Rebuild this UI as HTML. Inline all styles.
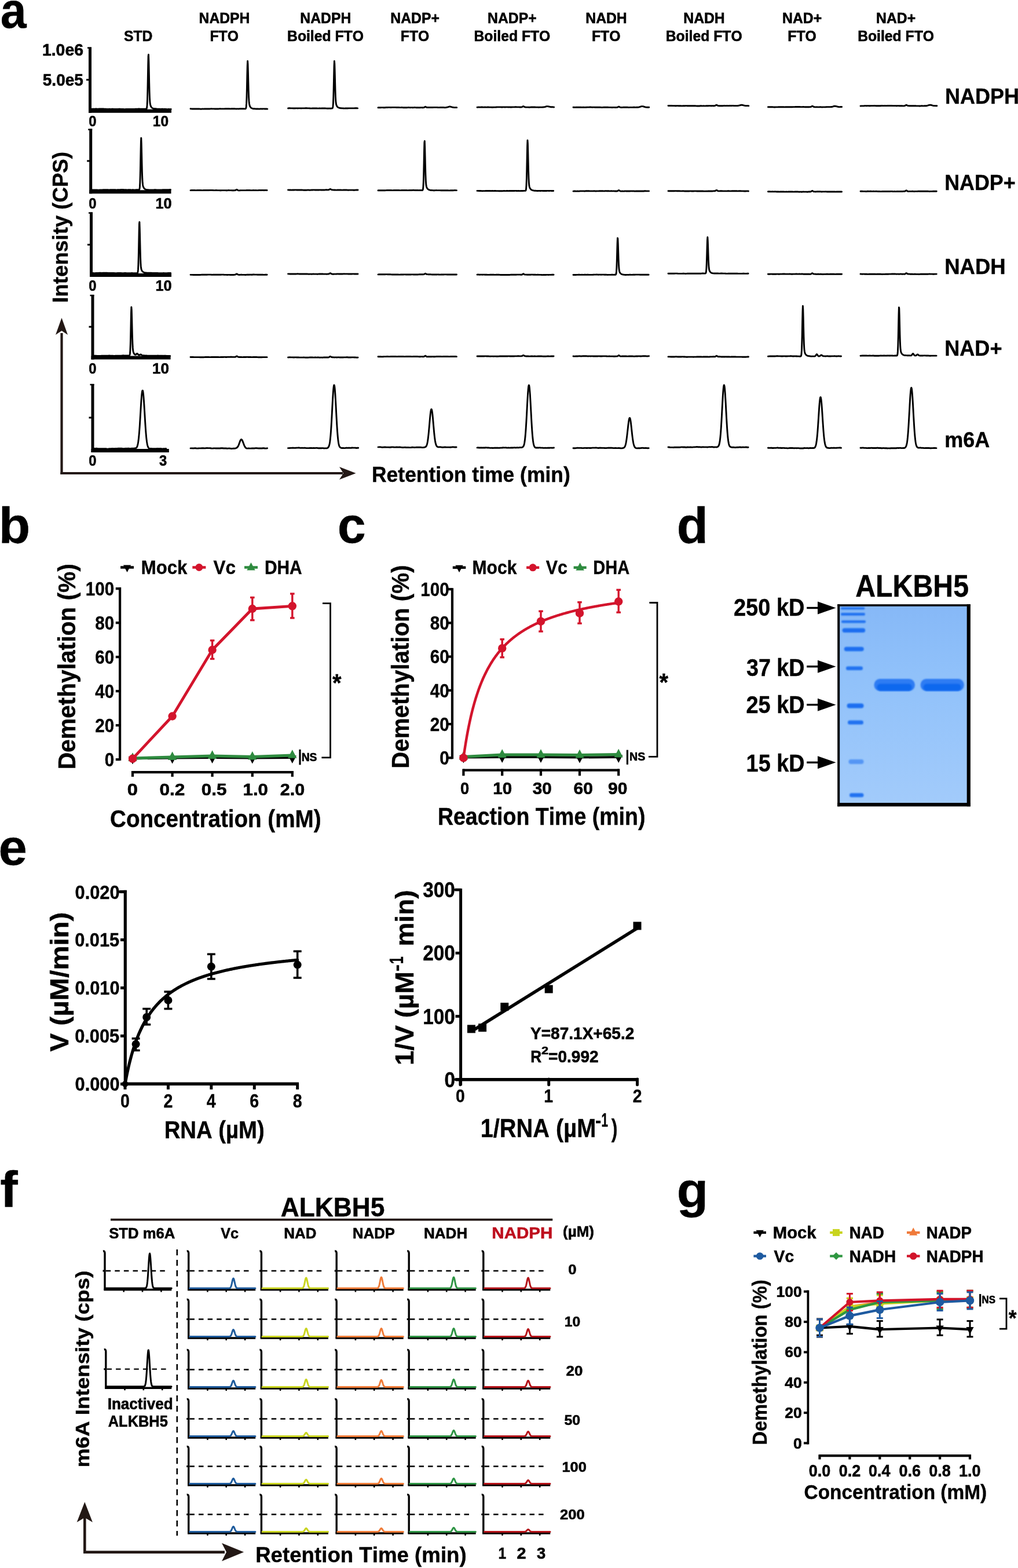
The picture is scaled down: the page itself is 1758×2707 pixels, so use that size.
<!DOCTYPE html>
<html><head><meta charset="utf-8"><style>
html,body{margin:0;padding:0;background:#fff;overflow:hidden;}
svg{display:block;}
text{font-family:"Liberation Sans",Arial,sans-serif;font-weight:bold;font-kerning:none;}
</style></head><body>
<svg width="1758" height="2707" viewBox="0 0 1758 2707">
<rect width="1758" height="2707" fill="#fff"/>
<text x="0.84" y="47.60" font-size="88" textLength="44.85" lengthAdjust="spacingAndGlyphs" fill="#000" stroke="#000" stroke-width="0.4">a</text>
<text x="213.93" y="70.50" font-size="26.6" textLength="49.48" lengthAdjust="spacingAndGlyphs" fill="#000" stroke="#000" stroke-width="0.6">STD</text>
<text x="343.53" y="40.00" font-size="26.6" textLength="87.96" lengthAdjust="spacingAndGlyphs" fill="#000" stroke="#000" stroke-width="0.6">NADPH</text>
<text x="362.46" y="70.50" font-size="26.6" textLength="49.46" lengthAdjust="spacingAndGlyphs" fill="#000" stroke="#000" stroke-width="0.6">FTO</text>
<text x="518.33" y="40.00" font-size="26.6" textLength="87.96" lengthAdjust="spacingAndGlyphs" fill="#000" stroke="#000" stroke-width="0.6">NADPH</text>
<text x="496.03" y="70.50" font-size="26.6" textLength="131.93" lengthAdjust="spacingAndGlyphs" fill="#000" stroke="#000" stroke-width="0.6">Boiled FTO</text>
<text x="674.30" y="40.00" font-size="26.6" textLength="84.54" lengthAdjust="spacingAndGlyphs" fill="#000" stroke="#000" stroke-width="0.6">NADP+</text>
<text x="691.86" y="70.50" font-size="26.6" textLength="49.46" lengthAdjust="spacingAndGlyphs" fill="#000" stroke="#000" stroke-width="0.6">FTO</text>
<text x="842.10" y="40.00" font-size="26.6" textLength="84.54" lengthAdjust="spacingAndGlyphs" fill="#000" stroke="#000" stroke-width="0.6">NADP+</text>
<text x="818.43" y="70.50" font-size="26.6" textLength="131.93" lengthAdjust="spacingAndGlyphs" fill="#000" stroke="#000" stroke-width="0.6">Boiled FTO</text>
<text x="1011.28" y="40.00" font-size="26.6" textLength="71.46" lengthAdjust="spacingAndGlyphs" fill="#000" stroke="#000" stroke-width="0.6">NADH</text>
<text x="1021.96" y="70.50" font-size="26.6" textLength="49.46" lengthAdjust="spacingAndGlyphs" fill="#000" stroke="#000" stroke-width="0.6">FTO</text>
<text x="1180.28" y="40.00" font-size="26.6" textLength="71.46" lengthAdjust="spacingAndGlyphs" fill="#000" stroke="#000" stroke-width="0.6">NADH</text>
<text x="1149.73" y="70.50" font-size="26.6" textLength="131.93" lengthAdjust="spacingAndGlyphs" fill="#000" stroke="#000" stroke-width="0.6">Boiled FTO</text>
<text x="1351.05" y="40.00" font-size="26.6" textLength="68.04" lengthAdjust="spacingAndGlyphs" fill="#000" stroke="#000" stroke-width="0.6">NAD+</text>
<text x="1360.36" y="70.50" font-size="26.6" textLength="49.46" lengthAdjust="spacingAndGlyphs" fill="#000" stroke="#000" stroke-width="0.6">FTO</text>
<text x="1513.05" y="40.00" font-size="26.6" textLength="68.04" lengthAdjust="spacingAndGlyphs" fill="#000" stroke="#000" stroke-width="0.6">NAD+</text>
<text x="1481.13" y="70.50" font-size="26.6" textLength="131.93" lengthAdjust="spacingAndGlyphs" fill="#000" stroke="#000" stroke-width="0.6">Boiled FTO</text>
<text x="1631.89" y="179.00" font-size="37.6" textLength="128.04" lengthAdjust="spacingAndGlyphs" fill="#000" stroke="#000" stroke-width="0.4">NADPH</text>
<text x="1631.20" y="327.50" font-size="37.6" textLength="122.55" lengthAdjust="spacingAndGlyphs" fill="#000" stroke="#000" stroke-width="0.4">NADP+</text>
<text x="1631.16" y="472.70" font-size="37.6" textLength="105.50" lengthAdjust="spacingAndGlyphs" fill="#000" stroke="#000" stroke-width="0.4">NADH</text>
<text x="1631.19" y="614.00" font-size="37.6" textLength="99.28" lengthAdjust="spacingAndGlyphs" fill="#000" stroke="#000" stroke-width="0.4">NAD+</text>
<text x="1631.23" y="772.00" font-size="37.6" textLength="78.02" lengthAdjust="spacingAndGlyphs" fill="#000" stroke="#000" stroke-width="0.4">m6A</text>
<line x1="155.50" y1="81.60" x2="155.50" y2="194.80" stroke="#000" stroke-width="5.0" stroke-linecap="butt" />
<line x1="151.00" y1="82.60" x2="158.00" y2="82.60" stroke="#000" stroke-width="2.5" stroke-linecap="butt" />
<line x1="149.00" y1="137.80" x2="155.50" y2="137.80" stroke="#000" stroke-width="3" stroke-linecap="butt" />
<line x1="153.00" y1="191.80" x2="296.00" y2="191.80" stroke="#000" stroke-width="6.0" stroke-linecap="butt" />
<polyline points="157.50,188.36 159.00,188.22 160.50,188.07 162.00,188.09 163.50,188.14 165.00,188.06 166.50,188.03 168.00,188.15 169.50,188.18 171.00,188.05 172.50,188.00 174.00,188.06 175.50,188.04 177.00,187.95 178.50,188.02 180.00,188.20 181.50,188.26 183.00,188.25 184.50,188.36 186.00,188.47 187.50,188.40 189.00,188.29 190.50,188.33 192.00,188.37 193.50,188.29 195.00,188.28 196.50,188.41 198.00,188.48 199.50,188.40 201.00,188.36 202.50,188.43 204.00,188.37 205.50,188.23 207.00,188.23 208.50,188.36 210.00,188.38 211.50,188.37 213.00,188.50 214.50,188.64 216.00,188.60 217.50,188.52 219.00,188.56 220.50,188.57 222.00,188.45 223.50,188.38 225.00,188.48 226.50,188.53 228.00,188.44 229.50,188.42 231.00,188.48 232.50,188.41 232.90,188.36 233.30,188.30 233.70,188.25 234.10,188.20 234.50,188.17 234.90,188.15 235.30,188.14 235.70,188.14 236.10,188.15 236.50,188.16 236.90,188.17 237.30,188.16 237.70,188.15 238.10,188.13 238.50,188.10 238.90,188.06 239.30,188.04 239.70,188.02 240.10,188.01 240.50,188.02 240.90,188.04 241.30,188.08 241.70,188.12 242.10,188.17 242.50,188.20 242.90,188.23 243.30,188.25 243.70,188.25 244.10,188.24 244.50,188.22 244.90,188.20 245.30,188.18 245.70,188.17 246.10,188.17 246.50,188.18 246.90,188.20 247.30,188.23 247.70,188.25 248.10,188.27 248.50,188.28 248.90,188.28 249.30,188.26 249.70,188.23 250.10,188.19 250.50,188.15 250.90,188.11 251.30,188.09 251.70,188.07 252.10,188.07 252.50,188.05 252.90,187.91 253.30,187.37 253.70,185.69 254.10,181.44 254.50,172.55 254.90,157.28 255.30,136.17 255.70,113.61 256.10,97.07 256.50,94.29 256.90,105.94 257.30,124.06 257.70,143.18 258.10,158.89 258.50,169.55 258.90,175.85 259.30,179.32 259.70,181.30 260.10,182.57 260.50,183.50 260.90,184.24 261.30,184.84 261.70,185.33 262.10,185.74 262.50,186.09 262.90,186.38 263.30,186.64 263.70,186.87 264.10,187.07 264.50,187.24 264.90,187.40 265.30,187.52 265.70,187.61 266.10,187.68 266.50,187.72 266.90,187.75 267.30,187.76 267.70,187.76 268.10,187.76 268.50,187.78 268.90,187.80 269.30,187.84 269.70,187.88 270.10,187.93 270.50,187.99 270.90,188.04 271.30,188.08 271.70,188.10 272.10,188.12 272.50,188.12 272.90,188.11 273.30,188.11 273.70,188.10 274.10,188.11 274.50,188.12 274.90,188.15 275.30,188.19 275.70,188.23 276.10,188.27 276.50,188.31 276.90,188.34 277.30,188.35 277.70,188.35 278.10,188.33 278.50,188.31 278.90,188.28 279.30,188.25 279.70,188.23 280.10,188.22 280.50,188.22 280.90,188.24 281.30,188.26 281.70,188.30 283.20,188.37 284.70,188.32 286.20,188.35 287.70,188.53 289.20,188.63 290.70,188.57 292.20,188.56 293.70,188.63 295.20,188.56" fill="none" stroke="#000" stroke-width="2.9" stroke-linejoin="round" stroke-linecap="round" />
<text x="153.26" y="218.20" font-size="25.5" textLength="13.21" lengthAdjust="spacingAndGlyphs" fill="#000" stroke="#000" stroke-width="0.6">0</text>
<text x="263.86" y="218.20" font-size="25.5" textLength="27.25" lengthAdjust="spacingAndGlyphs" fill="#000" stroke="#000" stroke-width="0.6">10</text>
<line x1="156.70" y1="222.60" x2="156.70" y2="334.30" stroke="#000" stroke-width="5.0" stroke-linecap="butt" />
<line x1="152.20" y1="223.60" x2="159.20" y2="223.60" stroke="#000" stroke-width="2.5" stroke-linecap="butt" />
<line x1="150.20" y1="277.90" x2="156.70" y2="277.90" stroke="#000" stroke-width="3" stroke-linecap="butt" />
<line x1="154.20" y1="331.30" x2="295.50" y2="331.30" stroke="#000" stroke-width="6.0" stroke-linecap="butt" />
<polyline points="158.70,327.93 160.20,327.88 161.70,327.95 163.20,327.97 164.70,327.90 166.20,327.87 167.70,327.99 169.20,328.12 170.70,328.11 172.20,328.04 173.70,328.05 175.20,328.06 176.70,327.93 178.20,327.73 179.70,327.66 181.20,327.72 182.70,327.73 184.20,327.67 185.70,327.68 187.20,327.80 188.70,327.84 190.20,327.74 191.70,327.65 193.20,327.70 194.70,327.75 196.20,327.70 197.70,327.66 199.20,327.75 200.70,327.85 202.20,327.80 203.70,327.66 205.20,327.60 206.70,327.60 208.20,327.52 209.70,327.40 211.20,327.40 212.70,327.54 214.20,327.65 215.70,327.65 217.20,327.66 218.70,327.77 220.20,327.83 220.60,327.82 221.00,327.80 221.40,327.77 221.80,327.74 222.20,327.71 222.60,327.69 223.00,327.67 223.40,327.67 223.80,327.68 224.20,327.70 224.60,327.72 225.00,327.76 225.40,327.79 225.80,327.82 226.20,327.84 226.60,327.86 227.00,327.86 227.40,327.85 227.80,327.84 228.20,327.83 228.60,327.81 229.00,327.80 229.40,327.80 229.80,327.81 230.20,327.82 230.60,327.84 231.00,327.87 231.40,327.90 231.80,327.92 232.20,327.94 232.60,327.94 233.00,327.93 233.40,327.91 233.80,327.88 234.20,327.84 234.60,327.79 235.00,327.75 235.40,327.72 235.80,327.69 236.20,327.68 236.60,327.67 237.00,327.68 237.40,327.70 237.80,327.72 238.20,327.74 238.60,327.76 239.00,327.77 239.40,327.77 239.80,327.74 240.20,327.63 240.60,327.22 241.00,325.96 241.40,322.70 241.80,315.59 242.20,302.79 242.60,284.08 243.00,262.62 243.40,244.98 243.80,238.13 244.20,247.01 244.60,263.06 245.00,281.35 245.40,297.21 245.80,308.44 246.20,315.24 246.60,319.00 247.00,321.09 247.40,322.37 247.80,323.29 248.20,324.02 248.60,324.63 249.00,325.15 249.40,325.60 249.80,325.99 250.20,326.32 250.60,326.61 251.00,326.85 251.40,327.04 251.80,327.20 252.20,327.32 252.60,327.42 253.00,327.48 253.40,327.53 253.80,327.57 254.20,327.60 254.60,327.63 255.00,327.66 255.40,327.70 255.80,327.74 256.20,327.79 256.60,327.85 257.00,327.90 257.40,327.94 257.80,327.97 258.20,327.99 258.60,328.00 259.00,328.00 259.40,327.98 259.80,327.96 260.20,327.94 260.60,327.92 261.00,327.90 261.40,327.89 261.80,327.89 262.20,327.89 262.60,327.90 263.00,327.92 263.40,327.93 263.80,327.94 264.20,327.93 264.60,327.92 265.00,327.90 265.40,327.86 265.80,327.82 266.20,327.78 266.60,327.74 267.00,327.71 267.40,327.69 267.80,327.68 268.20,327.68 268.60,327.70 269.00,327.72 270.50,327.85 272.00,327.88 273.50,327.86 275.00,327.93 276.50,328.05 278.00,328.02 279.50,327.86 281.00,327.76 282.50,327.77 284.00,327.74 285.50,327.63 287.00,327.58 288.50,327.66 290.00,327.73 291.50,327.65 293.00,327.54 294.50,327.55" fill="none" stroke="#000" stroke-width="2.9" stroke-linejoin="round" stroke-linecap="round" />
<text x="153.26" y="360.00" font-size="25.5" textLength="13.21" lengthAdjust="spacingAndGlyphs" fill="#000" stroke="#000" stroke-width="0.6">0</text>
<text x="268.41" y="360.00" font-size="25.5" textLength="28.13" lengthAdjust="spacingAndGlyphs" fill="#000" stroke="#000" stroke-width="0.6">10</text>
<line x1="157.50" y1="366.60" x2="157.50" y2="478.00" stroke="#000" stroke-width="5.0" stroke-linecap="butt" />
<line x1="153.00" y1="367.60" x2="160.00" y2="367.60" stroke="#000" stroke-width="2.5" stroke-linecap="butt" />
<line x1="151.00" y1="422.40" x2="157.50" y2="422.40" stroke="#000" stroke-width="3" stroke-linecap="butt" />
<line x1="155.00" y1="475.00" x2="296.00" y2="475.00" stroke="#000" stroke-width="6.0" stroke-linecap="butt" />
<polyline points="159.50,471.58 161.00,471.53 162.50,471.60 164.00,471.60 165.50,471.52 167.00,471.51 168.50,471.53 170.00,471.41 171.50,471.22 173.00,471.18 174.50,471.31 176.00,471.38 177.50,471.31 179.00,471.27 180.50,471.31 182.00,471.28 183.50,471.19 185.00,471.21 186.50,471.40 188.00,471.53 189.50,471.47 191.00,471.39 192.50,471.42 194.00,471.46 195.50,471.43 197.00,471.45 198.50,471.59 200.00,471.69 201.50,471.60 203.00,471.45 204.50,471.44 206.00,471.53 207.50,471.54 209.00,471.52 210.50,471.59 212.00,471.67 213.50,471.58 215.00,471.43 216.50,471.43 216.90,471.47 217.30,471.51 217.70,471.55 218.10,471.59 218.50,471.63 218.90,471.65 219.30,471.66 219.70,471.66 220.10,471.66 220.50,471.65 220.90,471.64 221.30,471.63 221.70,471.63 222.10,471.64 222.50,471.65 222.90,471.67 223.30,471.69 223.70,471.70 224.10,471.71 224.50,471.71 224.90,471.70 225.30,471.68 225.70,471.65 226.10,471.61 226.50,471.58 226.90,471.55 227.30,471.53 227.70,471.52 228.10,471.53 228.50,471.55 228.90,471.59 229.30,471.63 229.70,471.68 230.10,471.73 230.50,471.77 230.90,471.79 231.30,471.81 231.70,471.81 232.10,471.79 232.50,471.77 232.90,471.74 233.30,471.70 233.70,471.68 234.10,471.65 234.50,471.64 234.90,471.63 235.30,471.63 235.70,471.63 236.10,471.63 236.50,471.62 236.90,471.58 237.30,471.41 237.70,470.85 238.10,469.22 238.50,465.17 238.90,456.77 239.30,442.41 239.70,422.57 240.10,401.39 240.50,385.89 240.90,383.31 241.30,394.28 241.70,411.33 242.10,429.31 242.50,444.06 242.90,454.06 243.30,459.94 243.70,463.16 244.10,464.96 244.50,466.10 244.90,466.93 245.30,467.59 245.70,468.13 246.10,468.58 246.50,468.97 246.90,469.30 247.30,469.59 247.70,469.84 248.10,470.06 248.50,470.26 248.90,470.42 249.30,470.55 249.70,470.66 250.10,470.75 250.50,470.81 250.90,470.86 251.30,470.90 251.70,470.94 252.10,470.97 252.50,471.01 252.90,471.05 253.30,471.10 253.70,471.15 254.10,471.20 254.50,471.25 254.90,471.28 255.30,471.31 255.70,471.31 256.10,471.30 256.50,471.28 256.90,471.25 257.30,471.21 257.70,471.17 258.10,471.13 258.50,471.10 258.90,471.09 259.30,471.09 259.70,471.11 260.10,471.14 260.50,471.17 260.90,471.21 261.30,471.25 261.70,471.29 262.10,471.32 262.50,471.34 262.90,471.35 263.30,471.35 263.70,471.35 264.10,471.35 264.50,471.36 264.90,471.37 265.30,471.39 265.70,471.41 266.10,471.44 267.60,471.54 269.10,471.49 270.60,471.39 272.10,471.44 273.60,471.64 275.10,471.74 276.60,471.70 278.10,471.68 279.60,471.72 281.10,471.68 282.60,471.57 284.10,471.58 285.60,471.73 287.10,471.80 288.60,471.69 290.10,471.57 291.60,471.56 293.10,471.56 294.60,471.50" fill="none" stroke="#000" stroke-width="2.9" stroke-linejoin="round" stroke-linecap="round" />
<text x="153.26" y="501.70" font-size="25.5" textLength="13.21" lengthAdjust="spacingAndGlyphs" fill="#000" stroke="#000" stroke-width="0.6">0</text>
<text x="268.41" y="501.70" font-size="25.5" textLength="28.13" lengthAdjust="spacingAndGlyphs" fill="#000" stroke="#000" stroke-width="0.6">10</text>
<line x1="160.00" y1="509.00" x2="160.00" y2="620.60" stroke="#000" stroke-width="5.0" stroke-linecap="butt" />
<line x1="155.50" y1="510.00" x2="162.50" y2="510.00" stroke="#000" stroke-width="2.5" stroke-linecap="butt" />
<line x1="153.50" y1="564.20" x2="160.00" y2="564.20" stroke="#000" stroke-width="3" stroke-linecap="butt" />
<line x1="157.50" y1="617.60" x2="294.60" y2="617.60" stroke="#000" stroke-width="6.0" stroke-linecap="butt" />
<polyline points="162.00,614.31 163.50,614.18 165.00,614.16 166.50,614.29 168.00,614.36 169.50,614.35 171.00,614.39 172.50,614.49 174.00,614.44 175.50,614.24 177.00,614.16 178.50,614.22 180.00,614.23 181.50,614.17 183.00,614.19 184.50,614.28 186.00,614.23 187.50,614.07 189.00,614.03 190.50,614.14 192.00,614.21 193.50,614.20 195.00,614.26 196.50,614.37 198.00,614.33 199.50,614.16 201.00,614.10 202.50,614.17 202.90,614.19 203.30,614.20 203.70,614.20 204.10,614.19 204.50,614.17 204.90,614.15 205.30,614.13 205.70,614.11 206.10,614.10 206.50,614.10 206.90,614.11 207.30,614.13 207.70,614.14 208.10,614.16 208.50,614.16 208.90,614.16 209.30,614.14 209.70,614.10 210.10,614.06 210.50,614.00 210.90,613.94 211.30,613.89 211.70,613.84 212.10,613.81 212.50,613.79 212.90,613.78 213.30,613.79 213.70,613.82 214.10,613.84 214.50,613.87 214.90,613.89 215.30,613.90 215.70,613.91 216.10,613.91 216.50,613.90 216.90,613.88 217.30,613.88 217.70,613.87 218.10,613.88 218.50,613.89 218.90,613.92 219.30,613.95 219.70,613.98 220.10,614.01 220.50,614.03 220.90,614.05 221.30,614.04 221.70,614.02 222.10,613.99 222.50,613.95 222.90,613.90 223.30,613.79 223.70,613.49 224.10,612.57 224.50,610.13 224.90,604.55 225.30,594.00 225.70,577.69 226.10,557.72 226.50,539.58 226.90,530.13 227.30,535.18 227.70,548.90 228.10,565.98 228.50,581.70 228.90,593.36 229.30,600.66 229.70,604.77 230.10,607.04 230.50,608.42 230.90,609.38 231.30,610.14 231.70,610.77 232.10,611.30 232.50,611.73 232.90,612.05 233.30,612.28 233.70,612.39 234.10,612.37 234.50,612.22 234.90,611.95 235.30,611.58 235.70,611.17 236.10,610.80 236.50,610.53 236.90,610.44 237.30,610.57 237.70,610.89 238.10,611.35 238.50,611.87 238.90,612.37 239.30,612.77 239.70,613.05 240.10,613.17 240.50,613.13 240.90,612.97 241.30,612.72 241.70,612.43 242.10,612.15 242.50,611.95 242.90,611.88 243.30,611.94 243.70,612.14 244.10,612.43 244.50,612.77 244.90,613.09 245.30,613.36 245.70,613.56 246.10,613.69 246.50,613.75 246.90,613.78 247.30,613.77 247.70,613.77 248.10,613.76 248.50,613.77 248.90,613.79 249.30,613.82 249.70,613.86 250.10,613.91 250.50,613.95 250.90,613.99 251.30,614.02 251.70,614.04 252.10,614.05 252.50,614.05 252.90,614.05 253.30,614.06 253.70,614.06 254.10,614.08 254.50,614.11 254.90,614.14 255.30,614.18 255.70,614.21 256.10,614.25 256.50,614.27 256.90,614.28 257.30,614.28 257.70,614.26 258.10,614.23 258.50,614.19 258.90,614.15 259.30,614.12 259.70,614.09 260.10,614.08 260.50,614.08 260.90,614.09 261.30,614.12 261.70,614.15 262.10,614.19 262.50,614.22 262.90,614.25 263.30,614.26 263.70,614.27 264.10,614.27 264.50,614.26 264.90,614.24 265.30,614.23 265.70,614.22 266.10,614.22 266.50,614.23 266.90,614.24 267.30,614.26 267.70,614.28 268.10,614.30 269.60,614.26 271.10,614.08 272.60,613.99 274.10,614.09 275.60,614.18 277.10,614.16 278.60,614.20 280.10,614.31 281.60,614.32 283.10,614.19 284.60,614.16 286.10,614.29 287.60,614.40 289.10,614.39 290.60,614.40 292.10,614.47 293.60,614.42" fill="none" stroke="#000" stroke-width="2.9" stroke-linejoin="round" stroke-linecap="round" />
<text x="153.26" y="644.60" font-size="25.5" textLength="13.21" lengthAdjust="spacingAndGlyphs" fill="#000" stroke="#000" stroke-width="0.6">0</text>
<text x="263.06" y="644.60" font-size="25.5" textLength="29.01" lengthAdjust="spacingAndGlyphs" fill="#000" stroke="#000" stroke-width="0.6">10</text>
<line x1="160.00" y1="663.00" x2="160.00" y2="781.00" stroke="#000" stroke-width="5.0" stroke-linecap="butt" />
<line x1="155.50" y1="664.00" x2="162.50" y2="664.00" stroke="#000" stroke-width="2.5" stroke-linecap="butt" />
<line x1="153.50" y1="721.00" x2="160.00" y2="721.00" stroke="#000" stroke-width="3" stroke-linecap="butt" />
<line x1="157.50" y1="778.00" x2="291.80" y2="778.00" stroke="#000" stroke-width="6.0" stroke-linecap="butt" />
<polyline points="162.00,774.50 163.50,774.54 165.00,774.39 166.50,774.30 168.00,774.49 169.50,774.66 171.00,774.62 172.50,774.64 174.00,774.80 175.50,774.77 177.00,774.58 178.50,774.62 180.00,774.81 181.50,774.82 183.00,774.80 184.50,774.99 186.00,775.09 187.50,774.90 189.00,774.72 190.50,774.73 192.00,774.64 193.50,774.42 195.00,774.43 196.50,774.59 198.00,774.55 199.50,774.39 201.00,774.41 202.50,774.41 204.00,774.20 205.50,774.07 207.00,774.21 208.50,774.32 210.00,774.28 211.50,774.38 213.00,774.58 214.50,774.53 216.00,774.33 217.50,774.32 219.00,774.38 220.50,774.26 222.00,774.20 222.40,774.23 222.80,774.28 223.20,774.34 223.60,774.40 224.00,774.45 224.40,774.48 224.80,774.49 225.20,774.48 225.60,774.44 226.00,774.40 226.40,774.35 226.80,774.31 227.20,774.28 227.60,774.27 228.00,774.27 228.40,774.28 228.80,774.30 229.20,774.32 229.60,774.32 230.00,774.31 230.40,774.28 230.80,774.23 231.20,774.17 231.60,774.09 232.00,774.02 232.40,773.96 232.80,773.90 233.20,773.86 233.60,773.81 234.00,773.76 234.40,773.67 234.80,773.54 235.20,773.31 235.60,772.98 236.00,772.51 236.40,771.86 236.80,771.00 237.20,769.90 237.60,768.51 238.00,766.80 238.40,764.71 238.80,762.21 239.20,759.23 239.60,755.75 240.00,751.72 240.40,747.13 240.80,741.98 241.20,736.31 241.60,730.18 242.00,723.68 242.40,716.94 242.80,710.11 243.20,703.38 243.60,696.92 244.00,690.94 244.40,685.63 244.80,681.16 245.20,677.67 245.60,675.30 246.00,674.11 246.40,674.14 246.80,675.40 247.20,677.82 247.60,681.33 248.00,685.81 248.40,691.11 248.80,697.06 249.20,703.49 249.60,710.20 250.00,717.03 250.40,723.79 250.80,730.33 251.20,736.53 251.60,742.29 252.00,747.52 252.40,752.19 252.80,756.28 253.20,759.81 253.60,762.80 254.00,765.30 254.40,767.36 254.80,769.04 255.20,770.40 255.60,771.48 256.00,772.35 256.40,773.02 256.80,773.53 257.20,773.91 257.60,774.18 258.00,774.35 258.40,774.44 258.80,774.48 259.20,774.49 259.60,774.47 260.00,774.45 260.40,774.44 260.80,774.44 261.20,774.47 261.60,774.51 262.00,774.56 262.40,774.61 262.80,774.66 263.20,774.69 263.60,774.70 264.00,774.69 264.40,774.67 264.80,774.64 265.20,774.61 265.60,774.59 266.00,774.58 266.40,774.59 266.80,774.62 267.20,774.66 267.60,774.70 268.00,774.73 268.40,774.76 268.80,774.76 269.20,774.74 269.60,774.69 270.00,774.64 270.40,774.57 270.80,774.51 271.20,774.46 271.60,774.42 273.10,774.48 274.60,774.58 276.10,774.52 277.60,774.55 279.10,774.78 280.60,774.84 282.10,774.66 283.60,774.58 285.10,774.60 286.60,774.44" fill="none" stroke="#000" stroke-width="2.9" stroke-linejoin="round" stroke-linecap="round" />
<text x="153.26" y="804.00" font-size="25.5" textLength="13.21" lengthAdjust="spacingAndGlyphs" fill="#000" stroke="#000" stroke-width="0.6">0</text>
<text x="274.96" y="804.00" font-size="25.5" textLength="13.20" lengthAdjust="spacingAndGlyphs" fill="#000" stroke="#000" stroke-width="0.6">3</text>
<text x="72.91" y="95.60" font-size="29.7" textLength="71.12" lengthAdjust="spacingAndGlyphs" fill="#000" stroke="#000" stroke-width="0.6">1.0e6</text>
<text x="73.84" y="148.40" font-size="29.7" textLength="69.94" lengthAdjust="spacingAndGlyphs" fill="#000" stroke="#000" stroke-width="0.6">5.0e5</text>
<text transform="translate(116.50,520.30) rotate(-90)" x="-2.45" y="0" font-size="36.8" textLength="260.78" lengthAdjust="spacingAndGlyphs" fill="#000" stroke="#000" stroke-width="0.4">Intensity (CPS)</text>
<line x1="106.50" y1="575.00" x2="106.50" y2="819.00" stroke="#231815" stroke-width="4.2" stroke-linecap="butt" />
<line x1="104.40" y1="817.00" x2="592.00" y2="817.00" stroke="#231815" stroke-width="4.2" stroke-linecap="butt" />
<path d="M106.5,548.8 L117,578 L106.5,571 L96,578 Z" fill="#231815" stroke="none" stroke-width="0" />
<path d="M614.6,817 L586,806 L593,817 L586,828 Z" fill="#231815" stroke="none" stroke-width="0" />
<text x="642.03" y="832.10" font-size="36.5" textLength="342.74" lengthAdjust="spacingAndGlyphs" fill="#000" stroke="#000" stroke-width="0.4">Retention time (min)</text>
<polyline points="329.00,187.79 330.50,187.84 332.00,187.95 333.50,187.94 335.00,187.96 336.50,188.05 338.00,188.02 339.50,187.94 341.00,188.00 342.50,188.05 344.00,188.03 345.50,188.10 347.00,188.21 348.50,188.14 350.00,188.07 351.50,188.08 353.00,188.00 354.50,187.90 356.00,187.96 357.50,188.01 359.00,187.95 360.50,187.95 362.00,187.99 363.50,187.89 365.00,187.80 366.50,187.87 368.00,187.89 369.50,187.87 371.00,187.98 372.50,188.06 374.00,187.97 375.50,187.93 377.00,187.96 378.50,187.87 380.00,187.81 381.50,187.90 383.00,187.91 384.50,187.84 386.00,187.85 387.50,187.83 389.00,187.69 390.50,187.63 392.00,187.70 393.50,187.68 395.00,187.68 396.50,187.81 398.00,187.84 399.50,187.76 401.00,187.78 402.50,187.82 404.00,187.75 404.40,187.74 404.80,187.74 405.20,187.76 405.60,187.78 406.00,187.82 406.40,187.86 406.80,187.90 407.20,187.92 407.60,187.94 408.00,187.94 408.40,187.93 408.80,187.91 409.20,187.89 409.60,187.88 410.00,187.88 410.40,187.88 410.80,187.90 411.20,187.91 411.60,187.93 412.00,187.93 412.40,187.92 412.80,187.90 413.20,187.87 413.60,187.83 414.00,187.79 414.40,187.75 414.80,187.73 415.20,187.72 415.60,187.73 416.00,187.74 416.40,187.76 416.80,187.79 417.20,187.80 417.60,187.81 418.00,187.80 418.40,187.79 418.80,187.77 419.20,187.76 419.60,187.76 420.00,187.77 420.40,187.78 420.80,187.81 421.20,187.85 421.60,187.88 422.00,187.90 422.40,187.91 422.80,187.91 423.20,187.89 423.60,187.85 424.00,187.76 424.40,187.46 424.80,186.57 425.20,184.15 425.60,178.66 426.00,168.28 426.40,152.23 426.80,132.57 427.20,114.71 427.60,105.39 428.00,110.32 428.40,123.80 428.80,140.57 429.20,156.02 429.60,167.49 430.00,174.69 430.40,178.76 430.80,181.02 431.20,182.41 431.60,183.38 432.00,184.15 432.40,184.78 432.80,185.30 433.20,185.73 433.60,186.08 434.00,186.38 434.40,186.62 434.80,186.84 435.20,187.03 435.60,187.20 436.00,187.35 436.40,187.48 436.80,187.59 437.20,187.68 437.60,187.74 438.00,187.78 438.40,187.80 438.80,187.81 439.20,187.81 439.60,187.81 440.00,187.82 440.40,187.84 440.80,187.87 441.20,187.90 441.60,187.94 442.00,187.97 442.40,188.00 442.80,188.01 443.20,188.01 443.60,188.00 444.00,187.99 444.40,187.98 444.80,187.97 445.20,187.98 445.60,188.00 446.00,188.02 446.40,188.05 446.80,188.08 447.20,188.09 447.60,188.09 448.00,188.08 448.40,188.05 448.80,188.02 449.20,187.98 449.60,187.95 450.00,187.92 450.40,187.91 450.80,187.91 451.20,187.92 451.60,187.93 452.00,187.94 452.40,187.95 452.80,187.94 454.30,187.87 455.80,187.90 457.30,188.04 458.80,188.05 460.30,188.02 461.80,188.08" fill="none" stroke="#000" stroke-width="2.9" stroke-linejoin="round" stroke-linecap="round" />
<polyline points="497.50,186.94 499.00,186.82 500.50,186.80 502.00,186.88 503.50,186.90 505.00,186.88 506.50,186.95 508.00,187.04 509.50,187.00 511.00,186.91 512.50,186.92 514.00,186.95 515.50,186.89 517.00,186.85 518.50,186.92 520.00,186.98 521.50,186.91 523.00,186.86 524.50,186.88 526.00,186.86 527.50,186.75 529.00,186.73 530.50,186.82 532.00,186.87 533.50,186.87 535.00,186.95 536.50,187.08 538.00,187.08 539.50,187.01 541.00,187.02 542.50,187.07 544.00,187.02 545.50,186.97 547.00,187.04 548.50,187.12 550.00,187.08 551.50,187.03 553.00,187.07 553.40,187.09 553.80,187.09 554.20,187.08 554.60,187.07 555.00,187.05 555.40,187.02 555.80,186.99 556.20,186.96 556.60,186.94 557.00,186.93 557.40,186.93 557.80,186.94 558.20,186.96 558.60,186.99 559.00,187.02 559.40,187.04 559.80,187.06 560.20,187.07 560.60,187.07 561.00,187.07 561.40,187.07 561.80,187.07 562.20,187.07 562.60,187.08 563.00,187.10 563.40,187.12 563.80,187.16 564.20,187.19 564.60,187.23 565.00,187.26 565.40,187.28 565.80,187.29 566.20,187.28 566.60,187.27 567.00,187.25 567.40,187.23 567.80,187.20 568.20,187.19 568.60,187.17 569.00,187.17 569.40,187.18 569.80,187.18 570.20,187.19 570.60,187.20 571.00,187.20 571.40,187.20 571.80,187.18 572.20,187.16 572.60,187.13 573.00,187.09 573.40,187.05 573.80,186.96 574.20,186.69 574.60,185.82 575.00,183.45 575.40,178.03 575.80,167.76 576.20,151.89 576.60,132.44 577.00,114.78 577.40,105.55 577.80,110.43 578.20,123.75 578.60,140.34 579.00,155.62 579.40,166.94 579.80,174.04 580.20,178.04 580.60,180.25 581.00,181.58 581.40,182.51 581.80,183.24 582.20,183.84 582.60,184.34 583.00,184.75 583.40,185.08 583.80,185.35 584.20,185.58 584.60,185.76 585.00,185.91 585.40,186.04 585.80,186.16 586.20,186.27 586.60,186.37 587.00,186.47 587.40,186.56 587.80,186.64 588.20,186.70 588.60,186.75 589.00,186.79 589.40,186.81 589.80,186.83 590.20,186.84 590.60,186.85 591.00,186.86 591.40,186.88 591.80,186.91 592.20,186.95 592.60,186.99 593.00,187.03 593.40,187.06 593.80,187.09 594.20,187.11 594.60,187.12 595.00,187.11 595.40,187.10 595.80,187.07 596.20,187.05 596.60,187.03 597.00,187.01 597.40,187.00 597.80,187.00 598.20,187.00 598.60,187.01 599.00,187.02 599.40,187.02 599.80,187.01 600.20,187.00 600.60,186.98 601.00,186.95 601.40,186.91 601.80,186.88 602.20,186.85 602.60,186.83 604.10,186.84 605.60,186.91 607.10,186.88 608.60,186.83 610.10,186.87 611.60,186.90 613.10,186.81 614.60,186.74 616.10,186.80 617.60,186.85" fill="none" stroke="#000" stroke-width="2.9" stroke-linejoin="round" stroke-linecap="round" />
<polyline points="653.00,185.80 654.50,185.71 656.00,185.65 657.50,185.69 659.00,185.67 660.50,185.62 662.00,185.68 663.50,185.76 665.00,185.69 666.50,185.57 668.00,185.55 669.50,185.52 671.00,185.42 672.50,185.41 674.00,185.51 675.50,185.51 677.00,185.42 678.50,185.39 680.00,185.41 681.50,185.36 683.00,185.33 684.50,185.45 686.00,185.56 687.50,185.54 689.00,185.53 690.50,185.59 692.00,185.58 693.50,185.51 695.00,185.57 696.50,185.70 698.00,185.72 699.50,185.67 701.00,185.70 702.50,185.70 704.00,185.59 705.50,185.54 707.00,185.64 708.50,185.69 710.00,185.65 710.40,185.65 710.80,185.65 711.20,185.66 711.60,185.67 712.00,185.69 712.40,185.70 712.80,185.71 713.20,185.71 713.60,185.70 714.00,185.67 714.40,185.65 714.80,185.61 715.20,185.59 715.60,185.56 716.00,185.55 716.40,185.55 716.80,185.57 717.20,185.59 717.60,185.62 718.00,185.66 718.40,185.69 718.80,185.71 719.20,185.73 719.60,185.73 720.00,185.73 720.40,185.72 720.80,185.72 721.20,185.72 721.60,185.72 722.00,185.74 722.40,185.75 722.80,185.78 723.20,185.80 723.60,185.82 724.00,185.83 724.40,185.82 724.80,185.81 725.20,185.78 725.60,185.75 726.00,185.72 726.40,185.69 726.80,185.66 727.20,185.65 727.60,185.65 728.00,185.66 728.40,185.68 728.80,185.70 729.20,185.72 729.60,185.74 730.00,185.75 730.40,185.75 730.80,185.73 731.20,185.70 731.60,185.65 732.00,185.56 732.40,185.42 732.80,185.21 733.20,184.95 733.60,184.66 734.00,184.42 734.40,184.27 734.80,184.28 735.20,184.43 735.60,184.68 736.00,184.96 736.40,185.19 736.80,185.35 737.20,185.45 737.60,185.48 738.00,185.49 738.40,185.48 738.80,185.48 739.20,185.48 739.60,185.49 740.00,185.50 740.40,185.51 740.80,185.52 741.20,185.52 741.60,185.51 742.00,185.49 742.40,185.47 742.80,185.46 743.20,185.45 743.60,185.44 744.00,185.45 744.40,185.47 744.80,185.49 745.20,185.51 745.60,185.53 746.00,185.54 746.40,185.54 746.80,185.53 747.20,185.51 747.60,185.47 748.00,185.44 748.40,185.40 748.80,185.37 749.20,185.35 749.60,185.34 750.00,185.34 750.40,185.35 750.80,185.37 751.20,185.39 751.60,185.40 752.00,185.41 752.40,185.42 752.80,185.41 753.20,185.41 753.60,185.40 754.00,185.40 754.40,185.40 754.80,185.41 755.20,185.44 755.60,185.47 756.00,185.51 756.40,185.54 756.80,185.57 757.20,185.60 757.60,185.61 758.00,185.61 758.40,185.59 758.80,185.57 759.20,185.54 759.60,185.52 760.00,185.50 760.40,185.49 760.80,185.49 761.20,185.50 761.60,185.51 762.00,185.53 762.40,185.55 762.80,185.56 763.20,185.57 763.60,185.56 764.00,185.55 764.40,185.54 764.80,185.53 765.20,185.53 765.60,185.53 766.00,185.54 766.40,185.57 766.80,185.60 767.20,185.63 767.60,185.66 768.00,185.69 768.40,185.69 768.80,185.69 769.20,185.66 769.60,185.62 770.00,185.57 770.40,185.51 770.80,185.43 771.20,185.36 771.60,185.28 772.00,185.20 772.40,185.11 772.80,185.02 773.20,184.92 773.60,184.81 774.00,184.69 774.40,184.56 774.80,184.43 775.20,184.30 775.60,184.19 776.00,184.10 776.40,184.04 776.80,184.02 777.20,184.03 777.60,184.08 778.00,184.17 778.40,184.28 778.80,184.40 779.20,184.54 779.60,184.67 780.00,184.79 780.40,184.91 780.80,185.01 781.20,185.09 781.60,185.17 782.00,185.24 782.40,185.31 782.80,185.37 783.20,185.43 783.60,185.48 784.00,185.53 784.40,185.57 784.80,185.60 785.20,185.61 785.60,185.61 786.00,185.61 786.40,185.59 786.80,185.58 787.20,185.57 787.60,185.57 788.00,185.58 788.40,185.61 788.80,185.64" fill="none" stroke="#000" stroke-width="2.9" stroke-linejoin="round" stroke-linecap="round" />
<polyline points="824.00,185.24 825.50,185.13 827.00,185.06 828.50,185.09 830.00,185.06 831.50,184.99 833.00,185.04 834.50,185.13 836.00,185.10 837.50,185.07 839.00,185.13 840.50,185.12 842.00,185.03 843.50,185.04 845.00,185.11 846.50,185.09 848.00,185.08 849.50,185.19 851.00,185.23 852.50,185.14 854.00,185.11 855.50,185.12 857.00,185.01 858.50,184.89 860.00,184.90 861.50,184.91 863.00,184.84 864.50,184.86 866.00,184.96 867.50,184.94 869.00,184.87 870.50,184.91 872.00,184.93 873.50,184.84 875.00,184.83 876.50,184.92 878.00,184.95 879.50,184.91 879.90,184.92 880.30,184.94 880.70,184.96 881.10,184.99 881.50,185.02 881.90,185.04 882.30,185.05 882.70,185.04 883.10,185.03 883.50,185.00 883.90,184.97 884.30,184.94 884.70,184.91 885.10,184.89 885.50,184.89 885.90,184.89 886.30,184.89 886.70,184.90 887.10,184.91 887.50,184.90 887.90,184.89 888.30,184.87 888.70,184.84 889.10,184.80 889.50,184.77 889.90,184.75 890.30,184.74 890.70,184.74 891.10,184.75 891.50,184.77 891.90,184.80 892.30,184.83 892.70,184.85 893.10,184.86 893.50,184.87 893.90,184.86 894.30,184.85 894.70,184.84 895.10,184.84 895.50,184.84 895.90,184.86 896.30,184.88 896.70,184.91 897.10,184.94 897.50,184.98 897.90,185.00 898.30,185.02 898.70,185.02 899.10,185.02 899.50,185.00 899.90,184.97 900.30,184.94 900.70,184.89 901.10,184.83 901.50,184.71 901.90,184.54 902.30,184.30 902.70,184.03 903.10,183.77 903.50,183.59 903.90,183.55 904.30,183.66 904.70,183.89 905.10,184.17 905.50,184.44 905.90,184.65 906.30,184.81 906.70,184.91 907.10,184.98 907.50,185.03 907.90,185.08 908.30,185.11 908.70,185.14 909.10,185.16 909.50,185.16 909.90,185.16 910.30,185.15 910.70,185.13 911.10,185.12 911.50,185.12 911.90,185.13 912.30,185.14 912.70,185.16 913.10,185.18 913.50,185.20 913.90,185.21 914.30,185.21 914.70,185.20 915.10,185.18 915.50,185.15 915.90,185.11 916.30,185.08 916.70,185.05 917.10,185.03 917.50,185.02 917.90,185.03 918.30,185.04 918.70,185.05 919.10,185.05 919.50,185.05 919.90,185.05 920.30,185.03 920.70,185.01 921.10,184.98 921.50,184.96 921.90,184.94 922.30,184.94 922.70,184.95 923.10,184.97 923.50,185.01 923.90,185.04 924.30,185.07 924.70,185.10 925.10,185.11 925.50,185.12 925.90,185.12 926.30,185.11 926.70,185.09 927.10,185.09 927.50,185.09 927.90,185.10 928.30,185.12 928.70,185.14 929.10,185.17 929.50,185.20 929.90,185.21 930.30,185.22 930.70,185.21 931.10,185.19 931.50,185.17 931.90,185.14 932.30,185.11 932.70,185.10 933.10,185.09 933.50,185.09 933.90,185.10 934.30,185.12 934.70,185.13 935.10,185.15 935.50,185.15 935.90,185.14 936.30,185.12 936.70,185.09 937.10,185.06 937.50,185.02 937.90,184.98 938.30,184.95 938.70,184.91 939.10,184.88 939.50,184.85 939.90,184.80 940.30,184.74 940.70,184.66 941.10,184.55 941.50,184.43 941.90,184.29 942.30,184.15 942.70,184.00 943.10,183.87 943.50,183.76 943.90,183.67 944.30,183.62 944.70,183.59 945.10,183.60 945.50,183.62 945.90,183.67 946.30,183.72 946.70,183.78 947.10,183.85 947.50,183.93 947.90,184.00 948.30,184.09 948.70,184.18 949.10,184.27 949.50,184.37 949.90,184.46 950.30,184.55 950.70,184.63 951.10,184.70 951.50,184.75 951.90,184.78 952.30,184.80 952.70,184.80 953.10,184.80 953.50,184.79 953.90,184.79 954.30,184.80 954.70,184.82 955.10,184.85 955.50,184.89 955.90,184.93 956.30,184.96 956.70,184.98" fill="none" stroke="#000" stroke-width="2.9" stroke-linejoin="round" stroke-linecap="round" />
<polyline points="990.00,185.25 991.50,185.28 993.00,185.35 994.50,185.29 996.00,185.20 997.50,185.22 999.00,185.25 1000.50,185.20 1002.00,185.17 1003.50,185.26 1005.00,185.35 1006.50,185.32 1008.00,185.29 1009.50,185.33 1011.00,185.32 1012.50,185.19 1014.00,185.10 1015.50,185.12 1017.00,185.11 1018.50,185.04 1020.00,185.06 1021.50,185.17 1023.00,185.20 1024.50,185.15 1026.00,185.16 1027.50,185.23 1029.00,185.21 1030.50,185.14 1032.00,185.19 1033.50,185.30 1035.00,185.31 1036.50,185.30 1038.00,185.38 1039.50,185.44 1041.00,185.38 1042.50,185.29 1044.00,185.29 1044.40,185.30 1044.80,185.30 1045.20,185.30 1045.60,185.29 1046.00,185.27 1046.40,185.25 1046.80,185.23 1047.20,185.20 1047.60,185.18 1048.00,185.17 1048.40,185.18 1048.80,185.19 1049.20,185.21 1049.60,185.24 1050.00,185.27 1050.40,185.30 1050.80,185.33 1051.20,185.34 1051.60,185.35 1052.00,185.35 1052.40,185.35 1052.80,185.34 1053.20,185.34 1053.60,185.33 1054.00,185.34 1054.40,185.35 1054.80,185.37 1055.20,185.40 1055.60,185.43 1056.00,185.45 1056.40,185.47 1056.80,185.48 1057.20,185.49 1057.60,185.48 1058.00,185.46 1058.40,185.44 1058.80,185.41 1059.20,185.39 1059.60,185.38 1060.00,185.38 1060.40,185.38 1060.80,185.40 1061.20,185.42 1061.60,185.44 1062.00,185.46 1062.40,185.47 1062.80,185.48 1063.20,185.47 1063.60,185.47 1064.00,185.45 1064.40,185.43 1064.80,185.41 1065.20,185.39 1065.60,185.35 1066.00,185.29 1066.40,185.17 1066.80,184.99 1067.20,184.75 1067.60,184.47 1068.00,184.23 1068.40,184.09 1068.80,184.09 1069.20,184.23 1069.60,184.48 1070.00,184.76 1070.40,185.00 1070.80,185.19 1071.20,185.30 1071.60,185.37 1072.00,185.40 1072.40,185.42 1072.80,185.44 1073.20,185.44 1073.60,185.45 1074.00,185.44 1074.40,185.43 1074.80,185.40 1075.20,185.37 1075.60,185.34 1076.00,185.30 1076.40,185.27 1076.80,185.24 1077.20,185.22 1077.60,185.22 1078.00,185.22 1078.40,185.24 1078.80,185.26 1079.20,185.27 1079.60,185.29 1080.00,185.30 1080.40,185.31 1080.80,185.30 1081.20,185.29 1081.60,185.28 1082.00,185.27 1082.40,185.26 1082.80,185.27 1083.20,185.28 1083.60,185.30 1084.00,185.32 1084.40,185.35 1084.80,185.38 1085.20,185.41 1085.60,185.43 1086.00,185.43 1086.40,185.43 1086.80,185.42 1087.20,185.40 1087.60,185.38 1088.00,185.35 1088.40,185.34 1088.80,185.33 1089.20,185.32 1089.60,185.33 1090.00,185.34 1090.40,185.35 1090.80,185.36 1091.20,185.37 1091.60,185.37 1092.00,185.36 1092.40,185.34 1092.80,185.32 1093.20,185.29 1093.60,185.26 1094.00,185.24 1094.40,185.23 1094.80,185.23 1095.20,185.24 1095.60,185.25 1096.00,185.28 1096.40,185.30 1096.80,185.32 1097.20,185.33 1097.60,185.34 1098.00,185.33 1098.40,185.32 1098.80,185.30 1099.20,185.27 1099.60,185.25 1100.00,185.23 1100.40,185.21 1100.80,185.20 1101.20,185.19 1101.60,185.19 1102.00,185.17 1102.40,185.15 1102.80,185.10 1103.20,185.04 1103.60,184.96 1104.00,184.86 1104.40,184.74 1104.80,184.60 1105.20,184.45 1105.60,184.30 1106.00,184.16 1106.40,184.02 1106.80,183.90 1107.20,183.80 1107.60,183.72 1108.00,183.66 1108.40,183.62 1108.80,183.60 1109.20,183.60 1109.60,183.62 1110.00,183.66 1110.40,183.72 1110.80,183.79 1111.20,183.89 1111.60,184.00 1112.00,184.13 1112.40,184.27 1112.80,184.41 1113.20,184.56 1113.60,184.69 1114.00,184.82 1114.40,184.93 1114.80,185.01 1115.20,185.08 1115.60,185.13 1116.00,185.16 1116.40,185.17 1116.80,185.18 1117.20,185.19 1117.60,185.20 1118.00,185.21 1118.40,185.23 1118.80,185.25 1119.20,185.27 1119.60,185.29 1120.00,185.31 1120.40,185.31 1120.80,185.31" fill="none" stroke="#000" stroke-width="2.9" stroke-linejoin="round" stroke-linecap="round" />
<polyline points="1154.00,182.52 1155.50,182.48 1157.00,182.52 1158.50,182.48 1160.00,182.45 1161.50,182.58 1163.00,182.66 1164.50,182.64 1166.00,182.70 1167.50,182.76 1169.00,182.67 1170.50,182.64 1172.00,182.72 1173.50,182.72 1175.00,182.70 1176.50,182.82 1178.00,182.86 1179.50,182.77 1181.00,182.75 1182.50,182.77 1184.00,182.66 1185.50,182.62 1187.00,182.71 1188.50,182.73 1190.00,182.71 1191.50,182.79 1193.00,182.82 1194.50,182.72 1196.00,182.71 1197.50,182.77 1199.00,182.74 1200.50,182.75 1202.00,182.90 1203.50,182.94 1205.00,182.89 1206.50,182.94 1208.00,182.94 1209.50,182.82 1211.00,182.80 1212.50,182.87 1212.90,182.88 1213.30,182.87 1213.70,182.85 1214.10,182.83 1214.50,182.82 1214.90,182.81 1215.30,182.81 1215.70,182.83 1216.10,182.85 1216.50,182.87 1216.90,182.90 1217.30,182.91 1217.70,182.91 1218.10,182.90 1218.50,182.88 1218.90,182.84 1219.30,182.80 1219.70,182.77 1220.10,182.74 1220.50,182.73 1220.90,182.72 1221.30,182.72 1221.70,182.73 1222.10,182.73 1222.50,182.73 1222.90,182.72 1223.30,182.70 1223.70,182.66 1224.10,182.63 1224.50,182.60 1224.90,182.58 1225.30,182.58 1225.70,182.58 1226.10,182.61 1226.50,182.64 1226.90,182.67 1227.30,182.69 1227.70,182.71 1228.10,182.72 1228.50,182.71 1228.90,182.70 1229.30,182.69 1229.70,182.67 1230.10,182.67 1230.50,182.67 1230.90,182.68 1231.30,182.70 1231.70,182.73 1232.10,182.75 1232.50,182.76 1232.90,182.75 1233.30,182.73 1233.70,182.70 1234.10,182.64 1234.50,182.56 1234.90,182.44 1235.30,182.27 1235.70,182.05 1236.10,181.77 1236.50,181.49 1236.90,181.27 1237.30,181.17 1237.70,181.22 1238.10,181.42 1238.50,181.69 1238.90,181.97 1239.30,182.22 1239.70,182.40 1240.10,182.51 1240.50,182.59 1240.90,182.64 1241.30,182.69 1241.70,182.73 1242.10,182.77 1242.50,182.79 1242.90,182.81 1243.30,182.81 1243.70,182.79 1244.10,182.77 1244.50,182.74 1244.90,182.72 1245.30,182.70 1245.70,182.70 1246.10,182.70 1246.50,182.71 1246.90,182.72 1247.30,182.72 1247.70,182.72 1248.10,182.71 1248.50,182.68 1248.90,182.64 1249.30,182.61 1249.70,182.57 1250.10,182.54 1250.50,182.53 1250.90,182.53 1251.30,182.55 1251.70,182.57 1252.10,182.59 1252.50,182.61 1252.90,182.62 1253.30,182.62 1253.70,182.61 1254.10,182.60 1254.50,182.58 1254.90,182.56 1255.30,182.55 1255.70,182.56 1256.10,182.57 1256.50,182.59 1256.90,182.62 1257.30,182.64 1257.70,182.64 1258.10,182.64 1258.50,182.62 1258.90,182.59 1259.30,182.55 1259.70,182.51 1260.10,182.48 1260.50,182.46 1260.90,182.45 1261.30,182.46 1261.70,182.47 1262.10,182.48 1262.50,182.49 1262.90,182.49 1263.30,182.49 1263.70,182.47 1264.10,182.45 1264.50,182.43 1264.90,182.41 1265.30,182.41 1265.70,182.42 1266.10,182.44 1266.50,182.48 1266.90,182.52 1267.30,182.56 1267.70,182.59 1268.10,182.61 1268.50,182.62 1268.90,182.61 1269.30,182.60 1269.70,182.59 1270.10,182.58 1270.50,182.58 1270.90,182.58 1271.30,182.60 1271.70,182.62 1272.10,182.64 1272.50,182.65 1272.90,182.64 1273.30,182.62 1273.70,182.58 1274.10,182.53 1274.50,182.46 1274.90,182.39 1275.30,182.31 1275.70,182.24 1276.10,182.17 1276.50,182.10 1276.90,182.02 1277.30,181.94 1277.70,181.85 1278.10,181.74 1278.50,181.63 1278.90,181.51 1279.30,181.40 1279.70,181.30 1280.10,181.23 1280.50,181.19 1280.90,181.18 1281.30,181.22 1281.70,181.28 1282.10,181.38 1282.50,181.48 1282.90,181.60 1283.30,181.71 1283.70,181.82 1284.10,181.92 1284.50,182.01 1284.90,182.10 1285.30,182.18 1285.70,182.26 1286.10,182.35 1286.50,182.42 1286.90,182.50 1287.30,182.56 1287.70,182.61 1288.10,182.63 1288.50,182.64 1288.90,182.64 1289.30,182.62 1289.70,182.60 1290.10,182.58 1290.50,182.57 1290.90,182.58 1291.30,182.60 1291.70,182.62 1292.10,182.65 1292.50,182.69 1292.90,182.71" fill="none" stroke="#000" stroke-width="2.9" stroke-linejoin="round" stroke-linecap="round" />
<polyline points="1326.40,184.76 1327.90,184.72 1329.40,184.75 1330.90,184.81 1332.40,184.78 1333.90,184.75 1335.40,184.83 1336.90,184.94 1338.40,184.94 1339.90,184.89 1341.40,184.91 1342.90,184.91 1344.40,184.79 1345.90,184.67 1347.40,184.69 1348.90,184.74 1350.40,184.71 1351.90,184.70 1353.40,184.78 1354.90,184.83 1356.40,184.75 1357.90,184.68 1359.40,184.72 1360.90,184.74 1362.40,184.69 1363.90,184.68 1365.40,184.76 1366.90,184.79 1368.40,184.69 1369.90,184.61 1371.40,184.60 1372.90,184.55 1374.40,184.43 1375.90,184.41 1377.40,184.51 1378.90,184.57 1379.30,184.57 1379.70,184.56 1380.10,184.55 1380.50,184.55 1380.90,184.55 1381.30,184.55 1381.70,184.57 1382.10,184.59 1382.50,184.61 1382.90,184.63 1383.30,184.65 1383.70,184.67 1384.10,184.67 1384.50,184.67 1384.90,184.65 1385.30,184.63 1385.70,184.61 1386.10,184.59 1386.50,184.57 1386.90,184.56 1387.30,184.56 1387.70,184.57 1388.10,184.59 1388.50,184.61 1388.90,184.64 1389.30,184.66 1389.70,184.69 1390.10,184.70 1390.50,184.71 1390.90,184.71 1391.30,184.70 1391.70,184.69 1392.10,184.68 1392.50,184.68 1392.90,184.68 1393.30,184.69 1393.70,184.71 1394.10,184.73 1394.50,184.76 1394.90,184.78 1395.30,184.79 1395.70,184.80 1396.10,184.80 1396.50,184.78 1396.90,184.76 1397.30,184.73 1397.70,184.70 1398.10,184.66 1398.50,184.64 1398.90,184.61 1399.30,184.59 1399.70,184.55 1400.10,184.49 1400.50,184.38 1400.90,184.20 1401.30,183.95 1401.70,183.65 1402.10,183.38 1402.50,183.19 1402.90,183.14 1403.30,183.26 1403.70,183.49 1404.10,183.79 1404.50,184.07 1404.90,184.31 1405.30,184.48 1405.70,184.60 1406.10,184.68 1406.50,184.74 1406.90,184.79 1407.30,184.82 1407.70,184.85 1408.10,184.86 1408.50,184.86 1408.90,184.86 1409.30,184.85 1409.70,184.83 1410.10,184.82 1410.50,184.82 1410.90,184.82 1411.30,184.83 1411.70,184.84 1412.10,184.86 1412.50,184.88 1412.90,184.89 1413.30,184.90 1413.70,184.90 1414.10,184.89 1414.50,184.87 1414.90,184.85 1415.30,184.83 1415.70,184.81 1416.10,184.79 1416.50,184.79 1416.90,184.79 1417.30,184.81 1417.70,184.83 1418.10,184.86 1418.50,184.89 1418.90,184.91 1419.30,184.93 1419.70,184.93 1420.10,184.93 1420.50,184.92 1420.90,184.90 1421.30,184.88 1421.70,184.86 1422.10,184.85 1422.50,184.84 1422.90,184.84 1423.30,184.84 1423.70,184.85 1424.10,184.85 1424.50,184.86 1424.90,184.85 1425.30,184.84 1425.70,184.82 1426.10,184.79 1426.50,184.76 1426.90,184.72 1427.30,184.68 1427.70,184.65 1428.10,184.62 1428.50,184.60 1428.90,184.60 1429.30,184.60 1429.70,184.62 1430.10,184.63 1430.50,184.65 1430.90,184.67 1431.30,184.67 1431.70,184.67 1432.10,184.67 1432.50,184.66 1432.90,184.64 1433.30,184.62 1433.70,184.61 1434.10,184.59 1434.50,184.58 1434.90,184.57 1435.30,184.56 1435.70,184.54 1436.10,184.51 1436.50,184.46 1436.90,184.39 1437.30,184.30 1437.70,184.19 1438.10,184.06 1438.50,183.91 1438.90,183.77 1439.30,183.62 1439.70,183.48 1440.10,183.37 1440.50,183.28 1440.90,183.21 1441.30,183.18 1441.70,183.18 1442.10,183.20 1442.50,183.25 1442.90,183.31 1443.30,183.39 1443.70,183.48 1444.10,183.57 1444.50,183.67 1444.90,183.77 1445.30,183.87 1445.70,183.97 1446.10,184.08 1446.50,184.18 1446.90,184.28 1447.30,184.37 1447.70,184.46 1448.10,184.53 1448.50,184.58 1448.90,184.62 1449.30,184.64 1449.70,184.64 1450.10,184.63 1450.50,184.62 1450.90,184.59 1451.30,184.57 1451.70,184.55 1452.10,184.54 1452.50,184.53 1452.90,184.53 1453.30,184.53 1453.70,184.54" fill="none" stroke="#000" stroke-width="2.9" stroke-linejoin="round" stroke-linecap="round" />
<polyline points="1486.00,182.93 1487.50,182.86 1489.00,182.85 1490.50,182.87 1492.00,182.78 1493.50,182.65 1495.00,182.63 1496.50,182.68 1498.00,182.65 1499.50,182.62 1501.00,182.69 1502.50,182.74 1504.00,182.66 1505.50,182.59 1507.00,182.61 1508.50,182.63 1510.00,182.57 1511.50,182.58 1513.00,182.70 1514.50,182.76 1516.00,182.71 1517.50,182.70 1519.00,182.73 1520.50,182.68 1522.00,182.56 1523.50,182.55 1525.00,182.61 1526.50,182.61 1528.00,182.56 1529.50,182.60 1531.00,182.65 1532.50,182.57 1534.00,182.46 1535.50,182.47 1537.00,182.50 1538.50,182.45 1540.00,182.46 1541.50,182.58 1541.90,182.61 1542.30,182.64 1542.70,182.66 1543.10,182.67 1543.50,182.67 1543.90,182.66 1544.30,182.64 1544.70,182.63 1545.10,182.62 1545.50,182.62 1545.90,182.62 1546.30,182.64 1546.70,182.65 1547.10,182.67 1547.50,182.69 1547.90,182.70 1548.30,182.71 1548.70,182.70 1549.10,182.69 1549.50,182.67 1549.90,182.64 1550.30,182.62 1550.70,182.61 1551.10,182.60 1551.50,182.61 1551.90,182.62 1552.30,182.65 1552.70,182.68 1553.10,182.71 1553.50,182.74 1553.90,182.77 1554.30,182.78 1554.70,182.79 1555.10,182.79 1555.50,182.78 1555.90,182.77 1556.30,182.76 1556.70,182.76 1557.10,182.77 1557.50,182.78 1557.90,182.80 1558.30,182.82 1558.70,182.84 1559.10,182.86 1559.50,182.87 1559.90,182.87 1560.30,182.85 1560.70,182.83 1561.10,182.80 1561.50,182.75 1561.90,182.70 1562.30,182.63 1562.70,182.52 1563.10,182.35 1563.50,182.13 1563.90,181.85 1564.30,181.57 1564.70,181.34 1565.10,181.23 1565.50,181.27 1565.90,181.46 1566.30,181.73 1566.70,182.01 1567.10,182.25 1567.50,182.43 1567.90,182.54 1568.30,182.60 1568.70,182.64 1569.10,182.67 1569.50,182.71 1569.90,182.74 1570.30,182.77 1570.70,182.80 1571.10,182.81 1571.50,182.82 1571.90,182.82 1572.30,182.81 1572.70,182.79 1573.10,182.77 1573.50,182.75 1573.90,182.73 1574.30,182.72 1574.70,182.72 1575.10,182.73 1575.50,182.74 1575.90,182.76 1576.30,182.77 1576.70,182.78 1577.10,182.78 1577.50,182.77 1577.90,182.75 1578.30,182.73 1578.70,182.71 1579.10,182.69 1579.50,182.68 1579.90,182.68 1580.30,182.69 1580.70,182.71 1581.10,182.74 1581.50,182.77 1581.90,182.81 1582.30,182.84 1582.70,182.87 1583.10,182.88 1583.50,182.89 1583.90,182.89 1584.30,182.88 1584.70,182.88 1585.10,182.87 1585.50,182.87 1585.90,182.88 1586.30,182.89 1586.70,182.91 1587.10,182.94 1587.50,182.96 1587.90,182.97 1588.30,182.98 1588.70,182.98 1589.10,182.96 1589.50,182.94 1589.90,182.91 1590.30,182.88 1590.70,182.85 1591.10,182.82 1591.50,182.81 1591.90,182.80 1592.30,182.81 1592.70,182.82 1593.10,182.83 1593.50,182.85 1593.90,182.86 1594.30,182.86 1594.70,182.86 1595.10,182.85 1595.50,182.83 1595.90,182.81 1596.30,182.79 1596.70,182.78 1597.10,182.77 1597.50,182.77 1597.90,182.77 1598.30,182.77 1598.70,182.77 1599.10,182.77 1599.50,182.75 1599.90,182.71 1600.30,182.65 1600.70,182.56 1601.10,182.46 1601.50,182.33 1601.90,182.20 1602.30,182.05 1602.70,181.91 1603.10,181.77 1603.50,181.64 1603.90,181.53 1604.30,181.42 1604.70,181.34 1605.10,181.27 1605.50,181.22 1605.90,181.19 1606.30,181.18 1606.70,181.19 1607.10,181.22 1607.50,181.27 1607.90,181.34 1608.30,181.43 1608.70,181.55 1609.10,181.67 1609.50,181.81 1609.90,181.95 1610.30,182.09 1610.70,182.21 1611.10,182.32 1611.50,182.41 1611.90,182.48 1612.30,182.53 1612.70,182.57 1613.10,182.59 1613.50,182.60 1613.90,182.61 1614.30,182.62 1614.70,182.63 1615.10,182.65 1615.50,182.67 1615.90,182.69 1616.30,182.71 1616.70,182.72 1617.10,182.73 1617.50,182.72 1617.90,182.70" fill="none" stroke="#000" stroke-width="2.9" stroke-linejoin="round" stroke-linecap="round" />
<polyline points="329.00,328.60 330.50,328.47 332.00,328.48 333.50,328.50 335.00,328.45 336.50,328.51 338.00,328.60 339.50,328.54 341.00,328.44 342.50,328.48 344.00,328.53 345.50,328.52 347.00,328.57 348.50,328.66 350.00,328.61 351.50,328.48 353.00,328.47 354.50,328.50 356.00,328.46 357.50,328.46 359.00,328.54 360.50,328.50 362.00,328.36 363.50,328.35 365.00,328.42 366.50,328.41 368.00,328.45 369.50,328.58 371.00,328.60 372.50,328.50 374.00,328.51 375.50,328.61 377.00,328.62 378.50,328.65 380.00,328.76 381.50,328.78 383.00,328.65 384.50,328.60 384.90,328.61 385.30,328.63 385.70,328.65 386.10,328.66 386.50,328.66 386.90,328.66 387.30,328.65 387.70,328.64 388.10,328.63 388.50,328.62 388.90,328.62 389.30,328.63 389.70,328.65 390.10,328.68 390.50,328.70 390.90,328.72 391.30,328.74 391.70,328.74 392.10,328.72 392.50,328.70 392.90,328.66 393.30,328.62 393.70,328.59 394.10,328.56 394.50,328.55 394.90,328.54 395.30,328.55 395.70,328.57 396.10,328.60 396.50,328.62 396.90,328.64 397.30,328.65 397.70,328.65 398.10,328.65 398.50,328.64 398.90,328.64 399.30,328.65 399.70,328.66 400.10,328.68 400.50,328.71 400.90,328.75 401.30,328.78 401.70,328.81 402.10,328.82 402.50,328.83 402.90,328.82 403.30,328.79 403.70,328.76 404.10,328.73 404.50,328.70 404.90,328.68 405.30,328.66 405.70,328.63 406.10,328.58 406.50,328.48 406.90,328.32 407.30,328.08 407.70,327.80 408.10,327.52 408.50,327.33 408.90,327.28 409.30,327.39 409.70,327.63 410.10,327.93 410.50,328.22 410.90,328.46 411.30,328.64 411.70,328.75 412.10,328.82 412.50,328.86 412.90,328.87 413.30,328.86 413.70,328.83 414.10,328.79 414.50,328.75 414.90,328.71 415.30,328.67 415.70,328.64 416.10,328.62 416.50,328.62 416.90,328.62 417.30,328.64 417.70,328.65 418.10,328.66 418.50,328.66 418.90,328.65 419.30,328.64 419.70,328.62 420.10,328.60 420.50,328.59 420.90,328.59 421.30,328.59 421.70,328.60 422.10,328.62 422.50,328.64 422.90,328.66 423.30,328.67 423.70,328.67 424.10,328.65 424.50,328.62 424.90,328.58 425.30,328.54 425.70,328.50 426.10,328.47 426.50,328.45 426.90,328.45 427.30,328.45 427.70,328.47 428.10,328.49 428.50,328.51 428.90,328.53 429.30,328.54 429.70,328.54 430.10,328.54 430.50,328.53 430.90,328.52 431.30,328.52 431.70,328.53 432.10,328.55 432.50,328.58 432.90,328.61 433.30,328.64 433.70,328.66 434.10,328.67 435.60,328.61 437.10,328.50 438.60,328.53 440.10,328.59 441.60,328.56 443.10,328.58 444.60,328.64 446.10,328.56 447.60,328.41 449.10,328.40 450.60,328.44 452.10,328.40 453.60,328.41 455.10,328.50 456.60,328.47 458.10,328.35 459.60,328.36 461.10,328.46" fill="none" stroke="#000" stroke-width="2.9" stroke-linejoin="round" stroke-linecap="round" />
<polyline points="497.50,327.92 499.00,327.95 500.50,327.92 502.00,328.01 503.50,328.09 505.00,328.00 506.50,327.91 508.00,327.93 509.50,327.91 511.00,327.87 512.50,327.97 514.00,328.07 515.50,328.01 517.00,327.99 518.50,328.05 520.00,328.04 521.50,328.03 523.00,328.17 524.50,328.28 526.00,328.22 527.50,328.19 529.00,328.21 530.50,328.12 532.00,328.06 533.50,328.14 535.00,328.18 536.50,328.08 538.00,328.05 539.50,328.04 541.00,327.92 542.50,327.87 544.00,327.99 545.50,328.04 545.90,328.03 546.30,328.02 546.70,328.00 547.10,328.00 547.50,328.00 547.90,328.01 548.30,328.03 548.70,328.04 549.10,328.06 549.50,328.06 549.90,328.05 550.30,328.04 550.70,328.01 551.10,327.97 551.50,327.94 551.90,327.91 552.30,327.90 552.70,327.90 553.10,327.91 553.50,327.93 553.90,327.96 554.30,327.99 554.70,328.02 555.10,328.03 555.50,328.03 555.90,328.03 556.30,328.01 556.70,327.99 557.10,327.98 557.50,327.97 557.90,327.97 558.30,327.98 558.70,327.99 559.10,328.00 559.50,328.01 559.90,328.00 560.30,327.98 560.70,327.95 561.10,327.91 561.50,327.86 561.90,327.82 562.30,327.78 562.70,327.76 563.10,327.75 563.50,327.75 563.90,327.77 564.30,327.79 564.70,327.81 565.10,327.83 565.50,327.84 565.90,327.83 566.30,327.82 566.70,327.80 567.10,327.77 567.50,327.72 567.90,327.63 568.30,327.49 568.70,327.29 569.10,327.03 569.50,326.76 569.90,326.53 570.30,326.42 570.70,326.46 571.10,326.63 571.50,326.88 571.90,327.15 572.30,327.37 572.70,327.54 573.10,327.65 573.50,327.73 573.90,327.78 574.30,327.82 574.70,327.86 575.10,327.89 575.50,327.92 575.90,327.93 576.30,327.94 576.70,327.94 577.10,327.94 577.50,327.95 577.90,327.96 578.30,327.97 578.70,328.00 579.10,328.04 579.50,328.08 579.90,328.11 580.30,328.14 580.70,328.15 581.10,328.14 581.50,328.13 581.90,328.10 582.30,328.07 582.70,328.04 583.10,328.01 583.50,328.00 583.90,328.00 584.30,328.01 584.70,328.02 585.10,328.04 585.50,328.06 585.90,328.07 586.30,328.07 586.70,328.06 587.10,328.04 587.50,328.03 587.90,328.02 588.30,328.02 588.70,328.03 589.10,328.05 589.50,328.08 589.90,328.11 590.30,328.14 590.70,328.15 591.10,328.16 591.50,328.15 591.90,328.12 592.30,328.09 592.70,328.05 593.10,328.02 593.50,327.99 593.90,327.98 594.30,327.97 594.70,327.98 595.10,327.99 595.50,328.01 597.00,328.01 598.50,327.99 600.00,328.10 601.50,328.21 603.00,328.16 604.50,328.11 606.00,328.16 607.50,328.13 609.00,328.09 610.50,328.18 612.00,328.25 613.50,328.15 615.00,328.07 616.50,328.06 618.00,327.95" fill="none" stroke="#000" stroke-width="2.9" stroke-linejoin="round" stroke-linecap="round" />
<polyline points="653.00,328.79 654.50,328.69 656.00,328.67 657.50,328.73 659.00,328.76 660.50,328.72 662.00,328.70 663.50,328.74 665.00,328.75 666.50,328.64 668.00,328.52 669.50,328.50 671.00,328.53 672.50,328.51 674.00,328.47 675.50,328.50 677.00,328.58 678.50,328.59 680.00,328.50 681.50,328.44 683.00,328.46 684.50,328.50 686.00,328.47 687.50,328.46 689.00,328.54 690.50,328.64 692.00,328.64 693.50,328.57 695.00,328.53 696.50,328.55 698.00,328.53 699.50,328.46 701.00,328.44 702.50,328.51 704.00,328.58 705.50,328.55 707.00,328.47 708.50,328.46 708.90,328.47 709.30,328.47 709.70,328.48 710.10,328.47 710.50,328.47 710.90,328.45 711.30,328.43 711.70,328.40 712.10,328.38 712.50,328.35 712.90,328.33 713.30,328.32 713.70,328.32 714.10,328.32 714.50,328.34 714.90,328.36 715.30,328.39 715.70,328.42 716.10,328.45 716.50,328.47 716.90,328.49 717.30,328.51 717.70,328.51 718.10,328.51 718.50,328.51 718.90,328.50 719.30,328.49 719.70,328.49 720.10,328.49 720.50,328.49 720.90,328.50 721.30,328.52 721.70,328.54 722.10,328.56 722.50,328.57 722.90,328.58 723.30,328.59 723.70,328.59 724.10,328.57 724.50,328.56 724.90,328.54 725.30,328.52 725.70,328.50 726.10,328.48 726.50,328.48 726.90,328.48 727.30,328.49 727.70,328.51 728.10,328.53 728.50,328.56 728.90,328.59 729.30,328.58 729.70,328.46 730.10,327.96 730.50,326.42 730.90,322.54 731.30,314.44 731.70,300.57 732.10,281.39 732.50,260.90 732.90,245.89 733.30,243.39 733.70,253.99 734.10,270.46 734.50,287.85 734.90,302.12 735.30,311.80 735.70,317.50 736.10,320.63 736.50,322.40 736.90,323.53 737.30,324.37 737.70,325.03 738.10,325.57 738.50,326.03 738.90,326.41 739.30,326.73 739.70,327.01 740.10,327.25 740.50,327.46 740.90,327.65 741.30,327.81 741.70,327.96 742.10,328.08 742.50,328.19 742.90,328.27 743.30,328.34 743.70,328.40 744.10,328.44 744.50,328.47 744.90,328.49 745.30,328.51 745.70,328.53 746.10,328.55 746.50,328.57 746.90,328.60 747.30,328.63 747.70,328.66 748.10,328.69 748.50,328.71 748.90,328.73 749.30,328.74 749.70,328.74 750.10,328.73 750.50,328.71 750.90,328.69 751.30,328.66 751.70,328.63 752.10,328.61 752.50,328.59 752.90,328.57 753.30,328.57 753.70,328.57 754.10,328.58 754.50,328.59 754.90,328.60 755.30,328.62 755.70,328.63 756.10,328.63 756.50,328.63 756.90,328.63 757.30,328.62 757.70,328.61 758.10,328.60 758.50,328.60 760.00,328.64 761.50,328.75 763.00,328.80 764.50,328.75 766.00,328.69 767.50,328.71 769.00,328.75 770.50,328.71 772.00,328.68 773.50,328.74 775.00,328.84 776.50,328.85 778.00,328.78 779.50,328.73 781.00,328.73 782.50,328.70 784.00,328.59 785.50,328.53 787.00,328.59 788.50,328.65" fill="none" stroke="#000" stroke-width="2.9" stroke-linejoin="round" stroke-linecap="round" />
<polyline points="824.00,329.38 825.50,329.37 827.00,329.48 828.50,329.52 830.00,329.51 831.50,329.62 833.00,329.68 834.50,329.61 836.00,329.60 837.50,329.63 839.00,329.53 840.50,329.46 842.00,329.53 843.50,329.52 845.00,329.47 846.50,329.56 848.00,329.62 849.50,329.55 851.00,329.56 852.50,329.61 854.00,329.54 855.50,329.49 857.00,329.58 858.50,329.61 860.00,329.58 861.50,329.69 863.00,329.78 864.50,329.73 866.00,329.72 867.50,329.76 869.00,329.67 870.50,329.57 872.00,329.61 873.50,329.59 875.00,329.51 876.50,329.56 878.00,329.62 879.50,329.55 881.00,329.52 882.50,329.56 884.00,329.48 885.50,329.38 887.00,329.43 887.40,329.45 887.80,329.45 888.20,329.45 888.60,329.44 889.00,329.42 889.40,329.41 889.80,329.39 890.20,329.39 890.60,329.41 891.00,329.43 891.40,329.46 891.80,329.50 892.20,329.54 892.60,329.56 893.00,329.58 893.40,329.58 893.80,329.57 894.20,329.56 894.60,329.54 895.00,329.53 895.40,329.53 895.80,329.53 896.20,329.55 896.60,329.57 897.00,329.59 897.40,329.61 897.80,329.61 898.20,329.60 898.60,329.58 899.00,329.54 899.40,329.51 899.80,329.47 900.20,329.45 900.60,329.43 901.00,329.43 901.40,329.44 901.80,329.46 902.20,329.47 902.60,329.48 903.00,329.47 903.40,329.46 903.80,329.44 904.20,329.41 904.60,329.38 905.00,329.36 905.40,329.36 905.80,329.36 906.20,329.38 906.60,329.40 907.00,329.41 907.40,329.36 907.80,329.09 908.20,328.17 908.60,325.62 909.00,319.79 909.40,308.79 909.80,291.81 910.20,271.02 910.60,252.15 911.00,242.31 911.40,247.54 911.80,261.79 912.20,279.53 912.60,295.86 913.00,307.96 913.40,315.54 913.80,319.78 914.20,322.09 914.60,323.47 915.00,324.42 915.40,325.16 915.80,325.78 916.20,326.32 916.60,326.78 917.00,327.17 917.40,327.51 917.80,327.79 918.20,328.02 918.60,328.20 919.00,328.35 919.40,328.47 919.80,328.57 920.20,328.66 920.60,328.75 921.00,328.84 921.40,328.93 921.80,329.02 922.20,329.10 922.60,329.17 923.00,329.23 923.40,329.26 923.80,329.29 924.20,329.30 924.60,329.30 925.00,329.31 925.40,329.32 925.80,329.34 926.20,329.37 926.60,329.41 927.00,329.45 927.40,329.48 927.80,329.50 928.20,329.51 928.60,329.50 929.00,329.48 929.40,329.46 929.80,329.43 930.20,329.41 930.60,329.40 931.00,329.40 931.40,329.42 931.80,329.43 932.20,329.45 932.60,329.47 933.00,329.48 933.40,329.47 933.80,329.46 934.20,329.44 934.60,329.41 935.00,329.39 935.40,329.38 935.80,329.39 936.20,329.40 937.70,329.51 939.20,329.51 940.70,329.47 942.20,329.54 943.70,329.54 945.20,329.42 946.70,329.40 948.20,329.43 949.70,329.36 951.20,329.35 952.70,329.47 954.20,329.50 955.70,329.50" fill="none" stroke="#000" stroke-width="2.9" stroke-linejoin="round" stroke-linecap="round" />
<polyline points="990.00,330.13 991.50,330.02 993.00,329.99 994.50,330.09 996.00,330.09 997.50,330.05 999.00,330.09 1000.50,330.01 1002.00,329.86 1003.50,329.87 1005.00,329.90 1006.50,329.84 1008.00,329.89 1009.50,329.95 1011.00,329.82 1012.50,329.76 1014.00,329.80 1015.50,329.75 1017.00,329.76 1018.50,329.90 1020.00,329.91 1021.50,329.83 1023.00,329.85 1024.50,329.84 1026.00,329.75 1027.50,329.83 1029.00,329.93 1030.50,329.88 1032.00,329.88 1033.50,329.90 1035.00,329.77 1036.50,329.71 1038.00,329.80 1039.50,329.80 1041.00,329.77 1042.50,329.84 1044.00,329.81 1044.40,329.77 1044.80,329.73 1045.20,329.69 1045.60,329.66 1046.00,329.65 1046.40,329.66 1046.80,329.67 1047.20,329.70 1047.60,329.72 1048.00,329.73 1048.40,329.74 1048.80,329.73 1049.20,329.72 1049.60,329.71 1050.00,329.71 1050.40,329.71 1050.80,329.73 1051.20,329.76 1051.60,329.80 1052.00,329.84 1052.40,329.87 1052.80,329.90 1053.20,329.90 1053.60,329.89 1054.00,329.87 1054.40,329.84 1054.80,329.82 1055.20,329.80 1055.60,329.79 1056.00,329.80 1056.40,329.81 1056.80,329.83 1057.20,329.85 1057.60,329.86 1058.00,329.87 1058.40,329.86 1058.80,329.85 1059.20,329.83 1059.60,329.82 1060.00,329.83 1060.40,329.84 1060.80,329.88 1061.20,329.92 1061.60,329.97 1062.00,330.01 1062.40,330.05 1062.80,330.07 1063.20,330.07 1063.60,330.06 1064.00,330.05 1064.40,330.03 1064.80,330.01 1065.20,329.98 1065.60,329.95 1066.00,329.89 1066.40,329.77 1066.80,329.57 1067.20,329.31 1067.60,329.00 1068.00,328.72 1068.40,328.54 1068.80,328.51 1069.20,328.64 1069.60,328.88 1070.00,329.18 1070.40,329.47 1070.80,329.70 1071.20,329.88 1071.60,329.99 1072.00,330.06 1072.40,330.10 1072.80,330.11 1073.20,330.10 1073.60,330.09 1074.00,330.07 1074.40,330.06 1074.80,330.06 1075.20,330.06 1075.60,330.08 1076.00,330.09 1076.40,330.11 1076.80,330.11 1077.20,330.10 1077.60,330.08 1078.00,330.04 1078.40,330.00 1078.80,329.96 1079.20,329.92 1079.60,329.90 1080.00,329.90 1080.40,329.91 1080.80,329.93 1081.20,329.95 1081.60,329.97 1082.00,329.99 1082.40,329.99 1082.80,329.98 1083.20,329.97 1083.60,329.95 1084.00,329.95 1084.40,329.95 1084.80,329.96 1085.20,329.98 1085.60,330.01 1086.00,330.03 1086.40,330.05 1086.80,330.06 1087.20,330.05 1087.60,330.02 1088.00,329.98 1088.40,329.94 1088.80,329.91 1089.20,329.88 1089.60,329.87 1090.00,329.88 1090.40,329.89 1090.80,329.91 1091.20,329.92 1091.60,329.93 1092.00,329.93 1092.40,329.92 1092.80,329.91 1093.20,329.90 1093.60,329.89 1095.10,329.97 1096.60,330.08 1098.10,330.01 1099.60,329.96 1101.10,330.00 1102.60,329.94 1104.10,329.91 1105.60,330.03 1107.10,330.06 1108.60,329.98 1110.10,329.99 1111.60,329.95 1113.10,329.80 1114.60,329.81 1116.10,329.88 1117.60,329.83 1119.10,329.83 1120.60,329.86" fill="none" stroke="#000" stroke-width="2.9" stroke-linejoin="round" stroke-linecap="round" />
<polyline points="1154.00,329.79 1155.50,329.77 1157.00,329.78 1158.50,329.75 1160.00,329.72 1161.50,329.76 1163.00,329.81 1164.50,329.76 1166.00,329.64 1167.50,329.60 1169.00,329.69 1170.50,329.78 1172.00,329.79 1173.50,329.79 1175.00,329.84 1176.50,329.88 1178.00,329.83 1179.50,329.79 1181.00,329.86 1182.50,330.00 1184.00,330.05 1185.50,329.99 1187.00,329.94 1188.50,329.95 1190.00,329.95 1191.50,329.91 1193.00,329.91 1194.50,329.98 1196.00,330.04 1197.50,329.98 1199.00,329.86 1200.50,329.84 1202.00,329.91 1203.50,329.96 1205.00,329.95 1206.50,329.98 1208.00,330.05 1209.50,330.05 1211.00,329.97 1212.50,329.93 1212.90,329.94 1213.30,329.96 1213.70,329.99 1214.10,330.02 1214.50,330.06 1214.90,330.09 1215.30,330.12 1215.70,330.15 1216.10,330.16 1216.50,330.16 1216.90,330.16 1217.30,330.15 1217.70,330.13 1218.10,330.12 1218.50,330.10 1218.90,330.09 1219.30,330.08 1219.70,330.07 1220.10,330.07 1220.50,330.08 1220.90,330.08 1221.30,330.08 1221.70,330.08 1222.10,330.07 1222.50,330.06 1222.90,330.04 1223.30,330.02 1223.70,330.00 1224.10,329.98 1224.50,329.96 1224.90,329.95 1225.30,329.95 1225.70,329.95 1226.10,329.96 1226.50,329.98 1226.90,330.01 1227.30,330.03 1227.70,330.05 1228.10,330.07 1228.50,330.07 1228.90,330.07 1229.30,330.05 1229.70,330.03 1230.10,330.00 1230.50,329.96 1230.90,329.92 1231.30,329.89 1231.70,329.86 1232.10,329.83 1232.50,329.81 1232.90,329.80 1233.30,329.80 1233.70,329.79 1234.10,329.78 1234.50,329.74 1234.90,329.66 1235.30,329.51 1235.70,329.28 1236.10,328.99 1236.50,328.69 1236.90,328.43 1237.30,328.31 1237.70,328.34 1238.10,328.53 1238.50,328.81 1238.90,329.12 1239.30,329.39 1239.70,329.60 1240.10,329.74 1240.50,329.82 1240.90,329.86 1241.30,329.88 1241.70,329.88 1242.10,329.87 1242.50,329.85 1242.90,329.83 1243.30,329.80 1243.70,329.77 1244.10,329.74 1244.50,329.72 1244.90,329.70 1245.30,329.70 1245.70,329.71 1246.10,329.73 1246.50,329.75 1246.90,329.78 1247.30,329.81 1247.70,329.84 1248.10,329.87 1248.50,329.89 1248.90,329.90 1249.30,329.90 1249.70,329.90 1250.10,329.89 1250.50,329.88 1250.90,329.87 1251.30,329.87 1251.70,329.86 1252.10,329.86 1252.50,329.87 1252.90,329.88 1253.30,329.88 1253.70,329.89 1254.10,329.89 1254.50,329.89 1254.90,329.88 1255.30,329.86 1255.70,329.84 1256.10,329.82 1256.50,329.79 1256.90,329.77 1257.30,329.76 1257.70,329.75 1258.10,329.75 1258.50,329.76 1258.90,329.78 1259.30,329.81 1259.70,329.83 1260.10,329.86 1260.50,329.89 1260.90,329.91 1261.30,329.92 1261.70,329.92 1262.10,329.91 1262.50,329.89 1264.00,329.78 1265.50,329.72 1267.00,329.73 1268.50,329.73 1270.00,329.69 1271.50,329.71 1273.00,329.81 1274.50,329.85 1276.00,329.77 1277.50,329.69 1279.00,329.73 1280.50,329.84 1282.00,329.90 1283.50,329.91 1285.00,329.95 1286.50,330.01 1288.00,330.00 1289.50,329.92 1291.00,329.92 1292.50,330.02" fill="none" stroke="#000" stroke-width="2.9" stroke-linejoin="round" stroke-linecap="round" />
<polyline points="1326.40,330.81 1327.90,330.75 1329.40,330.78 1330.90,330.90 1332.40,330.87 1333.90,330.82 1335.40,330.87 1336.90,330.83 1338.40,330.76 1339.90,330.86 1341.40,330.95 1342.90,330.93 1344.40,331.01 1345.90,331.09 1347.40,330.99 1348.90,330.95 1350.40,331.02 1351.90,330.98 1353.40,330.97 1354.90,331.10 1356.40,331.12 1357.90,331.05 1359.40,331.08 1360.90,331.06 1362.40,330.93 1363.90,330.96 1365.40,331.04 1366.90,331.01 1368.40,331.05 1369.90,331.14 1371.40,331.08 1372.90,331.00 1374.40,331.05 1375.90,331.03 1377.40,331.00 1378.90,331.12 1379.30,331.16 1379.70,331.19 1380.10,331.20 1380.50,331.20 1380.90,331.19 1381.30,331.17 1381.70,331.16 1382.10,331.15 1382.50,331.15 1382.90,331.17 1383.30,331.19 1383.70,331.21 1384.10,331.22 1384.50,331.22 1384.90,331.21 1385.30,331.19 1385.70,331.16 1386.10,331.12 1386.50,331.09 1386.90,331.07 1387.30,331.06 1387.70,331.06 1388.10,331.08 1388.50,331.11 1388.90,331.13 1389.30,331.15 1389.70,331.16 1390.10,331.15 1390.50,331.14 1390.90,331.12 1391.30,331.11 1391.70,331.10 1392.10,331.11 1392.50,331.12 1392.90,331.15 1393.30,331.18 1393.70,331.20 1394.10,331.22 1394.50,331.22 1394.90,331.20 1395.30,331.18 1395.70,331.14 1396.10,331.10 1396.50,331.06 1396.90,331.04 1397.30,331.03 1397.70,331.03 1398.10,331.03 1398.50,331.03 1398.90,331.03 1399.30,331.00 1399.70,330.95 1400.10,330.85 1400.50,330.69 1400.90,330.46 1401.30,330.18 1401.70,329.87 1402.10,329.59 1402.50,329.43 1402.90,329.42 1403.30,329.58 1403.70,329.85 1404.10,330.16 1404.50,330.45 1404.90,330.66 1405.30,330.79 1405.70,330.85 1406.10,330.87 1406.50,330.88 1406.90,330.89 1407.30,330.90 1407.70,330.92 1408.10,330.93 1408.50,330.94 1408.90,330.94 1409.30,330.92 1409.70,330.89 1410.10,330.85 1410.50,330.81 1410.90,330.77 1411.30,330.75 1411.70,330.74 1412.10,330.74 1412.50,330.76 1412.90,330.78 1413.30,330.80 1413.70,330.81 1414.10,330.82 1414.50,330.81 1414.90,330.80 1415.30,330.78 1415.70,330.77 1416.10,330.77 1416.50,330.79 1416.90,330.81 1417.30,330.85 1417.70,330.89 1418.10,330.92 1418.50,330.95 1418.90,330.96 1419.30,330.95 1419.70,330.93 1420.10,330.91 1420.50,330.89 1420.90,330.87 1421.30,330.86 1421.70,330.86 1422.10,330.87 1422.50,330.89 1422.90,330.91 1423.30,330.92 1423.70,330.91 1424.10,330.90 1424.50,330.88 1424.90,330.85 1425.30,330.83 1425.70,330.82 1426.10,330.82 1426.50,330.84 1426.90,330.87 1427.30,330.90 1427.70,330.94 1428.10,330.98 1429.60,331.00 1431.10,330.99 1432.60,331.07 1434.10,331.05 1435.60,330.93 1437.10,330.95 1438.60,330.98 1440.10,330.93 1441.60,330.99 1443.10,331.09 1444.60,331.03 1446.10,330.98 1447.60,331.02 1449.10,330.94 1450.60,330.88 1452.10,330.99 1453.60,331.04" fill="none" stroke="#000" stroke-width="2.9" stroke-linejoin="round" stroke-linecap="round" />
<polyline points="1486.00,330.25 1487.50,330.17 1489.00,330.24 1490.50,330.34 1492.00,330.34 1493.50,330.38 1495.00,330.48 1496.50,330.43 1498.00,330.31 1499.50,330.32 1501.00,330.33 1502.50,330.25 1504.00,330.28 1505.50,330.39 1507.00,330.37 1508.50,330.30 1510.00,330.34 1511.50,330.34 1513.00,330.27 1514.50,330.33 1516.00,330.47 1517.50,330.51 1519.00,330.51 1520.50,330.60 1522.00,330.60 1523.50,330.48 1525.00,330.47 1526.50,330.53 1528.00,330.50 1529.50,330.48 1531.00,330.57 1532.50,330.56 1534.00,330.44 1535.50,330.42 1537.00,330.45 1538.50,330.38 1540.00,330.40 1541.50,330.54 1541.90,330.57 1542.30,330.59 1542.70,330.60 1543.10,330.59 1543.50,330.58 1543.90,330.57 1544.30,330.56 1544.70,330.55 1545.10,330.56 1545.50,330.57 1545.90,330.59 1546.30,330.61 1546.70,330.62 1547.10,330.63 1547.50,330.62 1547.90,330.60 1548.30,330.57 1548.70,330.54 1549.10,330.50 1549.50,330.48 1549.90,330.47 1550.30,330.47 1550.70,330.48 1551.10,330.50 1551.50,330.53 1551.90,330.55 1552.30,330.57 1552.70,330.58 1553.10,330.57 1553.50,330.56 1553.90,330.54 1554.30,330.52 1554.70,330.51 1555.10,330.51 1555.50,330.51 1555.90,330.52 1556.30,330.54 1556.70,330.56 1557.10,330.57 1557.50,330.56 1557.90,330.55 1558.30,330.52 1558.70,330.48 1559.10,330.44 1559.50,330.39 1559.90,330.36 1560.30,330.33 1560.70,330.32 1561.10,330.31 1561.50,330.31 1561.90,330.30 1562.30,330.26 1562.70,330.17 1563.10,330.02 1563.50,329.78 1563.90,329.48 1564.30,329.16 1564.70,328.90 1565.10,328.78 1565.50,328.82 1565.90,329.03 1566.30,329.34 1566.70,329.67 1567.10,329.97 1567.50,330.19 1567.90,330.33 1568.30,330.40 1568.70,330.43 1569.10,330.43 1569.50,330.41 1569.90,330.39 1570.30,330.37 1570.70,330.36 1571.10,330.36 1571.50,330.37 1571.90,330.39 1572.30,330.40 1572.70,330.41 1573.10,330.41 1573.50,330.41 1573.90,330.39 1574.30,330.36 1574.70,330.34 1575.10,330.31 1575.50,330.30 1575.90,330.30 1576.30,330.31 1576.70,330.33 1577.10,330.37 1577.50,330.40 1577.90,330.43 1578.30,330.45 1578.70,330.46 1579.10,330.45 1579.50,330.44 1579.90,330.42 1580.30,330.40 1580.70,330.39 1581.10,330.38 1581.50,330.38 1581.90,330.39 1582.30,330.40 1582.70,330.41 1583.10,330.41 1583.50,330.40 1583.90,330.38 1584.30,330.35 1584.70,330.31 1585.10,330.26 1585.50,330.22 1585.90,330.19 1586.30,330.17 1586.70,330.16 1587.10,330.16 1587.50,330.18 1587.90,330.19 1588.30,330.21 1588.70,330.22 1589.10,330.22 1589.50,330.21 1589.90,330.20 1590.30,330.18 1591.80,330.19 1593.30,330.30 1594.80,330.30 1596.30,330.21 1597.80,330.23 1599.30,330.28 1600.80,330.24 1602.30,330.27 1603.80,330.42 1605.30,330.45 1606.80,330.39 1608.30,330.40 1609.80,330.39 1611.30,330.27 1612.80,330.23 1614.30,330.32 1615.80,330.32 1617.30,330.29" fill="none" stroke="#000" stroke-width="2.9" stroke-linejoin="round" stroke-linecap="round" />
<polyline points="329.00,474.33 330.50,474.38 332.00,474.37 333.50,474.45 335.00,474.52 336.50,474.43 338.00,474.36 339.50,474.43 341.00,474.45 342.50,474.41 344.00,474.45 345.50,474.49 347.00,474.35 348.50,474.22 350.00,474.23 351.50,474.20 353.00,474.14 354.50,474.20 356.00,474.27 357.50,474.19 359.00,474.11 360.50,474.15 362.00,474.16 363.50,474.14 365.00,474.24 366.50,474.35 368.00,474.30 369.50,474.22 371.00,474.24 372.50,474.20 374.00,474.12 375.50,474.19 377.00,474.28 378.50,474.23 380.00,474.16 381.50,474.19 383.00,474.17 384.50,474.11 384.90,474.12 385.30,474.14 385.70,474.18 386.10,474.22 386.50,474.27 386.90,474.32 387.30,474.35 387.70,474.38 388.10,474.39 388.50,474.39 388.90,474.38 389.30,474.37 389.70,474.37 390.10,474.37 390.50,474.38 390.90,474.39 391.30,474.41 391.70,474.43 392.10,474.45 392.50,474.45 392.90,474.45 393.30,474.44 393.70,474.42 394.10,474.39 394.50,474.37 394.90,474.35 395.30,474.35 395.70,474.36 396.10,474.38 396.50,474.41 396.90,474.45 397.30,474.48 397.70,474.51 398.10,474.53 398.50,474.53 398.90,474.53 399.30,474.51 399.70,474.49 400.10,474.48 400.50,474.47 400.90,474.46 401.30,474.46 401.70,474.47 402.10,474.48 402.50,474.48 402.90,474.48 403.30,474.47 403.70,474.44 404.10,474.40 404.50,474.36 404.90,474.32 405.30,474.27 405.70,474.21 406.10,474.14 406.50,474.03 406.90,473.85 407.30,473.62 407.70,473.35 408.10,473.10 408.50,472.93 408.90,472.89 409.30,473.01 409.70,473.24 410.10,473.53 410.50,473.80 410.90,474.02 411.30,474.18 411.70,474.28 412.10,474.35 412.50,474.39 412.90,474.41 413.30,474.43 413.70,474.43 414.10,474.42 414.50,474.39 414.90,474.36 415.30,474.33 415.70,474.30 416.10,474.28 416.50,474.27 416.90,474.28 417.30,474.29 417.70,474.32 418.10,474.35 418.50,474.38 418.90,474.40 419.30,474.41 419.70,474.42 420.10,474.41 420.50,474.40 420.90,474.39 421.30,474.39 421.70,474.39 422.10,474.40 422.50,474.42 422.90,474.44 423.30,474.46 423.70,474.47 424.10,474.46 424.50,474.45 424.90,474.42 425.30,474.38 425.70,474.34 426.10,474.29 426.50,474.25 426.90,474.22 427.30,474.21 427.70,474.21 428.10,474.21 428.50,474.23 428.90,474.24 429.30,474.24 429.70,474.24 430.10,474.23 430.50,474.22 430.90,474.20 431.30,474.18 431.70,474.16 432.10,474.16 432.50,474.17 432.90,474.18 433.30,474.20 433.70,474.22 434.10,474.24 435.60,474.19 437.10,474.06 438.60,474.05 440.10,474.11 441.60,474.10 443.10,474.15 444.60,474.29 446.10,474.31 447.60,474.22 449.10,474.22 450.60,474.27 452.10,474.23 453.60,474.24 455.10,474.35 456.60,474.36 458.10,474.24 459.60,474.22 461.10,474.24" fill="none" stroke="#000" stroke-width="2.9" stroke-linejoin="round" stroke-linecap="round" />
<polyline points="497.50,472.83 499.00,472.88 500.50,472.95 502.00,472.92 503.50,472.95 505.00,473.05 506.50,473.04 508.00,472.94 509.50,472.93 511.00,472.93 512.50,472.84 514.00,472.80 515.50,472.89 517.00,472.93 518.50,472.89 520.00,472.94 521.50,473.00 523.00,472.93 524.50,472.86 526.00,472.93 527.50,472.97 529.00,472.95 530.50,473.03 532.00,473.17 533.50,473.18 535.00,473.13 536.50,473.17 538.00,473.18 539.50,473.08 541.00,473.06 542.50,473.14 544.00,473.15 545.50,473.11 545.90,473.11 546.30,473.13 546.70,473.15 547.10,473.17 547.50,473.19 547.90,473.20 548.30,473.21 548.70,473.19 549.10,473.17 549.50,473.14 549.90,473.10 550.30,473.07 550.70,473.04 551.10,473.02 551.50,473.02 551.90,473.02 552.30,473.03 552.70,473.04 553.10,473.05 553.50,473.05 553.90,473.04 554.30,473.03 554.70,473.01 555.10,472.98 555.50,472.96 555.90,472.95 556.30,472.95 556.70,472.97 557.10,472.99 557.50,473.02 557.90,473.06 558.30,473.09 558.70,473.12 559.10,473.14 559.50,473.14 559.90,473.14 560.30,473.13 560.70,473.11 561.10,473.10 561.50,473.10 561.90,473.10 562.30,473.11 562.70,473.13 563.10,473.16 563.50,473.17 563.90,473.19 564.30,473.19 564.70,473.18 565.10,473.16 565.50,473.13 565.90,473.10 566.30,473.07 566.70,473.04 567.10,473.01 567.50,472.97 567.90,472.89 568.30,472.76 568.70,472.56 569.10,472.30 569.50,472.01 569.90,471.78 570.30,471.66 570.70,471.69 571.10,471.86 571.50,472.13 571.90,472.42 572.30,472.68 572.70,472.89 573.10,473.03 573.50,473.12 573.90,473.18 574.30,473.22 574.70,473.24 575.10,473.25 575.50,473.24 575.90,473.22 576.30,473.19 576.70,473.16 577.10,473.13 577.50,473.10 577.90,473.09 578.30,473.08 578.70,473.08 579.10,473.09 579.50,473.09 579.90,473.09 580.30,473.08 580.70,473.06 581.10,473.03 581.50,473.00 581.90,472.96 582.30,472.93 582.70,472.91 583.10,472.90 583.50,472.90 583.90,472.91 584.30,472.94 584.70,472.96 585.10,472.98 585.50,473.00 585.90,473.00 586.30,473.00 586.70,472.98 587.10,472.96 587.50,472.95 587.90,472.93 588.30,472.93 588.70,472.93 589.10,472.94 589.50,472.96 589.90,472.98 590.30,472.99 590.70,473.00 591.10,472.99 591.50,472.98 591.90,472.95 592.30,472.92 592.70,472.88 593.10,472.85 593.50,472.83 593.90,472.82 594.30,472.82 594.70,472.83 595.10,472.85 595.50,472.86 597.00,472.88 598.50,472.84 600.00,472.90 601.50,473.03 603.00,473.01 604.50,472.96 606.00,473.00 607.50,472.99 609.00,472.88 610.50,472.86 612.00,472.94 613.50,472.93 615.00,472.89 616.50,472.95 618.00,472.97" fill="none" stroke="#000" stroke-width="2.9" stroke-linejoin="round" stroke-linecap="round" />
<polyline points="653.00,473.86 654.50,473.75 656.00,473.75 657.50,473.81 659.00,473.81 660.50,473.76 662.00,473.76 663.50,473.80 665.00,473.78 666.50,473.67 668.00,473.62 669.50,473.69 671.00,473.75 672.50,473.76 674.00,473.79 675.50,473.91 677.00,474.00 678.50,473.97 680.00,473.91 681.50,473.93 683.00,473.99 684.50,473.99 686.00,473.96 687.50,474.02 689.00,474.12 690.50,474.13 692.00,474.04 693.50,473.98 695.00,473.99 696.50,473.97 698.00,473.88 699.50,473.86 701.00,473.94 702.50,474.02 704.00,474.00 705.50,473.96 707.00,473.98 708.50,474.00 710.00,473.94 710.40,473.92 710.80,473.89 711.20,473.87 711.60,473.86 712.00,473.86 712.40,473.87 712.80,473.88 713.20,473.91 713.60,473.93 714.00,473.96 714.40,473.98 714.80,474.00 715.20,474.01 715.60,474.02 716.00,474.01 716.40,474.01 716.80,473.99 717.20,473.98 717.60,473.97 718.00,473.96 718.40,473.95 718.80,473.96 719.20,473.96 719.60,473.97 720.00,473.98 720.40,473.99 720.80,473.99 721.20,473.98 721.60,473.97 722.00,473.94 722.40,473.91 722.80,473.87 723.20,473.84 723.60,473.80 724.00,473.77 724.40,473.74 724.80,473.73 725.20,473.72 725.60,473.72 726.00,473.73 726.40,473.74 726.80,473.76 727.20,473.77 727.60,473.77 728.00,473.77 728.40,473.77 728.80,473.76 729.20,473.74 729.60,473.73 730.00,473.72 730.40,473.71 730.80,473.70 731.20,473.68 731.60,473.66 732.00,473.60 732.40,473.48 732.80,473.29 733.20,473.03 733.60,472.75 734.00,472.48 734.40,472.32 734.80,472.31 735.20,472.44 735.60,472.68 736.00,472.95 736.40,473.20 736.80,473.38 737.20,473.51 737.60,473.58 738.00,473.62 738.40,473.65 738.80,473.67 739.20,473.70 739.60,473.72 740.00,473.74 740.40,473.75 740.80,473.76 741.20,473.76 741.60,473.76 742.00,473.76 742.40,473.75 742.80,473.76 743.20,473.76 743.60,473.78 744.00,473.80 744.40,473.83 744.80,473.86 745.20,473.90 745.60,473.94 746.00,473.97 746.40,474.00 746.80,474.01 747.20,474.02 747.60,474.02 748.00,474.00 748.40,473.99 748.80,473.97 749.20,473.95 749.60,473.94 750.00,473.93 750.40,473.93 750.80,473.93 751.20,473.94 751.60,473.96 752.00,473.97 752.40,473.98 752.80,473.99 753.20,473.99 753.60,473.98 754.00,473.97 754.40,473.96 754.80,473.94 755.20,473.92 755.60,473.91 756.00,473.91 756.40,473.92 756.80,473.93 757.20,473.95 757.60,473.98 758.00,474.01 758.40,474.03 758.80,474.06 759.20,474.08 759.60,474.08 760.00,474.08 761.50,474.02 763.00,473.97 764.50,473.98 766.00,473.97 767.50,473.89 769.00,473.84 770.50,473.91 772.00,474.01 773.50,474.02 775.00,474.00 776.50,474.03 778.00,474.07 779.50,474.03 781.00,473.93 782.50,473.91 784.00,473.98 785.50,474.01 787.00,473.97 788.50,473.95" fill="none" stroke="#000" stroke-width="2.9" stroke-linejoin="round" stroke-linecap="round" />
<polyline points="824.00,474.10 825.50,474.02 827.00,474.08 828.50,474.19 830.00,474.16 831.50,474.14 833.00,474.20 834.50,474.17 836.00,474.10 837.50,474.18 839.00,474.30 840.50,474.30 842.00,474.33 843.50,474.41 845.00,474.34 846.50,474.23 848.00,474.27 849.50,474.31 851.00,474.27 852.50,474.32 854.00,474.41 855.50,474.35 857.00,474.26 858.50,474.29 860.00,474.30 861.50,474.26 863.00,474.35 864.50,474.49 866.00,474.47 867.50,474.44 869.00,474.49 870.50,474.46 872.00,474.38 873.50,474.44 875.00,474.53 876.50,474.49 878.00,474.46 879.50,474.49 879.90,474.48 880.30,474.46 880.70,474.42 881.10,474.38 881.50,474.33 881.90,474.29 882.30,474.25 882.70,474.23 883.10,474.23 883.50,474.23 883.90,474.25 884.30,474.26 884.70,474.28 885.10,474.28 885.50,474.28 885.90,474.27 886.30,474.25 886.70,474.23 887.10,474.22 887.50,474.21 887.90,474.21 888.30,474.23 888.70,474.25 889.10,474.27 889.50,474.29 889.90,474.30 890.30,474.30 890.70,474.28 891.10,474.26 891.50,474.22 891.90,474.18 892.30,474.15 892.70,474.12 893.10,474.11 893.50,474.11 893.90,474.12 894.30,474.13 894.70,474.15 895.10,474.16 895.50,474.17 895.90,474.16 896.30,474.15 896.70,474.14 897.10,474.13 897.50,474.12 897.90,474.13 898.30,474.15 898.70,474.18 899.10,474.21 899.50,474.25 899.90,474.28 900.30,474.29 900.70,474.28 901.10,474.21 901.50,474.08 901.90,473.86 902.30,473.58 902.70,473.26 903.10,472.97 903.50,472.77 903.90,472.73 904.30,472.86 904.70,473.12 905.10,473.43 905.50,473.71 905.90,473.93 906.30,474.07 906.70,474.13 907.10,474.15 907.50,474.15 907.90,474.14 908.30,474.14 908.70,474.15 909.10,474.17 909.50,474.20 909.90,474.24 910.30,474.27 910.70,474.29 911.10,474.30 911.50,474.30 911.90,474.29 912.30,474.27 912.70,474.25 913.10,474.23 913.50,474.22 913.90,474.22 914.30,474.23 914.70,474.24 915.10,474.25 915.50,474.26 915.90,474.25 916.30,474.24 916.70,474.21 917.10,474.17 917.50,474.14 917.90,474.10 918.30,474.08 918.70,474.07 919.10,474.08 919.50,474.10 919.90,474.12 920.30,474.16 920.70,474.18 921.10,474.21 921.50,474.22 921.90,474.22 922.30,474.22 922.70,474.21 923.10,474.21 923.50,474.21 923.90,474.22 924.30,474.25 924.70,474.28 925.10,474.31 925.50,474.34 925.90,474.36 926.30,474.37 926.70,474.37 927.10,474.35 927.50,474.33 927.90,474.30 928.30,474.27 928.70,474.26 929.10,474.25 930.60,474.33 932.10,474.39 933.60,474.38 935.10,474.48 936.60,474.59 938.10,474.53 939.60,474.46 941.10,474.48 942.60,474.44 944.10,474.35 945.60,474.41 947.10,474.49 948.60,474.41 950.10,474.36 951.60,474.37 953.10,474.29 954.60,474.19 956.10,474.25" fill="none" stroke="#000" stroke-width="2.9" stroke-linejoin="round" stroke-linecap="round" />
<polyline points="990.00,474.46 991.50,474.56 993.00,474.55 994.50,474.44 996.00,474.42 997.50,474.41 999.00,474.29 1000.50,474.25 1002.00,474.33 1003.50,474.34 1005.00,474.30 1006.50,474.38 1008.00,474.42 1009.50,474.32 1011.00,474.29 1012.50,474.34 1014.00,474.29 1015.50,474.24 1017.00,474.33 1018.50,474.39 1020.00,474.33 1021.50,474.34 1023.00,474.38 1024.50,474.27 1026.00,474.15 1027.50,474.16 1029.00,474.13 1030.50,474.05 1032.00,474.09 1033.50,474.18 1035.00,474.15 1036.50,474.12 1038.00,474.19 1039.50,474.17 1041.00,474.08 1042.50,474.13 1042.90,474.16 1043.30,474.19 1043.70,474.21 1044.10,474.22 1044.50,474.22 1044.90,474.22 1045.30,474.21 1045.70,474.20 1046.10,474.21 1046.50,474.22 1046.90,474.25 1047.30,474.28 1047.70,474.32 1048.10,474.36 1048.50,474.40 1048.90,474.42 1049.30,474.43 1049.70,474.43 1050.10,474.42 1050.50,474.40 1050.90,474.38 1051.30,474.36 1051.70,474.36 1052.10,474.36 1052.50,474.38 1052.90,474.39 1053.30,474.41 1053.70,474.42 1054.10,474.41 1054.50,474.40 1054.90,474.38 1055.30,474.35 1055.70,474.31 1056.10,474.28 1056.50,474.26 1056.90,474.25 1057.30,474.26 1057.70,474.27 1058.10,474.30 1058.50,474.32 1058.90,474.34 1059.30,474.35 1059.70,474.36 1060.10,474.35 1060.50,474.34 1060.90,474.32 1061.30,474.31 1061.70,474.30 1062.10,474.31 1062.50,474.32 1062.90,474.31 1063.30,474.18 1063.70,473.69 1064.10,472.23 1064.50,468.69 1064.90,461.63 1065.30,450.14 1065.70,435.16 1066.10,420.33 1066.50,410.93 1066.90,412.00 1067.30,421.30 1067.70,434.12 1068.10,446.74 1068.50,456.57 1068.90,462.98 1069.30,466.65 1069.70,468.67 1070.10,469.83 1070.50,470.59 1070.90,471.17 1071.30,471.63 1071.70,472.03 1072.10,472.36 1072.50,472.66 1072.90,472.93 1073.30,473.17 1073.70,473.39 1074.10,473.57 1074.50,473.73 1074.90,473.86 1075.30,473.96 1075.70,474.04 1076.10,474.10 1076.50,474.14 1076.90,474.18 1077.30,474.23 1077.70,474.27 1078.10,474.32 1078.50,474.37 1078.90,474.42 1079.30,474.46 1079.70,474.50 1080.10,474.51 1080.50,474.51 1080.90,474.50 1081.30,474.47 1081.70,474.45 1082.10,474.42 1082.50,474.40 1082.90,474.39 1083.30,474.40 1083.70,474.41 1084.10,474.42 1084.50,474.43 1084.90,474.43 1085.30,474.42 1085.70,474.41 1086.10,474.38 1086.50,474.35 1086.90,474.32 1087.30,474.30 1087.70,474.29 1088.10,474.29 1088.50,474.30 1088.90,474.32 1089.30,474.35 1089.70,474.37 1090.10,474.38 1090.50,474.39 1090.90,474.38 1091.30,474.36 1091.70,474.34 1093.20,474.27 1094.70,474.31 1096.20,474.27 1097.70,474.13 1099.20,474.10 1100.70,474.14 1102.20,474.09 1103.70,474.10 1105.20,474.23 1106.70,474.27 1108.20,474.22 1109.70,474.26 1111.20,474.30 1112.70,474.20 1114.20,474.16 1115.70,474.23 1117.20,474.23 1118.70,474.19 1120.20,474.27" fill="none" stroke="#000" stroke-width="2.9" stroke-linejoin="round" stroke-linecap="round" />
<polyline points="1154.00,472.18 1155.50,472.17 1157.00,472.24 1158.50,472.26 1160.00,472.23 1161.50,472.24 1163.00,472.28 1164.50,472.25 1166.00,472.15 1167.50,472.09 1169.00,472.17 1170.50,472.29 1172.00,472.33 1173.50,472.33 1175.00,472.36 1176.50,472.40 1178.00,472.37 1179.50,472.30 1181.00,472.32 1182.50,472.42 1184.00,472.46 1185.50,472.38 1187.00,472.28 1188.50,472.25 1190.00,472.24 1191.50,472.18 1193.00,472.15 1194.50,472.22 1196.00,472.32 1197.50,472.32 1197.90,472.29 1198.30,472.27 1198.70,472.24 1199.10,472.22 1199.50,472.20 1199.90,472.19 1200.30,472.18 1200.70,472.19 1201.10,472.20 1201.50,472.21 1201.90,472.23 1202.30,472.25 1202.70,472.26 1203.10,472.27 1203.50,472.27 1203.90,472.27 1204.30,472.27 1204.70,472.26 1205.10,472.25 1205.50,472.25 1205.90,472.25 1206.30,472.25 1206.70,472.26 1207.10,472.27 1207.50,472.28 1207.90,472.30 1208.30,472.31 1208.70,472.31 1209.10,472.31 1209.50,472.30 1209.90,472.28 1210.30,472.25 1210.70,472.21 1211.10,472.17 1211.50,472.13 1211.90,472.09 1212.30,472.05 1212.70,472.03 1213.10,472.01 1213.50,472.01 1213.90,472.01 1214.30,472.02 1214.70,472.03 1215.10,472.05 1215.50,472.07 1215.90,472.08 1216.30,472.09 1216.70,472.09 1217.10,472.08 1217.50,472.07 1217.90,472.04 1218.30,471.95 1218.70,471.67 1219.10,470.79 1219.50,468.52 1219.90,463.57 1220.30,454.65 1220.70,441.60 1221.10,426.62 1221.50,414.30 1221.90,409.50 1222.30,415.65 1222.70,426.80 1223.10,439.50 1223.50,450.53 1223.90,458.32 1224.30,463.03 1224.70,465.64 1225.10,467.09 1225.50,468.00 1225.90,468.66 1226.30,469.20 1226.70,469.66 1227.10,470.05 1227.50,470.40 1227.90,470.70 1228.30,470.95 1228.70,471.17 1229.10,471.34 1229.50,471.49 1229.90,471.60 1230.30,471.69 1230.70,471.76 1231.10,471.82 1231.50,471.86 1231.90,471.89 1232.30,471.92 1232.70,471.95 1233.10,471.98 1233.50,472.00 1233.90,472.03 1234.30,472.05 1234.70,472.06 1235.10,472.07 1235.50,472.07 1235.90,472.06 1236.30,472.05 1236.70,472.03 1237.10,472.02 1237.50,472.00 1237.90,471.99 1238.30,471.98 1238.70,471.98 1239.10,471.99 1239.50,472.01 1239.90,472.04 1240.30,472.07 1240.70,472.10 1241.10,472.12 1241.50,472.15 1241.90,472.16 1242.30,472.16 1242.70,472.15 1243.10,472.14 1243.50,472.12 1243.90,472.09 1244.30,472.07 1244.70,472.05 1245.10,472.03 1245.50,472.02 1245.90,472.02 1246.30,472.03 1246.70,472.04 1247.10,472.06 1248.60,472.12 1250.10,472.14 1251.60,472.17 1253.10,472.29 1254.60,472.39 1256.10,472.36 1257.60,472.26 1259.10,472.23 1260.60,472.28 1262.10,472.32 1263.60,472.28 1265.10,472.27 1266.60,472.31 1268.10,472.31 1269.60,472.21 1271.10,472.14 1272.60,472.20 1274.10,472.32 1275.60,472.38 1277.10,472.36 1278.60,472.38 1280.10,472.41 1281.60,472.39 1283.10,472.30 1284.60,472.29 1286.10,472.37 1287.60,472.42 1289.10,472.34 1290.60,472.23 1292.10,472.18" fill="none" stroke="#000" stroke-width="2.9" stroke-linejoin="round" stroke-linecap="round" />
<polyline points="1326.40,473.20 1327.90,473.25 1329.40,473.22 1330.90,473.11 1332.40,473.13 1333.90,473.26 1335.40,473.29 1336.90,473.27 1338.40,473.31 1339.90,473.29 1341.40,473.15 1342.90,473.11 1344.40,473.19 1345.90,473.20 1347.40,473.12 1348.90,473.11 1350.40,473.09 1351.90,472.97 1353.40,472.91 1354.90,473.02 1356.40,473.10 1357.90,473.08 1359.40,473.09 1360.90,473.14 1362.40,473.08 1363.90,473.03 1365.40,473.13 1366.90,473.23 1368.40,473.19 1369.90,473.14 1371.40,473.15 1372.90,473.08 1374.40,472.97 1375.90,473.02 1377.40,473.12 1378.90,473.10 1379.30,473.08 1379.70,473.06 1380.10,473.05 1380.50,473.05 1380.90,473.06 1381.30,473.07 1381.70,473.08 1382.10,473.09 1382.50,473.10 1382.90,473.09 1383.30,473.08 1383.70,473.07 1384.10,473.05 1384.50,473.03 1384.90,473.02 1385.30,473.02 1385.70,473.04 1386.10,473.07 1386.50,473.11 1386.90,473.16 1387.30,473.20 1387.70,473.24 1388.10,473.28 1388.50,473.30 1388.90,473.30 1389.30,473.30 1389.70,473.29 1390.10,473.27 1390.50,473.26 1390.90,473.25 1391.30,473.25 1391.70,473.26 1392.10,473.27 1392.50,473.28 1392.90,473.29 1393.30,473.30 1393.70,473.29 1394.10,473.28 1394.50,473.26 1394.90,473.24 1395.30,473.21 1395.70,473.20 1396.10,473.19 1396.50,473.20 1396.90,473.22 1397.30,473.25 1397.70,473.28 1398.10,473.31 1398.50,473.34 1398.90,473.35 1399.30,473.34 1399.70,473.30 1400.10,473.21 1400.50,473.06 1400.90,472.84 1401.30,472.55 1401.70,472.23 1402.10,471.94 1402.50,471.76 1402.90,471.73 1403.30,471.86 1403.70,472.11 1404.10,472.41 1404.50,472.68 1404.90,472.89 1405.30,473.02 1405.70,473.08 1406.10,473.11 1406.50,473.11 1406.90,473.12 1407.30,473.13 1407.70,473.16 1408.10,473.20 1408.50,473.24 1408.90,473.28 1409.30,473.31 1409.70,473.34 1410.10,473.35 1410.50,473.35 1410.90,473.34 1411.30,473.33 1411.70,473.31 1412.10,473.29 1412.50,473.28 1412.90,473.28 1413.30,473.28 1413.70,473.30 1414.10,473.31 1414.50,473.33 1414.90,473.34 1415.30,473.34 1415.70,473.34 1416.10,473.33 1416.50,473.31 1416.90,473.30 1417.30,473.29 1417.70,473.30 1418.10,473.31 1418.50,473.34 1418.90,473.37 1419.30,473.41 1419.70,473.45 1420.10,473.48 1420.50,473.50 1420.90,473.51 1421.30,473.50 1421.70,473.48 1422.10,473.45 1422.50,473.42 1422.90,473.39 1423.30,473.36 1423.70,473.34 1424.10,473.34 1424.50,473.34 1424.90,473.34 1425.30,473.34 1425.70,473.34 1426.10,473.33 1426.50,473.31 1426.90,473.29 1427.30,473.26 1427.70,473.24 1428.10,473.22 1429.60,473.25 1431.10,473.34 1432.60,473.30 1434.10,473.18 1435.60,473.18 1437.10,473.20 1438.60,473.16 1440.10,473.21 1441.60,473.35 1443.10,473.36 1444.60,473.26 1446.10,473.24 1447.60,473.27 1449.10,473.22 1450.60,473.20 1452.10,473.28 1453.60,473.28" fill="none" stroke="#000" stroke-width="2.9" stroke-linejoin="round" stroke-linecap="round" />
<polyline points="1486.00,473.06 1487.50,473.15 1489.00,473.21 1490.50,473.13 1492.00,473.13 1493.50,473.22 1495.00,473.21 1496.50,473.23 1498.00,473.37 1499.50,473.38 1501.00,473.30 1502.50,473.31 1504.00,473.29 1505.50,473.17 1507.00,473.19 1508.50,473.28 1510.00,473.26 1511.50,473.27 1513.00,473.36 1514.50,473.30 1516.00,473.21 1517.50,473.27 1519.00,473.29 1520.50,473.26 1522.00,473.35 1523.50,473.45 1525.00,473.37 1526.50,473.33 1528.00,473.34 1529.50,473.22 1531.00,473.13 1532.50,473.19 1534.00,473.18 1535.50,473.11 1537.00,473.15 1538.50,473.15 1540.00,473.01 1541.50,472.97 1541.90,472.99 1542.30,473.00 1542.70,473.01 1543.10,473.02 1543.50,473.01 1543.90,473.00 1544.30,472.98 1544.70,472.96 1545.10,472.96 1545.50,472.97 1545.90,472.99 1546.30,473.03 1546.70,473.07 1547.10,473.11 1547.50,473.15 1547.90,473.17 1548.30,473.18 1548.70,473.18 1549.10,473.16 1549.50,473.15 1549.90,473.13 1550.30,473.12 1550.70,473.13 1551.10,473.14 1551.50,473.16 1551.90,473.18 1552.30,473.19 1552.70,473.19 1553.10,473.19 1553.50,473.17 1553.90,473.14 1554.30,473.11 1554.70,473.08 1555.10,473.06 1555.50,473.06 1555.90,473.07 1556.30,473.09 1556.70,473.12 1557.10,473.16 1557.50,473.18 1557.90,473.19 1558.30,473.20 1558.70,473.19 1559.10,473.18 1559.50,473.16 1559.90,473.15 1560.30,473.16 1560.70,473.17 1561.10,473.19 1561.50,473.20 1561.90,473.21 1562.30,473.18 1562.70,473.09 1563.10,472.92 1563.50,472.67 1563.90,472.35 1564.30,472.02 1564.70,471.74 1565.10,471.60 1565.50,471.63 1565.90,471.82 1566.30,472.11 1566.70,472.42 1567.10,472.70 1567.50,472.89 1567.90,473.01 1568.30,473.07 1568.70,473.08 1569.10,473.08 1569.50,473.07 1569.90,473.07 1570.30,473.09 1570.70,473.11 1571.10,473.15 1571.50,473.20 1571.90,473.24 1572.30,473.27 1572.70,473.30 1573.10,473.30 1573.50,473.30 1573.90,473.29 1574.30,473.28 1574.70,473.27 1575.10,473.27 1575.50,473.28 1575.90,473.29 1576.30,473.32 1576.70,473.34 1577.10,473.36 1577.50,473.36 1577.90,473.35 1578.30,473.34 1578.70,473.31 1579.10,473.28 1579.50,473.26 1579.90,473.25 1580.30,473.26 1580.70,473.28 1581.10,473.31 1581.50,473.34 1581.90,473.37 1582.30,473.40 1582.70,473.41 1583.10,473.41 1583.50,473.41 1583.90,473.40 1584.30,473.39 1584.70,473.38 1585.10,473.39 1585.50,473.41 1585.90,473.43 1586.30,473.46 1586.70,473.48 1587.10,473.49 1587.50,473.49 1587.90,473.47 1588.30,473.43 1588.70,473.39 1589.10,473.35 1589.50,473.31 1589.90,473.29 1590.30,473.27 1591.80,473.28 1593.30,473.22 1594.80,473.14 1596.30,473.21 1597.80,473.26 1599.30,473.18 1600.80,473.18 1602.30,473.19 1603.80,473.08 1605.30,473.05 1606.80,473.15 1608.30,473.16 1609.80,473.16 1611.30,473.26 1612.80,473.26 1614.30,473.13 1615.80,473.12 1617.30,473.12" fill="none" stroke="#000" stroke-width="2.9" stroke-linejoin="round" stroke-linecap="round" />
<polyline points="329.00,616.46 330.50,616.49 332.00,616.48 333.50,616.56 335.00,616.67 336.50,616.65 338.00,616.59 339.50,616.63 341.00,616.66 342.50,616.60 344.00,616.60 345.50,616.72 347.00,616.76 348.50,616.71 350.00,616.72 351.50,616.75 353.00,616.66 354.50,616.53 356.00,616.53 357.50,616.56 359.00,616.51 360.50,616.49 362.00,616.58 363.50,616.60 365.00,616.50 366.50,616.46 368.00,616.50 369.50,616.45 371.00,616.39 372.50,616.46 374.00,616.56 375.50,616.55 377.00,616.54 378.50,616.60 380.00,616.59 381.50,616.47 383.00,616.42 384.50,616.46 384.90,616.46 385.30,616.46 385.70,616.45 386.10,616.43 386.50,616.41 386.90,616.39 387.30,616.38 387.70,616.37 388.10,616.38 388.50,616.39 388.90,616.42 389.30,616.44 389.70,616.47 390.10,616.48 390.50,616.49 390.90,616.49 391.30,616.47 391.70,616.45 392.10,616.41 392.50,616.38 392.90,616.36 393.30,616.34 393.70,616.32 394.10,616.32 394.50,616.32 394.90,616.33 395.30,616.34 395.70,616.34 396.10,616.33 396.50,616.32 396.90,616.29 397.30,616.27 397.70,616.24 398.10,616.21 398.50,616.19 398.90,616.19 399.30,616.20 399.70,616.21 400.10,616.24 400.50,616.27 400.90,616.31 401.30,616.33 401.70,616.35 402.10,616.36 402.50,616.36 402.90,616.36 403.30,616.35 403.70,616.34 404.10,616.34 404.50,616.35 404.90,616.36 405.30,616.37 405.70,616.36 406.10,616.32 406.50,616.22 406.90,616.05 407.30,615.79 407.70,615.49 408.10,615.19 408.50,614.98 408.90,614.91 409.30,615.01 409.70,615.23 410.10,615.52 410.50,615.81 410.90,616.05 411.30,616.22 411.70,616.34 412.10,616.41 412.50,616.44 412.90,616.46 413.30,616.46 413.70,616.46 414.10,616.45 414.50,616.44 414.90,616.43 415.30,616.43 415.70,616.45 416.10,616.47 416.50,616.50 416.90,616.53 417.30,616.57 417.70,616.60 418.10,616.62 418.50,616.62 418.90,616.62 419.30,616.60 419.70,616.58 420.10,616.56 420.50,616.54 420.90,616.52 421.30,616.51 421.70,616.51 422.10,616.52 422.50,616.53 422.90,616.54 423.30,616.54 423.70,616.54 424.10,616.52 424.50,616.50 424.90,616.47 425.30,616.44 425.70,616.41 426.10,616.39 426.50,616.38 426.90,616.38 427.30,616.39 427.70,616.41 428.10,616.44 428.50,616.46 428.90,616.49 429.30,616.51 429.70,616.51 430.10,616.51 430.50,616.50 430.90,616.49 431.30,616.48 431.70,616.48 432.10,616.48 432.50,616.49 432.90,616.51 433.30,616.53 433.70,616.56 434.10,616.58 435.60,616.58 437.10,616.48 438.60,616.48 440.10,616.55 441.60,616.55 443.10,616.54 444.60,616.65 446.10,616.76 447.60,616.73 449.10,616.70 450.60,616.74 452.10,616.71 453.60,616.60 455.10,616.59 456.60,616.67 458.10,616.66 459.60,616.61 461.10,616.64" fill="none" stroke="#000" stroke-width="2.9" stroke-linejoin="round" stroke-linecap="round" />
<polyline points="497.50,616.96 499.00,616.83 500.50,616.81 502.00,616.90 503.50,616.89 505.00,616.88 506.50,616.97 508.00,616.94 509.50,616.84 511.00,616.88 512.50,616.93 514.00,616.90 515.50,617.00 517.00,617.14 518.50,617.13 520.00,617.10 521.50,617.16 523.00,617.12 524.50,617.04 526.00,617.13 527.50,617.20 529.00,617.16 530.50,617.18 532.00,617.21 533.50,617.09 535.00,617.00 536.50,617.04 538.00,617.03 539.50,617.00 541.00,617.11 542.50,617.16 544.00,617.07 545.50,617.06 545.90,617.08 546.30,617.09 546.70,617.10 547.10,617.10 547.50,617.08 547.90,617.06 548.30,617.04 548.70,617.01 549.10,617.00 549.50,617.00 549.90,617.02 550.30,617.05 550.70,617.09 551.10,617.13 551.50,617.16 551.90,617.18 552.30,617.19 552.70,617.19 553.10,617.18 553.50,617.16 553.90,617.15 554.30,617.14 554.70,617.15 555.10,617.16 555.50,617.17 555.90,617.19 556.30,617.20 556.70,617.20 557.10,617.19 557.50,617.16 557.90,617.12 558.30,617.08 558.70,617.04 559.10,617.00 559.50,616.98 559.90,616.98 560.30,616.98 560.70,617.00 561.10,617.01 561.50,617.03 561.90,617.03 562.30,617.02 562.70,617.01 563.10,616.99 563.50,616.97 563.90,616.95 564.30,616.94 564.70,616.95 565.10,616.97 565.50,616.99 565.90,617.01 566.30,617.03 566.70,617.03 567.10,617.00 567.50,616.93 567.90,616.80 568.30,616.61 568.70,616.35 569.10,616.03 569.50,615.71 569.90,615.46 570.30,615.34 570.70,615.39 571.10,615.59 571.50,615.87 571.90,616.16 572.30,616.41 572.70,616.57 573.10,616.67 573.50,616.71 573.90,616.73 574.30,616.74 574.70,616.76 575.10,616.78 575.50,616.82 575.90,616.86 576.30,616.90 576.70,616.92 577.10,616.94 577.50,616.94 577.90,616.93 578.30,616.91 578.70,616.90 579.10,616.89 579.50,616.89 579.90,616.90 580.30,616.92 580.70,616.94 581.10,616.96 581.50,616.97 581.90,616.96 582.30,616.95 582.70,616.92 583.10,616.89 583.50,616.86 583.90,616.84 584.30,616.82 584.70,616.83 585.10,616.85 585.50,616.87 585.90,616.90 586.30,616.93 586.70,616.95 587.10,616.96 587.50,616.96 587.90,616.95 588.30,616.94 588.70,616.93 589.10,616.93 589.50,616.94 589.90,616.96 590.30,616.99 590.70,617.01 591.10,617.04 591.50,617.05 591.90,617.05 592.30,617.03 592.70,617.00 593.10,616.96 593.50,616.92 593.90,616.89 594.30,616.87 594.70,616.86 595.10,616.86 595.50,616.87 597.00,616.88 598.50,616.80 600.00,616.82 601.50,616.94 603.00,616.93 604.50,616.88 606.00,616.93 607.50,616.91 609.00,616.83 610.50,616.92 612.00,617.03 613.50,617.04 615.00,617.10 616.50,617.20 618.00,617.14" fill="none" stroke="#000" stroke-width="2.9" stroke-linejoin="round" stroke-linecap="round" />
<polyline points="653.00,615.78 654.50,615.76 656.00,615.73 657.50,615.77 659.00,615.85 660.50,615.84 662.00,615.72 663.50,615.63 665.00,615.62 666.50,615.62 668.00,615.56 669.50,615.52 671.00,615.58 672.50,615.63 674.00,615.57 675.50,615.46 677.00,615.42 678.50,615.45 680.00,615.45 681.50,615.42 683.00,615.45 684.50,615.55 686.00,615.60 687.50,615.53 689.00,615.46 690.50,615.47 692.00,615.52 693.50,615.51 695.00,615.50 696.50,615.56 698.00,615.66 699.50,615.64 701.00,615.54 702.50,615.48 704.00,615.51 705.50,615.52 707.00,615.48 708.50,615.48 710.00,615.57 710.40,615.59 710.80,615.61 711.20,615.62 711.60,615.63 712.00,615.62 712.40,615.60 712.80,615.58 713.20,615.55 713.60,615.52 714.00,615.50 714.40,615.48 714.80,615.46 715.20,615.46 715.60,615.46 716.00,615.47 716.40,615.48 716.80,615.50 717.20,615.51 717.60,615.53 718.00,615.53 718.40,615.54 718.80,615.54 719.20,615.53 719.60,615.53 720.00,615.52 720.40,615.52 720.80,615.53 721.20,615.54 721.60,615.57 722.00,615.59 722.40,615.62 722.80,615.66 723.20,615.69 723.60,615.72 724.00,615.74 724.40,615.75 724.80,615.75 725.20,615.75 725.60,615.73 726.00,615.71 726.40,615.69 726.80,615.67 727.20,615.65 727.60,615.64 728.00,615.64 728.40,615.64 728.80,615.65 729.20,615.67 729.60,615.69 730.00,615.71 730.40,615.72 730.80,615.72 731.20,615.71 731.60,615.68 732.00,615.60 732.40,615.45 732.80,615.24 733.20,614.97 733.60,614.67 734.00,614.42 734.40,614.28 734.80,614.30 735.20,614.48 735.60,614.77 736.00,615.10 736.40,615.40 736.80,615.62 737.20,615.77 737.60,615.84 738.00,615.87 738.40,615.87 738.80,615.85 739.20,615.82 739.60,615.79 740.00,615.76 740.40,615.74 740.80,615.72 741.20,615.72 741.60,615.72 742.00,615.72 742.40,615.73 742.80,615.74 743.20,615.75 743.60,615.75 744.00,615.75 744.40,615.74 744.80,615.73 745.20,615.71 745.60,615.69 746.00,615.68 746.40,615.67 746.80,615.67 747.20,615.67 747.60,615.68 748.00,615.70 748.40,615.72 748.80,615.74 749.20,615.76 749.60,615.77 750.00,615.77 750.40,615.76 750.80,615.75 751.20,615.72 751.60,615.69 752.00,615.65 752.40,615.62 752.80,615.58 753.20,615.56 753.60,615.54 754.00,615.52 754.40,615.52 754.80,615.52 755.20,615.53 755.60,615.53 756.00,615.54 756.40,615.54 756.80,615.54 757.20,615.54 757.60,615.53 758.00,615.52 758.40,615.50 758.80,615.49 759.20,615.48 759.60,615.48 760.00,615.49 761.50,615.56 763.00,615.63 764.50,615.57 766.00,615.47 767.50,615.45 769.00,615.50 770.50,615.52 772.00,615.49 773.50,615.53 775.00,615.63 776.50,615.66 778.00,615.57 779.50,615.48 781.00,615.50 782.50,615.53 784.00,615.50 785.50,615.48 787.00,615.54 788.50,615.61" fill="none" stroke="#000" stroke-width="2.9" stroke-linejoin="round" stroke-linecap="round" />
<polyline points="824.00,614.97 825.50,614.94 827.00,614.90 828.50,614.98 830.00,615.07 831.50,615.02 833.00,614.96 834.50,614.98 836.00,614.97 837.50,614.88 839.00,614.86 840.50,614.98 842.00,615.05 843.50,615.05 845.00,615.10 846.50,615.20 848.00,615.17 849.50,615.09 851.00,615.11 852.50,615.18 854.00,615.17 855.50,615.15 857.00,615.23 858.50,615.28 860.00,615.18 861.50,615.08 863.00,615.07 864.50,615.03 866.00,614.93 867.50,614.92 869.00,615.02 870.50,615.04 872.00,614.98 873.50,614.99 875.00,615.03 876.50,614.96 878.00,614.88 879.50,614.92 879.90,614.95 880.30,614.97 880.70,615.00 881.10,615.01 881.50,615.01 881.90,615.01 882.30,615.00 882.70,614.99 883.10,614.98 883.50,614.98 883.90,614.98 884.30,614.99 884.70,615.01 885.10,615.03 885.50,615.05 885.90,615.07 886.30,615.07 886.70,615.07 887.10,615.06 887.50,615.03 887.90,615.00 888.30,614.96 888.70,614.92 889.10,614.89 889.50,614.86 889.90,614.85 890.30,614.84 890.70,614.84 891.10,614.85 891.50,614.86 891.90,614.86 892.30,614.86 892.70,614.85 893.10,614.84 893.50,614.82 893.90,614.80 894.30,614.78 894.70,614.76 895.10,614.76 895.50,614.77 895.90,614.79 896.30,614.81 896.70,614.84 897.10,614.87 897.50,614.90 897.90,614.91 898.30,614.91 898.70,614.91 899.10,614.89 899.50,614.87 899.90,614.84 900.30,614.81 900.70,614.76 901.10,614.69 901.50,614.58 901.90,614.40 902.30,614.15 902.70,613.87 903.10,613.60 903.50,613.42 903.90,613.38 904.30,613.49 904.70,613.72 905.10,614.00 905.50,614.26 905.90,614.48 906.30,614.63 906.70,614.73 907.10,614.80 907.50,614.85 907.90,614.90 908.30,614.94 908.70,614.98 909.10,615.01 909.50,615.04 909.90,615.05 910.30,615.06 910.70,615.06 911.10,615.05 911.50,615.05 911.90,615.05 912.30,615.06 912.70,615.07 913.10,615.09 913.50,615.11 913.90,615.13 914.30,615.15 914.70,615.16 915.10,615.16 915.50,615.15 915.90,615.13 916.30,615.10 916.70,615.07 917.10,615.04 917.50,615.02 917.90,615.00 918.30,615.00 918.70,615.01 919.10,615.02 919.50,615.04 919.90,615.06 920.30,615.08 920.70,615.09 921.10,615.09 921.50,615.08 921.90,615.07 922.30,615.06 922.70,615.05 923.10,615.04 923.50,615.04 923.90,615.05 924.30,615.07 924.70,615.09 925.10,615.12 925.50,615.14 925.90,615.16 926.30,615.16 926.70,615.16 927.10,615.14 927.50,615.12 927.90,615.09 928.30,615.06 928.70,615.03 929.10,615.01 930.60,615.01 932.10,615.05 933.60,615.00 935.10,615.00 936.60,615.12 938.10,615.21 939.60,615.18 941.10,615.16 942.60,615.20 944.10,615.17 945.60,615.06 947.10,615.04 948.60,615.12 950.10,615.11 951.60,615.05 953.10,615.06 954.60,615.07 956.10,614.96" fill="none" stroke="#000" stroke-width="2.9" stroke-linejoin="round" stroke-linecap="round" />
<polyline points="990.00,615.02 991.50,615.13 993.00,615.13 994.50,615.01 996.00,614.96 997.50,614.95 999.00,614.87 1000.50,614.80 1002.00,614.87 1003.50,614.95 1005.00,614.89 1006.50,614.80 1008.00,614.80 1009.50,614.81 1011.00,614.76 1012.50,614.78 1014.00,614.91 1015.50,614.98 1017.00,614.92 1018.50,614.89 1020.00,614.93 1021.50,614.92 1023.00,614.87 1024.50,614.95 1026.00,615.06 1027.50,615.04 1029.00,614.94 1030.50,614.93 1032.00,614.94 1033.50,614.87 1035.00,614.85 1036.50,614.95 1038.00,615.02 1039.50,614.95 1041.00,614.88 1042.50,614.91 1044.00,614.92 1044.40,614.91 1044.80,614.90 1045.20,614.89 1045.60,614.88 1046.00,614.89 1046.40,614.91 1046.80,614.93 1047.20,614.97 1047.60,615.01 1048.00,615.05 1048.40,615.09 1048.80,615.12 1049.20,615.14 1049.60,615.14 1050.00,615.14 1050.40,615.12 1050.80,615.10 1051.20,615.08 1051.60,615.07 1052.00,615.06 1052.40,615.06 1052.80,615.06 1053.20,615.08 1053.60,615.09 1054.00,615.11 1054.40,615.12 1054.80,615.13 1055.20,615.12 1055.60,615.12 1056.00,615.10 1056.40,615.09 1056.80,615.09 1057.20,615.08 1057.60,615.09 1058.00,615.11 1058.40,615.14 1058.80,615.18 1059.20,615.21 1059.60,615.25 1060.00,615.27 1060.40,615.29 1060.80,615.29 1061.20,615.28 1061.60,615.26 1062.00,615.24 1062.40,615.21 1062.80,615.18 1063.20,615.16 1063.60,615.14 1064.00,615.13 1064.40,615.13 1064.80,615.13 1065.20,615.12 1065.60,615.08 1066.00,615.00 1066.40,614.86 1066.80,614.64 1067.20,614.34 1067.60,614.02 1068.00,613.74 1068.40,613.57 1068.80,613.56 1069.20,613.72 1069.60,614.00 1070.00,614.33 1070.40,614.63 1070.80,614.87 1071.20,615.03 1071.60,615.12 1072.00,615.16 1072.40,615.17 1072.80,615.16 1073.20,615.13 1073.60,615.10 1074.00,615.07 1074.40,615.04 1074.80,615.02 1075.20,615.01 1075.60,615.00 1076.00,615.01 1076.40,615.01 1076.80,615.02 1077.20,615.03 1077.60,615.02 1078.00,615.02 1078.40,615.00 1078.80,614.99 1079.20,614.97 1079.60,614.96 1080.00,614.95 1080.40,614.96 1080.80,614.98 1081.20,615.00 1081.60,615.04 1082.00,615.07 1082.40,615.11 1082.80,615.13 1083.20,615.15 1083.60,615.16 1084.00,615.15 1084.40,615.13 1084.80,615.10 1085.20,615.08 1085.60,615.05 1086.00,615.04 1086.40,615.03 1086.80,615.03 1087.20,615.03 1087.60,615.04 1088.00,615.05 1088.40,615.06 1088.80,615.07 1089.20,615.07 1089.60,615.06 1090.00,615.05 1090.40,615.03 1090.80,615.02 1091.20,615.01 1091.60,615.01 1092.00,615.02 1092.40,615.05 1092.80,615.07 1093.20,615.11 1093.60,615.14 1095.10,615.18 1096.60,615.08 1098.10,615.00 1099.60,615.00 1101.10,614.96 1102.60,614.89 1104.10,614.91 1105.60,615.00 1107.10,614.96 1108.60,614.83 1110.10,614.79 1111.60,614.81 1113.10,614.77 1114.60,614.75 1116.10,614.86 1117.60,614.94 1119.10,614.88 1120.60,614.82" fill="none" stroke="#000" stroke-width="2.9" stroke-linejoin="round" stroke-linecap="round" />
<polyline points="1154.00,615.90 1155.50,615.90 1157.00,615.87 1158.50,615.97 1160.00,616.06 1161.50,616.01 1163.00,615.94 1164.50,615.96 1166.00,615.91 1167.50,615.81 1169.00,615.85 1170.50,615.96 1172.00,615.95 1173.50,615.92 1175.00,615.99 1176.50,615.98 1178.00,615.89 1179.50,615.91 1181.00,616.03 1182.50,616.06 1184.00,616.08 1185.50,616.20 1187.00,616.25 1188.50,616.16 1190.00,616.12 1191.50,616.17 1193.00,616.14 1194.50,616.10 1196.00,616.17 1197.50,616.24 1199.00,616.15 1200.50,616.08 1202.00,616.09 1203.50,616.02 1205.00,615.92 1206.50,615.97 1208.00,616.07 1209.50,616.05 1211.00,616.04 1212.50,616.10 1212.90,616.11 1213.30,616.11 1213.70,616.10 1214.10,616.07 1214.50,616.04 1214.90,616.01 1215.30,615.98 1215.70,615.96 1216.10,615.95 1216.50,615.95 1216.90,615.97 1217.30,615.99 1217.70,616.01 1218.10,616.04 1218.50,616.05 1218.90,616.06 1219.30,616.06 1219.70,616.05 1220.10,616.04 1220.50,616.02 1220.90,616.02 1221.30,616.02 1221.70,616.03 1222.10,616.05 1222.50,616.07 1222.90,616.10 1223.30,616.12 1223.70,616.12 1224.10,616.12 1224.50,616.10 1224.90,616.07 1225.30,616.03 1225.70,615.99 1226.10,615.95 1226.50,615.92 1226.90,615.90 1227.30,615.89 1227.70,615.89 1228.10,615.89 1228.50,615.90 1228.90,615.90 1229.30,615.89 1229.70,615.88 1230.10,615.86 1230.50,615.83 1230.90,615.81 1231.30,615.79 1231.70,615.78 1232.10,615.78 1232.50,615.79 1232.90,615.81 1233.30,615.84 1233.70,615.86 1234.10,615.86 1234.50,615.83 1234.90,615.74 1235.30,615.58 1235.70,615.34 1236.10,615.03 1236.50,614.70 1236.90,614.44 1237.30,614.31 1237.70,614.34 1238.10,614.54 1238.50,614.83 1238.90,615.14 1239.30,615.41 1239.70,615.60 1240.10,615.71 1240.50,615.77 1240.90,615.78 1241.30,615.77 1241.70,615.75 1242.10,615.74 1242.50,615.73 1242.90,615.74 1243.30,615.76 1243.70,615.80 1244.10,615.84 1244.50,615.88 1244.90,615.91 1245.30,615.94 1245.70,615.96 1246.10,615.96 1246.50,615.96 1246.90,615.96 1247.30,615.95 1247.70,615.95 1248.10,615.96 1248.50,615.97 1248.90,616.00 1249.30,616.02 1249.70,616.05 1250.10,616.06 1250.50,616.07 1250.90,616.06 1251.30,616.05 1251.70,616.02 1252.10,615.99 1252.50,615.96 1252.90,615.93 1253.30,615.92 1253.70,615.92 1254.10,615.93 1254.50,615.95 1254.90,615.97 1255.30,616.00 1255.70,616.01 1256.10,616.03 1256.50,616.03 1256.90,616.02 1257.30,616.01 1257.70,616.00 1258.10,615.99 1258.50,615.99 1258.90,616.00 1259.30,616.02 1259.70,616.04 1260.10,616.07 1260.50,616.09 1260.90,616.11 1261.30,616.12 1261.70,616.11 1262.10,616.09 1262.50,616.06 1264.00,615.95 1265.50,615.96 1267.00,615.98 1268.50,615.92 1270.00,615.96 1271.50,616.11 1273.00,616.14 1274.50,616.09 1276.00,616.13 1277.50,616.16 1279.00,616.09 1280.50,616.08 1282.00,616.20 1283.50,616.25 1285.00,616.20 1286.50,616.23 1288.00,616.25 1289.50,616.12 1291.00,616.01 1292.50,616.04" fill="none" stroke="#000" stroke-width="2.9" stroke-linejoin="round" stroke-linecap="round" />
<polyline points="1326.40,615.24 1327.90,615.15 1329.40,615.07 1330.90,615.06 1332.40,615.03 1333.90,614.95 1335.40,614.93 1336.90,614.99 1338.40,615.00 1339.90,614.88 1341.40,614.77 1342.90,614.78 1344.40,614.86 1345.90,614.89 1347.40,614.89 1348.90,614.95 1350.40,614.99 1351.90,614.93 1353.40,614.84 1354.90,614.88 1356.40,614.98 1357.90,615.01 1359.40,614.94 1360.90,614.88 1362.40,614.88 1362.80,614.87 1363.20,614.87 1363.60,614.85 1364.00,614.84 1364.40,614.82 1364.80,614.80 1365.20,614.79 1365.60,614.78 1366.00,614.78 1366.40,614.79 1366.80,614.81 1367.20,614.84 1367.60,614.87 1368.00,614.91 1368.40,614.94 1368.80,614.97 1369.20,615.00 1369.60,615.01 1370.00,615.01 1370.40,615.00 1370.80,614.99 1371.20,614.96 1371.60,614.94 1372.00,614.92 1372.40,614.91 1372.80,614.90 1373.20,614.91 1373.60,614.92 1374.00,614.94 1374.40,614.96 1374.80,614.99 1375.20,615.01 1375.60,615.04 1376.00,615.05 1376.40,615.07 1376.80,615.07 1377.20,615.08 1377.60,615.08 1378.00,615.09 1378.40,615.09 1378.80,615.11 1379.20,615.12 1379.60,615.14 1380.00,615.17 1380.40,615.19 1380.80,615.21 1381.20,615.23 1381.60,615.23 1382.00,615.23 1382.40,615.20 1382.80,615.10 1383.20,614.78 1383.60,613.82 1384.00,611.25 1384.40,605.42 1384.80,594.43 1385.20,577.48 1385.60,556.72 1386.00,537.90 1386.40,528.08 1386.80,533.31 1387.20,547.55 1387.60,565.27 1388.00,581.60 1388.40,593.71 1388.80,601.29 1389.20,605.56 1389.60,607.89 1390.00,609.29 1390.40,610.25 1390.80,611.00 1391.20,611.62 1391.60,612.14 1392.00,612.59 1392.40,612.97 1392.80,613.30 1393.20,613.58 1393.60,613.81 1394.00,614.00 1394.40,614.16 1394.80,614.29 1395.20,614.39 1395.60,614.47 1396.00,614.54 1396.40,614.59 1396.80,614.64 1397.20,614.69 1397.60,614.74 1398.00,614.79 1398.40,614.85 1398.80,614.91 1399.20,614.97 1399.60,615.03 1400.00,615.08 1400.40,615.13 1400.80,615.16 1401.20,615.17 1401.60,615.18 1402.00,615.17 1402.40,615.16 1402.80,615.14 1403.20,615.12 1403.60,615.10 1404.00,615.09 1404.40,615.09 1404.80,615.09 1405.20,615.09 1405.60,615.10 1406.00,615.10 1406.40,615.09 1406.80,615.06 1407.20,614.98 1407.60,614.83 1408.00,614.56 1408.40,614.14 1408.80,613.59 1409.20,612.94 1409.60,612.30 1410.00,611.81 1410.40,611.57 1410.80,611.66 1411.20,612.06 1411.60,612.66 1412.00,613.32 1412.40,613.92 1412.80,614.40 1413.20,614.71 1413.60,614.89 1414.00,614.97 1414.40,614.98 1414.80,614.94 1415.20,614.86 1415.60,614.73 1416.00,614.55 1416.40,614.29 1416.80,613.97 1417.20,613.60 1417.60,613.25 1418.00,612.98 1418.40,612.86 1418.80,612.92 1419.20,613.15 1419.60,613.50 1420.00,613.87 1420.40,614.22 1420.80,614.48 1421.20,614.66 1421.60,614.77 1422.00,614.82 1422.40,614.85 1422.80,614.86 1423.20,614.88 1423.60,614.89 1424.00,614.90 1424.40,614.92 1424.80,614.93 1425.20,614.93 1425.60,614.93 1426.00,614.93 1426.40,614.91 1426.80,614.89 1427.20,614.87 1427.60,614.84 1428.00,614.82 1428.40,614.81 1428.80,614.81 1429.20,614.82 1429.60,614.84 1430.00,614.87 1430.40,614.90 1430.80,614.94 1431.20,614.98 1431.60,615.01 1432.00,615.03 1432.40,615.04 1432.80,615.04 1433.20,615.03 1433.60,615.02 1434.00,615.00 1434.40,614.97 1434.80,614.95 1435.20,614.93 1435.60,614.92 1436.00,614.91 1436.40,614.91 1436.80,614.91 1437.20,614.91 1437.60,614.91 1438.00,614.91 1438.40,614.90 1438.80,614.89 1439.20,614.87 1439.60,614.85 1440.00,614.83 1440.40,614.82 1440.80,614.81 1441.20,614.81 1441.60,614.81 1442.00,614.83 1442.40,614.85 1442.80,614.88 1443.20,614.90 1443.60,614.93 1445.10,614.95 1446.60,614.85 1448.10,614.79 1449.60,614.85 1451.10,614.94 1452.60,614.97" fill="none" stroke="#000" stroke-width="2.9" stroke-linejoin="round" stroke-linecap="round" />
<polyline points="1486.00,614.18 1487.50,614.09 1489.00,613.99 1490.50,613.99 1492.00,614.02 1493.50,614.00 1495.00,613.96 1496.50,614.02 1498.00,614.12 1499.50,614.12 1501.00,614.05 1502.50,614.04 1504.00,614.09 1505.50,614.10 1507.00,614.05 1508.50,614.06 1510.00,614.18 1511.50,614.26 1513.00,614.24 1514.50,614.21 1516.00,614.24 1517.50,614.25 1519.00,614.14 1520.50,614.03 1522.00,614.03 1523.50,614.08 1525.00,614.05 1526.50,614.00 1528.00,614.03 1528.40,614.05 1528.80,614.07 1529.20,614.09 1529.60,614.10 1530.00,614.10 1530.40,614.09 1530.80,614.07 1531.20,614.05 1531.60,614.02 1532.00,614.00 1532.40,613.97 1532.80,613.95 1533.20,613.93 1533.60,613.92 1534.00,613.92 1534.40,613.93 1534.80,613.94 1535.20,613.96 1535.60,613.97 1536.00,613.98 1536.40,613.98 1536.80,613.98 1537.20,613.97 1537.60,613.95 1538.00,613.94 1538.40,613.93 1538.80,613.92 1539.20,613.92 1539.60,613.93 1540.00,613.95 1540.40,613.97 1540.80,614.00 1541.20,614.03 1541.60,614.06 1542.00,614.09 1542.40,614.11 1542.80,614.12 1543.20,614.13 1543.60,614.12 1544.00,614.11 1544.40,614.09 1544.80,614.07 1545.20,614.05 1545.60,614.04 1546.00,614.03 1546.40,614.03 1546.80,614.04 1547.20,614.04 1547.60,614.05 1548.00,614.05 1548.40,614.04 1548.80,613.99 1549.20,613.77 1549.60,613.07 1550.00,611.09 1550.40,606.40 1550.80,597.12 1551.20,582.02 1551.60,562.37 1552.00,542.93 1552.40,530.62 1552.80,532.05 1553.20,544.28 1553.60,561.12 1554.00,577.68 1554.40,590.58 1554.80,598.97 1555.20,603.80 1555.60,606.43 1556.00,607.96 1556.40,608.98 1556.80,609.75 1557.20,610.38 1557.60,610.90 1558.00,611.34 1558.40,611.72 1558.80,612.05 1559.20,612.33 1559.60,612.58 1560.00,612.79 1560.40,612.97 1560.80,613.13 1561.20,613.25 1561.60,613.35 1562.00,613.42 1562.40,613.47 1562.80,613.51 1563.20,613.53 1563.60,613.55 1564.00,613.56 1564.40,613.57 1564.80,613.58 1565.20,613.60 1565.60,613.63 1566.00,613.66 1566.40,613.69 1566.80,613.72 1567.20,613.75 1567.60,613.77 1568.00,613.78 1568.40,613.79 1568.80,613.80 1569.20,613.80 1569.60,613.79 1570.00,613.79 1570.40,613.79 1570.80,613.80 1571.20,613.82 1571.60,613.84 1572.00,613.87 1572.40,613.89 1572.80,613.89 1573.20,613.86 1573.60,613.76 1574.00,613.55 1574.40,613.20 1574.80,612.70 1575.20,612.07 1575.60,611.41 1576.00,610.85 1576.40,610.52 1576.80,610.50 1577.20,610.81 1577.60,611.34 1578.00,611.99 1578.40,612.61 1578.80,613.13 1579.20,613.50 1579.60,613.74 1580.00,613.87 1580.40,613.93 1580.80,613.93 1581.20,613.89 1581.60,613.80 1582.00,613.65 1582.40,613.42 1582.80,613.11 1583.20,612.74 1583.60,612.37 1584.00,612.06 1584.40,611.90 1584.80,611.92 1585.20,612.12 1585.60,612.46 1586.00,612.85 1586.40,613.22 1586.80,613.52 1587.20,613.73 1587.60,613.86 1588.00,613.92 1588.40,613.95 1588.80,613.95 1589.20,613.94 1589.60,613.93 1590.00,613.93 1590.40,613.93 1590.80,613.94 1591.20,613.95 1591.60,613.96 1592.00,613.97 1592.40,613.98 1592.80,613.98 1593.20,613.98 1593.60,613.97 1594.00,613.94 1594.40,613.92 1594.80,613.89 1595.20,613.87 1595.60,613.84 1596.00,613.83 1596.40,613.82 1596.80,613.83 1597.20,613.84 1597.60,613.86 1598.00,613.89 1598.40,613.91 1598.80,613.94 1599.20,613.96 1599.60,613.98 1600.00,613.98 1600.40,613.99 1600.80,613.99 1601.20,613.98 1601.60,613.98 1602.00,613.99 1602.40,614.00 1602.80,614.02 1603.20,614.04 1603.60,614.07 1604.00,614.10 1604.40,614.13 1604.80,614.16 1605.20,614.19 1605.60,614.20 1606.00,614.21 1606.40,614.21 1606.80,614.19 1607.20,614.18 1607.60,614.15 1608.00,614.13 1608.40,614.12 1608.80,614.10 1609.20,614.10 1609.60,614.10 1611.10,614.15 1612.60,614.15 1614.10,614.09 1615.60,614.08 1617.10,614.17" fill="none" stroke="#000" stroke-width="2.9" stroke-linejoin="round" stroke-linecap="round" />
<polyline points="329.00,773.92 330.50,773.86 332.00,773.90 333.50,773.94 335.00,773.84 336.50,773.73 338.00,773.82 339.50,774.05 341.00,774.14 342.50,774.04 344.00,773.92 345.50,773.90 347.00,773.87 348.50,773.72 350.00,773.63 351.50,773.73 353.00,773.86 354.50,773.81 356.00,773.62 357.50,773.54 359.00,773.61 360.50,773.67 362.00,773.67 363.50,773.74 365.00,773.95 366.50,774.09 368.00,774.00 369.50,773.84 371.00,773.84 372.50,773.97 374.00,774.02 375.50,773.98 377.00,773.98 378.50,774.05 380.00,774.01 381.50,773.81 383.00,773.68 384.50,773.77 386.00,773.97 387.50,774.04 389.00,774.02 390.50,774.07 392.00,774.18 392.40,774.19 392.80,774.19 393.20,774.18 393.60,774.16 394.00,774.14 394.40,774.11 394.80,774.08 395.20,774.06 395.60,774.05 396.00,774.06 396.40,774.08 396.80,774.12 397.20,774.17 397.60,774.24 398.00,774.30 398.40,774.36 398.80,774.42 399.20,774.46 399.60,774.48 400.00,774.49 400.40,774.47 400.80,774.45 401.20,774.42 401.60,774.38 402.00,774.34 402.40,774.30 402.80,774.27 403.20,774.25 403.60,774.24 404.00,774.23 404.40,774.23 404.80,774.22 405.20,774.20 405.60,774.17 406.00,774.12 406.40,774.05 406.80,773.95 407.20,773.83 407.60,773.68 408.00,773.50 408.40,773.29 408.80,773.04 409.20,772.74 409.60,772.39 410.00,771.97 410.40,771.48 410.80,770.90 411.20,770.23 411.60,769.46 412.00,768.59 412.40,767.62 412.80,766.58 413.20,765.48 413.60,764.35 414.00,763.23 414.40,762.15 414.80,761.15 415.20,760.28 415.60,759.56 416.00,759.03 416.40,758.71 416.80,758.61 417.20,758.73 417.60,759.07 418.00,759.61 418.40,760.32 418.80,761.17 419.20,762.14 419.60,763.18 420.00,764.26 420.40,765.36 420.80,766.44 421.20,767.48 421.60,768.46 422.00,769.38 422.40,770.22 422.80,770.97 423.20,771.64 423.60,772.23 424.00,772.73 424.40,773.14 424.80,773.48 425.20,773.74 425.60,773.93 426.00,774.06 426.40,774.14 426.80,774.17 427.20,774.17 427.60,774.16 428.00,774.13 428.40,774.10 428.80,774.07 429.20,774.06 429.60,774.05 430.00,774.06 430.40,774.08 430.80,774.10 431.20,774.13 431.60,774.15 432.00,774.17 432.40,774.17 432.80,774.17 433.20,774.15 433.60,774.13 434.00,774.10 434.40,774.07 434.80,774.05 435.20,774.03 435.60,774.03 436.00,774.03 436.40,774.03 436.80,774.05 437.20,774.06 437.60,774.07 438.00,774.07 438.40,774.06 438.80,774.03 439.20,773.99 439.60,773.94 440.00,773.88 440.40,773.81 440.80,773.75 441.20,773.70 441.60,773.65 442.00,773.63 443.50,773.70 445.00,773.89 446.50,773.95 448.00,773.91 449.50,773.93 451.00,774.00 452.50,773.96 454.00,773.81 455.50,773.78 457.00,773.94 458.50,774.08 460.00,774.00 461.50,773.83" fill="none" stroke="#000" stroke-width="2.9" stroke-linejoin="round" stroke-linecap="round" />
<polyline points="497.50,773.58 499.00,773.66 500.50,773.47 502.00,773.41 503.50,773.39 505.00,773.21 506.50,773.17 508.00,773.37 509.50,773.36 511.00,773.18 512.50,773.17 514.00,773.14 515.50,772.98 517.00,773.06 518.50,773.33 520.00,773.35 521.50,773.29 523.00,773.39 524.50,773.38 526.00,773.26 527.50,773.43 529.00,773.67 530.50,773.64 532.00,773.60 533.50,773.66 535.00,773.53 536.50,773.37 538.00,773.51 539.50,773.66 541.00,773.57 542.50,773.55 544.00,773.59 545.50,773.42 547.00,773.32 548.50,773.54 550.00,773.69 551.50,773.65 553.00,773.75 553.40,773.78 553.80,773.81 554.20,773.82 554.60,773.81 555.00,773.78 555.40,773.73 555.80,773.67 556.20,773.63 556.60,773.59 557.00,773.59 557.40,773.61 557.80,773.66 558.20,773.72 558.60,773.79 559.00,773.85 559.40,773.90 559.80,773.93 560.20,773.93 560.60,773.92 561.00,773.90 561.40,773.88 561.80,773.87 562.20,773.87 562.60,773.88 563.00,773.90 563.40,773.91 563.80,773.91 564.20,773.88 564.60,773.81 565.00,773.70 565.40,773.52 565.80,773.29 566.20,773.00 566.60,772.62 567.00,772.15 567.40,771.55 567.80,770.78 568.20,769.79 568.60,768.51 569.00,766.87 569.40,764.79 569.80,762.20 570.20,759.03 570.60,755.24 571.00,750.79 571.40,745.67 571.80,739.90 572.20,733.51 572.60,726.60 573.00,719.26 573.40,711.65 573.80,703.93 574.20,696.31 574.60,689.01 575.00,682.28 575.40,676.36 575.80,671.46 576.20,667.78 576.60,665.50 577.00,664.69 577.40,665.41 577.80,667.62 578.20,671.23 578.60,676.10 579.00,682.02 579.40,688.76 579.80,696.08 580.20,703.72 580.60,711.46 581.00,719.09 581.40,726.42 581.80,733.33 582.20,739.69 582.60,745.46 583.00,750.58 583.40,755.04 583.80,758.85 584.20,762.05 584.60,764.68 585.00,766.79 585.40,768.44 585.80,769.71 586.20,770.67 586.60,771.38 587.00,771.91 587.40,772.30 587.80,772.60 588.20,772.84 588.60,773.03 589.00,773.18 589.40,773.31 589.80,773.40 590.20,773.46 590.60,773.49 591.00,773.49 591.40,773.49 591.80,773.48 592.20,773.47 592.60,773.48 593.00,773.51 593.40,773.54 593.80,773.59 594.20,773.62 594.60,773.65 595.00,773.65 595.40,773.63 595.80,773.58 596.20,773.51 596.60,773.43 597.00,773.35 597.40,773.29 597.80,773.25 598.20,773.23 598.60,773.24 599.00,773.26 599.40,773.29 599.80,773.32 600.20,773.33 600.60,773.33 601.00,773.31 601.40,773.29 601.80,773.26 602.20,773.23 603.70,773.29 605.20,773.38 606.70,773.19 608.20,772.99 609.70,773.08 611.20,773.14 612.70,773.12 614.20,773.30 615.70,773.46 617.20,773.31 618.70,773.23" fill="none" stroke="#000" stroke-width="2.9" stroke-linejoin="round" stroke-linecap="round" />
<polyline points="653.00,771.90 654.50,771.84 656.00,771.77 657.50,771.86 659.00,772.09 660.50,772.22 662.00,772.14 663.50,771.99 665.00,771.97 666.50,772.07 668.00,772.13 669.50,772.11 671.00,772.12 672.50,772.21 674.00,772.23 675.50,772.06 677.00,771.86 678.50,771.85 680.00,772.01 681.50,772.13 683.00,772.09 684.50,772.02 686.00,772.04 687.50,772.09 689.00,772.06 690.50,772.01 692.00,772.11 693.50,772.35 695.00,772.52 696.50,772.47 698.00,772.34 699.50,772.32 701.00,772.43 702.50,772.50 704.00,772.48 705.50,772.49 707.00,772.58 708.50,772.61 710.00,772.45 711.50,772.23 713.00,772.19 714.50,772.33 716.00,772.44 717.50,772.40 719.00,772.30 720.50,772.29 720.90,772.30 721.30,772.31 721.70,772.31 722.10,772.31 722.50,772.31 722.90,772.29 723.30,772.27 723.70,772.25 724.10,772.22 724.50,772.20 724.90,772.18 725.30,772.18 725.70,772.18 726.10,772.20 726.50,772.24 726.90,772.29 727.30,772.34 727.70,772.40 728.10,772.46 728.50,772.52 728.90,772.56 729.30,772.59 729.70,772.60 730.10,772.59 730.50,772.57 730.90,772.53 731.30,772.48 731.70,772.42 732.10,772.35 732.50,772.28 732.90,772.21 733.30,772.13 733.70,772.04 734.10,771.92 734.50,771.76 734.90,771.54 735.30,771.24 735.70,770.82 736.10,770.26 736.50,769.52 736.90,768.57 737.30,767.35 737.70,765.84 738.10,764.00 738.50,761.80 738.90,759.21 739.30,756.23 739.70,752.85 740.10,749.09 740.50,744.99 740.90,740.62 741.30,736.05 741.70,731.39 742.10,726.75 742.50,722.28 742.90,718.12 743.30,714.41 743.70,711.28 744.10,708.86 744.50,707.24 744.90,706.49 745.30,706.65 745.70,707.71 746.10,709.62 746.50,712.33 746.90,715.71 747.30,719.64 747.70,723.98 748.10,728.57 748.50,733.29 748.90,737.97 749.30,742.51 749.70,746.80 750.10,750.77 750.50,754.36 750.90,757.54 751.30,760.31 751.70,762.66 752.10,764.64 752.50,766.26 752.90,767.58 753.30,768.63 753.70,769.46 754.10,770.10 754.50,770.60 754.90,770.98 755.30,771.26 755.70,771.47 756.10,771.63 756.50,771.73 756.90,771.80 757.30,771.84 757.70,771.85 758.10,771.85 758.50,771.84 758.90,771.82 759.30,771.81 759.70,771.80 760.10,771.80 760.50,771.81 760.90,771.84 761.30,771.88 761.70,771.94 762.10,771.99 762.50,772.06 762.90,772.12 763.30,772.17 763.70,772.21 764.10,772.23 764.50,772.23 764.90,772.22 765.30,772.20 765.70,772.16 766.10,772.12 766.50,772.07 766.90,772.03 767.30,772.00 767.70,771.97 768.10,771.96 768.50,771.96 768.90,771.97 769.30,772.00 769.70,772.02 770.10,772.05 771.60,772.11 773.10,772.09 774.60,772.09 776.10,772.17 777.60,772.20 779.10,772.06 780.60,771.84 782.10,771.78 783.60,771.92 785.10,772.06 786.60,772.05 788.10,771.97" fill="none" stroke="#000" stroke-width="2.9" stroke-linejoin="round" stroke-linecap="round" />
<polyline points="824.00,772.85 825.50,772.78 827.00,772.94 828.50,772.93 830.00,772.87 831.50,773.04 833.00,773.07 834.50,772.90 836.00,772.95 837.50,772.98 839.00,772.81 840.50,772.86 842.00,773.05 843.50,773.04 845.00,773.13 846.50,773.39 848.00,773.40 849.50,773.32 851.00,773.44 852.50,773.38 854.00,773.18 855.50,773.24 857.00,773.29 858.50,773.15 860.00,773.21 861.50,773.34 863.00,773.19 864.50,773.11 866.00,773.16 867.50,772.98 869.00,772.81 870.50,772.91 872.00,772.90 873.50,772.82 875.00,773.01 876.50,773.14 878.00,773.04 879.50,773.11 881.00,773.17 882.50,772.97 884.00,772.88 885.50,772.96 887.00,772.83 888.50,772.75 888.90,772.78 889.30,772.83 889.70,772.88 890.10,772.92 890.50,772.94 890.90,772.94 891.30,772.92 891.70,772.88 892.10,772.83 892.50,772.79 892.90,772.77 893.30,772.77 893.70,772.78 894.10,772.81 894.50,772.85 894.90,772.87 895.30,772.87 895.70,772.84 896.10,772.80 896.50,772.73 896.90,772.66 897.30,772.60 897.70,772.56 898.10,772.54 898.50,772.54 898.90,772.55 899.30,772.58 899.70,772.59 900.10,772.59 900.50,772.55 900.90,772.49 901.30,772.38 901.70,772.25 902.10,772.07 902.50,771.86 902.90,771.60 903.30,771.25 903.70,770.77 904.10,770.13 904.50,769.25 904.90,768.07 905.30,766.53 905.70,764.55 906.10,762.08 906.50,759.06 906.90,755.45 907.30,751.22 907.70,746.35 908.10,740.83 908.50,734.70 908.90,728.01 909.30,720.84 909.70,713.33 910.10,705.65 910.50,698.00 910.90,690.60 911.30,683.72 911.70,677.61 912.10,672.49 912.50,668.58 912.90,666.03 913.30,664.94 913.70,665.35 914.10,667.23 914.50,670.50 914.90,675.02 915.30,680.61 915.70,687.05 916.10,694.13 916.50,701.62 916.90,709.29 917.30,716.93 917.70,724.36 918.10,731.40 918.50,737.94 918.90,743.88 919.30,749.16 919.70,753.75 920.10,757.67 920.50,760.95 920.90,763.65 921.30,765.84 921.70,767.59 922.10,768.99 922.50,770.09 922.90,770.95 923.30,771.62 923.70,772.13 924.10,772.50 924.50,772.75 924.90,772.90 925.30,772.98 925.70,773.01 926.10,773.00 926.50,772.98 926.90,772.97 927.30,772.97 927.70,772.99 928.10,773.02 928.50,773.05 928.90,773.07 929.30,773.08 929.70,773.06 930.10,773.02 930.50,772.97 930.90,772.92 931.30,772.88 931.70,772.86 932.10,772.87 932.50,772.91 932.90,772.96 933.30,773.02 933.70,773.08 934.10,773.13 934.50,773.15 934.90,773.15 935.30,773.14 935.70,773.12 936.10,773.11 936.50,773.12 936.90,773.14 937.30,773.19 937.70,773.26 938.10,773.33 938.50,773.39 940.00,773.41 941.50,773.28 943.00,773.35 944.50,773.35 946.00,773.15 947.50,773.18 949.00,773.29 950.50,773.17 952.00,773.17 953.50,773.30 955.00,773.16 956.50,772.99" fill="none" stroke="#000" stroke-width="2.9" stroke-linejoin="round" stroke-linecap="round" />
<polyline points="990.00,773.71 991.50,773.75 993.00,773.76 994.50,773.59 996.00,773.34 997.50,773.25 999.00,773.33 1000.50,773.38 1002.00,773.34 1003.50,773.36 1005.00,773.50 1006.50,773.59 1008.00,773.49 1009.50,773.34 1011.00,773.34 1012.50,773.46 1014.00,773.48 1015.50,773.41 1017.00,773.42 1018.50,773.53 1020.00,773.53 1021.50,773.32 1023.00,773.11 1024.50,773.08 1026.00,773.13 1027.50,773.10 1029.00,773.05 1030.50,773.15 1032.00,773.36 1033.50,773.43 1035.00,773.32 1036.50,773.24 1038.00,773.31 1039.50,773.40 1041.00,773.36 1042.50,773.33 1044.00,773.43 1045.50,773.59 1047.00,773.57 1048.50,773.39 1050.00,773.26 1051.50,773.27 1053.00,773.27 1054.50,773.18 1056.00,773.16 1057.50,773.34 1059.00,773.55 1060.50,773.60 1062.00,773.52 1063.50,773.53 1063.90,773.55 1064.30,773.58 1064.70,773.61 1065.10,773.63 1065.50,773.65 1065.90,773.66 1066.30,773.66 1066.70,773.64 1067.10,773.62 1067.50,773.60 1067.90,773.57 1068.30,773.56 1068.70,773.55 1069.10,773.55 1069.50,773.57 1069.90,773.61 1070.30,773.65 1070.70,773.70 1071.10,773.75 1071.50,773.80 1071.90,773.85 1072.30,773.87 1072.70,773.89 1073.10,773.88 1073.50,773.86 1073.90,773.82 1074.30,773.77 1074.70,773.71 1075.10,773.64 1075.50,773.57 1075.90,773.48 1076.30,773.38 1076.70,773.26 1077.10,773.10 1077.50,772.88 1077.90,772.59 1078.30,772.19 1078.70,771.66 1079.10,770.96 1079.50,770.08 1079.90,768.97 1080.30,767.61 1080.70,765.97 1081.10,764.04 1081.50,761.80 1081.90,759.25 1082.30,756.40 1082.70,753.27 1083.10,749.91 1083.50,746.37 1083.90,742.72 1084.30,739.06 1084.70,735.47 1085.10,732.08 1085.50,728.99 1085.90,726.31 1086.30,724.14 1086.70,722.57 1087.10,721.67 1087.50,721.48 1087.90,722.00 1088.30,723.22 1088.70,725.10 1089.10,727.56 1089.50,730.51 1089.90,733.83 1090.30,737.42 1090.70,741.14 1091.10,744.89 1091.50,748.57 1091.90,752.07 1092.30,755.34 1092.70,758.32 1093.10,760.99 1093.50,763.33 1093.90,765.34 1094.30,767.04 1094.70,768.46 1095.10,769.63 1095.50,770.59 1095.90,771.36 1096.30,771.98 1096.70,772.47 1097.10,772.87 1097.50,773.17 1097.90,773.41 1098.30,773.59 1098.70,773.71 1099.10,773.80 1099.50,773.85 1099.90,773.87 1100.30,773.86 1100.70,773.85 1101.10,773.82 1101.50,773.79 1101.90,773.77 1102.30,773.75 1102.70,773.74 1103.10,773.74 1103.50,773.74 1103.90,773.74 1104.30,773.74 1104.70,773.74 1105.10,773.73 1105.50,773.70 1105.90,773.67 1106.30,773.62 1106.70,773.56 1107.10,773.50 1107.50,773.44 1107.90,773.39 1108.30,773.35 1108.70,773.32 1109.10,773.31 1109.50,773.32 1109.90,773.34 1110.30,773.38 1110.70,773.42 1111.10,773.47 1111.50,773.51 1111.90,773.54 1112.30,773.57 1112.70,773.58 1114.20,773.55 1115.70,773.55 1117.20,773.65 1118.70,773.70 1120.20,773.58" fill="none" stroke="#000" stroke-width="2.9" stroke-linejoin="round" stroke-linecap="round" />
<polyline points="1154.00,771.98 1155.50,771.97 1157.00,772.22 1158.50,772.38 1160.00,772.33 1161.50,772.37 1163.00,772.45 1164.50,772.29 1166.00,772.14 1167.50,772.24 1169.00,772.32 1170.50,772.21 1172.00,772.20 1173.50,772.26 1175.00,772.08 1176.50,771.85 1178.00,771.88 1179.50,771.96 1181.00,771.91 1182.50,772.00 1184.00,772.22 1185.50,772.21 1187.00,772.04 1188.50,772.06 1190.00,772.09 1191.50,771.94 1193.00,771.92 1194.50,772.09 1196.00,772.08 1197.50,771.89 1199.00,771.83 1200.50,771.81 1202.00,771.59 1203.50,771.50 1205.00,771.68 1206.50,771.79 1208.00,771.75 1209.50,771.85 1211.00,771.96 1212.50,771.83 1214.00,771.71 1215.50,771.83 1217.00,771.92 1218.50,771.85 1220.00,771.91 1221.50,772.03 1223.00,771.88 1224.50,771.66 1226.00,771.66 1226.40,771.68 1226.80,771.69 1227.20,771.69 1227.60,771.67 1228.00,771.64 1228.40,771.61 1228.80,771.58 1229.20,771.57 1229.60,771.57 1230.00,771.60 1230.40,771.65 1230.80,771.71 1231.20,771.78 1231.60,771.85 1232.00,771.91 1232.40,771.95 1232.80,771.97 1233.20,771.96 1233.60,771.94 1234.00,771.91 1234.40,771.88 1234.80,771.86 1235.20,771.85 1235.60,771.86 1236.00,771.88 1236.40,771.91 1236.80,771.93 1237.20,771.94 1237.60,771.92 1238.00,771.87 1238.40,771.77 1238.80,771.64 1239.20,771.45 1239.60,771.20 1240.00,770.88 1240.40,770.47 1240.80,769.92 1241.20,769.21 1241.60,768.27 1242.00,767.03 1242.40,765.44 1242.80,763.40 1243.20,760.86 1243.60,757.75 1244.00,754.02 1244.40,749.63 1244.80,744.58 1245.20,738.88 1245.60,732.58 1246.00,725.74 1246.40,718.50 1246.80,710.97 1247.20,703.36 1247.60,695.84 1248.00,688.65 1248.40,682.02 1248.80,676.19 1249.20,671.37 1249.60,667.75 1250.00,665.50 1250.40,664.69 1250.80,665.39 1251.20,667.56 1251.60,671.11 1252.00,675.89 1252.40,681.73 1252.80,688.38 1253.20,695.62 1253.60,703.18 1254.00,710.83 1254.40,718.38 1254.80,725.62 1255.20,732.43 1255.60,738.71 1256.00,744.38 1256.40,749.41 1256.80,753.81 1257.20,757.57 1257.60,760.75 1258.00,763.38 1258.40,765.51 1258.80,767.20 1259.20,768.51 1259.60,769.49 1260.00,770.22 1260.40,770.75 1260.80,771.12 1261.20,771.39 1261.60,771.58 1262.00,771.74 1262.40,771.86 1262.80,771.97 1263.20,772.06 1263.60,772.14 1264.00,772.20 1264.40,772.24 1264.80,772.26 1265.20,772.26 1265.60,772.25 1266.00,772.23 1266.40,772.23 1266.80,772.24 1267.20,772.26 1267.60,772.31 1268.00,772.36 1268.40,772.43 1268.80,772.48 1269.20,772.53 1269.60,772.55 1270.00,772.55 1270.40,772.52 1270.80,772.47 1271.20,772.41 1271.60,772.35 1272.00,772.30 1272.40,772.26 1272.80,772.24 1273.20,772.23 1273.60,772.23 1274.00,772.24 1274.40,772.24 1274.80,772.23 1275.20,772.21 1275.60,772.16 1277.10,771.98 1278.60,772.02 1280.10,772.20 1281.60,772.17 1283.10,772.07 1284.60,772.14 1286.10,772.14 1287.60,771.97 1289.10,772.00 1290.60,772.22 1292.10,772.26" fill="none" stroke="#000" stroke-width="2.9" stroke-linejoin="round" stroke-linecap="round" />
<polyline points="1326.40,773.30 1327.90,773.27 1329.40,773.37 1330.90,773.31 1332.40,773.28 1333.90,773.48 1335.40,773.56 1336.90,773.40 1338.40,773.35 1339.90,773.35 1341.40,773.15 1342.90,773.05 1344.40,773.25 1345.90,773.35 1347.40,773.31 1348.90,773.44 1350.40,773.55 1351.90,773.41 1353.40,773.37 1354.90,773.56 1356.40,773.63 1357.90,773.62 1359.40,773.79 1360.90,773.85 1362.40,773.63 1363.90,773.51 1365.40,773.55 1366.90,773.46 1368.40,773.40 1369.90,773.60 1371.40,773.71 1372.90,773.60 1374.40,773.61 1375.90,773.70 1377.40,773.60 1378.90,773.58 1380.40,773.83 1381.90,773.95 1383.40,773.88 1384.90,773.94 1386.40,773.95 1387.90,773.71 1389.40,773.56 1390.90,773.65 1392.40,773.64 1392.80,773.61 1393.20,773.58 1393.60,773.56 1394.00,773.56 1394.40,773.57 1394.80,773.61 1395.20,773.65 1395.60,773.70 1396.00,773.73 1396.40,773.75 1396.80,773.74 1397.20,773.71 1397.60,773.65 1398.00,773.59 1398.40,773.53 1398.80,773.48 1399.20,773.46 1399.60,773.45 1400.00,773.46 1400.40,773.49 1400.80,773.53 1401.20,773.56 1401.60,773.58 1402.00,773.58 1402.40,773.57 1402.80,773.54 1403.20,773.51 1403.60,773.48 1404.00,773.46 1404.40,773.45 1404.80,773.45 1405.20,773.44 1405.60,773.41 1406.00,773.32 1406.40,773.17 1406.80,772.91 1407.20,772.51 1407.60,771.95 1408.00,771.19 1408.40,770.20 1408.80,768.94 1409.20,767.37 1409.60,765.44 1410.00,763.10 1410.40,760.30 1410.80,756.99 1411.20,753.15 1411.60,748.76 1412.00,743.82 1412.40,738.39 1412.80,732.54 1413.20,726.38 1413.60,720.07 1414.00,713.76 1414.40,707.66 1414.80,701.97 1415.20,696.87 1415.60,692.55 1416.00,689.16 1416.40,686.84 1416.80,685.67 1417.20,685.69 1417.60,686.89 1418.00,689.23 1418.40,692.62 1418.80,696.93 1419.20,702.01 1419.60,707.67 1420.00,713.72 1420.40,719.98 1420.80,726.25 1421.20,732.36 1421.60,738.17 1422.00,743.56 1422.40,748.46 1422.80,752.81 1423.20,756.61 1423.60,759.86 1424.00,762.60 1424.40,764.88 1424.80,766.76 1425.20,768.29 1425.60,769.52 1426.00,770.51 1426.40,771.29 1426.80,771.89 1427.20,772.34 1427.60,772.67 1428.00,772.89 1428.40,773.04 1428.80,773.14 1429.20,773.20 1429.60,773.25 1430.00,773.30 1430.40,773.36 1430.80,773.42 1431.20,773.48 1431.60,773.54 1432.00,773.59 1432.40,773.61 1432.80,773.61 1433.20,773.59 1433.60,773.54 1434.00,773.47 1434.40,773.41 1434.80,773.36 1435.20,773.32 1435.60,773.30 1436.00,773.31 1436.40,773.32 1436.80,773.35 1437.20,773.37 1437.60,773.38 1438.00,773.37 1438.40,773.34 1438.80,773.30 1439.20,773.26 1439.60,773.23 1440.00,773.21 1440.40,773.21 1440.80,773.23 1441.20,773.27 1441.60,773.32 1442.00,773.37 1443.50,773.40 1445.00,773.19 1446.50,773.13 1448.00,773.16 1449.50,773.03 1451.00,773.02 1452.50,773.28" fill="none" stroke="#000" stroke-width="2.9" stroke-linejoin="round" stroke-linecap="round" />
<polyline points="1486.00,773.22 1487.50,773.31 1489.00,773.18 1490.50,773.07 1492.00,773.25 1493.50,773.35 1495.00,773.33 1496.50,773.51 1498.00,773.62 1499.50,773.44 1501.00,773.38 1502.50,773.45 1504.00,773.34 1505.50,773.31 1507.00,773.52 1508.50,773.55 1510.00,773.42 1511.50,773.48 1513.00,773.45 1514.50,773.23 1516.00,773.26 1517.50,773.44 1519.00,773.44 1520.50,773.51 1522.00,773.74 1523.50,773.70 1525.00,773.57 1526.50,773.67 1528.00,773.71 1529.50,773.63 1531.00,773.81 1532.50,774.01 1534.00,773.92 1535.50,773.89 1537.00,773.94 1538.50,773.75 1540.00,773.58 1541.50,773.69 1543.00,773.71 1544.50,773.61 1546.00,773.71 1547.50,773.74 1549.00,773.49 1549.40,773.44 1549.80,773.41 1550.20,773.40 1550.60,773.41 1551.00,773.43 1551.40,773.45 1551.80,773.46 1552.20,773.46 1552.60,773.44 1553.00,773.40 1553.40,773.36 1553.80,773.33 1554.20,773.31 1554.60,773.32 1555.00,773.35 1555.40,773.41 1555.80,773.47 1556.20,773.54 1556.60,773.60 1557.00,773.64 1557.40,773.65 1557.80,773.64 1558.20,773.61 1558.60,773.57 1559.00,773.53 1559.40,773.51 1559.80,773.50 1560.20,773.50 1560.60,773.51 1561.00,773.51 1561.40,773.48 1561.80,773.41 1562.20,773.29 1562.60,773.10 1563.00,772.83 1563.40,772.47 1563.80,772.01 1564.20,771.42 1564.60,770.66 1565.00,769.70 1565.40,768.47 1565.80,766.91 1566.20,764.94 1566.60,762.48 1567.00,759.48 1567.40,755.87 1567.80,751.62 1568.20,746.73 1568.60,741.19 1569.00,735.08 1569.40,728.45 1569.80,721.43 1570.20,714.15 1570.60,706.78 1571.00,699.52 1571.40,692.57 1571.80,686.15 1572.20,680.51 1572.60,675.83 1573.00,672.32 1573.40,670.12 1573.80,669.34 1574.20,670.00 1574.60,672.09 1575.00,675.52 1575.40,680.14 1575.80,685.78 1576.20,692.21 1576.60,699.18 1577.00,706.47 1577.40,713.85 1577.80,721.12 1578.20,728.11 1578.60,734.69 1579.00,740.77 1579.40,746.28 1579.80,751.18 1580.20,755.46 1580.60,759.13 1581.00,762.21 1581.40,764.75 1581.80,766.80 1582.20,768.41 1582.60,769.65 1583.00,770.59 1583.40,771.28 1583.80,771.80 1584.20,772.19 1584.60,772.49 1585.00,772.71 1585.40,772.89 1585.80,773.02 1586.20,773.11 1586.60,773.15 1587.00,773.16 1587.40,773.14 1587.80,773.10 1588.20,773.05 1588.60,773.02 1589.00,773.00 1589.40,773.00 1589.80,773.04 1590.20,773.09 1590.60,773.16 1591.00,773.22 1591.40,773.28 1591.80,773.31 1592.20,773.33 1592.60,773.33 1593.00,773.32 1593.40,773.32 1593.80,773.32 1594.20,773.35 1594.60,773.39 1595.00,773.45 1595.40,773.51 1595.80,773.57 1596.20,773.62 1596.60,773.63 1597.00,773.63 1597.40,773.59 1597.80,773.54 1598.20,773.49 1598.60,773.44 1599.00,773.42 1600.50,773.49 1602.00,773.54 1603.50,773.45 1605.00,773.57 1606.50,773.77 1608.00,773.68 1609.50,773.60 1611.00,773.65 1612.50,773.50 1614.00,773.34 1615.50,773.48 1617.00,773.58" fill="none" stroke="#000" stroke-width="2.9" stroke-linejoin="round" stroke-linecap="round" />
<text x="-2.27" y="936.70" font-size="87" textLength="54.43" lengthAdjust="spacingAndGlyphs" fill="#000" stroke="#000" stroke-width="0.4">b</text>
<line x1="208.10" y1="979.50" x2="231.00" y2="979.50" stroke="#000" stroke-width="4.5" stroke-linecap="butt" />
<path d="M219.55,987.94 L226.15,975.46 L212.95,975.46 Z" fill="#000" stroke="none" stroke-width="0" />
<text x="243.82" y="991.00" font-size="32.5" textLength="79.55" lengthAdjust="spacingAndGlyphs" fill="#000" stroke="#000" stroke-width="0.4">Mock</text>
<line x1="332.30" y1="979.50" x2="355.40" y2="979.50" stroke="#d3142c" stroke-width="4.5" stroke-linecap="butt" />
<circle cx="343.85" cy="979.50" r="6.5" fill="#d3142c"/>
<text x="368.38" y="991.00" font-size="32.5" textLength="38.54" lengthAdjust="spacingAndGlyphs" fill="#000" stroke="#000" stroke-width="0.4">Vc</text>
<line x1="422.00" y1="979.50" x2="445.00" y2="979.50" stroke="#2e8b3f" stroke-width="4.5" stroke-linecap="butt" />
<path d="M433.50,970.94 L440.65,984.46 L426.35,984.46 Z" fill="#2e8b3f" stroke="none" stroke-width="0" />
<text x="456.90" y="991.00" font-size="32.5" textLength="64.68" lengthAdjust="spacingAndGlyphs" fill="#000" stroke="#000" stroke-width="0.4">DHA</text>
<line x1="207.10" y1="1014.10" x2="207.10" y2="1313.00" stroke="#000" stroke-width="4.2" stroke-linecap="butt" />
<line x1="199.80" y1="1311.20" x2="207.10" y2="1311.20" stroke="#000" stroke-width="4.2" stroke-linecap="butt" />
<text x="180.75" y="1323.00" font-size="32.9" textLength="16.47" lengthAdjust="spacingAndGlyphs" fill="#000" stroke="#000" stroke-width="0.4">0</text>
<line x1="199.80" y1="1252.20" x2="207.10" y2="1252.20" stroke="#000" stroke-width="4.2" stroke-linecap="butt" />
<text x="164.28" y="1264.00" font-size="32.9" textLength="32.94" lengthAdjust="spacingAndGlyphs" fill="#000" stroke="#000" stroke-width="0.4">20</text>
<line x1="199.80" y1="1193.20" x2="207.10" y2="1193.20" stroke="#000" stroke-width="4.2" stroke-linecap="butt" />
<text x="164.28" y="1205.00" font-size="32.9" textLength="32.94" lengthAdjust="spacingAndGlyphs" fill="#000" stroke="#000" stroke-width="0.4">40</text>
<line x1="199.80" y1="1134.20" x2="207.10" y2="1134.20" stroke="#000" stroke-width="4.2" stroke-linecap="butt" />
<text x="164.28" y="1146.00" font-size="32.9" textLength="32.94" lengthAdjust="spacingAndGlyphs" fill="#000" stroke="#000" stroke-width="0.4">60</text>
<line x1="199.80" y1="1075.20" x2="207.10" y2="1075.20" stroke="#000" stroke-width="4.2" stroke-linecap="butt" />
<text x="164.28" y="1087.00" font-size="32.9" textLength="32.94" lengthAdjust="spacingAndGlyphs" fill="#000" stroke="#000" stroke-width="0.4">80</text>
<line x1="199.80" y1="1016.20" x2="207.10" y2="1016.20" stroke="#000" stroke-width="4.2" stroke-linecap="butt" />
<text x="147.81" y="1028.00" font-size="32.9" textLength="49.40" lengthAdjust="spacingAndGlyphs" fill="#000" stroke="#000" stroke-width="0.4">100</text>
<line x1="227.10" y1="1333.10" x2="506.90" y2="1333.10" stroke="#000" stroke-width="4.2" stroke-linecap="butt" />
<line x1="229.00" y1="1331.00" x2="229.00" y2="1341.00" stroke="#000" stroke-width="4.2" stroke-linecap="butt" />
<line x1="297.60" y1="1331.00" x2="297.60" y2="1341.00" stroke="#000" stroke-width="4.2" stroke-linecap="butt" />
<line x1="366.60" y1="1331.00" x2="366.60" y2="1341.00" stroke="#000" stroke-width="4.2" stroke-linecap="butt" />
<line x1="435.80" y1="1331.00" x2="435.80" y2="1341.00" stroke="#000" stroke-width="4.2" stroke-linecap="butt" />
<line x1="504.80" y1="1331.00" x2="504.80" y2="1341.00" stroke="#000" stroke-width="4.2" stroke-linecap="butt" />
<text x="219.70" y="1373.20" font-size="29.3" textLength="18.24" lengthAdjust="spacingAndGlyphs" fill="#000" stroke="#000" stroke-width="0.6">0</text>
<text x="275.45" y="1373.20" font-size="29.3" textLength="43.91" lengthAdjust="spacingAndGlyphs" fill="#000" stroke="#000" stroke-width="0.6">0.2</text>
<text x="347.86" y="1373.20" font-size="29.3" textLength="43.51" lengthAdjust="spacingAndGlyphs" fill="#000" stroke="#000" stroke-width="0.6">0.5</text>
<text x="419.64" y="1373.20" font-size="29.3" textLength="43.34" lengthAdjust="spacingAndGlyphs" fill="#000" stroke="#000" stroke-width="0.6">1.0</text>
<text x="483.84" y="1373.20" font-size="29.3" textLength="42.41" lengthAdjust="spacingAndGlyphs" fill="#000" stroke="#000" stroke-width="0.6">2.0</text>
<text x="190.02" y="1428.20" font-size="42.8" textLength="364.51" lengthAdjust="spacingAndGlyphs" fill="#000" stroke="#000" stroke-width="0.4">Concentration (mM)</text>
<text transform="translate(130.30,1325.60) rotate(-90)" x="-2.72" y="0" font-size="42.7" textLength="355.15" lengthAdjust="spacingAndGlyphs" fill="#000" stroke="#000" stroke-width="0.4">Demethylation (%)</text>
<polyline points="229.00,1309.50 297.60,1308.50 366.60,1308.00 435.80,1308.50 504.80,1308.00" fill="none" stroke="#000" stroke-width="4.0" stroke-linejoin="round" stroke-linecap="round" />
<path d="M229.00,1319.56 L236.15,1306.04 L221.85,1306.04 Z" fill="#000" stroke="none" stroke-width="0" />
<path d="M297.60,1318.56 L304.75,1305.04 L290.45,1305.04 Z" fill="#000" stroke="none" stroke-width="0" />
<path d="M366.60,1318.06 L373.75,1304.54 L359.45,1304.54 Z" fill="#000" stroke="none" stroke-width="0" />
<path d="M435.80,1318.56 L442.95,1305.04 L428.65,1305.04 Z" fill="#000" stroke="none" stroke-width="0" />
<path d="M504.80,1318.06 L511.95,1304.54 L497.65,1304.54 Z" fill="#000" stroke="none" stroke-width="0" />
<polyline points="229.00,1309.00 297.60,1307.10 366.60,1305.00 435.80,1306.60 504.80,1303.90" fill="none" stroke="#2e8b3f" stroke-width="5.0" stroke-linejoin="round" stroke-linecap="round" />
<path d="M229.00,1299.32 L236.70,1313.88 L221.30,1313.88 Z" fill="#2e8b3f" stroke="none" stroke-width="0" />
<path d="M297.60,1297.42 L305.30,1311.98 L289.90,1311.98 Z" fill="#2e8b3f" stroke="none" stroke-width="0" />
<path d="M366.60,1295.32 L374.30,1309.88 L358.90,1309.88 Z" fill="#2e8b3f" stroke="none" stroke-width="0" />
<path d="M435.80,1296.92 L443.50,1311.48 L428.10,1311.48 Z" fill="#2e8b3f" stroke="none" stroke-width="0" />
<path d="M504.80,1294.22 L512.50,1308.78 L497.10,1308.78 Z" fill="#2e8b3f" stroke="none" stroke-width="0" />
<polyline points="229.00,1309.80 297.60,1236.50 366.60,1122.00 435.80,1051.00 504.80,1046.30" fill="none" stroke="#d3142c" stroke-width="4.8" stroke-linejoin="round" stroke-linecap="round" />
<circle cx="229.00" cy="1309.80" r="7.2" fill="#d3142c"/>
<circle cx="297.60" cy="1236.50" r="7.2" fill="#d3142c"/>
<line x1="366.60" y1="1105.70" x2="366.60" y2="1137.50" stroke="#d3142c" stroke-width="3.4" stroke-linecap="butt" />
<line x1="362.80" y1="1105.70" x2="370.40" y2="1105.70" stroke="#d3142c" stroke-width="3.4" stroke-linecap="butt" />
<line x1="362.80" y1="1137.50" x2="370.40" y2="1137.50" stroke="#d3142c" stroke-width="3.4" stroke-linecap="butt" />
<circle cx="366.60" cy="1122.00" r="7.2" fill="#d3142c"/>
<line x1="435.80" y1="1031.50" x2="435.80" y2="1070.70" stroke="#d3142c" stroke-width="3.4" stroke-linecap="butt" />
<line x1="432.00" y1="1031.50" x2="439.60" y2="1031.50" stroke="#d3142c" stroke-width="3.4" stroke-linecap="butt" />
<line x1="432.00" y1="1070.70" x2="439.60" y2="1070.70" stroke="#d3142c" stroke-width="3.4" stroke-linecap="butt" />
<circle cx="435.80" cy="1051.00" r="7.2" fill="#d3142c"/>
<line x1="504.80" y1="1025.00" x2="504.80" y2="1066.90" stroke="#d3142c" stroke-width="3.4" stroke-linecap="butt" />
<line x1="501.00" y1="1025.00" x2="508.60" y2="1025.00" stroke="#d3142c" stroke-width="3.4" stroke-linecap="butt" />
<line x1="501.00" y1="1066.90" x2="508.60" y2="1066.90" stroke="#d3142c" stroke-width="3.4" stroke-linecap="butt" />
<circle cx="504.80" cy="1046.30" r="7.2" fill="#d3142c"/>
<line x1="518.00" y1="1293.90" x2="518.00" y2="1320.40" stroke="#000" stroke-width="3.2" stroke-linecap="butt" />
<text x="520.71" y="1313.80" font-size="19.3" textLength="26.74" lengthAdjust="spacingAndGlyphs" fill="#000" stroke="#000" stroke-width="0.6">NS</text>
<path d="M557,1041.6 L570.5,1041.6 L570.5,1307.9 L555.4,1307.9" fill="none" stroke="#000" stroke-width="2.8" />
<text x="573.98" y="1193.48" font-size="42.7" textLength="15.56" lengthAdjust="spacingAndGlyphs" fill="#000" stroke="#000" stroke-width="0.4">*</text>
<text x="582.76" y="936.70" font-size="87" textLength="49.03" lengthAdjust="spacingAndGlyphs" fill="#000" stroke="#000" stroke-width="0.4">c</text>
<line x1="781.80" y1="979.80" x2="804.30" y2="979.80" stroke="#000" stroke-width="4.5" stroke-linecap="butt" />
<path d="M793.05,988.24 L799.65,975.76 L786.45,975.76 Z" fill="#000" stroke="none" stroke-width="0" />
<text x="815.49" y="991.30" font-size="32.5" textLength="76.88" lengthAdjust="spacingAndGlyphs" fill="#000" stroke="#000" stroke-width="0.4">Mock</text>
<line x1="909.10" y1="979.80" x2="931.20" y2="979.80" stroke="#d3142c" stroke-width="4.5" stroke-linecap="butt" />
<circle cx="920.15" cy="979.80" r="6.5" fill="#d3142c"/>
<text x="942.69" y="991.30" font-size="32.5" textLength="37.20" lengthAdjust="spacingAndGlyphs" fill="#000" stroke="#000" stroke-width="0.4">Vc</text>
<line x1="990.60" y1="979.80" x2="1012.70" y2="979.80" stroke="#2e8b3f" stroke-width="4.5" stroke-linecap="butt" />
<path d="M1001.65,971.24 L1008.80,984.76 L994.50,984.76 Z" fill="#2e8b3f" stroke="none" stroke-width="0" />
<text x="1024.36" y="991.30" font-size="32.5" textLength="62.91" lengthAdjust="spacingAndGlyphs" fill="#000" stroke="#000" stroke-width="0.4">DHA</text>
<line x1="781.00" y1="1015.20" x2="781.00" y2="1310.30" stroke="#000" stroke-width="4.2" stroke-linecap="butt" />
<line x1="772.50" y1="1308.30" x2="781.00" y2="1308.30" stroke="#000" stroke-width="4.2" stroke-linecap="butt" />
<text x="759.25" y="1320.10" font-size="32.9" textLength="16.47" lengthAdjust="spacingAndGlyphs" fill="#000" stroke="#000" stroke-width="0.4">0</text>
<line x1="772.50" y1="1250.08" x2="781.00" y2="1250.08" stroke="#000" stroke-width="4.2" stroke-linecap="butt" />
<text x="742.78" y="1261.88" font-size="32.9" textLength="32.94" lengthAdjust="spacingAndGlyphs" fill="#000" stroke="#000" stroke-width="0.4">20</text>
<line x1="772.50" y1="1191.86" x2="781.00" y2="1191.86" stroke="#000" stroke-width="4.2" stroke-linecap="butt" />
<text x="742.78" y="1203.66" font-size="32.9" textLength="32.94" lengthAdjust="spacingAndGlyphs" fill="#000" stroke="#000" stroke-width="0.4">40</text>
<line x1="772.50" y1="1133.64" x2="781.00" y2="1133.64" stroke="#000" stroke-width="4.2" stroke-linecap="butt" />
<text x="742.78" y="1145.44" font-size="32.9" textLength="32.94" lengthAdjust="spacingAndGlyphs" fill="#000" stroke="#000" stroke-width="0.4">60</text>
<line x1="772.50" y1="1075.42" x2="781.00" y2="1075.42" stroke="#000" stroke-width="4.2" stroke-linecap="butt" />
<text x="742.78" y="1087.22" font-size="32.9" textLength="32.94" lengthAdjust="spacingAndGlyphs" fill="#000" stroke="#000" stroke-width="0.4">80</text>
<line x1="772.50" y1="1017.20" x2="781.00" y2="1017.20" stroke="#000" stroke-width="4.2" stroke-linecap="butt" />
<text x="726.31" y="1029.00" font-size="32.9" textLength="49.40" lengthAdjust="spacingAndGlyphs" fill="#000" stroke="#000" stroke-width="0.4">100</text>
<line x1="799.30" y1="1329.60" x2="1069.80" y2="1329.60" stroke="#000" stroke-width="4.2" stroke-linecap="butt" />
<line x1="800.40" y1="1327.60" x2="800.40" y2="1339.30" stroke="#000" stroke-width="4.2" stroke-linecap="butt" />
<line x1="867.20" y1="1327.60" x2="867.20" y2="1339.30" stroke="#000" stroke-width="4.2" stroke-linecap="butt" />
<line x1="934.00" y1="1327.60" x2="934.00" y2="1339.30" stroke="#000" stroke-width="4.2" stroke-linecap="butt" />
<line x1="1001.00" y1="1327.60" x2="1001.00" y2="1339.30" stroke="#000" stroke-width="4.2" stroke-linecap="butt" />
<line x1="1068.20" y1="1327.60" x2="1068.20" y2="1339.30" stroke="#000" stroke-width="4.2" stroke-linecap="butt" />
<text x="795.12" y="1370.60" font-size="29.3" textLength="15.20" lengthAdjust="spacingAndGlyphs" fill="#000" stroke="#000" stroke-width="0.6">0</text>
<text x="851.24" y="1370.60" font-size="29.3" textLength="32.87" lengthAdjust="spacingAndGlyphs" fill="#000" stroke="#000" stroke-width="0.6">10</text>
<text x="919.72" y="1370.60" font-size="29.3" textLength="33.00" lengthAdjust="spacingAndGlyphs" fill="#000" stroke="#000" stroke-width="0.6">30</text>
<text x="990.50" y="1370.60" font-size="29.3" textLength="33.33" lengthAdjust="spacingAndGlyphs" fill="#000" stroke="#000" stroke-width="0.6">60</text>
<text x="1049.96" y="1370.60" font-size="29.3" textLength="33.37" lengthAdjust="spacingAndGlyphs" fill="#000" stroke="#000" stroke-width="0.6">90</text>
<text x="755.89" y="1424.30" font-size="41.7" textLength="358.58" lengthAdjust="spacingAndGlyphs" fill="#000" stroke="#000" stroke-width="0.4">Reaction Time (min)</text>
<text transform="translate(705.50,1324.00) rotate(-90)" x="-2.69" y="0" font-size="42.2" textLength="351.00" lengthAdjust="spacingAndGlyphs" fill="#000" stroke="#000" stroke-width="0.4">Demethylation (%)</text>
<polyline points="800.40,1307.50 867.20,1307.00 934.00,1307.00 1001.00,1307.50 1068.20,1307.00" fill="none" stroke="#000" stroke-width="4.0" stroke-linejoin="round" stroke-linecap="round" />
<path d="M800.40,1317.56 L807.55,1304.04 L793.25,1304.04 Z" fill="#000" stroke="none" stroke-width="0" />
<path d="M867.20,1317.06 L874.35,1303.54 L860.05,1303.54 Z" fill="#000" stroke="none" stroke-width="0" />
<path d="M934.00,1317.06 L941.15,1303.54 L926.85,1303.54 Z" fill="#000" stroke="none" stroke-width="0" />
<path d="M1001.00,1317.56 L1008.15,1304.04 L993.85,1304.04 Z" fill="#000" stroke="none" stroke-width="0" />
<path d="M1068.20,1317.06 L1075.35,1303.54 L1061.05,1303.54 Z" fill="#000" stroke="none" stroke-width="0" />
<polyline points="800.40,1306.50 867.20,1303.00 934.00,1303.00 1001.00,1303.50 1068.20,1302.50" fill="none" stroke="#2e8b3f" stroke-width="5.0" stroke-linejoin="round" stroke-linecap="round" />
<path d="M800.40,1296.82 L808.10,1311.38 L792.70,1311.38 Z" fill="#2e8b3f" stroke="none" stroke-width="0" />
<path d="M867.20,1293.32 L874.90,1307.88 L859.50,1307.88 Z" fill="#2e8b3f" stroke="none" stroke-width="0" />
<path d="M934.00,1293.32 L941.70,1307.88 L926.30,1307.88 Z" fill="#2e8b3f" stroke="none" stroke-width="0" />
<path d="M1001.00,1293.82 L1008.70,1308.38 L993.30,1308.38 Z" fill="#2e8b3f" stroke="none" stroke-width="0" />
<path d="M1068.20,1292.82 L1075.90,1307.38 L1060.50,1307.38 Z" fill="#2e8b3f" stroke="none" stroke-width="0" />
<polyline points="800.40,1308.30 801.40,1301.22 802.40,1294.46 803.40,1288.00 804.40,1281.81 805.40,1275.88 806.40,1270.19 807.40,1264.73 808.40,1259.48 809.40,1254.44 810.40,1249.58 811.40,1244.91 812.40,1240.41 813.40,1236.07 814.40,1231.88 815.40,1227.83 816.40,1223.93 817.40,1220.15 818.40,1216.50 819.40,1212.96 820.40,1209.54 821.40,1206.22 822.40,1203.01 823.40,1199.90 824.40,1196.87 825.40,1193.94 826.40,1191.09 827.40,1188.32 828.40,1185.64 829.40,1183.02 830.40,1180.48 831.40,1178.01 832.40,1175.60 833.40,1173.25 834.40,1170.97 835.40,1168.75 836.40,1166.58 837.40,1164.47 838.40,1162.40 839.40,1160.39 840.40,1158.43 841.40,1156.52 842.40,1154.64 843.40,1152.82 844.40,1151.03 845.40,1149.29 846.40,1147.58 847.40,1145.92 848.40,1144.28 849.40,1142.69 850.40,1141.13 851.40,1139.60 852.40,1138.11 853.40,1136.64 854.40,1135.21 855.40,1133.80 856.40,1132.43 857.40,1131.08 858.40,1129.76 859.40,1128.46 860.40,1127.19 861.40,1125.94 862.40,1124.72 863.40,1123.52 864.40,1122.34 865.40,1121.19 866.40,1120.06 867.40,1118.94 868.40,1117.85 869.40,1116.77 870.40,1115.72 871.40,1114.68 872.40,1113.67 873.40,1112.67 874.40,1111.68 875.40,1110.71 876.40,1109.76 877.40,1108.83 878.40,1107.91 879.40,1107.01 880.40,1106.12 881.40,1105.24 882.40,1104.38 883.40,1103.53 884.40,1102.70 885.40,1101.88 886.40,1101.07 887.40,1100.27 888.40,1099.49 889.40,1098.72 890.40,1097.96 891.40,1097.21 892.40,1096.47 893.40,1095.75 894.40,1095.03 895.40,1094.32 896.40,1093.63 897.40,1092.94 898.40,1092.27 899.40,1091.60 900.40,1090.94 901.40,1090.29 902.40,1089.66 903.40,1089.03 904.40,1088.40 905.40,1087.79 906.40,1087.19 907.40,1086.59 908.40,1086.00 909.40,1085.42 910.40,1084.84 911.40,1084.28 912.40,1083.72 913.40,1083.17 914.40,1082.62 915.40,1082.08 916.40,1081.55 917.40,1081.03 918.40,1080.51 919.40,1080.00 920.40,1079.49 921.40,1079.00 922.40,1078.50 923.40,1078.02 924.40,1077.53 925.40,1077.06 926.40,1076.59 927.40,1076.12 928.40,1075.67 929.40,1075.21 930.40,1074.76 931.40,1074.32 932.40,1073.88 933.40,1073.45 934.40,1073.02 935.40,1072.60 936.40,1072.18 937.40,1071.76 938.40,1071.36 939.40,1070.95 940.40,1070.55 941.40,1070.15 942.40,1069.76 943.40,1069.37 944.40,1068.99 945.40,1068.61 946.40,1068.24 947.40,1067.86 948.40,1067.50 949.40,1067.13 950.40,1066.77 951.40,1066.42 952.40,1066.06 953.40,1065.72 954.40,1065.37 955.40,1065.03 956.40,1064.69 957.40,1064.35 958.40,1064.02 959.40,1063.69 960.40,1063.37 961.40,1063.05 962.40,1062.73 963.40,1062.41 964.40,1062.10 965.40,1061.79 966.40,1061.48 967.40,1061.18 968.40,1060.88 969.40,1060.58 970.40,1060.28 971.40,1059.99 972.40,1059.70 973.40,1059.41 974.40,1059.13 975.40,1058.85 976.40,1058.57 977.40,1058.29 978.40,1058.02 979.40,1057.75 980.40,1057.48 981.40,1057.21 982.40,1056.94 983.40,1056.68 984.40,1056.42 985.40,1056.16 986.40,1055.91 987.40,1055.66 988.40,1055.40 989.40,1055.16 990.40,1054.91 991.40,1054.66 992.40,1054.42 993.40,1054.18 994.40,1053.94 995.40,1053.71 996.40,1053.47 997.40,1053.24 998.40,1053.01 999.40,1052.78 1000.40,1052.55 1001.40,1052.33 1002.40,1052.11 1003.40,1051.88 1004.40,1051.67 1005.40,1051.45 1006.40,1051.23 1007.40,1051.02 1008.40,1050.80 1009.40,1050.59 1010.40,1050.38 1011.40,1050.18 1012.40,1049.97 1013.40,1049.77 1014.40,1049.56 1015.40,1049.36 1016.40,1049.16 1017.40,1048.97 1018.40,1048.77 1019.40,1048.57 1020.40,1048.38 1021.40,1048.19 1022.40,1048.00 1023.40,1047.81 1024.40,1047.62 1025.40,1047.43 1026.40,1047.25 1027.40,1047.07 1028.40,1046.88 1029.40,1046.70 1030.40,1046.52 1031.40,1046.35 1032.40,1046.17 1033.40,1045.99 1034.40,1045.82 1035.40,1045.64 1036.40,1045.47 1037.40,1045.30 1038.40,1045.13 1039.40,1044.96 1040.40,1044.80 1041.40,1044.63 1042.40,1044.47 1043.40,1044.30 1044.40,1044.14 1045.40,1043.98 1046.40,1043.82 1047.40,1043.66 1048.40,1043.50 1049.40,1043.35 1050.40,1043.19 1051.40,1043.03 1052.40,1042.88 1053.40,1042.73 1054.40,1042.58 1055.40,1042.43 1056.40,1042.28 1057.40,1042.13 1058.40,1041.98 1059.40,1041.83 1060.40,1041.69 1061.40,1041.54 1062.40,1041.40 1063.40,1041.26 1064.40,1041.11 1065.40,1040.97 1066.40,1040.83 1067.40,1040.69 1068.40,1040.56" fill="none" stroke="#d3142c" stroke-width="4.5" stroke-linejoin="round" stroke-linecap="round" />
<circle cx="800.40" cy="1308.30" r="7.2" fill="#d3142c"/>
<line x1="867.20" y1="1103.70" x2="867.20" y2="1134.80" stroke="#d3142c" stroke-width="3.4" stroke-linecap="butt" />
<line x1="863.40" y1="1103.70" x2="871.00" y2="1103.70" stroke="#d3142c" stroke-width="3.4" stroke-linecap="butt" />
<line x1="863.40" y1="1134.80" x2="871.00" y2="1134.80" stroke="#d3142c" stroke-width="3.4" stroke-linecap="butt" />
<circle cx="867.20" cy="1119.20" r="7.2" fill="#d3142c"/>
<line x1="934.00" y1="1055.20" x2="934.00" y2="1090.10" stroke="#d3142c" stroke-width="3.4" stroke-linecap="butt" />
<line x1="930.20" y1="1055.20" x2="937.80" y2="1055.20" stroke="#d3142c" stroke-width="3.4" stroke-linecap="butt" />
<line x1="930.20" y1="1090.10" x2="937.80" y2="1090.10" stroke="#d3142c" stroke-width="3.4" stroke-linecap="butt" />
<circle cx="934.00" cy="1072.70" r="7.2" fill="#d3142c"/>
<line x1="1001.00" y1="1039.70" x2="1001.00" y2="1076.20" stroke="#d3142c" stroke-width="3.4" stroke-linecap="butt" />
<line x1="997.20" y1="1039.70" x2="1004.80" y2="1039.70" stroke="#d3142c" stroke-width="3.4" stroke-linecap="butt" />
<line x1="997.20" y1="1076.20" x2="1004.80" y2="1076.20" stroke="#d3142c" stroke-width="3.4" stroke-linecap="butt" />
<circle cx="1001.00" cy="1058.70" r="7.2" fill="#d3142c"/>
<line x1="1068.20" y1="1018.30" x2="1068.20" y2="1057.20" stroke="#d3142c" stroke-width="3.4" stroke-linecap="butt" />
<line x1="1064.40" y1="1018.30" x2="1072.00" y2="1018.30" stroke="#d3142c" stroke-width="3.4" stroke-linecap="butt" />
<line x1="1064.40" y1="1057.20" x2="1072.00" y2="1057.20" stroke="#d3142c" stroke-width="3.4" stroke-linecap="butt" />
<circle cx="1068.20" cy="1038.50" r="7.2" fill="#d3142c"/>
<line x1="1083.40" y1="1294.70" x2="1083.40" y2="1319.90" stroke="#000" stroke-width="3.2" stroke-linecap="butt" />
<text x="1087.09" y="1312.80" font-size="19.3" textLength="27.28" lengthAdjust="spacingAndGlyphs" fill="#000" stroke="#000" stroke-width="0.6">NS</text>
<path d="M1121.4,1040.5 L1135,1040.5 L1135,1306.3 L1120,1306.3" fill="none" stroke="#000" stroke-width="2.8" />
<text x="1138.38" y="1191.88" font-size="42.7" textLength="15.56" lengthAdjust="spacingAndGlyphs" fill="#000" stroke="#000" stroke-width="0.4">*</text>
<text x="1168.75" y="936.80" font-size="88" textLength="54.31" lengthAdjust="spacingAndGlyphs" fill="#000" stroke="#000" stroke-width="0.4">d</text>
<text x="1477.20" y="1030.00" font-size="54.5" textLength="195.85" lengthAdjust="spacingAndGlyphs" fill="#000" stroke="#000" stroke-width="0.4">ALKBH5</text>
<text x="1266.98" y="1063.20" font-size="41.7" textLength="122.61" lengthAdjust="spacingAndGlyphs" fill="#000" stroke="#000" stroke-width="0.4">250 kD</text>
<line x1="1393.20" y1="1049.50" x2="1414.00" y2="1049.50" stroke="#000" stroke-width="3.4" stroke-linecap="butt" />
<path d="M1443.5,1049.5 L1412,1038.5 L1412,1060.5 Z" fill="#000" stroke="none" stroke-width="0" />
<text x="1288.93" y="1167.20" font-size="41.7" textLength="100.65" lengthAdjust="spacingAndGlyphs" fill="#000" stroke="#000" stroke-width="0.4">37 kD</text>
<line x1="1393.20" y1="1150.70" x2="1414.00" y2="1150.70" stroke="#000" stroke-width="3.4" stroke-linecap="butt" />
<path d="M1443.5,1150.7 L1412,1139.7 L1412,1161.7 Z" fill="#000" stroke="none" stroke-width="0" />
<text x="1288.49" y="1231.30" font-size="41.7" textLength="101.10" lengthAdjust="spacingAndGlyphs" fill="#000" stroke="#000" stroke-width="0.4">25 kD</text>
<line x1="1393.20" y1="1216.70" x2="1414.00" y2="1216.70" stroke="#000" stroke-width="3.4" stroke-linecap="butt" />
<path d="M1443.5,1216.7 L1412,1205.7 L1412,1227.7 Z" fill="#000" stroke="none" stroke-width="0" />
<text x="1288.62" y="1331.60" font-size="41.7" textLength="100.97" lengthAdjust="spacingAndGlyphs" fill="#000" stroke="#000" stroke-width="0.4">15 kD</text>
<line x1="1393.20" y1="1316.30" x2="1414.00" y2="1316.30" stroke="#000" stroke-width="3.4" stroke-linecap="butt" />
<path d="M1443.5,1316.3 L1412,1305.3 L1412,1327.3 Z" fill="#000" stroke="none" stroke-width="0" />
<defs><linearGradient id="gelg" x1="0" y1="0" x2="0" y2="1"><stop offset="0" stop-color="#86b8f7"/><stop offset="0.35" stop-color="#90c1fa"/><stop offset="1" stop-color="#a2cbfb"/></linearGradient><filter id="blur1" x="-20%" y="-50%" width="140%" height="200%"><feGaussianBlur stdDeviation="1.2"/></filter><filter id="blur2" x="-20%" y="-50%" width="140%" height="200%"><feGaussianBlur stdDeviation="2.0"/></filter></defs>
<rect x="1448" y="1044" width="224" height="344" fill="url(#gelg)"/>
<rect x="1452" y="1048.2" width="41.4" height="4.0" rx="2.0" fill="#1a6ef0" opacity="0.95" filter="url(#blur1)"/>
<rect x="1452" y="1058.1" width="42.0" height="4.6" rx="2.3" fill="#1a6ef0" opacity="0.95" filter="url(#blur1)"/>
<rect x="1453" y="1071.0" width="42.0" height="4.6" rx="2.3" fill="#1a6ef0" opacity="0.95" filter="url(#blur1)"/>
<rect x="1454.6" y="1084.5" width="39.6" height="7.5" rx="3.8" fill="#1a6ef0" opacity="1.0" filter="url(#blur1)"/>
<rect x="1457.8" y="1116.8" width="33.9" height="7.5" rx="3.8" fill="#1a6ef0" opacity="1.0" filter="url(#blur1)"/>
<rect x="1461" y="1150.5" width="29.0" height="6.5" rx="3.2" fill="#1a6ef0" opacity="0.95" filter="url(#blur1)"/>
<rect x="1462.6" y="1214.4" width="28.9" height="8.0" rx="4.0" fill="#1a6ef0" opacity="1.0" filter="url(#blur1)"/>
<rect x="1464" y="1243.8" width="27.0" height="7.0" rx="3.5" fill="#1a6ef0" opacity="0.95" filter="url(#blur1)"/>
<rect x="1465.5" y="1310.9" width="26.0" height="8.0" rx="4.0" fill="#1a6ef0" opacity="0.55" filter="url(#blur1)"/>
<rect x="1467" y="1369.2" width="24.5" height="7.0" rx="3.5" fill="#1a6ef0" opacity="0.95" filter="url(#blur1)"/>
<rect x="1509.5" y="1172" width="70.4" height="21" rx="10" fill="#2f7cf3" filter="url(#blur1)"/>
<rect x="1514.5" y="1180.5" width="60.4" height="12" rx="6" fill="#1168ee" filter="url(#blur1)"/>
<rect x="1589.6" y="1172" width="75.2" height="21" rx="10" fill="#2f7cf3" filter="url(#blur1)"/>
<rect x="1594.6" y="1180.5" width="65.2" height="12" rx="6" fill="#1168ee" filter="url(#blur1)"/>
<line x1="1446.20" y1="1045.00" x2="1675.80" y2="1045.00" stroke="#000" stroke-width="3.6" stroke-linecap="butt" />
<line x1="1448.20" y1="1043.20" x2="1448.20" y2="1392.20" stroke="#000" stroke-width="4.0" stroke-linecap="butt" />
<line x1="1672.80" y1="1043.20" x2="1672.80" y2="1392.20" stroke="#000" stroke-width="6.2" stroke-linecap="butt" />
<line x1="1446.20" y1="1389.20" x2="1675.80" y2="1389.20" stroke="#000" stroke-width="6.2" stroke-linecap="butt" />
<text x="-2.47" y="1493.20" font-size="87" textLength="49.41" lengthAdjust="spacingAndGlyphs" fill="#000" stroke="#000" stroke-width="0.4">e</text>
<line x1="216.30" y1="1536.70" x2="216.30" y2="1874.00" stroke="#000" stroke-width="5.2" stroke-linecap="butt" />
<line x1="207.30" y1="1539.60" x2="216.30" y2="1539.60" stroke="#000" stroke-width="5.0" stroke-linecap="round" />
<line x1="208.00" y1="1871.40" x2="216.30" y2="1871.40" stroke="#000" stroke-width="5.0" stroke-linecap="butt" />
<text x="129.54" y="1883.30" font-size="33.5" textLength="77.13" lengthAdjust="spacingAndGlyphs" fill="#000" stroke="#000" stroke-width="0.4">0.000</text>
<line x1="208.00" y1="1788.45" x2="216.30" y2="1788.45" stroke="#000" stroke-width="5.0" stroke-linecap="butt" />
<text x="129.13" y="1800.35" font-size="33.5" textLength="77.13" lengthAdjust="spacingAndGlyphs" fill="#000" stroke="#000" stroke-width="0.4">0.005</text>
<line x1="208.00" y1="1705.50" x2="216.30" y2="1705.50" stroke="#000" stroke-width="5.0" stroke-linecap="butt" />
<text x="129.54" y="1717.40" font-size="33.5" textLength="77.13" lengthAdjust="spacingAndGlyphs" fill="#000" stroke="#000" stroke-width="0.4">0.010</text>
<line x1="208.00" y1="1622.55" x2="216.30" y2="1622.55" stroke="#000" stroke-width="5.0" stroke-linecap="butt" />
<text x="129.13" y="1634.45" font-size="33.5" textLength="77.13" lengthAdjust="spacingAndGlyphs" fill="#000" stroke="#000" stroke-width="0.4">0.015</text>
<line x1="208.00" y1="1539.60" x2="216.30" y2="1539.60" stroke="#000" stroke-width="5.0" stroke-linecap="butt" />
<text x="129.54" y="1551.50" font-size="33.5" textLength="77.13" lengthAdjust="spacingAndGlyphs" fill="#000" stroke="#000" stroke-width="0.4">0.020</text>
<line x1="214.00" y1="1871.20" x2="516.00" y2="1871.20" stroke="#000" stroke-width="5.4" stroke-linecap="butt" />
<line x1="216.00" y1="1871.00" x2="216.00" y2="1880.80" stroke="#000" stroke-width="5.0" stroke-linecap="butt" />
<text x="208.07" y="1911.70" font-size="32.5" textLength="15.91" lengthAdjust="spacingAndGlyphs" fill="#000" stroke="#000" stroke-width="0.4">0</text>
<line x1="290.42" y1="1871.00" x2="290.42" y2="1880.80" stroke="#000" stroke-width="5.0" stroke-linecap="butt" />
<text x="282.54" y="1911.70" font-size="32.5" textLength="15.91" lengthAdjust="spacingAndGlyphs" fill="#000" stroke="#000" stroke-width="0.4">2</text>
<line x1="364.84" y1="1871.00" x2="364.84" y2="1880.80" stroke="#000" stroke-width="5.0" stroke-linecap="butt" />
<text x="356.75" y="1911.70" font-size="32.5" textLength="15.91" lengthAdjust="spacingAndGlyphs" fill="#000" stroke="#000" stroke-width="0.4">4</text>
<line x1="439.26" y1="1871.00" x2="439.26" y2="1880.80" stroke="#000" stroke-width="5.0" stroke-linecap="butt" />
<text x="431.30" y="1911.70" font-size="32.5" textLength="15.91" lengthAdjust="spacingAndGlyphs" fill="#000" stroke="#000" stroke-width="0.4">6</text>
<line x1="513.68" y1="1871.00" x2="513.68" y2="1880.80" stroke="#000" stroke-width="5.0" stroke-linecap="butt" />
<text x="505.71" y="1911.70" font-size="32.5" textLength="15.91" lengthAdjust="spacingAndGlyphs" fill="#000" stroke="#000" stroke-width="0.4">8</text>
<text x="283.64" y="1964.50" font-size="42.8" textLength="173.17" lengthAdjust="spacingAndGlyphs" fill="#000" stroke="#000" stroke-width="0.4">RNA (µM)</text>
<text transform="translate(118.10,1815.20) rotate(-90)" x="-0.32" y="0" font-size="44.5" textLength="240.89" lengthAdjust="spacingAndGlyphs" fill="#000" stroke="#000" stroke-width="0.4">V (µM/min)</text>
<polyline points="216.00,1871.40 216.99,1865.96 217.98,1860.75 218.98,1855.76 219.97,1850.98 220.96,1846.40 221.95,1841.99 222.95,1837.77 223.94,1833.70 224.93,1829.78 225.92,1826.02 226.91,1822.38 227.91,1818.88 228.90,1815.50 229.89,1812.24 230.88,1809.08 231.88,1806.03 232.87,1803.09 233.86,1800.23 234.85,1797.47 235.85,1794.79 236.84,1792.20 237.83,1789.68 238.82,1787.24 239.81,1784.87 240.81,1782.57 241.80,1780.33 242.79,1778.16 243.78,1776.05 244.78,1773.99 245.77,1771.99 246.76,1770.05 247.75,1768.15 248.74,1766.31 249.74,1764.51 250.73,1762.76 251.72,1761.05 252.71,1759.38 253.71,1757.76 254.70,1756.17 255.69,1754.62 256.68,1753.11 257.68,1751.63 258.67,1750.18 259.66,1748.77 260.65,1747.39 261.64,1746.05 262.64,1744.73 263.63,1743.44 264.62,1742.17 265.61,1740.94 266.61,1739.73 267.60,1738.54 268.59,1737.38 269.58,1736.24 270.57,1735.13 271.57,1734.04 272.56,1732.97 273.55,1731.92 274.54,1730.89 275.54,1729.88 276.53,1728.89 277.52,1727.92 278.51,1726.97 279.51,1726.03 280.50,1725.12 281.49,1724.21 282.48,1723.33 283.47,1722.46 284.47,1721.61 285.46,1720.77 286.45,1719.94 287.44,1719.13 288.44,1718.34 289.43,1717.55 290.42,1716.78 291.41,1716.03 292.40,1715.28 293.40,1714.55 294.39,1713.83 295.38,1713.12 296.37,1712.42 297.37,1711.74 298.36,1711.06 299.35,1710.40 300.34,1709.74 301.33,1709.10 302.33,1708.46 303.32,1707.84 304.31,1707.22 305.30,1706.61 306.30,1706.02 307.29,1705.43 308.28,1704.85 309.27,1704.27 310.27,1703.71 311.26,1703.16 312.25,1702.61 313.24,1702.07 314.23,1701.54 315.23,1701.01 316.22,1700.49 317.21,1699.98 318.20,1699.48 319.20,1698.98 320.19,1698.49 321.18,1698.01 322.17,1697.53 323.16,1697.06 324.16,1696.59 325.15,1696.13 326.14,1695.68 327.13,1695.23 328.13,1694.79 329.12,1694.36 330.11,1693.93 331.10,1693.50 332.10,1693.08 333.09,1692.67 334.08,1692.26 335.07,1691.85 336.06,1691.45 337.06,1691.06 338.05,1690.67 339.04,1690.28 340.03,1689.90 341.03,1689.52 342.02,1689.15 343.01,1688.78 344.00,1688.42 344.99,1688.06 345.99,1687.71 346.98,1687.36 347.97,1687.01 348.96,1686.67 349.96,1686.33 350.95,1685.99 351.94,1685.66 352.93,1685.33 353.93,1685.00 354.92,1684.68 355.91,1684.37 356.90,1684.05 357.89,1683.74 358.89,1683.43 359.88,1683.13 360.87,1682.83 361.86,1682.53 362.86,1682.23 363.85,1681.94 364.84,1681.65 365.83,1681.37 366.82,1681.08 367.82,1680.80 368.81,1680.53 369.80,1680.25 370.79,1679.98 371.79,1679.71 372.78,1679.45 373.77,1679.18 374.76,1678.92 375.75,1678.66 376.75,1678.41 377.74,1678.15 378.73,1677.90 379.72,1677.65 380.72,1677.41 381.71,1677.16 382.70,1676.92 383.69,1676.68 384.69,1676.44 385.68,1676.21 386.67,1675.97 387.66,1675.74 388.65,1675.51 389.65,1675.29 390.64,1675.06 391.63,1674.84 392.62,1674.62 393.62,1674.40 394.61,1674.19 395.60,1673.97 396.59,1673.76 397.58,1673.55 398.58,1673.34 399.57,1673.13 400.56,1672.93 401.55,1672.72 402.55,1672.52 403.54,1672.32 404.53,1672.12 405.52,1671.92 406.52,1671.73 407.51,1671.54 408.50,1671.34 409.49,1671.15 410.48,1670.97 411.48,1670.78 412.47,1670.59 413.46,1670.41 414.45,1670.23 415.45,1670.05 416.44,1669.87 417.43,1669.69 418.42,1669.51 419.41,1669.34 420.41,1669.16 421.40,1668.99 422.39,1668.82 423.38,1668.65 424.38,1668.48 425.37,1668.31 426.36,1668.15 427.35,1667.98 428.35,1667.82 429.34,1667.66 430.33,1667.50 431.32,1667.34 432.31,1667.18 433.31,1667.02 434.30,1666.87 435.29,1666.71 436.28,1666.56 437.28,1666.41 438.27,1666.26 439.26,1666.11 440.25,1665.96 441.24,1665.81 442.24,1665.66 443.23,1665.52 444.22,1665.37 445.21,1665.23 446.21,1665.09 447.20,1664.94 448.19,1664.80 449.18,1664.66 450.17,1664.53 451.17,1664.39 452.16,1664.25 453.15,1664.12 454.14,1663.98 455.14,1663.85 456.13,1663.71 457.12,1663.58 458.11,1663.45 459.11,1663.32 460.10,1663.19 461.09,1663.06 462.08,1662.94 463.07,1662.81 464.07,1662.69 465.06,1662.56 466.05,1662.44 467.04,1662.31 468.04,1662.19 469.03,1662.07 470.02,1661.95 471.01,1661.83 472.00,1661.71 473.00,1661.59 473.99,1661.47 474.98,1661.36 475.97,1661.24 476.97,1661.13 477.96,1661.01 478.95,1660.90 479.94,1660.79 480.94,1660.67 481.93,1660.56 482.92,1660.45 483.91,1660.34 484.90,1660.23 485.90,1660.12 486.89,1660.01 487.88,1659.91 488.87,1659.80 489.87,1659.69 490.86,1659.59 491.85,1659.48 492.84,1659.38 493.83,1659.28 494.83,1659.17 495.82,1659.07 496.81,1658.97 497.80,1658.87 498.80,1658.77 499.79,1658.67 500.78,1658.57 501.77,1658.47 502.77,1658.37 503.76,1658.28 504.75,1658.18 505.74,1658.08 506.73,1657.99 507.73,1657.89 508.72,1657.80 509.71,1657.71 510.70,1657.61 511.70,1657.52 512.69,1657.43 513.68,1657.34" fill="none" stroke="#000" stroke-width="5.2" stroke-linejoin="round" stroke-linecap="round" />
<line x1="234.60" y1="1792.90" x2="234.60" y2="1813.40" stroke="#000" stroke-width="3.6" stroke-linecap="butt" />
<line x1="227.60" y1="1792.90" x2="241.60" y2="1792.90" stroke="#000" stroke-width="3.6" stroke-linecap="butt" />
<line x1="227.60" y1="1813.40" x2="241.60" y2="1813.40" stroke="#000" stroke-width="3.6" stroke-linecap="butt" />
<circle cx="234.60" cy="1802.60" r="7.0" fill="#000"/>
<line x1="253.21" y1="1741.60" x2="253.21" y2="1768.80" stroke="#000" stroke-width="3.6" stroke-linecap="butt" />
<line x1="246.21" y1="1741.60" x2="260.21" y2="1741.60" stroke="#000" stroke-width="3.6" stroke-linecap="butt" />
<line x1="246.21" y1="1768.80" x2="260.21" y2="1768.80" stroke="#000" stroke-width="3.6" stroke-linecap="butt" />
<circle cx="253.21" cy="1756.00" r="7.0" fill="#000"/>
<line x1="290.42" y1="1712.10" x2="290.42" y2="1741.60" stroke="#000" stroke-width="3.6" stroke-linecap="butt" />
<line x1="283.42" y1="1712.10" x2="297.42" y2="1712.10" stroke="#000" stroke-width="3.6" stroke-linecap="butt" />
<line x1="283.42" y1="1741.60" x2="297.42" y2="1741.60" stroke="#000" stroke-width="3.6" stroke-linecap="butt" />
<circle cx="290.42" cy="1726.90" r="7.0" fill="#000"/>
<line x1="364.84" y1="1647.30" x2="364.84" y2="1690.00" stroke="#000" stroke-width="3.6" stroke-linecap="butt" />
<line x1="357.84" y1="1647.30" x2="371.84" y2="1647.30" stroke="#000" stroke-width="3.6" stroke-linecap="butt" />
<line x1="357.84" y1="1690.00" x2="371.84" y2="1690.00" stroke="#000" stroke-width="3.6" stroke-linecap="butt" />
<circle cx="364.84" cy="1668.70" r="7.0" fill="#000"/>
<line x1="513.68" y1="1642.30" x2="513.68" y2="1688.10" stroke="#000" stroke-width="3.6" stroke-linecap="butt" />
<line x1="506.68" y1="1642.30" x2="520.68" y2="1642.30" stroke="#000" stroke-width="3.6" stroke-linecap="butt" />
<line x1="506.68" y1="1688.10" x2="520.68" y2="1688.10" stroke="#000" stroke-width="3.6" stroke-linecap="butt" />
<circle cx="513.68" cy="1665.60" r="7.0" fill="#000"/>
<path d="M208.5,1871.4 L216,1864 L223.5,1871.4 L216,1878.8 Z" fill="#000" stroke="none" stroke-width="0" />
<line x1="795.60" y1="1534.00" x2="795.60" y2="1873.80" stroke="#000" stroke-width="5.0" stroke-linecap="butt" />
<line x1="786.50" y1="1863.70" x2="795.60" y2="1863.70" stroke="#000" stroke-width="4.8" stroke-linecap="round" />
<text x="767.38" y="1876.70" font-size="36.5" textLength="18.59" lengthAdjust="spacingAndGlyphs" fill="#000" stroke="#000" stroke-width="0.4">0</text>
<line x1="786.50" y1="1754.53" x2="795.60" y2="1754.53" stroke="#000" stroke-width="4.8" stroke-linecap="butt" />
<text x="730.19" y="1767.53" font-size="36.5" textLength="55.78" lengthAdjust="spacingAndGlyphs" fill="#000" stroke="#000" stroke-width="0.4">100</text>
<line x1="786.50" y1="1645.36" x2="795.60" y2="1645.36" stroke="#000" stroke-width="4.8" stroke-linecap="butt" />
<text x="730.19" y="1658.36" font-size="36.5" textLength="55.78" lengthAdjust="spacingAndGlyphs" fill="#000" stroke="#000" stroke-width="0.4">200</text>
<line x1="786.50" y1="1536.19" x2="795.60" y2="1536.19" stroke="#000" stroke-width="4.8" stroke-linecap="round" />
<text x="730.19" y="1549.19" font-size="36.5" textLength="55.78" lengthAdjust="spacingAndGlyphs" fill="#000" stroke="#000" stroke-width="0.4">300</text>
<line x1="787.00" y1="1863.70" x2="1102.80" y2="1863.70" stroke="#000" stroke-width="5.4" stroke-linecap="butt" />
<line x1="794.90" y1="1863.00" x2="794.90" y2="1872.70" stroke="#000" stroke-width="5.0" stroke-linecap="round" />
<text x="787.04" y="1902.70" font-size="31.5" textLength="15.77" lengthAdjust="spacingAndGlyphs" fill="#000" stroke="#000" stroke-width="0.4">0</text>
<line x1="947.70" y1="1863.00" x2="947.70" y2="1872.70" stroke="#000" stroke-width="5.0" stroke-linecap="round" />
<text x="939.32" y="1902.70" font-size="31.5" textLength="15.77" lengthAdjust="spacingAndGlyphs" fill="#000" stroke="#000" stroke-width="0.4">1</text>
<line x1="1100.50" y1="1863.00" x2="1100.50" y2="1872.70" stroke="#000" stroke-width="5.0" stroke-linecap="round" />
<text x="1092.69" y="1902.70" font-size="31.5" textLength="15.77" lengthAdjust="spacingAndGlyphs" fill="#000" stroke="#000" stroke-width="0.4">2</text>
<line x1="814.00" y1="1780.64" x2="1100.50" y2="1602.35" stroke="#000" stroke-width="5.6" stroke-linecap="butt" />
<rect x="807.00" y="1769.36" width="14" height="14" fill="#000"/>
<rect x="826.10" y="1767.18" width="14" height="14" fill="#000"/>
<rect x="864.30" y="1731.15" width="14" height="14" fill="#000"/>
<rect x="940.70" y="1700.59" width="14" height="14" fill="#000"/>
<rect x="1093.50" y="1591.42" width="14" height="14" fill="#000"/>
<text x="916.02" y="1794.00" font-size="29.4" textLength="179.30" lengthAdjust="spacingAndGlyphs" fill="#000" stroke="#000" stroke-width="0.6">Y=87.1X+65.2</text>
<text x="916.15" y="1834.30" font-size="29.4" textLength="18.89" lengthAdjust="spacingAndGlyphs" fill="#000" stroke="#000" stroke-width="0.6">R</text>
<text x="935.04" y="1820.30" font-size="18.5" textLength="12.13" lengthAdjust="spacingAndGlyphs" fill="#000" stroke="#000" stroke-width="0.6">2</text>
<text x="947.04" y="1834.30" font-size="29.4" textLength="86.59" lengthAdjust="spacingAndGlyphs" fill="#000" stroke="#000" stroke-width="0.6">=0.992</text>
<text x="829.69" y="1962.90" font-size="44.0" textLength="199.67" lengthAdjust="spacingAndGlyphs" fill="#000" stroke="#000" stroke-width="0.4">1/RNA (µM</text>
<text x="1028.10" y="1945.50" font-size="32.8" textLength="10.23" lengthAdjust="spacingAndGlyphs" fill="#000" stroke="#000" stroke-width="0.4">-</text>
<text x="1038.60" y="1944.80" font-size="32.8" textLength="11.47" lengthAdjust="spacingAndGlyphs" fill="#000" stroke="#000" stroke-width="0.4">1</text>
<text x="1055.67" y="1962.90" font-size="44.0" textLength="10.74" lengthAdjust="spacingAndGlyphs" fill="#000" stroke="#000" stroke-width="0.4">)</text>
<text transform="translate(713.90,1836.40) rotate(-90)" x="-2.90" y="0" font-size="44.0" textLength="162.29" lengthAdjust="spacingAndGlyphs" fill="#000" stroke="#000" stroke-width="0.4">1/V (µM</text>
<text transform="translate(695.70,1675.90) rotate(-90)" x="-1.43" y="0" font-size="34.0" textLength="12.20" lengthAdjust="spacingAndGlyphs" fill="#000" stroke="#000" stroke-width="0.4">-</text>
<text transform="translate(695.70,1662.70) rotate(-90)" x="-1.48" y="0" font-size="34.0" textLength="13.03" lengthAdjust="spacingAndGlyphs" fill="#000" stroke="#000" stroke-width="0.4">1</text>
<text transform="translate(713.90,1630.70) rotate(-90)" x="-3.04" y="0" font-size="44.0" textLength="97.44" lengthAdjust="spacingAndGlyphs" fill="#000" stroke="#000" stroke-width="0.4">min)</text>
<text x="0.34" y="2083.00" font-size="87" textLength="30.49" lengthAdjust="spacingAndGlyphs" fill="#000" stroke="#000" stroke-width="0.4">f</text>
<text x="484.80" y="2099.80" font-size="46.4" textLength="179.64" lengthAdjust="spacingAndGlyphs" fill="#000" stroke="#000" stroke-width="0.4">ALKBH5</text>
<line x1="191.00" y1="2105.60" x2="954.30" y2="2105.60" stroke="#231815" stroke-width="3.6" stroke-linecap="butt" />
<text x="188.26" y="2138.40" font-size="26.5" textLength="114.02" lengthAdjust="spacingAndGlyphs" fill="#000" stroke="#000" stroke-width="0.6">STD m6A</text>
<text x="381.33" y="2138.40" font-size="26.5" textLength="30.81" lengthAdjust="spacingAndGlyphs" fill="#000" stroke="#000" stroke-width="0.6">Vc</text>
<text x="490.37" y="2138.40" font-size="26.5" textLength="56.02" lengthAdjust="spacingAndGlyphs" fill="#000" stroke="#000" stroke-width="0.6">NAD</text>
<text x="609.08" y="2138.40" font-size="26.5" textLength="72.80" lengthAdjust="spacingAndGlyphs" fill="#000" stroke="#000" stroke-width="0.6">NADP</text>
<text x="731.96" y="2138.40" font-size="26.5" textLength="75.30" lengthAdjust="spacingAndGlyphs" fill="#000" stroke="#000" stroke-width="0.6">NADH</text>
<text x="849.33" y="2137.80" font-size="28.3" textLength="104.96" lengthAdjust="spacingAndGlyphs" fill="#be0f1e" stroke="#be0f1e" stroke-width="0.6">NADPH</text>
<text x="972.00" y="2135.20" font-size="26.0" textLength="53.99" lengthAdjust="spacingAndGlyphs" fill="#000" stroke="#000" stroke-width="0.6">(µM)</text>
<text x="981.39" y="2199.60" font-size="24.0" textLength="14.27" lengthAdjust="spacingAndGlyphs" fill="#000" stroke="#000" stroke-width="0.6">0</text>
<text x="974.74" y="2289.50" font-size="24.0" textLength="27.47" lengthAdjust="spacingAndGlyphs" fill="#000" stroke="#000" stroke-width="0.6">10</text>
<text x="977.60" y="2375.00" font-size="24.0" textLength="28.86" lengthAdjust="spacingAndGlyphs" fill="#000" stroke="#000" stroke-width="0.6">20</text>
<text x="974.53" y="2460.00" font-size="24.0" textLength="27.69" lengthAdjust="spacingAndGlyphs" fill="#000" stroke="#000" stroke-width="0.6">50</text>
<text x="970.40" y="2541.00" font-size="24.0" textLength="42.45" lengthAdjust="spacingAndGlyphs" fill="#000" stroke="#000" stroke-width="0.6">100</text>
<text x="967.01" y="2623.40" font-size="24.0" textLength="42.63" lengthAdjust="spacingAndGlyphs" fill="#000" stroke="#000" stroke-width="0.6">200</text>
<text x="860.46" y="2691.30" font-size="27.0" textLength="13.62" lengthAdjust="spacingAndGlyphs" fill="#000" stroke="#000" stroke-width="0.6">1</text>
<text x="892.50" y="2691.30" font-size="27.0" textLength="16.06" lengthAdjust="spacingAndGlyphs" fill="#000" stroke="#000" stroke-width="0.6">2</text>
<text x="927.07" y="2691.30" font-size="27.0" textLength="15.22" lengthAdjust="spacingAndGlyphs" fill="#000" stroke="#000" stroke-width="0.6">3</text>
<text x="185.66" y="2433.10" font-size="27.0" textLength="112.96" lengthAdjust="spacingAndGlyphs" fill="#000" stroke="#000" stroke-width="0.6">Inactived</text>
<text x="186.77" y="2463.00" font-size="27.0" textLength="103.04" lengthAdjust="spacingAndGlyphs" fill="#000" stroke="#000" stroke-width="0.6">ALKBH5</text>
<line x1="146.30" y1="2620.00" x2="146.30" y2="2681.80" stroke="#231815" stroke-width="4.6" stroke-linecap="butt" />
<line x1="144.00" y1="2679.60" x2="388.00" y2="2679.60" stroke="#231815" stroke-width="4.6" stroke-linecap="butt" />
<path d="M146.3,2593 L159.9,2628 L146.3,2620 L132.7,2628 Z" fill="#231815" stroke="none" stroke-width="0" />
<path d="M421.1,2679.6 L383,2664 L391,2679.6 L383,2695.2 Z" fill="#231815" stroke="none" stroke-width="0" />
<text x="441.15" y="2697.00" font-size="36.5" textLength="364.58" lengthAdjust="spacingAndGlyphs" fill="#000" stroke="#000" stroke-width="0.4">Retention Time (min)</text>
<line x1="305.80" y1="2157.00" x2="305.80" y2="2651.20" stroke="#000" stroke-width="2.6" stroke-linecap="butt" stroke-dasharray="10.3 7.7"/>
<line x1="327.40" y1="2194.00" x2="429.70" y2="2194.00" stroke="#000" stroke-width="2.3" stroke-linecap="butt" stroke-dasharray="8.5 7.1"/>
<path d="M322.70,2160.00 Q325.70,2159.50 325.70,2163.50 L325.70,2227.00" fill="none" stroke="#000" stroke-width="3.4" />
<line x1="322.20" y1="2194.00" x2="325.70" y2="2194.00" stroke="#000" stroke-width="3.0" stroke-linecap="butt" />
<line x1="324.00" y1="2226.50" x2="441.20" y2="2226.50" stroke="#000" stroke-width="3.4" stroke-linecap="butt" />
<line x1="358.40" y1="2226.00" x2="358.40" y2="2230.50" stroke="#000" stroke-width="2.6" stroke-linecap="butt" />
<line x1="390.70" y1="2226.00" x2="390.70" y2="2230.50" stroke="#000" stroke-width="2.6" stroke-linecap="butt" />
<line x1="423.10" y1="2226.00" x2="423.10" y2="2230.50" stroke="#000" stroke-width="2.6" stroke-linecap="butt" />
<polyline points="327.30,2224.00 327.70,2224.00 328.10,2224.00 328.50,2224.00 328.90,2224.00 329.30,2224.00 329.70,2224.00 330.10,2224.00 330.50,2224.00 330.90,2224.00 331.30,2224.00 331.70,2224.00 332.10,2224.00 332.50,2224.00 332.90,2224.00 333.30,2224.00 333.70,2224.00 334.10,2224.00 334.50,2224.00 334.90,2224.00 335.30,2224.00 335.70,2224.00 336.10,2224.00 336.50,2224.00 336.90,2224.00 337.30,2224.00 337.70,2224.00 338.10,2224.00 338.50,2224.00 338.90,2224.00 339.30,2224.00 339.70,2224.00 340.10,2224.00 340.50,2224.00 340.90,2224.00 341.30,2224.00 341.70,2224.00 342.10,2224.00 342.50,2224.00 342.90,2224.00 343.30,2224.00 343.70,2224.00 344.10,2224.00 344.50,2224.00 344.90,2224.00 345.30,2224.00 345.70,2224.00 346.10,2224.00 346.50,2224.00 346.90,2224.00 347.30,2224.00 347.70,2224.00 348.10,2224.00 348.50,2224.00 348.90,2224.00 349.30,2224.00 349.70,2224.00 350.10,2224.00 350.50,2224.00 350.90,2224.00 351.30,2224.00 351.70,2224.00 352.10,2224.00 352.50,2224.00 352.90,2224.00 353.30,2224.00 353.70,2224.00 354.10,2224.00 354.50,2224.00 354.90,2224.00 355.30,2224.00 355.70,2224.00 356.10,2224.00 356.50,2224.00 356.90,2224.00 357.30,2224.00 357.70,2224.00 358.10,2224.00 358.50,2224.00 358.90,2224.00 359.30,2224.00 359.70,2224.00 360.10,2224.00 360.50,2224.00 360.90,2224.00 361.30,2224.00 361.70,2224.00 362.10,2224.00 362.50,2224.00 362.90,2224.00 363.30,2224.00 363.70,2224.00 364.10,2224.00 364.50,2224.00 364.90,2224.00 365.30,2224.00 365.70,2224.00 366.10,2224.00 366.50,2224.00 366.90,2224.00 367.30,2224.00 367.70,2224.00 368.10,2224.00 368.50,2224.00 368.90,2224.00 369.30,2224.00 369.70,2224.00 370.10,2224.00 370.50,2224.00 370.90,2224.00 371.30,2224.00 371.70,2224.00 372.10,2224.00 372.50,2224.00 372.90,2224.00 373.30,2224.00 373.70,2224.00 374.10,2224.00 374.50,2224.00 374.90,2224.00 375.30,2224.00 375.70,2224.00 376.10,2224.00 376.50,2224.00 376.90,2224.00 377.30,2224.00 377.70,2224.00 378.10,2224.00 378.50,2224.00 378.90,2224.00 379.30,2224.00 379.70,2224.00 380.10,2224.00 380.50,2224.00 380.90,2224.00 381.30,2224.00 381.70,2224.00 382.10,2224.00 382.50,2224.00 382.90,2224.00 383.30,2224.00 383.70,2224.00 384.10,2224.00 384.50,2224.00 384.90,2224.00 385.30,2224.00 385.70,2224.00 386.10,2224.00 386.50,2224.00 386.90,2224.00 387.30,2224.00 387.70,2224.00 388.10,2224.00 388.50,2224.00 388.90,2224.00 389.30,2224.00 389.70,2224.00 390.10,2224.00 390.50,2224.00 390.90,2224.00 391.30,2224.00 391.70,2224.00 392.10,2224.00 392.50,2224.00 392.90,2224.00 393.30,2224.00 393.70,2224.00 394.10,2224.00 394.50,2223.99 394.90,2223.98 395.30,2223.96 395.70,2223.93 396.10,2223.88 396.50,2223.78 396.90,2223.64 397.30,2223.41 397.70,2223.07 398.10,2222.58 398.50,2221.90 398.90,2221.01 399.30,2219.87 399.70,2218.48 400.10,2216.87 400.50,2215.09 400.90,2213.22 401.30,2211.39 401.70,2209.72 402.10,2208.36 402.50,2207.43 402.90,2207.02 403.30,2207.16 403.70,2207.84 404.10,2209.00 404.50,2210.53 404.90,2212.29 405.30,2214.16 405.70,2215.99 406.10,2217.70 406.50,2219.20 406.90,2220.47 407.30,2221.48 407.70,2222.26 408.10,2222.84 408.50,2223.25 408.90,2223.53 409.30,2223.72 409.70,2223.84 410.10,2223.91 410.50,2223.95 410.90,2223.97 411.30,2223.99 411.70,2223.99 412.10,2224.00 412.50,2224.00 412.90,2224.00 413.30,2224.00 413.70,2224.00 414.10,2224.00 414.50,2224.00 414.90,2224.00 415.30,2224.00 415.70,2224.00 416.10,2224.00 416.50,2224.00 416.90,2224.00 417.30,2224.00 417.70,2224.00 418.10,2224.00 418.50,2224.00 418.90,2224.00 419.30,2224.00 419.70,2224.00 420.10,2224.00 420.50,2224.00 420.90,2224.00 421.30,2224.00 421.70,2224.00 422.10,2224.00 422.50,2224.00 422.90,2224.00 423.30,2224.00 423.70,2224.00 424.10,2224.00 424.50,2224.00 424.90,2224.00 425.30,2224.00 425.70,2224.00 426.10,2224.00 426.50,2224.00 426.90,2224.00 427.30,2224.00 427.70,2224.00 428.10,2224.00 428.50,2224.00 428.90,2224.00 429.30,2224.00 429.70,2224.00 430.10,2224.00 430.50,2224.00 430.90,2224.00 431.30,2224.00 431.70,2224.00 432.10,2224.00 432.50,2224.00 432.90,2224.00 433.30,2224.00 433.70,2224.00 434.10,2224.00 434.50,2224.00 434.90,2224.00 435.30,2224.00 435.70,2224.00 436.10,2224.00 436.50,2224.00 436.90,2224.00 437.30,2224.00 437.70,2224.00 438.10,2224.00 438.50,2224.00 438.90,2224.00 439.30,2224.00 439.70,2224.00 440.10,2224.00 440.50,2224.00 440.90,2224.00" fill="none" stroke="#1e5b9c" stroke-width="3.0" stroke-linejoin="round" stroke-linecap="round" stroke-linecap="butt"/>
<line x1="453.10" y1="2194.00" x2="555.40" y2="2194.00" stroke="#000" stroke-width="2.3" stroke-linecap="butt" stroke-dasharray="8.5 7.1"/>
<path d="M448.40,2160.00 Q451.40,2159.50 451.40,2163.50 L451.40,2227.00" fill="none" stroke="#000" stroke-width="3.4" />
<line x1="447.90" y1="2194.00" x2="451.40" y2="2194.00" stroke="#000" stroke-width="3.0" stroke-linecap="butt" />
<line x1="449.70" y1="2226.50" x2="566.90" y2="2226.50" stroke="#000" stroke-width="3.4" stroke-linecap="butt" />
<line x1="484.10" y1="2226.00" x2="484.10" y2="2230.50" stroke="#000" stroke-width="2.6" stroke-linecap="butt" />
<line x1="516.40" y1="2226.00" x2="516.40" y2="2230.50" stroke="#000" stroke-width="2.6" stroke-linecap="butt" />
<line x1="548.80" y1="2226.00" x2="548.80" y2="2230.50" stroke="#000" stroke-width="2.6" stroke-linecap="butt" />
<polyline points="453.00,2224.00 453.40,2224.00 453.80,2224.00 454.20,2224.00 454.60,2224.00 455.00,2224.00 455.40,2224.00 455.80,2224.00 456.20,2224.00 456.60,2224.00 457.00,2224.00 457.40,2224.00 457.80,2224.00 458.20,2224.00 458.60,2224.00 459.00,2224.00 459.40,2224.00 459.80,2224.00 460.20,2224.00 460.60,2224.00 461.00,2224.00 461.40,2224.00 461.80,2224.00 462.20,2224.00 462.60,2224.00 463.00,2224.00 463.40,2224.00 463.80,2224.00 464.20,2224.00 464.60,2224.00 465.00,2224.00 465.40,2224.00 465.80,2224.00 466.20,2224.00 466.60,2224.00 467.00,2224.00 467.40,2224.00 467.80,2224.00 468.20,2224.00 468.60,2224.00 469.00,2224.00 469.40,2224.00 469.80,2224.00 470.20,2224.00 470.60,2224.00 471.00,2224.00 471.40,2224.00 471.80,2224.00 472.20,2224.00 472.60,2224.00 473.00,2224.00 473.40,2224.00 473.80,2224.00 474.20,2224.00 474.60,2224.00 475.00,2224.00 475.40,2224.00 475.80,2224.00 476.20,2224.00 476.60,2224.00 477.00,2224.00 477.40,2224.00 477.80,2224.00 478.20,2224.00 478.60,2224.00 479.00,2224.00 479.40,2224.00 479.80,2224.00 480.20,2224.00 480.60,2224.00 481.00,2224.00 481.40,2224.00 481.80,2224.00 482.20,2224.00 482.60,2224.00 483.00,2224.00 483.40,2224.00 483.80,2224.00 484.20,2224.00 484.60,2224.00 485.00,2224.00 485.40,2224.00 485.80,2224.00 486.20,2224.00 486.60,2224.00 487.00,2224.00 487.40,2224.00 487.80,2224.00 488.20,2224.00 488.60,2224.00 489.00,2224.00 489.40,2224.00 489.80,2224.00 490.20,2224.00 490.60,2224.00 491.00,2224.00 491.40,2224.00 491.80,2224.00 492.20,2224.00 492.60,2224.00 493.00,2224.00 493.40,2224.00 493.80,2224.00 494.20,2224.00 494.60,2224.00 495.00,2224.00 495.40,2224.00 495.80,2224.00 496.20,2224.00 496.60,2224.00 497.00,2224.00 497.40,2224.00 497.80,2224.00 498.20,2224.00 498.60,2224.00 499.00,2224.00 499.40,2224.00 499.80,2224.00 500.20,2224.00 500.60,2224.00 501.00,2224.00 501.40,2224.00 501.80,2224.00 502.20,2224.00 502.60,2224.00 503.00,2224.00 503.40,2224.00 503.80,2224.00 504.20,2224.00 504.60,2224.00 505.00,2224.00 505.40,2224.00 505.80,2224.00 506.20,2224.00 506.60,2224.00 507.00,2224.00 507.40,2224.00 507.80,2224.00 508.20,2224.00 508.60,2224.00 509.00,2224.00 509.40,2224.00 509.80,2224.00 510.20,2224.00 510.60,2224.00 511.00,2224.00 511.40,2224.00 511.80,2224.00 512.20,2224.00 512.60,2224.00 513.00,2224.00 513.40,2224.00 513.80,2224.00 514.20,2224.00 514.60,2224.00 515.00,2224.00 515.40,2224.00 515.80,2224.00 516.20,2224.00 516.60,2224.00 517.00,2224.00 517.40,2224.00 517.80,2224.00 518.20,2224.00 518.60,2224.00 519.00,2224.00 519.40,2224.00 519.80,2223.99 520.20,2223.99 520.60,2223.98 521.00,2223.96 521.40,2223.93 521.80,2223.87 522.20,2223.77 522.60,2223.61 523.00,2223.37 523.40,2223.01 523.80,2222.49 524.20,2221.78 524.60,2220.83 525.00,2219.62 525.40,2218.16 525.80,2216.45 526.20,2214.56 526.60,2212.59 527.00,2210.65 527.40,2208.88 527.80,2207.44 528.20,2206.46 528.60,2206.02 529.00,2206.17 529.40,2206.89 529.80,2208.12 530.20,2209.73 530.60,2211.60 531.00,2213.58 531.40,2215.52 531.80,2217.33 532.20,2218.92 532.60,2220.26 533.00,2221.33 533.40,2222.16 533.80,2222.77 534.20,2223.21 534.60,2223.51 535.00,2223.70 535.40,2223.83 535.80,2223.90 536.20,2223.95 536.60,2223.97 537.00,2223.99 537.40,2223.99 537.80,2224.00 538.20,2224.00 538.60,2224.00 539.00,2224.00 539.40,2224.00 539.80,2224.00 540.20,2224.00 540.60,2224.00 541.00,2224.00 541.40,2224.00 541.80,2224.00 542.20,2224.00 542.60,2224.00 543.00,2224.00 543.40,2224.00 543.80,2224.00 544.20,2224.00 544.60,2224.00 545.00,2224.00 545.40,2224.00 545.80,2224.00 546.20,2224.00 546.60,2224.00 547.00,2224.00 547.40,2224.00 547.80,2224.00 548.20,2224.00 548.60,2224.00 549.00,2224.00 549.40,2224.00 549.80,2224.00 550.20,2224.00 550.60,2224.00 551.00,2224.00 551.40,2224.00 551.80,2224.00 552.20,2224.00 552.60,2224.00 553.00,2224.00 553.40,2224.00 553.80,2224.00 554.20,2224.00 554.60,2224.00 555.00,2224.00 555.40,2224.00 555.80,2224.00 556.20,2224.00 556.60,2224.00 557.00,2224.00 557.40,2224.00 557.80,2224.00 558.20,2224.00 558.60,2224.00 559.00,2224.00 559.40,2224.00 559.80,2224.00 560.20,2224.00 560.60,2224.00 561.00,2224.00 561.40,2224.00 561.80,2224.00 562.20,2224.00 562.60,2224.00 563.00,2224.00 563.40,2224.00 563.80,2224.00 564.20,2224.00 564.60,2224.00 565.00,2224.00 565.40,2224.00 565.80,2224.00 566.20,2224.00 566.60,2224.00" fill="none" stroke="#c9d41e" stroke-width="3.0" stroke-linejoin="round" stroke-linecap="round" stroke-linecap="butt"/>
<line x1="582.90" y1="2194.00" x2="685.20" y2="2194.00" stroke="#000" stroke-width="2.3" stroke-linecap="butt" stroke-dasharray="8.5 7.1"/>
<path d="M578.20,2160.00 Q581.20,2159.50 581.20,2163.50 L581.20,2227.00" fill="none" stroke="#000" stroke-width="3.4" />
<line x1="577.70" y1="2194.00" x2="581.20" y2="2194.00" stroke="#000" stroke-width="3.0" stroke-linecap="butt" />
<line x1="579.50" y1="2226.50" x2="696.70" y2="2226.50" stroke="#000" stroke-width="3.4" stroke-linecap="butt" />
<line x1="613.90" y1="2226.00" x2="613.90" y2="2230.50" stroke="#000" stroke-width="2.6" stroke-linecap="butt" />
<line x1="646.20" y1="2226.00" x2="646.20" y2="2230.50" stroke="#000" stroke-width="2.6" stroke-linecap="butt" />
<line x1="678.60" y1="2226.00" x2="678.60" y2="2230.50" stroke="#000" stroke-width="2.6" stroke-linecap="butt" />
<polyline points="582.80,2224.00 583.20,2224.00 583.60,2224.00 584.00,2224.00 584.40,2224.00 584.80,2224.00 585.20,2224.00 585.60,2224.00 586.00,2224.00 586.40,2224.00 586.80,2224.00 587.20,2224.00 587.60,2224.00 588.00,2224.00 588.40,2224.00 588.80,2224.00 589.20,2224.00 589.60,2224.00 590.00,2224.00 590.40,2224.00 590.80,2224.00 591.20,2224.00 591.60,2224.00 592.00,2224.00 592.40,2224.00 592.80,2224.00 593.20,2224.00 593.60,2224.00 594.00,2224.00 594.40,2224.00 594.80,2224.00 595.20,2224.00 595.60,2224.00 596.00,2224.00 596.40,2224.00 596.80,2224.00 597.20,2224.00 597.60,2224.00 598.00,2224.00 598.40,2224.00 598.80,2224.00 599.20,2224.00 599.60,2224.00 600.00,2224.00 600.40,2224.00 600.80,2224.00 601.20,2224.00 601.60,2224.00 602.00,2224.00 602.40,2224.00 602.80,2224.00 603.20,2224.00 603.60,2224.00 604.00,2224.00 604.40,2224.00 604.80,2224.00 605.20,2224.00 605.60,2224.00 606.00,2224.00 606.40,2224.00 606.80,2224.00 607.20,2224.00 607.60,2224.00 608.00,2224.00 608.40,2224.00 608.80,2224.00 609.20,2224.00 609.60,2224.00 610.00,2224.00 610.40,2224.00 610.80,2224.00 611.20,2224.00 611.60,2224.00 612.00,2224.00 612.40,2224.00 612.80,2224.00 613.20,2224.00 613.60,2224.00 614.00,2224.00 614.40,2224.00 614.80,2224.00 615.20,2224.00 615.60,2224.00 616.00,2224.00 616.40,2224.00 616.80,2224.00 617.20,2224.00 617.60,2224.00 618.00,2224.00 618.40,2224.00 618.80,2224.00 619.20,2224.00 619.60,2224.00 620.00,2224.00 620.40,2224.00 620.80,2224.00 621.20,2224.00 621.60,2224.00 622.00,2224.00 622.40,2224.00 622.80,2224.00 623.20,2224.00 623.60,2224.00 624.00,2224.00 624.40,2224.00 624.80,2224.00 625.20,2224.00 625.60,2224.00 626.00,2224.00 626.40,2224.00 626.80,2224.00 627.20,2224.00 627.60,2224.00 628.00,2224.00 628.40,2224.00 628.80,2224.00 629.20,2224.00 629.60,2224.00 630.00,2224.00 630.40,2224.00 630.80,2224.00 631.20,2224.00 631.60,2224.00 632.00,2224.00 632.40,2224.00 632.80,2224.00 633.20,2224.00 633.60,2224.00 634.00,2224.00 634.40,2224.00 634.80,2224.00 635.20,2224.00 635.60,2224.00 636.00,2224.00 636.40,2224.00 636.80,2224.00 637.20,2224.00 637.60,2224.00 638.00,2224.00 638.40,2224.00 638.80,2224.00 639.20,2224.00 639.60,2224.00 640.00,2224.00 640.40,2224.00 640.80,2224.00 641.20,2224.00 641.60,2224.00 642.00,2224.00 642.40,2224.00 642.80,2224.00 643.20,2224.00 643.60,2224.00 644.00,2224.00 644.40,2224.00 644.80,2224.00 645.20,2224.00 645.60,2224.00 646.00,2224.00 646.40,2224.00 646.80,2224.00 647.20,2224.00 647.60,2224.00 648.00,2224.00 648.40,2224.00 648.80,2224.00 649.20,2224.00 649.60,2223.99 650.00,2223.99 650.40,2223.98 650.80,2223.96 651.20,2223.92 651.60,2223.86 652.00,2223.76 652.40,2223.59 652.80,2223.34 653.20,2222.96 653.60,2222.41 654.00,2221.65 654.40,2220.65 654.80,2219.38 655.20,2217.83 655.60,2216.03 656.00,2214.04 656.40,2211.95 656.80,2209.90 657.20,2208.04 657.60,2206.53 658.00,2205.48 658.40,2205.02 658.80,2205.18 659.20,2205.94 659.60,2207.23 660.00,2208.94 660.40,2210.91 660.80,2213.00 661.20,2215.05 661.60,2216.96 662.00,2218.64 662.40,2220.05 662.80,2221.19 663.20,2222.06 663.60,2222.71 664.00,2223.17 664.40,2223.48 664.80,2223.69 665.20,2223.82 665.60,2223.90 666.00,2223.94 666.40,2223.97 666.80,2223.98 667.20,2223.99 667.60,2224.00 668.00,2224.00 668.40,2224.00 668.80,2224.00 669.20,2224.00 669.60,2224.00 670.00,2224.00 670.40,2224.00 670.80,2224.00 671.20,2224.00 671.60,2224.00 672.00,2224.00 672.40,2224.00 672.80,2224.00 673.20,2224.00 673.60,2224.00 674.00,2224.00 674.40,2224.00 674.80,2224.00 675.20,2224.00 675.60,2224.00 676.00,2224.00 676.40,2224.00 676.80,2224.00 677.20,2224.00 677.60,2224.00 678.00,2224.00 678.40,2224.00 678.80,2224.00 679.20,2224.00 679.60,2224.00 680.00,2224.00 680.40,2224.00 680.80,2224.00 681.20,2224.00 681.60,2224.00 682.00,2224.00 682.40,2224.00 682.80,2224.00 683.20,2224.00 683.60,2224.00 684.00,2224.00 684.40,2224.00 684.80,2224.00 685.20,2224.00 685.60,2224.00 686.00,2224.00 686.40,2224.00 686.80,2224.00 687.20,2224.00 687.60,2224.00 688.00,2224.00 688.40,2224.00 688.80,2224.00 689.20,2224.00 689.60,2224.00 690.00,2224.00 690.40,2224.00 690.80,2224.00 691.20,2224.00 691.60,2224.00 692.00,2224.00 692.40,2224.00 692.80,2224.00 693.20,2224.00 693.60,2224.00 694.00,2224.00 694.40,2224.00 694.80,2224.00 695.20,2224.00 695.60,2224.00 696.00,2224.00 696.40,2224.00" fill="none" stroke="#f07b37" stroke-width="3.0" stroke-linejoin="round" stroke-linecap="round" stroke-linecap="butt"/>
<line x1="707.90" y1="2194.00" x2="810.20" y2="2194.00" stroke="#000" stroke-width="2.3" stroke-linecap="butt" stroke-dasharray="8.5 7.1"/>
<path d="M703.20,2160.00 Q706.20,2159.50 706.20,2163.50 L706.20,2227.00" fill="none" stroke="#000" stroke-width="3.4" />
<line x1="702.70" y1="2194.00" x2="706.20" y2="2194.00" stroke="#000" stroke-width="3.0" stroke-linecap="butt" />
<line x1="704.50" y1="2226.50" x2="821.70" y2="2226.50" stroke="#000" stroke-width="3.4" stroke-linecap="butt" />
<line x1="738.90" y1="2226.00" x2="738.90" y2="2230.50" stroke="#000" stroke-width="2.6" stroke-linecap="butt" />
<line x1="771.20" y1="2226.00" x2="771.20" y2="2230.50" stroke="#000" stroke-width="2.6" stroke-linecap="butt" />
<line x1="803.60" y1="2226.00" x2="803.60" y2="2230.50" stroke="#000" stroke-width="2.6" stroke-linecap="butt" />
<polyline points="707.80,2224.00 708.20,2224.00 708.60,2224.00 709.00,2224.00 709.40,2224.00 709.80,2224.00 710.20,2224.00 710.60,2224.00 711.00,2224.00 711.40,2224.00 711.80,2224.00 712.20,2224.00 712.60,2224.00 713.00,2224.00 713.40,2224.00 713.80,2224.00 714.20,2224.00 714.60,2224.00 715.00,2224.00 715.40,2224.00 715.80,2224.00 716.20,2224.00 716.60,2224.00 717.00,2224.00 717.40,2224.00 717.80,2224.00 718.20,2224.00 718.60,2224.00 719.00,2224.00 719.40,2224.00 719.80,2224.00 720.20,2224.00 720.60,2224.00 721.00,2224.00 721.40,2224.00 721.80,2224.00 722.20,2224.00 722.60,2224.00 723.00,2224.00 723.40,2224.00 723.80,2224.00 724.20,2224.00 724.60,2224.00 725.00,2224.00 725.40,2224.00 725.80,2224.00 726.20,2224.00 726.60,2224.00 727.00,2224.00 727.40,2224.00 727.80,2224.00 728.20,2224.00 728.60,2224.00 729.00,2224.00 729.40,2224.00 729.80,2224.00 730.20,2224.00 730.60,2224.00 731.00,2224.00 731.40,2224.00 731.80,2224.00 732.20,2224.00 732.60,2224.00 733.00,2224.00 733.40,2224.00 733.80,2224.00 734.20,2224.00 734.60,2224.00 735.00,2224.00 735.40,2224.00 735.80,2224.00 736.20,2224.00 736.60,2224.00 737.00,2224.00 737.40,2224.00 737.80,2224.00 738.20,2224.00 738.60,2224.00 739.00,2224.00 739.40,2224.00 739.80,2224.00 740.20,2224.00 740.60,2224.00 741.00,2224.00 741.40,2224.00 741.80,2224.00 742.20,2224.00 742.60,2224.00 743.00,2224.00 743.40,2224.00 743.80,2224.00 744.20,2224.00 744.60,2224.00 745.00,2224.00 745.40,2224.00 745.80,2224.00 746.20,2224.00 746.60,2224.00 747.00,2224.00 747.40,2224.00 747.80,2224.00 748.20,2224.00 748.60,2224.00 749.00,2224.00 749.40,2224.00 749.80,2224.00 750.20,2224.00 750.60,2224.00 751.00,2224.00 751.40,2224.00 751.80,2224.00 752.20,2224.00 752.60,2224.00 753.00,2224.00 753.40,2224.00 753.80,2224.00 754.20,2224.00 754.60,2224.00 755.00,2224.00 755.40,2224.00 755.80,2224.00 756.20,2224.00 756.60,2224.00 757.00,2224.00 757.40,2224.00 757.80,2224.00 758.20,2224.00 758.60,2224.00 759.00,2224.00 759.40,2224.00 759.80,2224.00 760.20,2224.00 760.60,2224.00 761.00,2224.00 761.40,2224.00 761.80,2224.00 762.20,2224.00 762.60,2224.00 763.00,2224.00 763.40,2224.00 763.80,2224.00 764.20,2224.00 764.60,2224.00 765.00,2224.00 765.40,2224.00 765.80,2224.00 766.20,2224.00 766.60,2224.00 767.00,2224.00 767.40,2224.00 767.80,2224.00 768.20,2224.00 768.60,2224.00 769.00,2224.00 769.40,2224.00 769.80,2224.00 770.20,2224.00 770.60,2224.00 771.00,2224.00 771.40,2224.00 771.80,2224.00 772.20,2224.00 772.60,2224.00 773.00,2224.00 773.40,2224.00 773.80,2224.00 774.20,2224.00 774.60,2223.99 775.00,2223.99 775.40,2223.98 775.80,2223.96 776.20,2223.92 776.60,2223.86 777.00,2223.76 777.40,2223.59 777.80,2223.34 778.20,2222.96 778.60,2222.41 779.00,2221.65 779.40,2220.65 779.80,2219.38 780.20,2217.83 780.60,2216.03 781.00,2214.04 781.40,2211.95 781.80,2209.90 782.20,2208.04 782.60,2206.53 783.00,2205.48 783.40,2205.02 783.80,2205.18 784.20,2205.94 784.60,2207.23 785.00,2208.94 785.40,2210.91 785.80,2213.00 786.20,2215.05 786.60,2216.96 787.00,2218.64 787.40,2220.05 787.80,2221.19 788.20,2222.06 788.60,2222.71 789.00,2223.17 789.40,2223.48 789.80,2223.69 790.20,2223.82 790.60,2223.90 791.00,2223.94 791.40,2223.97 791.80,2223.98 792.20,2223.99 792.60,2224.00 793.00,2224.00 793.40,2224.00 793.80,2224.00 794.20,2224.00 794.60,2224.00 795.00,2224.00 795.40,2224.00 795.80,2224.00 796.20,2224.00 796.60,2224.00 797.00,2224.00 797.40,2224.00 797.80,2224.00 798.20,2224.00 798.60,2224.00 799.00,2224.00 799.40,2224.00 799.80,2224.00 800.20,2224.00 800.60,2224.00 801.00,2224.00 801.40,2224.00 801.80,2224.00 802.20,2224.00 802.60,2224.00 803.00,2224.00 803.40,2224.00 803.80,2224.00 804.20,2224.00 804.60,2224.00 805.00,2224.00 805.40,2224.00 805.80,2224.00 806.20,2224.00 806.60,2224.00 807.00,2224.00 807.40,2224.00 807.80,2224.00 808.20,2224.00 808.60,2224.00 809.00,2224.00 809.40,2224.00 809.80,2224.00 810.20,2224.00 810.60,2224.00 811.00,2224.00 811.40,2224.00 811.80,2224.00 812.20,2224.00 812.60,2224.00 813.00,2224.00 813.40,2224.00 813.80,2224.00 814.20,2224.00 814.60,2224.00 815.00,2224.00 815.40,2224.00 815.80,2224.00 816.20,2224.00 816.60,2224.00 817.00,2224.00 817.40,2224.00 817.80,2224.00 818.20,2224.00 818.60,2224.00 819.00,2224.00 819.40,2224.00 819.80,2224.00 820.20,2224.00 820.60,2224.00 821.00,2224.00 821.40,2224.00" fill="none" stroke="#2e9444" stroke-width="3.0" stroke-linejoin="round" stroke-linecap="round" stroke-linecap="butt"/>
<line x1="836.50" y1="2194.00" x2="938.80" y2="2194.00" stroke="#000" stroke-width="2.3" stroke-linecap="butt" stroke-dasharray="8.5 7.1"/>
<path d="M831.80,2160.00 Q834.80,2159.50 834.80,2163.50 L834.80,2227.00" fill="none" stroke="#000" stroke-width="3.4" />
<line x1="831.30" y1="2194.00" x2="834.80" y2="2194.00" stroke="#000" stroke-width="3.0" stroke-linecap="butt" />
<line x1="833.10" y1="2226.50" x2="950.30" y2="2226.50" stroke="#000" stroke-width="3.4" stroke-linecap="butt" />
<line x1="867.50" y1="2226.00" x2="867.50" y2="2230.50" stroke="#000" stroke-width="2.6" stroke-linecap="butt" />
<line x1="899.80" y1="2226.00" x2="899.80" y2="2230.50" stroke="#000" stroke-width="2.6" stroke-linecap="butt" />
<line x1="932.20" y1="2226.00" x2="932.20" y2="2230.50" stroke="#000" stroke-width="2.6" stroke-linecap="butt" />
<polyline points="836.40,2224.00 836.80,2224.00 837.20,2224.00 837.60,2224.00 838.00,2224.00 838.40,2224.00 838.80,2224.00 839.20,2224.00 839.60,2224.00 840.00,2224.00 840.40,2224.00 840.80,2224.00 841.20,2224.00 841.60,2224.00 842.00,2224.00 842.40,2224.00 842.80,2224.00 843.20,2224.00 843.60,2224.00 844.00,2224.00 844.40,2224.00 844.80,2224.00 845.20,2224.00 845.60,2224.00 846.00,2224.00 846.40,2224.00 846.80,2224.00 847.20,2224.00 847.60,2224.00 848.00,2224.00 848.40,2224.00 848.80,2224.00 849.20,2224.00 849.60,2224.00 850.00,2224.00 850.40,2224.00 850.80,2224.00 851.20,2224.00 851.60,2224.00 852.00,2224.00 852.40,2224.00 852.80,2224.00 853.20,2224.00 853.60,2224.00 854.00,2224.00 854.40,2224.00 854.80,2224.00 855.20,2224.00 855.60,2224.00 856.00,2224.00 856.40,2224.00 856.80,2224.00 857.20,2224.00 857.60,2224.00 858.00,2224.00 858.40,2224.00 858.80,2224.00 859.20,2224.00 859.60,2224.00 860.00,2224.00 860.40,2224.00 860.80,2224.00 861.20,2224.00 861.60,2224.00 862.00,2224.00 862.40,2224.00 862.80,2224.00 863.20,2224.00 863.60,2224.00 864.00,2224.00 864.40,2224.00 864.80,2224.00 865.20,2224.00 865.60,2224.00 866.00,2224.00 866.40,2224.00 866.80,2224.00 867.20,2224.00 867.60,2224.00 868.00,2224.00 868.40,2224.00 868.80,2224.00 869.20,2224.00 869.60,2224.00 870.00,2224.00 870.40,2224.00 870.80,2224.00 871.20,2224.00 871.60,2224.00 872.00,2224.00 872.40,2224.00 872.80,2224.00 873.20,2224.00 873.60,2224.00 874.00,2224.00 874.40,2224.00 874.80,2224.00 875.20,2224.00 875.60,2224.00 876.00,2224.00 876.40,2224.00 876.80,2224.00 877.20,2224.00 877.60,2224.00 878.00,2224.00 878.40,2224.00 878.80,2224.00 879.20,2224.00 879.60,2224.00 880.00,2224.00 880.40,2224.00 880.80,2224.00 881.20,2224.00 881.60,2224.00 882.00,2224.00 882.40,2224.00 882.80,2224.00 883.20,2224.00 883.60,2224.00 884.00,2224.00 884.40,2224.00 884.80,2224.00 885.20,2224.00 885.60,2224.00 886.00,2224.00 886.40,2224.00 886.80,2224.00 887.20,2224.00 887.60,2224.00 888.00,2224.00 888.40,2224.00 888.80,2224.00 889.20,2224.00 889.60,2224.00 890.00,2224.00 890.40,2224.00 890.80,2224.00 891.20,2224.00 891.60,2224.00 892.00,2224.00 892.40,2224.00 892.80,2224.00 893.20,2224.00 893.60,2224.00 894.00,2224.00 894.40,2224.00 894.80,2224.00 895.20,2224.00 895.60,2224.00 896.00,2224.00 896.40,2224.00 896.80,2224.00 897.20,2224.00 897.60,2224.00 898.00,2224.00 898.40,2224.00 898.80,2224.00 899.20,2224.00 899.60,2224.00 900.00,2224.00 900.40,2224.00 900.80,2224.00 901.20,2224.00 901.60,2224.00 902.00,2224.00 902.40,2224.00 902.80,2224.00 903.20,2223.99 903.60,2223.99 904.00,2223.98 904.40,2223.96 904.80,2223.93 905.20,2223.87 905.60,2223.77 906.00,2223.61 906.40,2223.37 906.80,2223.01 907.20,2222.49 907.60,2221.78 908.00,2220.83 908.40,2219.62 908.80,2218.16 909.20,2216.45 909.60,2214.56 910.00,2212.59 910.40,2210.65 910.80,2208.88 911.20,2207.44 911.60,2206.46 912.00,2206.02 912.40,2206.17 912.80,2206.89 913.20,2208.12 913.60,2209.73 914.00,2211.60 914.40,2213.58 914.80,2215.52 915.20,2217.33 915.60,2218.92 916.00,2220.26 916.40,2221.33 916.80,2222.16 917.20,2222.77 917.60,2223.21 918.00,2223.51 918.40,2223.70 918.80,2223.83 919.20,2223.90 919.60,2223.95 920.00,2223.97 920.40,2223.99 920.80,2223.99 921.20,2224.00 921.60,2224.00 922.00,2224.00 922.40,2224.00 922.80,2224.00 923.20,2224.00 923.60,2224.00 924.00,2224.00 924.40,2224.00 924.80,2224.00 925.20,2224.00 925.60,2224.00 926.00,2224.00 926.40,2224.00 926.80,2224.00 927.20,2224.00 927.60,2224.00 928.00,2224.00 928.40,2224.00 928.80,2224.00 929.20,2224.00 929.60,2224.00 930.00,2224.00 930.40,2224.00 930.80,2224.00 931.20,2224.00 931.60,2224.00 932.00,2224.00 932.40,2224.00 932.80,2224.00 933.20,2224.00 933.60,2224.00 934.00,2224.00 934.40,2224.00 934.80,2224.00 935.20,2224.00 935.60,2224.00 936.00,2224.00 936.40,2224.00 936.80,2224.00 937.20,2224.00 937.60,2224.00 938.00,2224.00 938.40,2224.00 938.80,2224.00 939.20,2224.00 939.60,2224.00 940.00,2224.00 940.40,2224.00 940.80,2224.00 941.20,2224.00 941.60,2224.00 942.00,2224.00 942.40,2224.00 942.80,2224.00 943.20,2224.00 943.60,2224.00 944.00,2224.00 944.40,2224.00 944.80,2224.00 945.20,2224.00 945.60,2224.00 946.00,2224.00 946.40,2224.00 946.80,2224.00 947.20,2224.00 947.60,2224.00 948.00,2224.00 948.40,2224.00 948.80,2224.00 949.20,2224.00 949.60,2224.00 950.00,2224.00" fill="none" stroke="#b41218" stroke-width="3.0" stroke-linejoin="round" stroke-linecap="round" stroke-linecap="butt"/>
<line x1="327.40" y1="2277.50" x2="429.70" y2="2277.50" stroke="#000" stroke-width="2.3" stroke-linecap="butt" stroke-dasharray="8.5 7.1"/>
<path d="M322.70,2243.50 Q325.70,2243.00 325.70,2247.00 L325.70,2310.50" fill="none" stroke="#000" stroke-width="3.4" />
<line x1="322.20" y1="2277.50" x2="325.70" y2="2277.50" stroke="#000" stroke-width="3.0" stroke-linecap="butt" />
<line x1="324.00" y1="2310.00" x2="441.20" y2="2310.00" stroke="#000" stroke-width="3.4" stroke-linecap="butt" />
<line x1="358.40" y1="2309.50" x2="358.40" y2="2314.00" stroke="#000" stroke-width="2.6" stroke-linecap="butt" />
<line x1="390.70" y1="2309.50" x2="390.70" y2="2314.00" stroke="#000" stroke-width="2.6" stroke-linecap="butt" />
<line x1="423.10" y1="2309.50" x2="423.10" y2="2314.00" stroke="#000" stroke-width="2.6" stroke-linecap="butt" />
<polyline points="327.30,2307.50 327.70,2307.50 328.10,2307.50 328.50,2307.50 328.90,2307.50 329.30,2307.50 329.70,2307.50 330.10,2307.50 330.50,2307.50 330.90,2307.50 331.30,2307.50 331.70,2307.50 332.10,2307.50 332.50,2307.50 332.90,2307.50 333.30,2307.50 333.70,2307.50 334.10,2307.50 334.50,2307.50 334.90,2307.50 335.30,2307.50 335.70,2307.50 336.10,2307.50 336.50,2307.50 336.90,2307.50 337.30,2307.50 337.70,2307.50 338.10,2307.50 338.50,2307.50 338.90,2307.50 339.30,2307.50 339.70,2307.50 340.10,2307.50 340.50,2307.50 340.90,2307.50 341.30,2307.50 341.70,2307.50 342.10,2307.50 342.50,2307.50 342.90,2307.50 343.30,2307.50 343.70,2307.50 344.10,2307.50 344.50,2307.50 344.90,2307.50 345.30,2307.50 345.70,2307.50 346.10,2307.50 346.50,2307.50 346.90,2307.50 347.30,2307.50 347.70,2307.50 348.10,2307.50 348.50,2307.50 348.90,2307.50 349.30,2307.50 349.70,2307.50 350.10,2307.50 350.50,2307.50 350.90,2307.50 351.30,2307.50 351.70,2307.50 352.10,2307.50 352.50,2307.50 352.90,2307.50 353.30,2307.50 353.70,2307.50 354.10,2307.50 354.50,2307.50 354.90,2307.50 355.30,2307.50 355.70,2307.50 356.10,2307.50 356.50,2307.50 356.90,2307.50 357.30,2307.50 357.70,2307.50 358.10,2307.50 358.50,2307.50 358.90,2307.50 359.30,2307.50 359.70,2307.50 360.10,2307.50 360.50,2307.50 360.90,2307.50 361.30,2307.50 361.70,2307.50 362.10,2307.50 362.50,2307.50 362.90,2307.50 363.30,2307.50 363.70,2307.50 364.10,2307.50 364.50,2307.50 364.90,2307.50 365.30,2307.50 365.70,2307.50 366.10,2307.50 366.50,2307.50 366.90,2307.50 367.30,2307.50 367.70,2307.50 368.10,2307.50 368.50,2307.50 368.90,2307.50 369.30,2307.50 369.70,2307.50 370.10,2307.50 370.50,2307.50 370.90,2307.50 371.30,2307.50 371.70,2307.50 372.10,2307.50 372.50,2307.50 372.90,2307.50 373.30,2307.50 373.70,2307.50 374.10,2307.50 374.50,2307.50 374.90,2307.50 375.30,2307.50 375.70,2307.50 376.10,2307.50 376.50,2307.50 376.90,2307.50 377.30,2307.50 377.70,2307.50 378.10,2307.50 378.50,2307.50 378.90,2307.50 379.30,2307.50 379.70,2307.50 380.10,2307.50 380.50,2307.50 380.90,2307.50 381.30,2307.50 381.70,2307.50 382.10,2307.50 382.50,2307.50 382.90,2307.50 383.30,2307.50 383.70,2307.50 384.10,2307.50 384.50,2307.50 384.90,2307.50 385.30,2307.50 385.70,2307.50 386.10,2307.50 386.50,2307.50 386.90,2307.50 387.30,2307.50 387.70,2307.50 388.10,2307.50 388.50,2307.50 388.90,2307.50 389.30,2307.50 389.70,2307.50 390.10,2307.50 390.50,2307.50 390.90,2307.50 391.30,2307.50 391.70,2307.50 392.10,2307.50 392.50,2307.50 392.90,2307.50 393.30,2307.50 393.70,2307.50 394.10,2307.50 394.50,2307.49 394.90,2307.49 395.30,2307.47 395.70,2307.45 396.10,2307.41 396.50,2307.35 396.90,2307.24 397.30,2307.08 397.70,2306.84 398.10,2306.50 398.50,2306.02 398.90,2305.39 399.30,2304.58 399.70,2303.60 400.10,2302.47 400.50,2301.21 400.90,2299.89 401.30,2298.60 401.70,2297.42 402.10,2296.46 402.50,2295.81 402.90,2295.51 403.30,2295.61 403.70,2296.09 404.10,2296.91 404.50,2297.99 404.90,2299.24 405.30,2300.55 405.70,2301.85 406.10,2303.05 406.50,2304.11 406.90,2305.01 407.30,2305.72 407.70,2306.28 408.10,2306.68 408.50,2306.97 408.90,2307.17 409.30,2307.30 409.70,2307.38 410.10,2307.43 410.50,2307.46 410.90,2307.48 411.30,2307.49 411.70,2307.50 412.10,2307.50 412.50,2307.50 412.90,2307.50 413.30,2307.50 413.70,2307.50 414.10,2307.50 414.50,2307.50 414.90,2307.50 415.30,2307.50 415.70,2307.50 416.10,2307.50 416.50,2307.50 416.90,2307.50 417.30,2307.50 417.70,2307.50 418.10,2307.50 418.50,2307.50 418.90,2307.50 419.30,2307.50 419.70,2307.50 420.10,2307.50 420.50,2307.50 420.90,2307.50 421.30,2307.50 421.70,2307.50 422.10,2307.50 422.50,2307.50 422.90,2307.50 423.30,2307.50 423.70,2307.50 424.10,2307.50 424.50,2307.50 424.90,2307.50 425.30,2307.50 425.70,2307.50 426.10,2307.50 426.50,2307.50 426.90,2307.50 427.30,2307.50 427.70,2307.50 428.10,2307.50 428.50,2307.50 428.90,2307.50 429.30,2307.50 429.70,2307.50 430.10,2307.50 430.50,2307.50 430.90,2307.50 431.30,2307.50 431.70,2307.50 432.10,2307.50 432.50,2307.50 432.90,2307.50 433.30,2307.50 433.70,2307.50 434.10,2307.50 434.50,2307.50 434.90,2307.50 435.30,2307.50 435.70,2307.50 436.10,2307.50 436.50,2307.50 436.90,2307.50 437.30,2307.50 437.70,2307.50 438.10,2307.50 438.50,2307.50 438.90,2307.50 439.30,2307.50 439.70,2307.50 440.10,2307.50 440.50,2307.50 440.90,2307.50" fill="none" stroke="#1e5b9c" stroke-width="3.0" stroke-linejoin="round" stroke-linecap="round" stroke-linecap="butt"/>
<line x1="453.10" y1="2277.50" x2="555.40" y2="2277.50" stroke="#000" stroke-width="2.3" stroke-linecap="butt" stroke-dasharray="8.5 7.1"/>
<path d="M448.40,2243.50 Q451.40,2243.00 451.40,2247.00 L451.40,2310.50" fill="none" stroke="#000" stroke-width="3.4" />
<line x1="447.90" y1="2277.50" x2="451.40" y2="2277.50" stroke="#000" stroke-width="3.0" stroke-linecap="butt" />
<line x1="449.70" y1="2310.00" x2="566.90" y2="2310.00" stroke="#000" stroke-width="3.4" stroke-linecap="butt" />
<line x1="484.10" y1="2309.50" x2="484.10" y2="2314.00" stroke="#000" stroke-width="2.6" stroke-linecap="butt" />
<line x1="516.40" y1="2309.50" x2="516.40" y2="2314.00" stroke="#000" stroke-width="2.6" stroke-linecap="butt" />
<line x1="548.80" y1="2309.50" x2="548.80" y2="2314.00" stroke="#000" stroke-width="2.6" stroke-linecap="butt" />
<polyline points="453.00,2307.50 453.40,2307.50 453.80,2307.50 454.20,2307.50 454.60,2307.50 455.00,2307.50 455.40,2307.50 455.80,2307.50 456.20,2307.50 456.60,2307.50 457.00,2307.50 457.40,2307.50 457.80,2307.50 458.20,2307.50 458.60,2307.50 459.00,2307.50 459.40,2307.50 459.80,2307.50 460.20,2307.50 460.60,2307.50 461.00,2307.50 461.40,2307.50 461.80,2307.50 462.20,2307.50 462.60,2307.50 463.00,2307.50 463.40,2307.50 463.80,2307.50 464.20,2307.50 464.60,2307.50 465.00,2307.50 465.40,2307.50 465.80,2307.50 466.20,2307.50 466.60,2307.50 467.00,2307.50 467.40,2307.50 467.80,2307.50 468.20,2307.50 468.60,2307.50 469.00,2307.50 469.40,2307.50 469.80,2307.50 470.20,2307.50 470.60,2307.50 471.00,2307.50 471.40,2307.50 471.80,2307.50 472.20,2307.50 472.60,2307.50 473.00,2307.50 473.40,2307.50 473.80,2307.50 474.20,2307.50 474.60,2307.50 475.00,2307.50 475.40,2307.50 475.80,2307.50 476.20,2307.50 476.60,2307.50 477.00,2307.50 477.40,2307.50 477.80,2307.50 478.20,2307.50 478.60,2307.50 479.00,2307.50 479.40,2307.50 479.80,2307.50 480.20,2307.50 480.60,2307.50 481.00,2307.50 481.40,2307.50 481.80,2307.50 482.20,2307.50 482.60,2307.50 483.00,2307.50 483.40,2307.50 483.80,2307.50 484.20,2307.50 484.60,2307.50 485.00,2307.50 485.40,2307.50 485.80,2307.50 486.20,2307.50 486.60,2307.50 487.00,2307.50 487.40,2307.50 487.80,2307.50 488.20,2307.50 488.60,2307.50 489.00,2307.50 489.40,2307.50 489.80,2307.50 490.20,2307.50 490.60,2307.50 491.00,2307.50 491.40,2307.50 491.80,2307.50 492.20,2307.50 492.60,2307.50 493.00,2307.50 493.40,2307.50 493.80,2307.50 494.20,2307.50 494.60,2307.50 495.00,2307.50 495.40,2307.50 495.80,2307.50 496.20,2307.50 496.60,2307.50 497.00,2307.50 497.40,2307.50 497.80,2307.50 498.20,2307.50 498.60,2307.50 499.00,2307.50 499.40,2307.50 499.80,2307.50 500.20,2307.50 500.60,2307.50 501.00,2307.50 501.40,2307.50 501.80,2307.50 502.20,2307.50 502.60,2307.50 503.00,2307.50 503.40,2307.50 503.80,2307.50 504.20,2307.50 504.60,2307.50 505.00,2307.50 505.40,2307.50 505.80,2307.50 506.20,2307.50 506.60,2307.50 507.00,2307.50 507.40,2307.50 507.80,2307.50 508.20,2307.50 508.60,2307.50 509.00,2307.50 509.40,2307.50 509.80,2307.50 510.20,2307.50 510.60,2307.50 511.00,2307.50 511.40,2307.50 511.80,2307.50 512.20,2307.50 512.60,2307.50 513.00,2307.50 513.40,2307.50 513.80,2307.50 514.20,2307.50 514.60,2307.50 515.00,2307.50 515.40,2307.50 515.80,2307.50 516.20,2307.50 516.60,2307.50 517.00,2307.50 517.40,2307.50 517.80,2307.50 518.20,2307.50 518.60,2307.50 519.00,2307.50 519.40,2307.50 519.80,2307.50 520.20,2307.49 520.60,2307.48 521.00,2307.47 521.40,2307.44 521.80,2307.40 522.20,2307.32 522.60,2307.20 523.00,2307.01 523.40,2306.73 523.80,2306.33 524.20,2305.77 524.60,2305.03 525.00,2304.10 525.40,2302.95 525.80,2301.63 526.20,2300.16 526.60,2298.62 527.00,2297.11 527.40,2295.74 527.80,2294.62 528.20,2293.86 528.60,2293.51 529.00,2293.63 529.40,2294.19 529.80,2295.15 530.20,2296.40 530.60,2297.86 531.00,2299.39 531.40,2300.91 531.80,2302.31 532.20,2303.55 532.60,2304.59 533.00,2305.43 533.40,2306.07 533.80,2306.55 534.20,2306.88 534.60,2307.12 535.00,2307.27 535.40,2307.36 535.80,2307.42 536.20,2307.46 536.60,2307.48 537.00,2307.49 537.40,2307.49 537.80,2307.50 538.20,2307.50 538.60,2307.50 539.00,2307.50 539.40,2307.50 539.80,2307.50 540.20,2307.50 540.60,2307.50 541.00,2307.50 541.40,2307.50 541.80,2307.50 542.20,2307.50 542.60,2307.50 543.00,2307.50 543.40,2307.50 543.80,2307.50 544.20,2307.50 544.60,2307.50 545.00,2307.50 545.40,2307.50 545.80,2307.50 546.20,2307.50 546.60,2307.50 547.00,2307.50 547.40,2307.50 547.80,2307.50 548.20,2307.50 548.60,2307.50 549.00,2307.50 549.40,2307.50 549.80,2307.50 550.20,2307.50 550.60,2307.50 551.00,2307.50 551.40,2307.50 551.80,2307.50 552.20,2307.50 552.60,2307.50 553.00,2307.50 553.40,2307.50 553.80,2307.50 554.20,2307.50 554.60,2307.50 555.00,2307.50 555.40,2307.50 555.80,2307.50 556.20,2307.50 556.60,2307.50 557.00,2307.50 557.40,2307.50 557.80,2307.50 558.20,2307.50 558.60,2307.50 559.00,2307.50 559.40,2307.50 559.80,2307.50 560.20,2307.50 560.60,2307.50 561.00,2307.50 561.40,2307.50 561.80,2307.50 562.20,2307.50 562.60,2307.50 563.00,2307.50 563.40,2307.50 563.80,2307.50 564.20,2307.50 564.60,2307.50 565.00,2307.50 565.40,2307.50 565.80,2307.50 566.20,2307.50 566.60,2307.50" fill="none" stroke="#c9d41e" stroke-width="3.0" stroke-linejoin="round" stroke-linecap="round" stroke-linecap="butt"/>
<line x1="582.90" y1="2277.50" x2="685.20" y2="2277.50" stroke="#000" stroke-width="2.3" stroke-linecap="butt" stroke-dasharray="8.5 7.1"/>
<path d="M578.20,2243.50 Q581.20,2243.00 581.20,2247.00 L581.20,2310.50" fill="none" stroke="#000" stroke-width="3.4" />
<line x1="577.70" y1="2277.50" x2="581.20" y2="2277.50" stroke="#000" stroke-width="3.0" stroke-linecap="butt" />
<line x1="579.50" y1="2310.00" x2="696.70" y2="2310.00" stroke="#000" stroke-width="3.4" stroke-linecap="butt" />
<line x1="613.90" y1="2309.50" x2="613.90" y2="2314.00" stroke="#000" stroke-width="2.6" stroke-linecap="butt" />
<line x1="646.20" y1="2309.50" x2="646.20" y2="2314.00" stroke="#000" stroke-width="2.6" stroke-linecap="butt" />
<line x1="678.60" y1="2309.50" x2="678.60" y2="2314.00" stroke="#000" stroke-width="2.6" stroke-linecap="butt" />
<polyline points="582.80,2307.50 583.20,2307.50 583.60,2307.50 584.00,2307.50 584.40,2307.50 584.80,2307.50 585.20,2307.50 585.60,2307.50 586.00,2307.50 586.40,2307.50 586.80,2307.50 587.20,2307.50 587.60,2307.50 588.00,2307.50 588.40,2307.50 588.80,2307.50 589.20,2307.50 589.60,2307.50 590.00,2307.50 590.40,2307.50 590.80,2307.50 591.20,2307.50 591.60,2307.50 592.00,2307.50 592.40,2307.50 592.80,2307.50 593.20,2307.50 593.60,2307.50 594.00,2307.50 594.40,2307.50 594.80,2307.50 595.20,2307.50 595.60,2307.50 596.00,2307.50 596.40,2307.50 596.80,2307.50 597.20,2307.50 597.60,2307.50 598.00,2307.50 598.40,2307.50 598.80,2307.50 599.20,2307.50 599.60,2307.50 600.00,2307.50 600.40,2307.50 600.80,2307.50 601.20,2307.50 601.60,2307.50 602.00,2307.50 602.40,2307.50 602.80,2307.50 603.20,2307.50 603.60,2307.50 604.00,2307.50 604.40,2307.50 604.80,2307.50 605.20,2307.50 605.60,2307.50 606.00,2307.50 606.40,2307.50 606.80,2307.50 607.20,2307.50 607.60,2307.50 608.00,2307.50 608.40,2307.50 608.80,2307.50 609.20,2307.50 609.60,2307.50 610.00,2307.50 610.40,2307.50 610.80,2307.50 611.20,2307.50 611.60,2307.50 612.00,2307.50 612.40,2307.50 612.80,2307.50 613.20,2307.50 613.60,2307.50 614.00,2307.50 614.40,2307.50 614.80,2307.50 615.20,2307.50 615.60,2307.50 616.00,2307.50 616.40,2307.50 616.80,2307.50 617.20,2307.50 617.60,2307.50 618.00,2307.50 618.40,2307.50 618.80,2307.50 619.20,2307.50 619.60,2307.50 620.00,2307.50 620.40,2307.50 620.80,2307.50 621.20,2307.50 621.60,2307.50 622.00,2307.50 622.40,2307.50 622.80,2307.50 623.20,2307.50 623.60,2307.50 624.00,2307.50 624.40,2307.50 624.80,2307.50 625.20,2307.50 625.60,2307.50 626.00,2307.50 626.40,2307.50 626.80,2307.50 627.20,2307.50 627.60,2307.50 628.00,2307.50 628.40,2307.50 628.80,2307.50 629.20,2307.50 629.60,2307.50 630.00,2307.50 630.40,2307.50 630.80,2307.50 631.20,2307.50 631.60,2307.50 632.00,2307.50 632.40,2307.50 632.80,2307.50 633.20,2307.50 633.60,2307.50 634.00,2307.50 634.40,2307.50 634.80,2307.50 635.20,2307.50 635.60,2307.50 636.00,2307.50 636.40,2307.50 636.80,2307.50 637.20,2307.50 637.60,2307.50 638.00,2307.50 638.40,2307.50 638.80,2307.50 639.20,2307.50 639.60,2307.50 640.00,2307.50 640.40,2307.50 640.80,2307.50 641.20,2307.50 641.60,2307.50 642.00,2307.50 642.40,2307.50 642.80,2307.50 643.20,2307.50 643.60,2307.50 644.00,2307.50 644.40,2307.50 644.80,2307.50 645.20,2307.50 645.60,2307.50 646.00,2307.50 646.40,2307.50 646.80,2307.50 647.20,2307.50 647.60,2307.50 648.00,2307.50 648.40,2307.50 648.80,2307.50 649.20,2307.50 649.60,2307.50 650.00,2307.49 650.40,2307.48 650.80,2307.47 651.20,2307.44 651.60,2307.40 652.00,2307.32 652.40,2307.20 652.80,2307.01 653.20,2306.73 653.60,2306.33 654.00,2305.77 654.40,2305.03 654.80,2304.10 655.20,2302.95 655.60,2301.63 656.00,2300.16 656.40,2298.62 656.80,2297.11 657.20,2295.74 657.60,2294.62 658.00,2293.86 658.40,2293.51 658.80,2293.63 659.20,2294.19 659.60,2295.15 660.00,2296.40 660.40,2297.86 660.80,2299.39 661.20,2300.91 661.60,2302.31 662.00,2303.55 662.40,2304.59 662.80,2305.43 663.20,2306.07 663.60,2306.55 664.00,2306.88 664.40,2307.12 664.80,2307.27 665.20,2307.36 665.60,2307.42 666.00,2307.46 666.40,2307.48 666.80,2307.49 667.20,2307.49 667.60,2307.50 668.00,2307.50 668.40,2307.50 668.80,2307.50 669.20,2307.50 669.60,2307.50 670.00,2307.50 670.40,2307.50 670.80,2307.50 671.20,2307.50 671.60,2307.50 672.00,2307.50 672.40,2307.50 672.80,2307.50 673.20,2307.50 673.60,2307.50 674.00,2307.50 674.40,2307.50 674.80,2307.50 675.20,2307.50 675.60,2307.50 676.00,2307.50 676.40,2307.50 676.80,2307.50 677.20,2307.50 677.60,2307.50 678.00,2307.50 678.40,2307.50 678.80,2307.50 679.20,2307.50 679.60,2307.50 680.00,2307.50 680.40,2307.50 680.80,2307.50 681.20,2307.50 681.60,2307.50 682.00,2307.50 682.40,2307.50 682.80,2307.50 683.20,2307.50 683.60,2307.50 684.00,2307.50 684.40,2307.50 684.80,2307.50 685.20,2307.50 685.60,2307.50 686.00,2307.50 686.40,2307.50 686.80,2307.50 687.20,2307.50 687.60,2307.50 688.00,2307.50 688.40,2307.50 688.80,2307.50 689.20,2307.50 689.60,2307.50 690.00,2307.50 690.40,2307.50 690.80,2307.50 691.20,2307.50 691.60,2307.50 692.00,2307.50 692.40,2307.50 692.80,2307.50 693.20,2307.50 693.60,2307.50 694.00,2307.50 694.40,2307.50 694.80,2307.50 695.20,2307.50 695.60,2307.50 696.00,2307.50 696.40,2307.50" fill="none" stroke="#f07b37" stroke-width="3.0" stroke-linejoin="round" stroke-linecap="round" stroke-linecap="butt"/>
<line x1="707.90" y1="2277.50" x2="810.20" y2="2277.50" stroke="#000" stroke-width="2.3" stroke-linecap="butt" stroke-dasharray="8.5 7.1"/>
<path d="M703.20,2243.50 Q706.20,2243.00 706.20,2247.00 L706.20,2310.50" fill="none" stroke="#000" stroke-width="3.4" />
<line x1="702.70" y1="2277.50" x2="706.20" y2="2277.50" stroke="#000" stroke-width="3.0" stroke-linecap="butt" />
<line x1="704.50" y1="2310.00" x2="821.70" y2="2310.00" stroke="#000" stroke-width="3.4" stroke-linecap="butt" />
<line x1="738.90" y1="2309.50" x2="738.90" y2="2314.00" stroke="#000" stroke-width="2.6" stroke-linecap="butt" />
<line x1="771.20" y1="2309.50" x2="771.20" y2="2314.00" stroke="#000" stroke-width="2.6" stroke-linecap="butt" />
<line x1="803.60" y1="2309.50" x2="803.60" y2="2314.00" stroke="#000" stroke-width="2.6" stroke-linecap="butt" />
<polyline points="707.80,2307.50 708.20,2307.50 708.60,2307.50 709.00,2307.50 709.40,2307.50 709.80,2307.50 710.20,2307.50 710.60,2307.50 711.00,2307.50 711.40,2307.50 711.80,2307.50 712.20,2307.50 712.60,2307.50 713.00,2307.50 713.40,2307.50 713.80,2307.50 714.20,2307.50 714.60,2307.50 715.00,2307.50 715.40,2307.50 715.80,2307.50 716.20,2307.50 716.60,2307.50 717.00,2307.50 717.40,2307.50 717.80,2307.50 718.20,2307.50 718.60,2307.50 719.00,2307.50 719.40,2307.50 719.80,2307.50 720.20,2307.50 720.60,2307.50 721.00,2307.50 721.40,2307.50 721.80,2307.50 722.20,2307.50 722.60,2307.50 723.00,2307.50 723.40,2307.50 723.80,2307.50 724.20,2307.50 724.60,2307.50 725.00,2307.50 725.40,2307.50 725.80,2307.50 726.20,2307.50 726.60,2307.50 727.00,2307.50 727.40,2307.50 727.80,2307.50 728.20,2307.50 728.60,2307.50 729.00,2307.50 729.40,2307.50 729.80,2307.50 730.20,2307.50 730.60,2307.50 731.00,2307.50 731.40,2307.50 731.80,2307.50 732.20,2307.50 732.60,2307.50 733.00,2307.50 733.40,2307.50 733.80,2307.50 734.20,2307.50 734.60,2307.50 735.00,2307.50 735.40,2307.50 735.80,2307.50 736.20,2307.50 736.60,2307.50 737.00,2307.50 737.40,2307.50 737.80,2307.50 738.20,2307.50 738.60,2307.50 739.00,2307.50 739.40,2307.50 739.80,2307.50 740.20,2307.50 740.60,2307.50 741.00,2307.50 741.40,2307.50 741.80,2307.50 742.20,2307.50 742.60,2307.50 743.00,2307.50 743.40,2307.50 743.80,2307.50 744.20,2307.50 744.60,2307.50 745.00,2307.50 745.40,2307.50 745.80,2307.50 746.20,2307.50 746.60,2307.50 747.00,2307.50 747.40,2307.50 747.80,2307.50 748.20,2307.50 748.60,2307.50 749.00,2307.50 749.40,2307.50 749.80,2307.50 750.20,2307.50 750.60,2307.50 751.00,2307.50 751.40,2307.50 751.80,2307.50 752.20,2307.50 752.60,2307.50 753.00,2307.50 753.40,2307.50 753.80,2307.50 754.20,2307.50 754.60,2307.50 755.00,2307.50 755.40,2307.50 755.80,2307.50 756.20,2307.50 756.60,2307.50 757.00,2307.50 757.40,2307.50 757.80,2307.50 758.20,2307.50 758.60,2307.50 759.00,2307.50 759.40,2307.50 759.80,2307.50 760.20,2307.50 760.60,2307.50 761.00,2307.50 761.40,2307.50 761.80,2307.50 762.20,2307.50 762.60,2307.50 763.00,2307.50 763.40,2307.50 763.80,2307.50 764.20,2307.50 764.60,2307.50 765.00,2307.50 765.40,2307.50 765.80,2307.50 766.20,2307.50 766.60,2307.50 767.00,2307.50 767.40,2307.50 767.80,2307.50 768.20,2307.50 768.60,2307.50 769.00,2307.50 769.40,2307.50 769.80,2307.50 770.20,2307.50 770.60,2307.50 771.00,2307.50 771.40,2307.50 771.80,2307.50 772.20,2307.50 772.60,2307.50 773.00,2307.50 773.40,2307.50 773.80,2307.50 774.20,2307.50 774.60,2307.50 775.00,2307.49 775.40,2307.48 775.80,2307.47 776.20,2307.44 776.60,2307.40 777.00,2307.32 777.40,2307.20 777.80,2307.01 778.20,2306.73 778.60,2306.33 779.00,2305.77 779.40,2305.03 779.80,2304.10 780.20,2302.95 780.60,2301.63 781.00,2300.16 781.40,2298.62 781.80,2297.11 782.20,2295.74 782.60,2294.62 783.00,2293.86 783.40,2293.51 783.80,2293.63 784.20,2294.19 784.60,2295.15 785.00,2296.40 785.40,2297.86 785.80,2299.39 786.20,2300.91 786.60,2302.31 787.00,2303.55 787.40,2304.59 787.80,2305.43 788.20,2306.07 788.60,2306.55 789.00,2306.88 789.40,2307.12 789.80,2307.27 790.20,2307.36 790.60,2307.42 791.00,2307.46 791.40,2307.48 791.80,2307.49 792.20,2307.49 792.60,2307.50 793.00,2307.50 793.40,2307.50 793.80,2307.50 794.20,2307.50 794.60,2307.50 795.00,2307.50 795.40,2307.50 795.80,2307.50 796.20,2307.50 796.60,2307.50 797.00,2307.50 797.40,2307.50 797.80,2307.50 798.20,2307.50 798.60,2307.50 799.00,2307.50 799.40,2307.50 799.80,2307.50 800.20,2307.50 800.60,2307.50 801.00,2307.50 801.40,2307.50 801.80,2307.50 802.20,2307.50 802.60,2307.50 803.00,2307.50 803.40,2307.50 803.80,2307.50 804.20,2307.50 804.60,2307.50 805.00,2307.50 805.40,2307.50 805.80,2307.50 806.20,2307.50 806.60,2307.50 807.00,2307.50 807.40,2307.50 807.80,2307.50 808.20,2307.50 808.60,2307.50 809.00,2307.50 809.40,2307.50 809.80,2307.50 810.20,2307.50 810.60,2307.50 811.00,2307.50 811.40,2307.50 811.80,2307.50 812.20,2307.50 812.60,2307.50 813.00,2307.50 813.40,2307.50 813.80,2307.50 814.20,2307.50 814.60,2307.50 815.00,2307.50 815.40,2307.50 815.80,2307.50 816.20,2307.50 816.60,2307.50 817.00,2307.50 817.40,2307.50 817.80,2307.50 818.20,2307.50 818.60,2307.50 819.00,2307.50 819.40,2307.50 819.80,2307.50 820.20,2307.50 820.60,2307.50 821.00,2307.50 821.40,2307.50" fill="none" stroke="#2e9444" stroke-width="3.0" stroke-linejoin="round" stroke-linecap="round" stroke-linecap="butt"/>
<line x1="836.50" y1="2277.50" x2="938.80" y2="2277.50" stroke="#000" stroke-width="2.3" stroke-linecap="butt" stroke-dasharray="8.5 7.1"/>
<path d="M831.80,2243.50 Q834.80,2243.00 834.80,2247.00 L834.80,2310.50" fill="none" stroke="#000" stroke-width="3.4" />
<line x1="831.30" y1="2277.50" x2="834.80" y2="2277.50" stroke="#000" stroke-width="3.0" stroke-linecap="butt" />
<line x1="833.10" y1="2310.00" x2="950.30" y2="2310.00" stroke="#000" stroke-width="3.4" stroke-linecap="butt" />
<line x1="867.50" y1="2309.50" x2="867.50" y2="2314.00" stroke="#000" stroke-width="2.6" stroke-linecap="butt" />
<line x1="899.80" y1="2309.50" x2="899.80" y2="2314.00" stroke="#000" stroke-width="2.6" stroke-linecap="butt" />
<line x1="932.20" y1="2309.50" x2="932.20" y2="2314.00" stroke="#000" stroke-width="2.6" stroke-linecap="butt" />
<polyline points="836.40,2307.50 836.80,2307.50 837.20,2307.50 837.60,2307.50 838.00,2307.50 838.40,2307.50 838.80,2307.50 839.20,2307.50 839.60,2307.50 840.00,2307.50 840.40,2307.50 840.80,2307.50 841.20,2307.50 841.60,2307.50 842.00,2307.50 842.40,2307.50 842.80,2307.50 843.20,2307.50 843.60,2307.50 844.00,2307.50 844.40,2307.50 844.80,2307.50 845.20,2307.50 845.60,2307.50 846.00,2307.50 846.40,2307.50 846.80,2307.50 847.20,2307.50 847.60,2307.50 848.00,2307.50 848.40,2307.50 848.80,2307.50 849.20,2307.50 849.60,2307.50 850.00,2307.50 850.40,2307.50 850.80,2307.50 851.20,2307.50 851.60,2307.50 852.00,2307.50 852.40,2307.50 852.80,2307.50 853.20,2307.50 853.60,2307.50 854.00,2307.50 854.40,2307.50 854.80,2307.50 855.20,2307.50 855.60,2307.50 856.00,2307.50 856.40,2307.50 856.80,2307.50 857.20,2307.50 857.60,2307.50 858.00,2307.50 858.40,2307.50 858.80,2307.50 859.20,2307.50 859.60,2307.50 860.00,2307.50 860.40,2307.50 860.80,2307.50 861.20,2307.50 861.60,2307.50 862.00,2307.50 862.40,2307.50 862.80,2307.50 863.20,2307.50 863.60,2307.50 864.00,2307.50 864.40,2307.50 864.80,2307.50 865.20,2307.50 865.60,2307.50 866.00,2307.50 866.40,2307.50 866.80,2307.50 867.20,2307.50 867.60,2307.50 868.00,2307.50 868.40,2307.50 868.80,2307.50 869.20,2307.50 869.60,2307.50 870.00,2307.50 870.40,2307.50 870.80,2307.50 871.20,2307.50 871.60,2307.50 872.00,2307.50 872.40,2307.50 872.80,2307.50 873.20,2307.50 873.60,2307.50 874.00,2307.50 874.40,2307.50 874.80,2307.50 875.20,2307.50 875.60,2307.50 876.00,2307.50 876.40,2307.50 876.80,2307.50 877.20,2307.50 877.60,2307.50 878.00,2307.50 878.40,2307.50 878.80,2307.50 879.20,2307.50 879.60,2307.50 880.00,2307.50 880.40,2307.50 880.80,2307.50 881.20,2307.50 881.60,2307.50 882.00,2307.50 882.40,2307.50 882.80,2307.50 883.20,2307.50 883.60,2307.50 884.00,2307.50 884.40,2307.50 884.80,2307.50 885.20,2307.50 885.60,2307.50 886.00,2307.50 886.40,2307.50 886.80,2307.50 887.20,2307.50 887.60,2307.50 888.00,2307.50 888.40,2307.50 888.80,2307.50 889.20,2307.50 889.60,2307.50 890.00,2307.50 890.40,2307.50 890.80,2307.50 891.20,2307.50 891.60,2307.50 892.00,2307.50 892.40,2307.50 892.80,2307.50 893.20,2307.50 893.60,2307.50 894.00,2307.50 894.40,2307.50 894.80,2307.50 895.20,2307.50 895.60,2307.50 896.00,2307.50 896.40,2307.50 896.80,2307.50 897.20,2307.50 897.60,2307.50 898.00,2307.50 898.40,2307.50 898.80,2307.50 899.20,2307.50 899.60,2307.50 900.00,2307.50 900.40,2307.50 900.80,2307.50 901.20,2307.50 901.60,2307.50 902.00,2307.50 902.40,2307.50 902.80,2307.50 903.20,2307.50 903.60,2307.49 904.00,2307.49 904.40,2307.47 904.80,2307.45 905.20,2307.40 905.60,2307.33 906.00,2307.22 906.40,2307.05 906.80,2306.79 907.20,2306.41 907.60,2305.90 908.00,2305.21 908.40,2304.34 908.80,2303.28 909.20,2302.05 909.60,2300.68 910.00,2299.26 910.40,2297.86 910.80,2296.58 911.20,2295.54 911.60,2294.83 912.00,2294.51 912.40,2294.62 912.80,2295.14 913.20,2296.03 913.60,2297.20 914.00,2298.55 914.40,2299.97 914.80,2301.38 915.20,2302.68 915.60,2303.83 916.00,2304.80 916.40,2305.58 916.80,2306.17 917.20,2306.61 917.60,2306.93 918.00,2307.14 918.40,2307.28 918.80,2307.37 919.20,2307.43 919.60,2307.46 920.00,2307.48 920.40,2307.49 920.80,2307.49 921.20,2307.50 921.60,2307.50 922.00,2307.50 922.40,2307.50 922.80,2307.50 923.20,2307.50 923.60,2307.50 924.00,2307.50 924.40,2307.50 924.80,2307.50 925.20,2307.50 925.60,2307.50 926.00,2307.50 926.40,2307.50 926.80,2307.50 927.20,2307.50 927.60,2307.50 928.00,2307.50 928.40,2307.50 928.80,2307.50 929.20,2307.50 929.60,2307.50 930.00,2307.50 930.40,2307.50 930.80,2307.50 931.20,2307.50 931.60,2307.50 932.00,2307.50 932.40,2307.50 932.80,2307.50 933.20,2307.50 933.60,2307.50 934.00,2307.50 934.40,2307.50 934.80,2307.50 935.20,2307.50 935.60,2307.50 936.00,2307.50 936.40,2307.50 936.80,2307.50 937.20,2307.50 937.60,2307.50 938.00,2307.50 938.40,2307.50 938.80,2307.50 939.20,2307.50 939.60,2307.50 940.00,2307.50 940.40,2307.50 940.80,2307.50 941.20,2307.50 941.60,2307.50 942.00,2307.50 942.40,2307.50 942.80,2307.50 943.20,2307.50 943.60,2307.50 944.00,2307.50 944.40,2307.50 944.80,2307.50 945.20,2307.50 945.60,2307.50 946.00,2307.50 946.40,2307.50 946.80,2307.50 947.20,2307.50 947.60,2307.50 948.00,2307.50 948.40,2307.50 948.80,2307.50 949.20,2307.50 949.60,2307.50 950.00,2307.50" fill="none" stroke="#b41218" stroke-width="3.0" stroke-linejoin="round" stroke-linecap="round" stroke-linecap="butt"/>
<line x1="327.40" y1="2364.50" x2="429.70" y2="2364.50" stroke="#000" stroke-width="2.3" stroke-linecap="butt" stroke-dasharray="8.5 7.1"/>
<path d="M322.70,2330.50 Q325.70,2330.00 325.70,2334.00 L325.70,2397.50" fill="none" stroke="#000" stroke-width="3.4" />
<line x1="322.20" y1="2364.50" x2="325.70" y2="2364.50" stroke="#000" stroke-width="3.0" stroke-linecap="butt" />
<line x1="324.00" y1="2397.00" x2="441.20" y2="2397.00" stroke="#000" stroke-width="3.4" stroke-linecap="butt" />
<line x1="358.40" y1="2396.50" x2="358.40" y2="2401.00" stroke="#000" stroke-width="2.6" stroke-linecap="butt" />
<line x1="390.70" y1="2396.50" x2="390.70" y2="2401.00" stroke="#000" stroke-width="2.6" stroke-linecap="butt" />
<line x1="423.10" y1="2396.50" x2="423.10" y2="2401.00" stroke="#000" stroke-width="2.6" stroke-linecap="butt" />
<polyline points="327.30,2394.50 327.70,2394.50 328.10,2394.50 328.50,2394.50 328.90,2394.50 329.30,2394.50 329.70,2394.50 330.10,2394.50 330.50,2394.50 330.90,2394.50 331.30,2394.50 331.70,2394.50 332.10,2394.50 332.50,2394.50 332.90,2394.50 333.30,2394.50 333.70,2394.50 334.10,2394.50 334.50,2394.50 334.90,2394.50 335.30,2394.50 335.70,2394.50 336.10,2394.50 336.50,2394.50 336.90,2394.50 337.30,2394.50 337.70,2394.50 338.10,2394.50 338.50,2394.50 338.90,2394.50 339.30,2394.50 339.70,2394.50 340.10,2394.50 340.50,2394.50 340.90,2394.50 341.30,2394.50 341.70,2394.50 342.10,2394.50 342.50,2394.50 342.90,2394.50 343.30,2394.50 343.70,2394.50 344.10,2394.50 344.50,2394.50 344.90,2394.50 345.30,2394.50 345.70,2394.50 346.10,2394.50 346.50,2394.50 346.90,2394.50 347.30,2394.50 347.70,2394.50 348.10,2394.50 348.50,2394.50 348.90,2394.50 349.30,2394.50 349.70,2394.50 350.10,2394.50 350.50,2394.50 350.90,2394.50 351.30,2394.50 351.70,2394.50 352.10,2394.50 352.50,2394.50 352.90,2394.50 353.30,2394.50 353.70,2394.50 354.10,2394.50 354.50,2394.50 354.90,2394.50 355.30,2394.50 355.70,2394.50 356.10,2394.50 356.50,2394.50 356.90,2394.50 357.30,2394.50 357.70,2394.50 358.10,2394.50 358.50,2394.50 358.90,2394.50 359.30,2394.50 359.70,2394.50 360.10,2394.50 360.50,2394.50 360.90,2394.50 361.30,2394.50 361.70,2394.50 362.10,2394.50 362.50,2394.50 362.90,2394.50 363.30,2394.50 363.70,2394.50 364.10,2394.50 364.50,2394.50 364.90,2394.50 365.30,2394.50 365.70,2394.50 366.10,2394.50 366.50,2394.50 366.90,2394.50 367.30,2394.50 367.70,2394.50 368.10,2394.50 368.50,2394.50 368.90,2394.50 369.30,2394.50 369.70,2394.50 370.10,2394.50 370.50,2394.50 370.90,2394.50 371.30,2394.50 371.70,2394.50 372.10,2394.50 372.50,2394.50 372.90,2394.50 373.30,2394.50 373.70,2394.50 374.10,2394.50 374.50,2394.50 374.90,2394.50 375.30,2394.50 375.70,2394.50 376.10,2394.50 376.50,2394.50 376.90,2394.50 377.30,2394.50 377.70,2394.50 378.10,2394.50 378.50,2394.50 378.90,2394.50 379.30,2394.50 379.70,2394.50 380.10,2394.50 380.50,2394.50 380.90,2394.50 381.30,2394.50 381.70,2394.50 382.10,2394.50 382.50,2394.50 382.90,2394.50 383.30,2394.50 383.70,2394.50 384.10,2394.50 384.50,2394.50 384.90,2394.50 385.30,2394.50 385.70,2394.50 386.10,2394.50 386.50,2394.50 386.90,2394.50 387.30,2394.50 387.70,2394.50 388.10,2394.50 388.50,2394.50 388.90,2394.50 389.30,2394.50 389.70,2394.50 390.10,2394.50 390.50,2394.50 390.90,2394.50 391.30,2394.50 391.70,2394.50 392.10,2394.50 392.50,2394.50 392.90,2394.50 393.30,2394.50 393.70,2394.50 394.10,2394.50 394.50,2394.49 394.90,2394.49 395.30,2394.48 395.70,2394.46 396.10,2394.42 396.50,2394.36 396.90,2394.26 397.30,2394.12 397.70,2393.90 398.10,2393.58 398.50,2393.14 398.90,2392.56 399.30,2391.83 399.70,2390.93 400.10,2389.89 400.50,2388.73 400.90,2387.53 401.30,2386.34 401.70,2385.26 402.10,2384.38 402.50,2383.78 402.90,2383.51 403.30,2383.60 403.70,2384.04 404.10,2384.79 404.50,2385.78 404.90,2386.92 405.30,2388.13 405.70,2389.32 406.10,2390.42 406.50,2391.40 406.90,2392.21 407.30,2392.87 407.70,2393.38 408.10,2393.75 408.50,2394.02 408.90,2394.20 409.30,2394.32 409.70,2394.39 410.10,2394.44 410.50,2394.47 410.90,2394.48 411.30,2394.49 411.70,2394.50 412.10,2394.50 412.50,2394.50 412.90,2394.50 413.30,2394.50 413.70,2394.50 414.10,2394.50 414.50,2394.50 414.90,2394.50 415.30,2394.50 415.70,2394.50 416.10,2394.50 416.50,2394.50 416.90,2394.50 417.30,2394.50 417.70,2394.50 418.10,2394.50 418.50,2394.50 418.90,2394.50 419.30,2394.50 419.70,2394.50 420.10,2394.50 420.50,2394.50 420.90,2394.50 421.30,2394.50 421.70,2394.50 422.10,2394.50 422.50,2394.50 422.90,2394.50 423.30,2394.50 423.70,2394.50 424.10,2394.50 424.50,2394.50 424.90,2394.50 425.30,2394.50 425.70,2394.50 426.10,2394.50 426.50,2394.50 426.90,2394.50 427.30,2394.50 427.70,2394.50 428.10,2394.50 428.50,2394.50 428.90,2394.50 429.30,2394.50 429.70,2394.50 430.10,2394.50 430.50,2394.50 430.90,2394.50 431.30,2394.50 431.70,2394.50 432.10,2394.50 432.50,2394.50 432.90,2394.50 433.30,2394.50 433.70,2394.50 434.10,2394.50 434.50,2394.50 434.90,2394.50 435.30,2394.50 435.70,2394.50 436.10,2394.50 436.50,2394.50 436.90,2394.50 437.30,2394.50 437.70,2394.50 438.10,2394.50 438.50,2394.50 438.90,2394.50 439.30,2394.50 439.70,2394.50 440.10,2394.50 440.50,2394.50 440.90,2394.50" fill="none" stroke="#1e5b9c" stroke-width="3.0" stroke-linejoin="round" stroke-linecap="round" stroke-linecap="butt"/>
<line x1="453.10" y1="2364.50" x2="555.40" y2="2364.50" stroke="#000" stroke-width="2.3" stroke-linecap="butt" stroke-dasharray="8.5 7.1"/>
<path d="M448.40,2330.50 Q451.40,2330.00 451.40,2334.00 L451.40,2397.50" fill="none" stroke="#000" stroke-width="3.4" />
<line x1="447.90" y1="2364.50" x2="451.40" y2="2364.50" stroke="#000" stroke-width="3.0" stroke-linecap="butt" />
<line x1="449.70" y1="2397.00" x2="566.90" y2="2397.00" stroke="#000" stroke-width="3.4" stroke-linecap="butt" />
<line x1="484.10" y1="2396.50" x2="484.10" y2="2401.00" stroke="#000" stroke-width="2.6" stroke-linecap="butt" />
<line x1="516.40" y1="2396.50" x2="516.40" y2="2401.00" stroke="#000" stroke-width="2.6" stroke-linecap="butt" />
<line x1="548.80" y1="2396.50" x2="548.80" y2="2401.00" stroke="#000" stroke-width="2.6" stroke-linecap="butt" />
<polyline points="453.00,2394.50 453.40,2394.50 453.80,2394.50 454.20,2394.50 454.60,2394.50 455.00,2394.50 455.40,2394.50 455.80,2394.50 456.20,2394.50 456.60,2394.50 457.00,2394.50 457.40,2394.50 457.80,2394.50 458.20,2394.50 458.60,2394.50 459.00,2394.50 459.40,2394.50 459.80,2394.50 460.20,2394.50 460.60,2394.50 461.00,2394.50 461.40,2394.50 461.80,2394.50 462.20,2394.50 462.60,2394.50 463.00,2394.50 463.40,2394.50 463.80,2394.50 464.20,2394.50 464.60,2394.50 465.00,2394.50 465.40,2394.50 465.80,2394.50 466.20,2394.50 466.60,2394.50 467.00,2394.50 467.40,2394.50 467.80,2394.50 468.20,2394.50 468.60,2394.50 469.00,2394.50 469.40,2394.50 469.80,2394.50 470.20,2394.50 470.60,2394.50 471.00,2394.50 471.40,2394.50 471.80,2394.50 472.20,2394.50 472.60,2394.50 473.00,2394.50 473.40,2394.50 473.80,2394.50 474.20,2394.50 474.60,2394.50 475.00,2394.50 475.40,2394.50 475.80,2394.50 476.20,2394.50 476.60,2394.50 477.00,2394.50 477.40,2394.50 477.80,2394.50 478.20,2394.50 478.60,2394.50 479.00,2394.50 479.40,2394.50 479.80,2394.50 480.20,2394.50 480.60,2394.50 481.00,2394.50 481.40,2394.50 481.80,2394.50 482.20,2394.50 482.60,2394.50 483.00,2394.50 483.40,2394.50 483.80,2394.50 484.20,2394.50 484.60,2394.50 485.00,2394.50 485.40,2394.50 485.80,2394.50 486.20,2394.50 486.60,2394.50 487.00,2394.50 487.40,2394.50 487.80,2394.50 488.20,2394.50 488.60,2394.50 489.00,2394.50 489.40,2394.50 489.80,2394.50 490.20,2394.50 490.60,2394.50 491.00,2394.50 491.40,2394.50 491.80,2394.50 492.20,2394.50 492.60,2394.50 493.00,2394.50 493.40,2394.50 493.80,2394.50 494.20,2394.50 494.60,2394.50 495.00,2394.50 495.40,2394.50 495.80,2394.50 496.20,2394.50 496.60,2394.50 497.00,2394.50 497.40,2394.50 497.80,2394.50 498.20,2394.50 498.60,2394.50 499.00,2394.50 499.40,2394.50 499.80,2394.50 500.20,2394.50 500.60,2394.50 501.00,2394.50 501.40,2394.50 501.80,2394.50 502.20,2394.50 502.60,2394.50 503.00,2394.50 503.40,2394.50 503.80,2394.50 504.20,2394.50 504.60,2394.50 505.00,2394.50 505.40,2394.50 505.80,2394.50 506.20,2394.50 506.60,2394.50 507.00,2394.50 507.40,2394.50 507.80,2394.50 508.20,2394.50 508.60,2394.50 509.00,2394.50 509.40,2394.50 509.80,2394.50 510.20,2394.50 510.60,2394.50 511.00,2394.50 511.40,2394.50 511.80,2394.50 512.20,2394.50 512.60,2394.50 513.00,2394.50 513.40,2394.50 513.80,2394.50 514.20,2394.50 514.60,2394.50 515.00,2394.50 515.40,2394.50 515.80,2394.50 516.20,2394.50 516.60,2394.50 517.00,2394.50 517.40,2394.50 517.80,2394.50 518.20,2394.50 518.60,2394.50 519.00,2394.50 519.40,2394.50 519.80,2394.50 520.20,2394.49 520.60,2394.49 521.00,2394.47 521.40,2394.45 521.80,2394.40 522.20,2394.33 522.60,2394.22 523.00,2394.05 523.40,2393.79 523.80,2393.41 524.20,2392.90 524.60,2392.21 525.00,2391.34 525.40,2390.28 525.80,2389.05 526.20,2387.68 526.60,2386.26 527.00,2384.86 527.40,2383.58 527.80,2382.54 528.20,2381.83 528.60,2381.51 529.00,2381.62 529.40,2382.14 529.80,2383.03 530.20,2384.20 530.60,2385.55 531.00,2386.97 531.40,2388.38 531.80,2389.68 532.20,2390.83 532.60,2391.80 533.00,2392.58 533.40,2393.17 533.80,2393.61 534.20,2393.93 534.60,2394.14 535.00,2394.28 535.40,2394.37 535.80,2394.43 536.20,2394.46 536.60,2394.48 537.00,2394.49 537.40,2394.49 537.80,2394.50 538.20,2394.50 538.60,2394.50 539.00,2394.50 539.40,2394.50 539.80,2394.50 540.20,2394.50 540.60,2394.50 541.00,2394.50 541.40,2394.50 541.80,2394.50 542.20,2394.50 542.60,2394.50 543.00,2394.50 543.40,2394.50 543.80,2394.50 544.20,2394.50 544.60,2394.50 545.00,2394.50 545.40,2394.50 545.80,2394.50 546.20,2394.50 546.60,2394.50 547.00,2394.50 547.40,2394.50 547.80,2394.50 548.20,2394.50 548.60,2394.50 549.00,2394.50 549.40,2394.50 549.80,2394.50 550.20,2394.50 550.60,2394.50 551.00,2394.50 551.40,2394.50 551.80,2394.50 552.20,2394.50 552.60,2394.50 553.00,2394.50 553.40,2394.50 553.80,2394.50 554.20,2394.50 554.60,2394.50 555.00,2394.50 555.40,2394.50 555.80,2394.50 556.20,2394.50 556.60,2394.50 557.00,2394.50 557.40,2394.50 557.80,2394.50 558.20,2394.50 558.60,2394.50 559.00,2394.50 559.40,2394.50 559.80,2394.50 560.20,2394.50 560.60,2394.50 561.00,2394.50 561.40,2394.50 561.80,2394.50 562.20,2394.50 562.60,2394.50 563.00,2394.50 563.40,2394.50 563.80,2394.50 564.20,2394.50 564.60,2394.50 565.00,2394.50 565.40,2394.50 565.80,2394.50 566.20,2394.50 566.60,2394.50" fill="none" stroke="#c9d41e" stroke-width="3.0" stroke-linejoin="round" stroke-linecap="round" stroke-linecap="butt"/>
<line x1="582.90" y1="2364.50" x2="685.20" y2="2364.50" stroke="#000" stroke-width="2.3" stroke-linecap="butt" stroke-dasharray="8.5 7.1"/>
<path d="M578.20,2330.50 Q581.20,2330.00 581.20,2334.00 L581.20,2397.50" fill="none" stroke="#000" stroke-width="3.4" />
<line x1="577.70" y1="2364.50" x2="581.20" y2="2364.50" stroke="#000" stroke-width="3.0" stroke-linecap="butt" />
<line x1="579.50" y1="2397.00" x2="696.70" y2="2397.00" stroke="#000" stroke-width="3.4" stroke-linecap="butt" />
<line x1="613.90" y1="2396.50" x2="613.90" y2="2401.00" stroke="#000" stroke-width="2.6" stroke-linecap="butt" />
<line x1="646.20" y1="2396.50" x2="646.20" y2="2401.00" stroke="#000" stroke-width="2.6" stroke-linecap="butt" />
<line x1="678.60" y1="2396.50" x2="678.60" y2="2401.00" stroke="#000" stroke-width="2.6" stroke-linecap="butt" />
<polyline points="582.80,2394.50 583.20,2394.50 583.60,2394.50 584.00,2394.50 584.40,2394.50 584.80,2394.50 585.20,2394.50 585.60,2394.50 586.00,2394.50 586.40,2394.50 586.80,2394.50 587.20,2394.50 587.60,2394.50 588.00,2394.50 588.40,2394.50 588.80,2394.50 589.20,2394.50 589.60,2394.50 590.00,2394.50 590.40,2394.50 590.80,2394.50 591.20,2394.50 591.60,2394.50 592.00,2394.50 592.40,2394.50 592.80,2394.50 593.20,2394.50 593.60,2394.50 594.00,2394.50 594.40,2394.50 594.80,2394.50 595.20,2394.50 595.60,2394.50 596.00,2394.50 596.40,2394.50 596.80,2394.50 597.20,2394.50 597.60,2394.50 598.00,2394.50 598.40,2394.50 598.80,2394.50 599.20,2394.50 599.60,2394.50 600.00,2394.50 600.40,2394.50 600.80,2394.50 601.20,2394.50 601.60,2394.50 602.00,2394.50 602.40,2394.50 602.80,2394.50 603.20,2394.50 603.60,2394.50 604.00,2394.50 604.40,2394.50 604.80,2394.50 605.20,2394.50 605.60,2394.50 606.00,2394.50 606.40,2394.50 606.80,2394.50 607.20,2394.50 607.60,2394.50 608.00,2394.50 608.40,2394.50 608.80,2394.50 609.20,2394.50 609.60,2394.50 610.00,2394.50 610.40,2394.50 610.80,2394.50 611.20,2394.50 611.60,2394.50 612.00,2394.50 612.40,2394.50 612.80,2394.50 613.20,2394.50 613.60,2394.50 614.00,2394.50 614.40,2394.50 614.80,2394.50 615.20,2394.50 615.60,2394.50 616.00,2394.50 616.40,2394.50 616.80,2394.50 617.20,2394.50 617.60,2394.50 618.00,2394.50 618.40,2394.50 618.80,2394.50 619.20,2394.50 619.60,2394.50 620.00,2394.50 620.40,2394.50 620.80,2394.50 621.20,2394.50 621.60,2394.50 622.00,2394.50 622.40,2394.50 622.80,2394.50 623.20,2394.50 623.60,2394.50 624.00,2394.50 624.40,2394.50 624.80,2394.50 625.20,2394.50 625.60,2394.50 626.00,2394.50 626.40,2394.50 626.80,2394.50 627.20,2394.50 627.60,2394.50 628.00,2394.50 628.40,2394.50 628.80,2394.50 629.20,2394.50 629.60,2394.50 630.00,2394.50 630.40,2394.50 630.80,2394.50 631.20,2394.50 631.60,2394.50 632.00,2394.50 632.40,2394.50 632.80,2394.50 633.20,2394.50 633.60,2394.50 634.00,2394.50 634.40,2394.50 634.80,2394.50 635.20,2394.50 635.60,2394.50 636.00,2394.50 636.40,2394.50 636.80,2394.50 637.20,2394.50 637.60,2394.50 638.00,2394.50 638.40,2394.50 638.80,2394.50 639.20,2394.50 639.60,2394.50 640.00,2394.50 640.40,2394.50 640.80,2394.50 641.20,2394.50 641.60,2394.50 642.00,2394.50 642.40,2394.50 642.80,2394.50 643.20,2394.50 643.60,2394.50 644.00,2394.50 644.40,2394.50 644.80,2394.50 645.20,2394.50 645.60,2394.50 646.00,2394.50 646.40,2394.50 646.80,2394.50 647.20,2394.50 647.60,2394.50 648.00,2394.50 648.40,2394.50 648.80,2394.50 649.20,2394.50 649.60,2394.50 650.00,2394.49 650.40,2394.49 650.80,2394.47 651.20,2394.45 651.60,2394.41 652.00,2394.35 652.40,2394.24 652.80,2394.08 653.20,2393.84 653.60,2393.50 654.00,2393.02 654.40,2392.39 654.80,2391.58 655.20,2390.60 655.60,2389.47 656.00,2388.21 656.40,2386.89 656.80,2385.60 657.20,2384.42 657.60,2383.46 658.00,2382.81 658.40,2382.51 658.80,2382.61 659.20,2383.09 659.60,2383.91 660.00,2384.99 660.40,2386.24 660.80,2387.55 661.20,2388.85 661.60,2390.05 662.00,2391.11 662.40,2392.01 662.80,2392.72 663.20,2393.28 663.60,2393.68 664.00,2393.97 664.40,2394.17 664.80,2394.30 665.20,2394.38 665.60,2394.43 666.00,2394.46 666.40,2394.48 666.80,2394.49 667.20,2394.50 667.60,2394.50 668.00,2394.50 668.40,2394.50 668.80,2394.50 669.20,2394.50 669.60,2394.50 670.00,2394.50 670.40,2394.50 670.80,2394.50 671.20,2394.50 671.60,2394.50 672.00,2394.50 672.40,2394.50 672.80,2394.50 673.20,2394.50 673.60,2394.50 674.00,2394.50 674.40,2394.50 674.80,2394.50 675.20,2394.50 675.60,2394.50 676.00,2394.50 676.40,2394.50 676.80,2394.50 677.20,2394.50 677.60,2394.50 678.00,2394.50 678.40,2394.50 678.80,2394.50 679.20,2394.50 679.60,2394.50 680.00,2394.50 680.40,2394.50 680.80,2394.50 681.20,2394.50 681.60,2394.50 682.00,2394.50 682.40,2394.50 682.80,2394.50 683.20,2394.50 683.60,2394.50 684.00,2394.50 684.40,2394.50 684.80,2394.50 685.20,2394.50 685.60,2394.50 686.00,2394.50 686.40,2394.50 686.80,2394.50 687.20,2394.50 687.60,2394.50 688.00,2394.50 688.40,2394.50 688.80,2394.50 689.20,2394.50 689.60,2394.50 690.00,2394.50 690.40,2394.50 690.80,2394.50 691.20,2394.50 691.60,2394.50 692.00,2394.50 692.40,2394.50 692.80,2394.50 693.20,2394.50 693.60,2394.50 694.00,2394.50 694.40,2394.50 694.80,2394.50 695.20,2394.50 695.60,2394.50 696.00,2394.50 696.40,2394.50" fill="none" stroke="#f07b37" stroke-width="3.0" stroke-linejoin="round" stroke-linecap="round" stroke-linecap="butt"/>
<line x1="707.90" y1="2364.50" x2="810.20" y2="2364.50" stroke="#000" stroke-width="2.3" stroke-linecap="butt" stroke-dasharray="8.5 7.1"/>
<path d="M703.20,2330.50 Q706.20,2330.00 706.20,2334.00 L706.20,2397.50" fill="none" stroke="#000" stroke-width="3.4" />
<line x1="702.70" y1="2364.50" x2="706.20" y2="2364.50" stroke="#000" stroke-width="3.0" stroke-linecap="butt" />
<line x1="704.50" y1="2397.00" x2="821.70" y2="2397.00" stroke="#000" stroke-width="3.4" stroke-linecap="butt" />
<line x1="738.90" y1="2396.50" x2="738.90" y2="2401.00" stroke="#000" stroke-width="2.6" stroke-linecap="butt" />
<line x1="771.20" y1="2396.50" x2="771.20" y2="2401.00" stroke="#000" stroke-width="2.6" stroke-linecap="butt" />
<line x1="803.60" y1="2396.50" x2="803.60" y2="2401.00" stroke="#000" stroke-width="2.6" stroke-linecap="butt" />
<polyline points="707.80,2394.50 708.20,2394.50 708.60,2394.50 709.00,2394.50 709.40,2394.50 709.80,2394.50 710.20,2394.50 710.60,2394.50 711.00,2394.50 711.40,2394.50 711.80,2394.50 712.20,2394.50 712.60,2394.50 713.00,2394.50 713.40,2394.50 713.80,2394.50 714.20,2394.50 714.60,2394.50 715.00,2394.50 715.40,2394.50 715.80,2394.50 716.20,2394.50 716.60,2394.50 717.00,2394.50 717.40,2394.50 717.80,2394.50 718.20,2394.50 718.60,2394.50 719.00,2394.50 719.40,2394.50 719.80,2394.50 720.20,2394.50 720.60,2394.50 721.00,2394.50 721.40,2394.50 721.80,2394.50 722.20,2394.50 722.60,2394.50 723.00,2394.50 723.40,2394.50 723.80,2394.50 724.20,2394.50 724.60,2394.50 725.00,2394.50 725.40,2394.50 725.80,2394.50 726.20,2394.50 726.60,2394.50 727.00,2394.50 727.40,2394.50 727.80,2394.50 728.20,2394.50 728.60,2394.50 729.00,2394.50 729.40,2394.50 729.80,2394.50 730.20,2394.50 730.60,2394.50 731.00,2394.50 731.40,2394.50 731.80,2394.50 732.20,2394.50 732.60,2394.50 733.00,2394.50 733.40,2394.50 733.80,2394.50 734.20,2394.50 734.60,2394.50 735.00,2394.50 735.40,2394.50 735.80,2394.50 736.20,2394.50 736.60,2394.50 737.00,2394.50 737.40,2394.50 737.80,2394.50 738.20,2394.50 738.60,2394.50 739.00,2394.50 739.40,2394.50 739.80,2394.50 740.20,2394.50 740.60,2394.50 741.00,2394.50 741.40,2394.50 741.80,2394.50 742.20,2394.50 742.60,2394.50 743.00,2394.50 743.40,2394.50 743.80,2394.50 744.20,2394.50 744.60,2394.50 745.00,2394.50 745.40,2394.50 745.80,2394.50 746.20,2394.50 746.60,2394.50 747.00,2394.50 747.40,2394.50 747.80,2394.50 748.20,2394.50 748.60,2394.50 749.00,2394.50 749.40,2394.50 749.80,2394.50 750.20,2394.50 750.60,2394.50 751.00,2394.50 751.40,2394.50 751.80,2394.50 752.20,2394.50 752.60,2394.50 753.00,2394.50 753.40,2394.50 753.80,2394.50 754.20,2394.50 754.60,2394.50 755.00,2394.50 755.40,2394.50 755.80,2394.50 756.20,2394.50 756.60,2394.50 757.00,2394.50 757.40,2394.50 757.80,2394.50 758.20,2394.50 758.60,2394.50 759.00,2394.50 759.40,2394.50 759.80,2394.50 760.20,2394.50 760.60,2394.50 761.00,2394.50 761.40,2394.50 761.80,2394.50 762.20,2394.50 762.60,2394.50 763.00,2394.50 763.40,2394.50 763.80,2394.50 764.20,2394.50 764.60,2394.50 765.00,2394.50 765.40,2394.50 765.80,2394.50 766.20,2394.50 766.60,2394.50 767.00,2394.50 767.40,2394.50 767.80,2394.50 768.20,2394.50 768.60,2394.50 769.00,2394.50 769.40,2394.50 769.80,2394.50 770.20,2394.50 770.60,2394.50 771.00,2394.50 771.40,2394.50 771.80,2394.50 772.20,2394.50 772.60,2394.50 773.00,2394.50 773.40,2394.50 773.80,2394.50 774.20,2394.50 774.60,2394.50 775.00,2394.49 775.40,2394.49 775.80,2394.47 776.20,2394.45 776.60,2394.40 777.00,2394.33 777.40,2394.22 777.80,2394.05 778.20,2393.79 778.60,2393.41 779.00,2392.90 779.40,2392.21 779.80,2391.34 780.20,2390.28 780.60,2389.05 781.00,2387.68 781.40,2386.26 781.80,2384.86 782.20,2383.58 782.60,2382.54 783.00,2381.83 783.40,2381.51 783.80,2381.62 784.20,2382.14 784.60,2383.03 785.00,2384.20 785.40,2385.55 785.80,2386.97 786.20,2388.38 786.60,2389.68 787.00,2390.83 787.40,2391.80 787.80,2392.58 788.20,2393.17 788.60,2393.61 789.00,2393.93 789.40,2394.14 789.80,2394.28 790.20,2394.37 790.60,2394.43 791.00,2394.46 791.40,2394.48 791.80,2394.49 792.20,2394.49 792.60,2394.50 793.00,2394.50 793.40,2394.50 793.80,2394.50 794.20,2394.50 794.60,2394.50 795.00,2394.50 795.40,2394.50 795.80,2394.50 796.20,2394.50 796.60,2394.50 797.00,2394.50 797.40,2394.50 797.80,2394.50 798.20,2394.50 798.60,2394.50 799.00,2394.50 799.40,2394.50 799.80,2394.50 800.20,2394.50 800.60,2394.50 801.00,2394.50 801.40,2394.50 801.80,2394.50 802.20,2394.50 802.60,2394.50 803.00,2394.50 803.40,2394.50 803.80,2394.50 804.20,2394.50 804.60,2394.50 805.00,2394.50 805.40,2394.50 805.80,2394.50 806.20,2394.50 806.60,2394.50 807.00,2394.50 807.40,2394.50 807.80,2394.50 808.20,2394.50 808.60,2394.50 809.00,2394.50 809.40,2394.50 809.80,2394.50 810.20,2394.50 810.60,2394.50 811.00,2394.50 811.40,2394.50 811.80,2394.50 812.20,2394.50 812.60,2394.50 813.00,2394.50 813.40,2394.50 813.80,2394.50 814.20,2394.50 814.60,2394.50 815.00,2394.50 815.40,2394.50 815.80,2394.50 816.20,2394.50 816.60,2394.50 817.00,2394.50 817.40,2394.50 817.80,2394.50 818.20,2394.50 818.60,2394.50 819.00,2394.50 819.40,2394.50 819.80,2394.50 820.20,2394.50 820.60,2394.50 821.00,2394.50 821.40,2394.50" fill="none" stroke="#2e9444" stroke-width="3.0" stroke-linejoin="round" stroke-linecap="round" stroke-linecap="butt"/>
<line x1="836.50" y1="2364.50" x2="938.80" y2="2364.50" stroke="#000" stroke-width="2.3" stroke-linecap="butt" stroke-dasharray="8.5 7.1"/>
<path d="M831.80,2330.50 Q834.80,2330.00 834.80,2334.00 L834.80,2397.50" fill="none" stroke="#000" stroke-width="3.4" />
<line x1="831.30" y1="2364.50" x2="834.80" y2="2364.50" stroke="#000" stroke-width="3.0" stroke-linecap="butt" />
<line x1="833.10" y1="2397.00" x2="950.30" y2="2397.00" stroke="#000" stroke-width="3.4" stroke-linecap="butt" />
<line x1="867.50" y1="2396.50" x2="867.50" y2="2401.00" stroke="#000" stroke-width="2.6" stroke-linecap="butt" />
<line x1="899.80" y1="2396.50" x2="899.80" y2="2401.00" stroke="#000" stroke-width="2.6" stroke-linecap="butt" />
<line x1="932.20" y1="2396.50" x2="932.20" y2="2401.00" stroke="#000" stroke-width="2.6" stroke-linecap="butt" />
<polyline points="836.40,2394.50 836.80,2394.50 837.20,2394.50 837.60,2394.50 838.00,2394.50 838.40,2394.50 838.80,2394.50 839.20,2394.50 839.60,2394.50 840.00,2394.50 840.40,2394.50 840.80,2394.50 841.20,2394.50 841.60,2394.50 842.00,2394.50 842.40,2394.50 842.80,2394.50 843.20,2394.50 843.60,2394.50 844.00,2394.50 844.40,2394.50 844.80,2394.50 845.20,2394.50 845.60,2394.50 846.00,2394.50 846.40,2394.50 846.80,2394.50 847.20,2394.50 847.60,2394.50 848.00,2394.50 848.40,2394.50 848.80,2394.50 849.20,2394.50 849.60,2394.50 850.00,2394.50 850.40,2394.50 850.80,2394.50 851.20,2394.50 851.60,2394.50 852.00,2394.50 852.40,2394.50 852.80,2394.50 853.20,2394.50 853.60,2394.50 854.00,2394.50 854.40,2394.50 854.80,2394.50 855.20,2394.50 855.60,2394.50 856.00,2394.50 856.40,2394.50 856.80,2394.50 857.20,2394.50 857.60,2394.50 858.00,2394.50 858.40,2394.50 858.80,2394.50 859.20,2394.50 859.60,2394.50 860.00,2394.50 860.40,2394.50 860.80,2394.50 861.20,2394.50 861.60,2394.50 862.00,2394.50 862.40,2394.50 862.80,2394.50 863.20,2394.50 863.60,2394.50 864.00,2394.50 864.40,2394.50 864.80,2394.50 865.20,2394.50 865.60,2394.50 866.00,2394.50 866.40,2394.50 866.80,2394.50 867.20,2394.50 867.60,2394.50 868.00,2394.50 868.40,2394.50 868.80,2394.50 869.20,2394.50 869.60,2394.50 870.00,2394.50 870.40,2394.50 870.80,2394.50 871.20,2394.50 871.60,2394.50 872.00,2394.50 872.40,2394.50 872.80,2394.50 873.20,2394.50 873.60,2394.50 874.00,2394.50 874.40,2394.50 874.80,2394.50 875.20,2394.50 875.60,2394.50 876.00,2394.50 876.40,2394.50 876.80,2394.50 877.20,2394.50 877.60,2394.50 878.00,2394.50 878.40,2394.50 878.80,2394.50 879.20,2394.50 879.60,2394.50 880.00,2394.50 880.40,2394.50 880.80,2394.50 881.20,2394.50 881.60,2394.50 882.00,2394.50 882.40,2394.50 882.80,2394.50 883.20,2394.50 883.60,2394.50 884.00,2394.50 884.40,2394.50 884.80,2394.50 885.20,2394.50 885.60,2394.50 886.00,2394.50 886.40,2394.50 886.80,2394.50 887.20,2394.50 887.60,2394.50 888.00,2394.50 888.40,2394.50 888.80,2394.50 889.20,2394.50 889.60,2394.50 890.00,2394.50 890.40,2394.50 890.80,2394.50 891.20,2394.50 891.60,2394.50 892.00,2394.50 892.40,2394.50 892.80,2394.50 893.20,2394.50 893.60,2394.50 894.00,2394.50 894.40,2394.50 894.80,2394.50 895.20,2394.50 895.60,2394.50 896.00,2394.50 896.40,2394.50 896.80,2394.50 897.20,2394.50 897.60,2394.50 898.00,2394.50 898.40,2394.50 898.80,2394.50 899.20,2394.50 899.60,2394.50 900.00,2394.50 900.40,2394.50 900.80,2394.50 901.20,2394.50 901.60,2394.50 902.00,2394.50 902.40,2394.50 902.80,2394.50 903.20,2394.50 903.60,2394.49 904.00,2394.49 904.40,2394.48 904.80,2394.46 905.20,2394.42 905.60,2394.36 906.00,2394.26 906.40,2394.12 906.80,2393.90 907.20,2393.58 907.60,2393.14 908.00,2392.56 908.40,2391.83 908.80,2390.93 909.20,2389.89 909.60,2388.73 910.00,2387.53 910.40,2386.34 910.80,2385.26 911.20,2384.38 911.60,2383.78 912.00,2383.51 912.40,2383.60 912.80,2384.04 913.20,2384.79 913.60,2385.78 914.00,2386.92 914.40,2388.13 914.80,2389.32 915.20,2390.42 915.60,2391.40 916.00,2392.21 916.40,2392.87 916.80,2393.38 917.20,2393.75 917.60,2394.02 918.00,2394.20 918.40,2394.32 918.80,2394.39 919.20,2394.44 919.60,2394.47 920.00,2394.48 920.40,2394.49 920.80,2394.50 921.20,2394.50 921.60,2394.50 922.00,2394.50 922.40,2394.50 922.80,2394.50 923.20,2394.50 923.60,2394.50 924.00,2394.50 924.40,2394.50 924.80,2394.50 925.20,2394.50 925.60,2394.50 926.00,2394.50 926.40,2394.50 926.80,2394.50 927.20,2394.50 927.60,2394.50 928.00,2394.50 928.40,2394.50 928.80,2394.50 929.20,2394.50 929.60,2394.50 930.00,2394.50 930.40,2394.50 930.80,2394.50 931.20,2394.50 931.60,2394.50 932.00,2394.50 932.40,2394.50 932.80,2394.50 933.20,2394.50 933.60,2394.50 934.00,2394.50 934.40,2394.50 934.80,2394.50 935.20,2394.50 935.60,2394.50 936.00,2394.50 936.40,2394.50 936.80,2394.50 937.20,2394.50 937.60,2394.50 938.00,2394.50 938.40,2394.50 938.80,2394.50 939.20,2394.50 939.60,2394.50 940.00,2394.50 940.40,2394.50 940.80,2394.50 941.20,2394.50 941.60,2394.50 942.00,2394.50 942.40,2394.50 942.80,2394.50 943.20,2394.50 943.60,2394.50 944.00,2394.50 944.40,2394.50 944.80,2394.50 945.20,2394.50 945.60,2394.50 946.00,2394.50 946.40,2394.50 946.80,2394.50 947.20,2394.50 947.60,2394.50 948.00,2394.50 948.40,2394.50 948.80,2394.50 949.20,2394.50 949.60,2394.50 950.00,2394.50" fill="none" stroke="#b41218" stroke-width="3.0" stroke-linejoin="round" stroke-linecap="round" stroke-linecap="butt"/>
<line x1="327.40" y1="2449.50" x2="429.70" y2="2449.50" stroke="#000" stroke-width="2.3" stroke-linecap="butt" stroke-dasharray="8.5 7.1"/>
<path d="M322.70,2415.50 Q325.70,2415.00 325.70,2419.00 L325.70,2482.50" fill="none" stroke="#000" stroke-width="3.4" />
<line x1="322.20" y1="2449.50" x2="325.70" y2="2449.50" stroke="#000" stroke-width="3.0" stroke-linecap="butt" />
<line x1="324.00" y1="2482.00" x2="441.20" y2="2482.00" stroke="#000" stroke-width="3.4" stroke-linecap="butt" />
<line x1="358.40" y1="2481.50" x2="358.40" y2="2486.00" stroke="#000" stroke-width="2.6" stroke-linecap="butt" />
<line x1="390.70" y1="2481.50" x2="390.70" y2="2486.00" stroke="#000" stroke-width="2.6" stroke-linecap="butt" />
<line x1="423.10" y1="2481.50" x2="423.10" y2="2486.00" stroke="#000" stroke-width="2.6" stroke-linecap="butt" />
<polyline points="327.30,2479.50 327.70,2479.50 328.10,2479.50 328.50,2479.50 328.90,2479.50 329.30,2479.50 329.70,2479.50 330.10,2479.50 330.50,2479.50 330.90,2479.50 331.30,2479.50 331.70,2479.50 332.10,2479.50 332.50,2479.50 332.90,2479.50 333.30,2479.50 333.70,2479.50 334.10,2479.50 334.50,2479.50 334.90,2479.50 335.30,2479.50 335.70,2479.50 336.10,2479.50 336.50,2479.50 336.90,2479.50 337.30,2479.50 337.70,2479.50 338.10,2479.50 338.50,2479.50 338.90,2479.50 339.30,2479.50 339.70,2479.50 340.10,2479.50 340.50,2479.50 340.90,2479.50 341.30,2479.50 341.70,2479.50 342.10,2479.50 342.50,2479.50 342.90,2479.50 343.30,2479.50 343.70,2479.50 344.10,2479.50 344.50,2479.50 344.90,2479.50 345.30,2479.50 345.70,2479.50 346.10,2479.50 346.50,2479.50 346.90,2479.50 347.30,2479.50 347.70,2479.50 348.10,2479.50 348.50,2479.50 348.90,2479.50 349.30,2479.50 349.70,2479.50 350.10,2479.50 350.50,2479.50 350.90,2479.50 351.30,2479.50 351.70,2479.50 352.10,2479.50 352.50,2479.50 352.90,2479.50 353.30,2479.50 353.70,2479.50 354.10,2479.50 354.50,2479.50 354.90,2479.50 355.30,2479.50 355.70,2479.50 356.10,2479.50 356.50,2479.50 356.90,2479.50 357.30,2479.50 357.70,2479.50 358.10,2479.50 358.50,2479.50 358.90,2479.50 359.30,2479.50 359.70,2479.50 360.10,2479.50 360.50,2479.50 360.90,2479.50 361.30,2479.50 361.70,2479.50 362.10,2479.50 362.50,2479.50 362.90,2479.50 363.30,2479.50 363.70,2479.50 364.10,2479.50 364.50,2479.50 364.90,2479.50 365.30,2479.50 365.70,2479.50 366.10,2479.50 366.50,2479.50 366.90,2479.50 367.30,2479.50 367.70,2479.50 368.10,2479.50 368.50,2479.50 368.90,2479.50 369.30,2479.50 369.70,2479.50 370.10,2479.50 370.50,2479.50 370.90,2479.50 371.30,2479.50 371.70,2479.50 372.10,2479.50 372.50,2479.50 372.90,2479.50 373.30,2479.50 373.70,2479.50 374.10,2479.50 374.50,2479.50 374.90,2479.50 375.30,2479.50 375.70,2479.50 376.10,2479.50 376.50,2479.50 376.90,2479.50 377.30,2479.50 377.70,2479.50 378.10,2479.50 378.50,2479.50 378.90,2479.50 379.30,2479.50 379.70,2479.50 380.10,2479.50 380.50,2479.50 380.90,2479.50 381.30,2479.50 381.70,2479.50 382.10,2479.50 382.50,2479.50 382.90,2479.50 383.30,2479.50 383.70,2479.50 384.10,2479.50 384.50,2479.50 384.90,2479.50 385.30,2479.50 385.70,2479.50 386.10,2479.50 386.50,2479.50 386.90,2479.50 387.30,2479.50 387.70,2479.50 388.10,2479.50 388.50,2479.50 388.90,2479.50 389.30,2479.50 389.70,2479.50 390.10,2479.50 390.50,2479.50 390.90,2479.50 391.30,2479.50 391.70,2479.50 392.10,2479.50 392.50,2479.50 392.90,2479.50 393.30,2479.50 393.70,2479.50 394.10,2479.50 394.50,2479.49 394.90,2479.49 395.30,2479.48 395.70,2479.46 396.10,2479.43 396.50,2479.39 396.90,2479.31 397.30,2479.19 397.70,2479.01 398.10,2478.75 398.50,2478.39 398.90,2477.91 399.30,2477.31 399.70,2476.58 400.10,2475.72 400.50,2474.78 400.90,2473.79 401.30,2472.82 401.70,2471.94 402.10,2471.22 402.50,2470.73 402.90,2470.51 403.30,2470.58 403.70,2470.94 404.10,2471.56 404.50,2472.37 404.90,2473.30 405.30,2474.29 405.70,2475.26 406.10,2476.17 406.50,2476.96 406.90,2477.63 407.30,2478.17 407.70,2478.58 408.10,2478.89 408.50,2479.10 408.90,2479.25 409.30,2479.35 409.70,2479.41 410.10,2479.45 410.50,2479.47 410.90,2479.49 411.30,2479.49 411.70,2479.50 412.10,2479.50 412.50,2479.50 412.90,2479.50 413.30,2479.50 413.70,2479.50 414.10,2479.50 414.50,2479.50 414.90,2479.50 415.30,2479.50 415.70,2479.50 416.10,2479.50 416.50,2479.50 416.90,2479.50 417.30,2479.50 417.70,2479.50 418.10,2479.50 418.50,2479.50 418.90,2479.50 419.30,2479.50 419.70,2479.50 420.10,2479.50 420.50,2479.50 420.90,2479.50 421.30,2479.50 421.70,2479.50 422.10,2479.50 422.50,2479.50 422.90,2479.50 423.30,2479.50 423.70,2479.50 424.10,2479.50 424.50,2479.50 424.90,2479.50 425.30,2479.50 425.70,2479.50 426.10,2479.50 426.50,2479.50 426.90,2479.50 427.30,2479.50 427.70,2479.50 428.10,2479.50 428.50,2479.50 428.90,2479.50 429.30,2479.50 429.70,2479.50 430.10,2479.50 430.50,2479.50 430.90,2479.50 431.30,2479.50 431.70,2479.50 432.10,2479.50 432.50,2479.50 432.90,2479.50 433.30,2479.50 433.70,2479.50 434.10,2479.50 434.50,2479.50 434.90,2479.50 435.30,2479.50 435.70,2479.50 436.10,2479.50 436.50,2479.50 436.90,2479.50 437.30,2479.50 437.70,2479.50 438.10,2479.50 438.50,2479.50 438.90,2479.50 439.30,2479.50 439.70,2479.50 440.10,2479.50 440.50,2479.50 440.90,2479.50" fill="none" stroke="#1e5b9c" stroke-width="3.0" stroke-linejoin="round" stroke-linecap="round" stroke-linecap="butt"/>
<line x1="453.10" y1="2449.50" x2="555.40" y2="2449.50" stroke="#000" stroke-width="2.3" stroke-linecap="butt" stroke-dasharray="8.5 7.1"/>
<path d="M448.40,2415.50 Q451.40,2415.00 451.40,2419.00 L451.40,2482.50" fill="none" stroke="#000" stroke-width="3.4" />
<line x1="447.90" y1="2449.50" x2="451.40" y2="2449.50" stroke="#000" stroke-width="3.0" stroke-linecap="butt" />
<line x1="449.70" y1="2482.00" x2="566.90" y2="2482.00" stroke="#000" stroke-width="3.4" stroke-linecap="butt" />
<line x1="484.10" y1="2481.50" x2="484.10" y2="2486.00" stroke="#000" stroke-width="2.6" stroke-linecap="butt" />
<line x1="516.40" y1="2481.50" x2="516.40" y2="2486.00" stroke="#000" stroke-width="2.6" stroke-linecap="butt" />
<line x1="548.80" y1="2481.50" x2="548.80" y2="2486.00" stroke="#000" stroke-width="2.6" stroke-linecap="butt" />
<polyline points="453.00,2479.50 453.40,2479.50 453.80,2479.50 454.20,2479.50 454.60,2479.50 455.00,2479.50 455.40,2479.50 455.80,2479.50 456.20,2479.50 456.60,2479.50 457.00,2479.50 457.40,2479.50 457.80,2479.50 458.20,2479.50 458.60,2479.50 459.00,2479.50 459.40,2479.50 459.80,2479.50 460.20,2479.50 460.60,2479.50 461.00,2479.50 461.40,2479.50 461.80,2479.50 462.20,2479.50 462.60,2479.50 463.00,2479.50 463.40,2479.50 463.80,2479.50 464.20,2479.50 464.60,2479.50 465.00,2479.50 465.40,2479.50 465.80,2479.50 466.20,2479.50 466.60,2479.50 467.00,2479.50 467.40,2479.50 467.80,2479.50 468.20,2479.50 468.60,2479.50 469.00,2479.50 469.40,2479.50 469.80,2479.50 470.20,2479.50 470.60,2479.50 471.00,2479.50 471.40,2479.50 471.80,2479.50 472.20,2479.50 472.60,2479.50 473.00,2479.50 473.40,2479.50 473.80,2479.50 474.20,2479.50 474.60,2479.50 475.00,2479.50 475.40,2479.50 475.80,2479.50 476.20,2479.50 476.60,2479.50 477.00,2479.50 477.40,2479.50 477.80,2479.50 478.20,2479.50 478.60,2479.50 479.00,2479.50 479.40,2479.50 479.80,2479.50 480.20,2479.50 480.60,2479.50 481.00,2479.50 481.40,2479.50 481.80,2479.50 482.20,2479.50 482.60,2479.50 483.00,2479.50 483.40,2479.50 483.80,2479.50 484.20,2479.50 484.60,2479.50 485.00,2479.50 485.40,2479.50 485.80,2479.50 486.20,2479.50 486.60,2479.50 487.00,2479.50 487.40,2479.50 487.80,2479.50 488.20,2479.50 488.60,2479.50 489.00,2479.50 489.40,2479.50 489.80,2479.50 490.20,2479.50 490.60,2479.50 491.00,2479.50 491.40,2479.50 491.80,2479.50 492.20,2479.50 492.60,2479.50 493.00,2479.50 493.40,2479.50 493.80,2479.50 494.20,2479.50 494.60,2479.50 495.00,2479.50 495.40,2479.50 495.80,2479.50 496.20,2479.50 496.60,2479.50 497.00,2479.50 497.40,2479.50 497.80,2479.50 498.20,2479.50 498.60,2479.50 499.00,2479.50 499.40,2479.50 499.80,2479.50 500.20,2479.50 500.60,2479.50 501.00,2479.50 501.40,2479.50 501.80,2479.50 502.20,2479.50 502.60,2479.50 503.00,2479.50 503.40,2479.50 503.80,2479.50 504.20,2479.50 504.60,2479.50 505.00,2479.50 505.40,2479.50 505.80,2479.50 506.20,2479.50 506.60,2479.50 507.00,2479.50 507.40,2479.50 507.80,2479.50 508.20,2479.50 508.60,2479.50 509.00,2479.50 509.40,2479.50 509.80,2479.50 510.20,2479.50 510.60,2479.50 511.00,2479.50 511.40,2479.50 511.80,2479.50 512.20,2479.50 512.60,2479.50 513.00,2479.50 513.40,2479.50 513.80,2479.50 514.20,2479.50 514.60,2479.50 515.00,2479.50 515.40,2479.50 515.80,2479.50 516.20,2479.50 516.60,2479.50 517.00,2479.50 517.40,2479.50 517.80,2479.50 518.20,2479.50 518.60,2479.50 519.00,2479.50 519.40,2479.50 519.80,2479.50 520.20,2479.50 520.60,2479.49 521.00,2479.49 521.40,2479.48 521.80,2479.46 522.20,2479.42 522.60,2479.37 523.00,2479.29 523.40,2479.17 523.80,2479.00 524.20,2478.76 524.60,2478.44 525.00,2478.04 525.40,2477.55 525.80,2476.98 526.20,2476.35 526.60,2475.70 527.00,2475.05 527.40,2474.46 527.80,2473.98 528.20,2473.65 528.60,2473.51 529.00,2473.56 529.40,2473.80 529.80,2474.21 530.20,2474.74 530.60,2475.37 531.00,2476.03 531.40,2476.67 531.80,2477.28 532.20,2477.81 532.60,2478.25 533.00,2478.61 533.40,2478.89 533.80,2479.09 534.20,2479.24 534.60,2479.34 535.00,2479.40 535.40,2479.44 535.80,2479.47 536.20,2479.48 536.60,2479.49 537.00,2479.50 537.40,2479.50 537.80,2479.50 538.20,2479.50 538.60,2479.50 539.00,2479.50 539.40,2479.50 539.80,2479.50 540.20,2479.50 540.60,2479.50 541.00,2479.50 541.40,2479.50 541.80,2479.50 542.20,2479.50 542.60,2479.50 543.00,2479.50 543.40,2479.50 543.80,2479.50 544.20,2479.50 544.60,2479.50 545.00,2479.50 545.40,2479.50 545.80,2479.50 546.20,2479.50 546.60,2479.50 547.00,2479.50 547.40,2479.50 547.80,2479.50 548.20,2479.50 548.60,2479.50 549.00,2479.50 549.40,2479.50 549.80,2479.50 550.20,2479.50 550.60,2479.50 551.00,2479.50 551.40,2479.50 551.80,2479.50 552.20,2479.50 552.60,2479.50 553.00,2479.50 553.40,2479.50 553.80,2479.50 554.20,2479.50 554.60,2479.50 555.00,2479.50 555.40,2479.50 555.80,2479.50 556.20,2479.50 556.60,2479.50 557.00,2479.50 557.40,2479.50 557.80,2479.50 558.20,2479.50 558.60,2479.50 559.00,2479.50 559.40,2479.50 559.80,2479.50 560.20,2479.50 560.60,2479.50 561.00,2479.50 561.40,2479.50 561.80,2479.50 562.20,2479.50 562.60,2479.50 563.00,2479.50 563.40,2479.50 563.80,2479.50 564.20,2479.50 564.60,2479.50 565.00,2479.50 565.40,2479.50 565.80,2479.50 566.20,2479.50 566.60,2479.50" fill="none" stroke="#c9d41e" stroke-width="3.0" stroke-linejoin="round" stroke-linecap="round" stroke-linecap="butt"/>
<line x1="582.90" y1="2449.50" x2="685.20" y2="2449.50" stroke="#000" stroke-width="2.3" stroke-linecap="butt" stroke-dasharray="8.5 7.1"/>
<path d="M578.20,2415.50 Q581.20,2415.00 581.20,2419.00 L581.20,2482.50" fill="none" stroke="#000" stroke-width="3.4" />
<line x1="577.70" y1="2449.50" x2="581.20" y2="2449.50" stroke="#000" stroke-width="3.0" stroke-linecap="butt" />
<line x1="579.50" y1="2482.00" x2="696.70" y2="2482.00" stroke="#000" stroke-width="3.4" stroke-linecap="butt" />
<line x1="613.90" y1="2481.50" x2="613.90" y2="2486.00" stroke="#000" stroke-width="2.6" stroke-linecap="butt" />
<line x1="646.20" y1="2481.50" x2="646.20" y2="2486.00" stroke="#000" stroke-width="2.6" stroke-linecap="butt" />
<line x1="678.60" y1="2481.50" x2="678.60" y2="2486.00" stroke="#000" stroke-width="2.6" stroke-linecap="butt" />
<polyline points="582.80,2479.50 583.20,2479.50 583.60,2479.50 584.00,2479.50 584.40,2479.50 584.80,2479.50 585.20,2479.50 585.60,2479.50 586.00,2479.50 586.40,2479.50 586.80,2479.50 587.20,2479.50 587.60,2479.50 588.00,2479.50 588.40,2479.50 588.80,2479.50 589.20,2479.50 589.60,2479.50 590.00,2479.50 590.40,2479.50 590.80,2479.50 591.20,2479.50 591.60,2479.50 592.00,2479.50 592.40,2479.50 592.80,2479.50 593.20,2479.50 593.60,2479.50 594.00,2479.50 594.40,2479.50 594.80,2479.50 595.20,2479.50 595.60,2479.50 596.00,2479.50 596.40,2479.50 596.80,2479.50 597.20,2479.50 597.60,2479.50 598.00,2479.50 598.40,2479.50 598.80,2479.50 599.20,2479.50 599.60,2479.50 600.00,2479.50 600.40,2479.50 600.80,2479.50 601.20,2479.50 601.60,2479.50 602.00,2479.50 602.40,2479.50 602.80,2479.50 603.20,2479.50 603.60,2479.50 604.00,2479.50 604.40,2479.50 604.80,2479.50 605.20,2479.50 605.60,2479.50 606.00,2479.50 606.40,2479.50 606.80,2479.50 607.20,2479.50 607.60,2479.50 608.00,2479.50 608.40,2479.50 608.80,2479.50 609.20,2479.50 609.60,2479.50 610.00,2479.50 610.40,2479.50 610.80,2479.50 611.20,2479.50 611.60,2479.50 612.00,2479.50 612.40,2479.50 612.80,2479.50 613.20,2479.50 613.60,2479.50 614.00,2479.50 614.40,2479.50 614.80,2479.50 615.20,2479.50 615.60,2479.50 616.00,2479.50 616.40,2479.50 616.80,2479.50 617.20,2479.50 617.60,2479.50 618.00,2479.50 618.40,2479.50 618.80,2479.50 619.20,2479.50 619.60,2479.50 620.00,2479.50 620.40,2479.50 620.80,2479.50 621.20,2479.50 621.60,2479.50 622.00,2479.50 622.40,2479.50 622.80,2479.50 623.20,2479.50 623.60,2479.50 624.00,2479.50 624.40,2479.50 624.80,2479.50 625.20,2479.50 625.60,2479.50 626.00,2479.50 626.40,2479.50 626.80,2479.50 627.20,2479.50 627.60,2479.50 628.00,2479.50 628.40,2479.50 628.80,2479.50 629.20,2479.50 629.60,2479.50 630.00,2479.50 630.40,2479.50 630.80,2479.50 631.20,2479.50 631.60,2479.50 632.00,2479.50 632.40,2479.50 632.80,2479.50 633.20,2479.50 633.60,2479.50 634.00,2479.50 634.40,2479.50 634.80,2479.50 635.20,2479.50 635.60,2479.50 636.00,2479.50 636.40,2479.50 636.80,2479.50 637.20,2479.50 637.60,2479.50 638.00,2479.50 638.40,2479.50 638.80,2479.50 639.20,2479.50 639.60,2479.50 640.00,2479.50 640.40,2479.50 640.80,2479.50 641.20,2479.50 641.60,2479.50 642.00,2479.50 642.40,2479.50 642.80,2479.50 643.20,2479.50 643.60,2479.50 644.00,2479.50 644.40,2479.50 644.80,2479.50 645.20,2479.50 645.60,2479.50 646.00,2479.50 646.40,2479.50 646.80,2479.50 647.20,2479.50 647.60,2479.50 648.00,2479.50 648.40,2479.50 648.80,2479.50 649.20,2479.50 649.60,2479.50 650.00,2479.49 650.40,2479.49 650.80,2479.48 651.20,2479.46 651.60,2479.43 652.00,2479.39 652.40,2479.31 652.80,2479.19 653.20,2479.01 653.60,2478.75 654.00,2478.39 654.40,2477.91 654.80,2477.31 655.20,2476.58 655.60,2475.72 656.00,2474.78 656.40,2473.79 656.80,2472.82 657.20,2471.94 657.60,2471.22 658.00,2470.73 658.40,2470.51 658.80,2470.58 659.20,2470.94 659.60,2471.56 660.00,2472.37 660.40,2473.30 660.80,2474.29 661.20,2475.26 661.60,2476.17 662.00,2476.96 662.40,2477.63 662.80,2478.17 663.20,2478.58 663.60,2478.89 664.00,2479.10 664.40,2479.25 664.80,2479.35 665.20,2479.41 665.60,2479.45 666.00,2479.47 666.40,2479.49 666.80,2479.49 667.20,2479.50 667.60,2479.50 668.00,2479.50 668.40,2479.50 668.80,2479.50 669.20,2479.50 669.60,2479.50 670.00,2479.50 670.40,2479.50 670.80,2479.50 671.20,2479.50 671.60,2479.50 672.00,2479.50 672.40,2479.50 672.80,2479.50 673.20,2479.50 673.60,2479.50 674.00,2479.50 674.40,2479.50 674.80,2479.50 675.20,2479.50 675.60,2479.50 676.00,2479.50 676.40,2479.50 676.80,2479.50 677.20,2479.50 677.60,2479.50 678.00,2479.50 678.40,2479.50 678.80,2479.50 679.20,2479.50 679.60,2479.50 680.00,2479.50 680.40,2479.50 680.80,2479.50 681.20,2479.50 681.60,2479.50 682.00,2479.50 682.40,2479.50 682.80,2479.50 683.20,2479.50 683.60,2479.50 684.00,2479.50 684.40,2479.50 684.80,2479.50 685.20,2479.50 685.60,2479.50 686.00,2479.50 686.40,2479.50 686.80,2479.50 687.20,2479.50 687.60,2479.50 688.00,2479.50 688.40,2479.50 688.80,2479.50 689.20,2479.50 689.60,2479.50 690.00,2479.50 690.40,2479.50 690.80,2479.50 691.20,2479.50 691.60,2479.50 692.00,2479.50 692.40,2479.50 692.80,2479.50 693.20,2479.50 693.60,2479.50 694.00,2479.50 694.40,2479.50 694.80,2479.50 695.20,2479.50 695.60,2479.50 696.00,2479.50 696.40,2479.50" fill="none" stroke="#f07b37" stroke-width="3.0" stroke-linejoin="round" stroke-linecap="round" stroke-linecap="butt"/>
<line x1="707.90" y1="2449.50" x2="810.20" y2="2449.50" stroke="#000" stroke-width="2.3" stroke-linecap="butt" stroke-dasharray="8.5 7.1"/>
<path d="M703.20,2415.50 Q706.20,2415.00 706.20,2419.00 L706.20,2482.50" fill="none" stroke="#000" stroke-width="3.4" />
<line x1="702.70" y1="2449.50" x2="706.20" y2="2449.50" stroke="#000" stroke-width="3.0" stroke-linecap="butt" />
<line x1="704.50" y1="2482.00" x2="821.70" y2="2482.00" stroke="#000" stroke-width="3.4" stroke-linecap="butt" />
<line x1="738.90" y1="2481.50" x2="738.90" y2="2486.00" stroke="#000" stroke-width="2.6" stroke-linecap="butt" />
<line x1="771.20" y1="2481.50" x2="771.20" y2="2486.00" stroke="#000" stroke-width="2.6" stroke-linecap="butt" />
<line x1="803.60" y1="2481.50" x2="803.60" y2="2486.00" stroke="#000" stroke-width="2.6" stroke-linecap="butt" />
<polyline points="707.80,2479.50 708.20,2479.50 708.60,2479.50 709.00,2479.50 709.40,2479.50 709.80,2479.50 710.20,2479.50 710.60,2479.50 711.00,2479.50 711.40,2479.50 711.80,2479.50 712.20,2479.50 712.60,2479.50 713.00,2479.50 713.40,2479.50 713.80,2479.50 714.20,2479.50 714.60,2479.50 715.00,2479.50 715.40,2479.50 715.80,2479.50 716.20,2479.50 716.60,2479.50 717.00,2479.50 717.40,2479.50 717.80,2479.50 718.20,2479.50 718.60,2479.50 719.00,2479.50 719.40,2479.50 719.80,2479.50 720.20,2479.50 720.60,2479.50 721.00,2479.50 721.40,2479.50 721.80,2479.50 722.20,2479.50 722.60,2479.50 723.00,2479.50 723.40,2479.50 723.80,2479.50 724.20,2479.50 724.60,2479.50 725.00,2479.50 725.40,2479.50 725.80,2479.50 726.20,2479.50 726.60,2479.50 727.00,2479.50 727.40,2479.50 727.80,2479.50 728.20,2479.50 728.60,2479.50 729.00,2479.50 729.40,2479.50 729.80,2479.50 730.20,2479.50 730.60,2479.50 731.00,2479.50 731.40,2479.50 731.80,2479.50 732.20,2479.50 732.60,2479.50 733.00,2479.50 733.40,2479.50 733.80,2479.50 734.20,2479.50 734.60,2479.50 735.00,2479.50 735.40,2479.50 735.80,2479.50 736.20,2479.50 736.60,2479.50 737.00,2479.50 737.40,2479.50 737.80,2479.50 738.20,2479.50 738.60,2479.50 739.00,2479.50 739.40,2479.50 739.80,2479.50 740.20,2479.50 740.60,2479.50 741.00,2479.50 741.40,2479.50 741.80,2479.50 742.20,2479.50 742.60,2479.50 743.00,2479.50 743.40,2479.50 743.80,2479.50 744.20,2479.50 744.60,2479.50 745.00,2479.50 745.40,2479.50 745.80,2479.50 746.20,2479.50 746.60,2479.50 747.00,2479.50 747.40,2479.50 747.80,2479.50 748.20,2479.50 748.60,2479.50 749.00,2479.50 749.40,2479.50 749.80,2479.50 750.20,2479.50 750.60,2479.50 751.00,2479.50 751.40,2479.50 751.80,2479.50 752.20,2479.50 752.60,2479.50 753.00,2479.50 753.40,2479.50 753.80,2479.50 754.20,2479.50 754.60,2479.50 755.00,2479.50 755.40,2479.50 755.80,2479.50 756.20,2479.50 756.60,2479.50 757.00,2479.50 757.40,2479.50 757.80,2479.50 758.20,2479.50 758.60,2479.50 759.00,2479.50 759.40,2479.50 759.80,2479.50 760.20,2479.50 760.60,2479.50 761.00,2479.50 761.40,2479.50 761.80,2479.50 762.20,2479.50 762.60,2479.50 763.00,2479.50 763.40,2479.50 763.80,2479.50 764.20,2479.50 764.60,2479.50 765.00,2479.50 765.40,2479.50 765.80,2479.50 766.20,2479.50 766.60,2479.50 767.00,2479.50 767.40,2479.50 767.80,2479.50 768.20,2479.50 768.60,2479.50 769.00,2479.50 769.40,2479.50 769.80,2479.50 770.20,2479.50 770.60,2479.50 771.00,2479.50 771.40,2479.50 771.80,2479.50 772.20,2479.50 772.60,2479.50 773.00,2479.50 773.40,2479.50 773.80,2479.50 774.20,2479.50 774.60,2479.50 775.00,2479.49 775.40,2479.49 775.80,2479.48 776.20,2479.46 776.60,2479.43 777.00,2479.37 777.40,2479.29 777.80,2479.15 778.20,2478.95 778.60,2478.66 779.00,2478.27 779.40,2477.74 779.80,2477.07 780.20,2476.25 780.60,2475.31 781.00,2474.26 781.40,2473.16 781.80,2472.08 782.20,2471.10 782.60,2470.30 783.00,2469.75 783.40,2469.51 783.80,2469.59 784.20,2469.99 784.60,2470.68 785.00,2471.57 785.40,2472.61 785.80,2473.71 786.20,2474.79 786.60,2475.79 787.00,2476.68 787.40,2477.42 787.80,2478.02 788.20,2478.48 788.60,2478.82 789.00,2479.06 789.40,2479.23 789.80,2479.33 790.20,2479.40 790.60,2479.45 791.00,2479.47 791.40,2479.48 791.80,2479.49 792.20,2479.50 792.60,2479.50 793.00,2479.50 793.40,2479.50 793.80,2479.50 794.20,2479.50 794.60,2479.50 795.00,2479.50 795.40,2479.50 795.80,2479.50 796.20,2479.50 796.60,2479.50 797.00,2479.50 797.40,2479.50 797.80,2479.50 798.20,2479.50 798.60,2479.50 799.00,2479.50 799.40,2479.50 799.80,2479.50 800.20,2479.50 800.60,2479.50 801.00,2479.50 801.40,2479.50 801.80,2479.50 802.20,2479.50 802.60,2479.50 803.00,2479.50 803.40,2479.50 803.80,2479.50 804.20,2479.50 804.60,2479.50 805.00,2479.50 805.40,2479.50 805.80,2479.50 806.20,2479.50 806.60,2479.50 807.00,2479.50 807.40,2479.50 807.80,2479.50 808.20,2479.50 808.60,2479.50 809.00,2479.50 809.40,2479.50 809.80,2479.50 810.20,2479.50 810.60,2479.50 811.00,2479.50 811.40,2479.50 811.80,2479.50 812.20,2479.50 812.60,2479.50 813.00,2479.50 813.40,2479.50 813.80,2479.50 814.20,2479.50 814.60,2479.50 815.00,2479.50 815.40,2479.50 815.80,2479.50 816.20,2479.50 816.60,2479.50 817.00,2479.50 817.40,2479.50 817.80,2479.50 818.20,2479.50 818.60,2479.50 819.00,2479.50 819.40,2479.50 819.80,2479.50 820.20,2479.50 820.60,2479.50 821.00,2479.50 821.40,2479.50" fill="none" stroke="#2e9444" stroke-width="3.0" stroke-linejoin="round" stroke-linecap="round" stroke-linecap="butt"/>
<line x1="836.50" y1="2449.50" x2="938.80" y2="2449.50" stroke="#000" stroke-width="2.3" stroke-linecap="butt" stroke-dasharray="8.5 7.1"/>
<path d="M831.80,2415.50 Q834.80,2415.00 834.80,2419.00 L834.80,2482.50" fill="none" stroke="#000" stroke-width="3.4" />
<line x1="831.30" y1="2449.50" x2="834.80" y2="2449.50" stroke="#000" stroke-width="3.0" stroke-linecap="butt" />
<line x1="833.10" y1="2482.00" x2="950.30" y2="2482.00" stroke="#000" stroke-width="3.4" stroke-linecap="butt" />
<line x1="867.50" y1="2481.50" x2="867.50" y2="2486.00" stroke="#000" stroke-width="2.6" stroke-linecap="butt" />
<line x1="899.80" y1="2481.50" x2="899.80" y2="2486.00" stroke="#000" stroke-width="2.6" stroke-linecap="butt" />
<line x1="932.20" y1="2481.50" x2="932.20" y2="2486.00" stroke="#000" stroke-width="2.6" stroke-linecap="butt" />
<polyline points="836.40,2479.50 836.80,2479.50 837.20,2479.50 837.60,2479.50 838.00,2479.50 838.40,2479.50 838.80,2479.50 839.20,2479.50 839.60,2479.50 840.00,2479.50 840.40,2479.50 840.80,2479.50 841.20,2479.50 841.60,2479.50 842.00,2479.50 842.40,2479.50 842.80,2479.50 843.20,2479.50 843.60,2479.50 844.00,2479.50 844.40,2479.50 844.80,2479.50 845.20,2479.50 845.60,2479.50 846.00,2479.50 846.40,2479.50 846.80,2479.50 847.20,2479.50 847.60,2479.50 848.00,2479.50 848.40,2479.50 848.80,2479.50 849.20,2479.50 849.60,2479.50 850.00,2479.50 850.40,2479.50 850.80,2479.50 851.20,2479.50 851.60,2479.50 852.00,2479.50 852.40,2479.50 852.80,2479.50 853.20,2479.50 853.60,2479.50 854.00,2479.50 854.40,2479.50 854.80,2479.50 855.20,2479.50 855.60,2479.50 856.00,2479.50 856.40,2479.50 856.80,2479.50 857.20,2479.50 857.60,2479.50 858.00,2479.50 858.40,2479.50 858.80,2479.50 859.20,2479.50 859.60,2479.50 860.00,2479.50 860.40,2479.50 860.80,2479.50 861.20,2479.50 861.60,2479.50 862.00,2479.50 862.40,2479.50 862.80,2479.50 863.20,2479.50 863.60,2479.50 864.00,2479.50 864.40,2479.50 864.80,2479.50 865.20,2479.50 865.60,2479.50 866.00,2479.50 866.40,2479.50 866.80,2479.50 867.20,2479.50 867.60,2479.50 868.00,2479.50 868.40,2479.50 868.80,2479.50 869.20,2479.50 869.60,2479.50 870.00,2479.50 870.40,2479.50 870.80,2479.50 871.20,2479.50 871.60,2479.50 872.00,2479.50 872.40,2479.50 872.80,2479.50 873.20,2479.50 873.60,2479.50 874.00,2479.50 874.40,2479.50 874.80,2479.50 875.20,2479.50 875.60,2479.50 876.00,2479.50 876.40,2479.50 876.80,2479.50 877.20,2479.50 877.60,2479.50 878.00,2479.50 878.40,2479.50 878.80,2479.50 879.20,2479.50 879.60,2479.50 880.00,2479.50 880.40,2479.50 880.80,2479.50 881.20,2479.50 881.60,2479.50 882.00,2479.50 882.40,2479.50 882.80,2479.50 883.20,2479.50 883.60,2479.50 884.00,2479.50 884.40,2479.50 884.80,2479.50 885.20,2479.50 885.60,2479.50 886.00,2479.50 886.40,2479.50 886.80,2479.50 887.20,2479.50 887.60,2479.50 888.00,2479.50 888.40,2479.50 888.80,2479.50 889.20,2479.50 889.60,2479.50 890.00,2479.50 890.40,2479.50 890.80,2479.50 891.20,2479.50 891.60,2479.50 892.00,2479.50 892.40,2479.50 892.80,2479.50 893.20,2479.50 893.60,2479.50 894.00,2479.50 894.40,2479.50 894.80,2479.50 895.20,2479.50 895.60,2479.50 896.00,2479.50 896.40,2479.50 896.80,2479.50 897.20,2479.50 897.60,2479.50 898.00,2479.50 898.40,2479.50 898.80,2479.50 899.20,2479.50 899.60,2479.50 900.00,2479.50 900.40,2479.50 900.80,2479.50 901.20,2479.50 901.60,2479.50 902.00,2479.50 902.40,2479.50 902.80,2479.50 903.20,2479.50 903.60,2479.50 904.00,2479.49 904.40,2479.48 904.80,2479.47 905.20,2479.44 905.60,2479.40 906.00,2479.33 906.40,2479.22 906.80,2479.06 907.20,2478.83 907.60,2478.51 908.00,2478.09 908.40,2477.56 908.80,2476.90 909.20,2476.14 909.60,2475.31 910.00,2474.43 910.40,2473.56 910.80,2472.78 911.20,2472.14 911.60,2471.70 912.00,2471.51 912.40,2471.57 912.80,2471.89 913.20,2472.44 913.60,2473.16 914.00,2473.99 914.40,2474.87 914.80,2475.73 915.20,2476.54 915.60,2477.24 916.00,2477.84 916.40,2478.32 916.80,2478.68 917.20,2478.96 917.60,2479.15 918.00,2479.28 918.40,2479.37 918.80,2479.42 919.20,2479.46 919.60,2479.48 920.00,2479.49 920.40,2479.49 920.80,2479.50 921.20,2479.50 921.60,2479.50 922.00,2479.50 922.40,2479.50 922.80,2479.50 923.20,2479.50 923.60,2479.50 924.00,2479.50 924.40,2479.50 924.80,2479.50 925.20,2479.50 925.60,2479.50 926.00,2479.50 926.40,2479.50 926.80,2479.50 927.20,2479.50 927.60,2479.50 928.00,2479.50 928.40,2479.50 928.80,2479.50 929.20,2479.50 929.60,2479.50 930.00,2479.50 930.40,2479.50 930.80,2479.50 931.20,2479.50 931.60,2479.50 932.00,2479.50 932.40,2479.50 932.80,2479.50 933.20,2479.50 933.60,2479.50 934.00,2479.50 934.40,2479.50 934.80,2479.50 935.20,2479.50 935.60,2479.50 936.00,2479.50 936.40,2479.50 936.80,2479.50 937.20,2479.50 937.60,2479.50 938.00,2479.50 938.40,2479.50 938.80,2479.50 939.20,2479.50 939.60,2479.50 940.00,2479.50 940.40,2479.50 940.80,2479.50 941.20,2479.50 941.60,2479.50 942.00,2479.50 942.40,2479.50 942.80,2479.50 943.20,2479.50 943.60,2479.50 944.00,2479.50 944.40,2479.50 944.80,2479.50 945.20,2479.50 945.60,2479.50 946.00,2479.50 946.40,2479.50 946.80,2479.50 947.20,2479.50 947.60,2479.50 948.00,2479.50 948.40,2479.50 948.80,2479.50 949.20,2479.50 949.60,2479.50 950.00,2479.50" fill="none" stroke="#b41218" stroke-width="3.0" stroke-linejoin="round" stroke-linecap="round" stroke-linecap="butt"/>
<line x1="327.40" y1="2531.50" x2="429.70" y2="2531.50" stroke="#000" stroke-width="2.3" stroke-linecap="butt" stroke-dasharray="8.5 7.1"/>
<path d="M322.70,2497.50 Q325.70,2497.00 325.70,2501.00 L325.70,2564.50" fill="none" stroke="#000" stroke-width="3.4" />
<line x1="322.20" y1="2531.50" x2="325.70" y2="2531.50" stroke="#000" stroke-width="3.0" stroke-linecap="butt" />
<line x1="324.00" y1="2564.00" x2="441.20" y2="2564.00" stroke="#000" stroke-width="3.4" stroke-linecap="butt" />
<line x1="358.40" y1="2563.50" x2="358.40" y2="2568.00" stroke="#000" stroke-width="2.6" stroke-linecap="butt" />
<line x1="390.70" y1="2563.50" x2="390.70" y2="2568.00" stroke="#000" stroke-width="2.6" stroke-linecap="butt" />
<line x1="423.10" y1="2563.50" x2="423.10" y2="2568.00" stroke="#000" stroke-width="2.6" stroke-linecap="butt" />
<polyline points="327.30,2561.50 327.70,2561.50 328.10,2561.50 328.50,2561.50 328.90,2561.50 329.30,2561.50 329.70,2561.50 330.10,2561.50 330.50,2561.50 330.90,2561.50 331.30,2561.50 331.70,2561.50 332.10,2561.50 332.50,2561.50 332.90,2561.50 333.30,2561.50 333.70,2561.50 334.10,2561.50 334.50,2561.50 334.90,2561.50 335.30,2561.50 335.70,2561.50 336.10,2561.50 336.50,2561.50 336.90,2561.50 337.30,2561.50 337.70,2561.50 338.10,2561.50 338.50,2561.50 338.90,2561.50 339.30,2561.50 339.70,2561.50 340.10,2561.50 340.50,2561.50 340.90,2561.50 341.30,2561.50 341.70,2561.50 342.10,2561.50 342.50,2561.50 342.90,2561.50 343.30,2561.50 343.70,2561.50 344.10,2561.50 344.50,2561.50 344.90,2561.50 345.30,2561.50 345.70,2561.50 346.10,2561.50 346.50,2561.50 346.90,2561.50 347.30,2561.50 347.70,2561.50 348.10,2561.50 348.50,2561.50 348.90,2561.50 349.30,2561.50 349.70,2561.50 350.10,2561.50 350.50,2561.50 350.90,2561.50 351.30,2561.50 351.70,2561.50 352.10,2561.50 352.50,2561.50 352.90,2561.50 353.30,2561.50 353.70,2561.50 354.10,2561.50 354.50,2561.50 354.90,2561.50 355.30,2561.50 355.70,2561.50 356.10,2561.50 356.50,2561.50 356.90,2561.50 357.30,2561.50 357.70,2561.50 358.10,2561.50 358.50,2561.50 358.90,2561.50 359.30,2561.50 359.70,2561.50 360.10,2561.50 360.50,2561.50 360.90,2561.50 361.30,2561.50 361.70,2561.50 362.10,2561.50 362.50,2561.50 362.90,2561.50 363.30,2561.50 363.70,2561.50 364.10,2561.50 364.50,2561.50 364.90,2561.50 365.30,2561.50 365.70,2561.50 366.10,2561.50 366.50,2561.50 366.90,2561.50 367.30,2561.50 367.70,2561.50 368.10,2561.50 368.50,2561.50 368.90,2561.50 369.30,2561.50 369.70,2561.50 370.10,2561.50 370.50,2561.50 370.90,2561.50 371.30,2561.50 371.70,2561.50 372.10,2561.50 372.50,2561.50 372.90,2561.50 373.30,2561.50 373.70,2561.50 374.10,2561.50 374.50,2561.50 374.90,2561.50 375.30,2561.50 375.70,2561.50 376.10,2561.50 376.50,2561.50 376.90,2561.50 377.30,2561.50 377.70,2561.50 378.10,2561.50 378.50,2561.50 378.90,2561.50 379.30,2561.50 379.70,2561.50 380.10,2561.50 380.50,2561.50 380.90,2561.50 381.30,2561.50 381.70,2561.50 382.10,2561.50 382.50,2561.50 382.90,2561.50 383.30,2561.50 383.70,2561.50 384.10,2561.50 384.50,2561.50 384.90,2561.50 385.30,2561.50 385.70,2561.50 386.10,2561.50 386.50,2561.50 386.90,2561.50 387.30,2561.50 387.70,2561.50 388.10,2561.50 388.50,2561.50 388.90,2561.50 389.30,2561.50 389.70,2561.50 390.10,2561.50 390.50,2561.50 390.90,2561.50 391.30,2561.50 391.70,2561.50 392.10,2561.50 392.50,2561.50 392.90,2561.50 393.30,2561.50 393.70,2561.50 394.10,2561.50 394.50,2561.49 394.90,2561.49 395.30,2561.48 395.70,2561.46 396.10,2561.43 396.50,2561.39 396.90,2561.31 397.30,2561.19 397.70,2561.01 398.10,2560.75 398.50,2560.39 398.90,2559.91 399.30,2559.31 399.70,2558.58 400.10,2557.72 400.50,2556.78 400.90,2555.79 401.30,2554.82 401.70,2553.94 402.10,2553.22 402.50,2552.73 402.90,2552.51 403.30,2552.58 403.70,2552.94 404.10,2553.56 404.50,2554.37 404.90,2555.30 405.30,2556.29 405.70,2557.26 406.10,2558.17 406.50,2558.96 406.90,2559.63 407.30,2560.17 407.70,2560.58 408.10,2560.89 408.50,2561.10 408.90,2561.25 409.30,2561.35 409.70,2561.41 410.10,2561.45 410.50,2561.47 410.90,2561.49 411.30,2561.49 411.70,2561.50 412.10,2561.50 412.50,2561.50 412.90,2561.50 413.30,2561.50 413.70,2561.50 414.10,2561.50 414.50,2561.50 414.90,2561.50 415.30,2561.50 415.70,2561.50 416.10,2561.50 416.50,2561.50 416.90,2561.50 417.30,2561.50 417.70,2561.50 418.10,2561.50 418.50,2561.50 418.90,2561.50 419.30,2561.50 419.70,2561.50 420.10,2561.50 420.50,2561.50 420.90,2561.50 421.30,2561.50 421.70,2561.50 422.10,2561.50 422.50,2561.50 422.90,2561.50 423.30,2561.50 423.70,2561.50 424.10,2561.50 424.50,2561.50 424.90,2561.50 425.30,2561.50 425.70,2561.50 426.10,2561.50 426.50,2561.50 426.90,2561.50 427.30,2561.50 427.70,2561.50 428.10,2561.50 428.50,2561.50 428.90,2561.50 429.30,2561.50 429.70,2561.50 430.10,2561.50 430.50,2561.50 430.90,2561.50 431.30,2561.50 431.70,2561.50 432.10,2561.50 432.50,2561.50 432.90,2561.50 433.30,2561.50 433.70,2561.50 434.10,2561.50 434.50,2561.50 434.90,2561.50 435.30,2561.50 435.70,2561.50 436.10,2561.50 436.50,2561.50 436.90,2561.50 437.30,2561.50 437.70,2561.50 438.10,2561.50 438.50,2561.50 438.90,2561.50 439.30,2561.50 439.70,2561.50 440.10,2561.50 440.50,2561.50 440.90,2561.50" fill="none" stroke="#1e5b9c" stroke-width="3.0" stroke-linejoin="round" stroke-linecap="round" stroke-linecap="butt"/>
<line x1="453.10" y1="2531.50" x2="555.40" y2="2531.50" stroke="#000" stroke-width="2.3" stroke-linecap="butt" stroke-dasharray="8.5 7.1"/>
<path d="M448.40,2497.50 Q451.40,2497.00 451.40,2501.00 L451.40,2564.50" fill="none" stroke="#000" stroke-width="3.4" />
<line x1="447.90" y1="2531.50" x2="451.40" y2="2531.50" stroke="#000" stroke-width="3.0" stroke-linecap="butt" />
<line x1="449.70" y1="2564.00" x2="566.90" y2="2564.00" stroke="#000" stroke-width="3.4" stroke-linecap="butt" />
<line x1="484.10" y1="2563.50" x2="484.10" y2="2568.00" stroke="#000" stroke-width="2.6" stroke-linecap="butt" />
<line x1="516.40" y1="2563.50" x2="516.40" y2="2568.00" stroke="#000" stroke-width="2.6" stroke-linecap="butt" />
<line x1="548.80" y1="2563.50" x2="548.80" y2="2568.00" stroke="#000" stroke-width="2.6" stroke-linecap="butt" />
<polyline points="453.00,2561.50 453.40,2561.50 453.80,2561.50 454.20,2561.50 454.60,2561.50 455.00,2561.50 455.40,2561.50 455.80,2561.50 456.20,2561.50 456.60,2561.50 457.00,2561.50 457.40,2561.50 457.80,2561.50 458.20,2561.50 458.60,2561.50 459.00,2561.50 459.40,2561.50 459.80,2561.50 460.20,2561.50 460.60,2561.50 461.00,2561.50 461.40,2561.50 461.80,2561.50 462.20,2561.50 462.60,2561.50 463.00,2561.50 463.40,2561.50 463.80,2561.50 464.20,2561.50 464.60,2561.50 465.00,2561.50 465.40,2561.50 465.80,2561.50 466.20,2561.50 466.60,2561.50 467.00,2561.50 467.40,2561.50 467.80,2561.50 468.20,2561.50 468.60,2561.50 469.00,2561.50 469.40,2561.50 469.80,2561.50 470.20,2561.50 470.60,2561.50 471.00,2561.50 471.40,2561.50 471.80,2561.50 472.20,2561.50 472.60,2561.50 473.00,2561.50 473.40,2561.50 473.80,2561.50 474.20,2561.50 474.60,2561.50 475.00,2561.50 475.40,2561.50 475.80,2561.50 476.20,2561.50 476.60,2561.50 477.00,2561.50 477.40,2561.50 477.80,2561.50 478.20,2561.50 478.60,2561.50 479.00,2561.50 479.40,2561.50 479.80,2561.50 480.20,2561.50 480.60,2561.50 481.00,2561.50 481.40,2561.50 481.80,2561.50 482.20,2561.50 482.60,2561.50 483.00,2561.50 483.40,2561.50 483.80,2561.50 484.20,2561.50 484.60,2561.50 485.00,2561.50 485.40,2561.50 485.80,2561.50 486.20,2561.50 486.60,2561.50 487.00,2561.50 487.40,2561.50 487.80,2561.50 488.20,2561.50 488.60,2561.50 489.00,2561.50 489.40,2561.50 489.80,2561.50 490.20,2561.50 490.60,2561.50 491.00,2561.50 491.40,2561.50 491.80,2561.50 492.20,2561.50 492.60,2561.50 493.00,2561.50 493.40,2561.50 493.80,2561.50 494.20,2561.50 494.60,2561.50 495.00,2561.50 495.40,2561.50 495.80,2561.50 496.20,2561.50 496.60,2561.50 497.00,2561.50 497.40,2561.50 497.80,2561.50 498.20,2561.50 498.60,2561.50 499.00,2561.50 499.40,2561.50 499.80,2561.50 500.20,2561.50 500.60,2561.50 501.00,2561.50 501.40,2561.50 501.80,2561.50 502.20,2561.50 502.60,2561.50 503.00,2561.50 503.40,2561.50 503.80,2561.50 504.20,2561.50 504.60,2561.50 505.00,2561.50 505.40,2561.50 505.80,2561.50 506.20,2561.50 506.60,2561.50 507.00,2561.50 507.40,2561.50 507.80,2561.50 508.20,2561.50 508.60,2561.50 509.00,2561.50 509.40,2561.50 509.80,2561.50 510.20,2561.50 510.60,2561.50 511.00,2561.50 511.40,2561.50 511.80,2561.50 512.20,2561.50 512.60,2561.50 513.00,2561.50 513.40,2561.50 513.80,2561.50 514.20,2561.50 514.60,2561.50 515.00,2561.50 515.40,2561.50 515.80,2561.50 516.20,2561.50 516.60,2561.50 517.00,2561.50 517.40,2561.50 517.80,2561.50 518.20,2561.50 518.60,2561.50 519.00,2561.50 519.40,2561.50 519.80,2561.50 520.20,2561.50 520.60,2561.49 521.00,2561.48 521.40,2561.47 521.80,2561.45 522.20,2561.41 522.60,2561.35 523.00,2561.26 523.40,2561.12 523.80,2560.91 524.20,2560.64 524.60,2560.27 525.00,2559.80 525.40,2559.23 525.80,2558.56 526.20,2557.83 526.60,2557.06 527.00,2556.31 527.40,2555.62 527.80,2555.06 528.20,2554.68 528.60,2554.51 529.00,2554.56 529.40,2554.85 529.80,2555.32 530.20,2555.95 530.60,2556.68 531.00,2557.45 531.40,2558.20 531.80,2558.91 532.20,2559.53 532.60,2560.05 533.00,2560.46 533.40,2560.79 533.80,2561.02 534.20,2561.19 534.60,2561.31 535.00,2561.38 535.40,2561.43 535.80,2561.46 536.20,2561.48 536.60,2561.49 537.00,2561.49 537.40,2561.50 537.80,2561.50 538.20,2561.50 538.60,2561.50 539.00,2561.50 539.40,2561.50 539.80,2561.50 540.20,2561.50 540.60,2561.50 541.00,2561.50 541.40,2561.50 541.80,2561.50 542.20,2561.50 542.60,2561.50 543.00,2561.50 543.40,2561.50 543.80,2561.50 544.20,2561.50 544.60,2561.50 545.00,2561.50 545.40,2561.50 545.80,2561.50 546.20,2561.50 546.60,2561.50 547.00,2561.50 547.40,2561.50 547.80,2561.50 548.20,2561.50 548.60,2561.50 549.00,2561.50 549.40,2561.50 549.80,2561.50 550.20,2561.50 550.60,2561.50 551.00,2561.50 551.40,2561.50 551.80,2561.50 552.20,2561.50 552.60,2561.50 553.00,2561.50 553.40,2561.50 553.80,2561.50 554.20,2561.50 554.60,2561.50 555.00,2561.50 555.40,2561.50 555.80,2561.50 556.20,2561.50 556.60,2561.50 557.00,2561.50 557.40,2561.50 557.80,2561.50 558.20,2561.50 558.60,2561.50 559.00,2561.50 559.40,2561.50 559.80,2561.50 560.20,2561.50 560.60,2561.50 561.00,2561.50 561.40,2561.50 561.80,2561.50 562.20,2561.50 562.60,2561.50 563.00,2561.50 563.40,2561.50 563.80,2561.50 564.20,2561.50 564.60,2561.50 565.00,2561.50 565.40,2561.50 565.80,2561.50 566.20,2561.50 566.60,2561.50" fill="none" stroke="#c9d41e" stroke-width="3.0" stroke-linejoin="round" stroke-linecap="round" stroke-linecap="butt"/>
<line x1="582.90" y1="2531.50" x2="685.20" y2="2531.50" stroke="#000" stroke-width="2.3" stroke-linecap="butt" stroke-dasharray="8.5 7.1"/>
<path d="M578.20,2497.50 Q581.20,2497.00 581.20,2501.00 L581.20,2564.50" fill="none" stroke="#000" stroke-width="3.4" />
<line x1="577.70" y1="2531.50" x2="581.20" y2="2531.50" stroke="#000" stroke-width="3.0" stroke-linecap="butt" />
<line x1="579.50" y1="2564.00" x2="696.70" y2="2564.00" stroke="#000" stroke-width="3.4" stroke-linecap="butt" />
<line x1="613.90" y1="2563.50" x2="613.90" y2="2568.00" stroke="#000" stroke-width="2.6" stroke-linecap="butt" />
<line x1="646.20" y1="2563.50" x2="646.20" y2="2568.00" stroke="#000" stroke-width="2.6" stroke-linecap="butt" />
<line x1="678.60" y1="2563.50" x2="678.60" y2="2568.00" stroke="#000" stroke-width="2.6" stroke-linecap="butt" />
<polyline points="582.80,2561.50 583.20,2561.50 583.60,2561.50 584.00,2561.50 584.40,2561.50 584.80,2561.50 585.20,2561.50 585.60,2561.50 586.00,2561.50 586.40,2561.50 586.80,2561.50 587.20,2561.50 587.60,2561.50 588.00,2561.50 588.40,2561.50 588.80,2561.50 589.20,2561.50 589.60,2561.50 590.00,2561.50 590.40,2561.50 590.80,2561.50 591.20,2561.50 591.60,2561.50 592.00,2561.50 592.40,2561.50 592.80,2561.50 593.20,2561.50 593.60,2561.50 594.00,2561.50 594.40,2561.50 594.80,2561.50 595.20,2561.50 595.60,2561.50 596.00,2561.50 596.40,2561.50 596.80,2561.50 597.20,2561.50 597.60,2561.50 598.00,2561.50 598.40,2561.50 598.80,2561.50 599.20,2561.50 599.60,2561.50 600.00,2561.50 600.40,2561.50 600.80,2561.50 601.20,2561.50 601.60,2561.50 602.00,2561.50 602.40,2561.50 602.80,2561.50 603.20,2561.50 603.60,2561.50 604.00,2561.50 604.40,2561.50 604.80,2561.50 605.20,2561.50 605.60,2561.50 606.00,2561.50 606.40,2561.50 606.80,2561.50 607.20,2561.50 607.60,2561.50 608.00,2561.50 608.40,2561.50 608.80,2561.50 609.20,2561.50 609.60,2561.50 610.00,2561.50 610.40,2561.50 610.80,2561.50 611.20,2561.50 611.60,2561.50 612.00,2561.50 612.40,2561.50 612.80,2561.50 613.20,2561.50 613.60,2561.50 614.00,2561.50 614.40,2561.50 614.80,2561.50 615.20,2561.50 615.60,2561.50 616.00,2561.50 616.40,2561.50 616.80,2561.50 617.20,2561.50 617.60,2561.50 618.00,2561.50 618.40,2561.50 618.80,2561.50 619.20,2561.50 619.60,2561.50 620.00,2561.50 620.40,2561.50 620.80,2561.50 621.20,2561.50 621.60,2561.50 622.00,2561.50 622.40,2561.50 622.80,2561.50 623.20,2561.50 623.60,2561.50 624.00,2561.50 624.40,2561.50 624.80,2561.50 625.20,2561.50 625.60,2561.50 626.00,2561.50 626.40,2561.50 626.80,2561.50 627.20,2561.50 627.60,2561.50 628.00,2561.50 628.40,2561.50 628.80,2561.50 629.20,2561.50 629.60,2561.50 630.00,2561.50 630.40,2561.50 630.80,2561.50 631.20,2561.50 631.60,2561.50 632.00,2561.50 632.40,2561.50 632.80,2561.50 633.20,2561.50 633.60,2561.50 634.00,2561.50 634.40,2561.50 634.80,2561.50 635.20,2561.50 635.60,2561.50 636.00,2561.50 636.40,2561.50 636.80,2561.50 637.20,2561.50 637.60,2561.50 638.00,2561.50 638.40,2561.50 638.80,2561.50 639.20,2561.50 639.60,2561.50 640.00,2561.50 640.40,2561.50 640.80,2561.50 641.20,2561.50 641.60,2561.50 642.00,2561.50 642.40,2561.50 642.80,2561.50 643.20,2561.50 643.60,2561.50 644.00,2561.50 644.40,2561.50 644.80,2561.50 645.20,2561.50 645.60,2561.50 646.00,2561.50 646.40,2561.50 646.80,2561.50 647.20,2561.50 647.60,2561.50 648.00,2561.50 648.40,2561.50 648.80,2561.50 649.20,2561.50 649.60,2561.50 650.00,2561.49 650.40,2561.49 650.80,2561.48 651.20,2561.46 651.60,2561.43 652.00,2561.39 652.40,2561.31 652.80,2561.19 653.20,2561.01 653.60,2560.75 654.00,2560.39 654.40,2559.91 654.80,2559.31 655.20,2558.58 655.60,2557.72 656.00,2556.78 656.40,2555.79 656.80,2554.82 657.20,2553.94 657.60,2553.22 658.00,2552.73 658.40,2552.51 658.80,2552.58 659.20,2552.94 659.60,2553.56 660.00,2554.37 660.40,2555.30 660.80,2556.29 661.20,2557.26 661.60,2558.17 662.00,2558.96 662.40,2559.63 662.80,2560.17 663.20,2560.58 663.60,2560.89 664.00,2561.10 664.40,2561.25 664.80,2561.35 665.20,2561.41 665.60,2561.45 666.00,2561.47 666.40,2561.49 666.80,2561.49 667.20,2561.50 667.60,2561.50 668.00,2561.50 668.40,2561.50 668.80,2561.50 669.20,2561.50 669.60,2561.50 670.00,2561.50 670.40,2561.50 670.80,2561.50 671.20,2561.50 671.60,2561.50 672.00,2561.50 672.40,2561.50 672.80,2561.50 673.20,2561.50 673.60,2561.50 674.00,2561.50 674.40,2561.50 674.80,2561.50 675.20,2561.50 675.60,2561.50 676.00,2561.50 676.40,2561.50 676.80,2561.50 677.20,2561.50 677.60,2561.50 678.00,2561.50 678.40,2561.50 678.80,2561.50 679.20,2561.50 679.60,2561.50 680.00,2561.50 680.40,2561.50 680.80,2561.50 681.20,2561.50 681.60,2561.50 682.00,2561.50 682.40,2561.50 682.80,2561.50 683.20,2561.50 683.60,2561.50 684.00,2561.50 684.40,2561.50 684.80,2561.50 685.20,2561.50 685.60,2561.50 686.00,2561.50 686.40,2561.50 686.80,2561.50 687.20,2561.50 687.60,2561.50 688.00,2561.50 688.40,2561.50 688.80,2561.50 689.20,2561.50 689.60,2561.50 690.00,2561.50 690.40,2561.50 690.80,2561.50 691.20,2561.50 691.60,2561.50 692.00,2561.50 692.40,2561.50 692.80,2561.50 693.20,2561.50 693.60,2561.50 694.00,2561.50 694.40,2561.50 694.80,2561.50 695.20,2561.50 695.60,2561.50 696.00,2561.50 696.40,2561.50" fill="none" stroke="#f07b37" stroke-width="3.0" stroke-linejoin="round" stroke-linecap="round" stroke-linecap="butt"/>
<line x1="707.90" y1="2531.50" x2="810.20" y2="2531.50" stroke="#000" stroke-width="2.3" stroke-linecap="butt" stroke-dasharray="8.5 7.1"/>
<path d="M703.20,2497.50 Q706.20,2497.00 706.20,2501.00 L706.20,2564.50" fill="none" stroke="#000" stroke-width="3.4" />
<line x1="702.70" y1="2531.50" x2="706.20" y2="2531.50" stroke="#000" stroke-width="3.0" stroke-linecap="butt" />
<line x1="704.50" y1="2564.00" x2="821.70" y2="2564.00" stroke="#000" stroke-width="3.4" stroke-linecap="butt" />
<line x1="738.90" y1="2563.50" x2="738.90" y2="2568.00" stroke="#000" stroke-width="2.6" stroke-linecap="butt" />
<line x1="771.20" y1="2563.50" x2="771.20" y2="2568.00" stroke="#000" stroke-width="2.6" stroke-linecap="butt" />
<line x1="803.60" y1="2563.50" x2="803.60" y2="2568.00" stroke="#000" stroke-width="2.6" stroke-linecap="butt" />
<polyline points="707.80,2561.50 708.20,2561.50 708.60,2561.50 709.00,2561.50 709.40,2561.50 709.80,2561.50 710.20,2561.50 710.60,2561.50 711.00,2561.50 711.40,2561.50 711.80,2561.50 712.20,2561.50 712.60,2561.50 713.00,2561.50 713.40,2561.50 713.80,2561.50 714.20,2561.50 714.60,2561.50 715.00,2561.50 715.40,2561.50 715.80,2561.50 716.20,2561.50 716.60,2561.50 717.00,2561.50 717.40,2561.50 717.80,2561.50 718.20,2561.50 718.60,2561.50 719.00,2561.50 719.40,2561.50 719.80,2561.50 720.20,2561.50 720.60,2561.50 721.00,2561.50 721.40,2561.50 721.80,2561.50 722.20,2561.50 722.60,2561.50 723.00,2561.50 723.40,2561.50 723.80,2561.50 724.20,2561.50 724.60,2561.50 725.00,2561.50 725.40,2561.50 725.80,2561.50 726.20,2561.50 726.60,2561.50 727.00,2561.50 727.40,2561.50 727.80,2561.50 728.20,2561.50 728.60,2561.50 729.00,2561.50 729.40,2561.50 729.80,2561.50 730.20,2561.50 730.60,2561.50 731.00,2561.50 731.40,2561.50 731.80,2561.50 732.20,2561.50 732.60,2561.50 733.00,2561.50 733.40,2561.50 733.80,2561.50 734.20,2561.50 734.60,2561.50 735.00,2561.50 735.40,2561.50 735.80,2561.50 736.20,2561.50 736.60,2561.50 737.00,2561.50 737.40,2561.50 737.80,2561.50 738.20,2561.50 738.60,2561.50 739.00,2561.50 739.40,2561.50 739.80,2561.50 740.20,2561.50 740.60,2561.50 741.00,2561.50 741.40,2561.50 741.80,2561.50 742.20,2561.50 742.60,2561.50 743.00,2561.50 743.40,2561.50 743.80,2561.50 744.20,2561.50 744.60,2561.50 745.00,2561.50 745.40,2561.50 745.80,2561.50 746.20,2561.50 746.60,2561.50 747.00,2561.50 747.40,2561.50 747.80,2561.50 748.20,2561.50 748.60,2561.50 749.00,2561.50 749.40,2561.50 749.80,2561.50 750.20,2561.50 750.60,2561.50 751.00,2561.50 751.40,2561.50 751.80,2561.50 752.20,2561.50 752.60,2561.50 753.00,2561.50 753.40,2561.50 753.80,2561.50 754.20,2561.50 754.60,2561.50 755.00,2561.50 755.40,2561.50 755.80,2561.50 756.20,2561.50 756.60,2561.50 757.00,2561.50 757.40,2561.50 757.80,2561.50 758.20,2561.50 758.60,2561.50 759.00,2561.50 759.40,2561.50 759.80,2561.50 760.20,2561.50 760.60,2561.50 761.00,2561.50 761.40,2561.50 761.80,2561.50 762.20,2561.50 762.60,2561.50 763.00,2561.50 763.40,2561.50 763.80,2561.50 764.20,2561.50 764.60,2561.50 765.00,2561.50 765.40,2561.50 765.80,2561.50 766.20,2561.50 766.60,2561.50 767.00,2561.50 767.40,2561.50 767.80,2561.50 768.20,2561.50 768.60,2561.50 769.00,2561.50 769.40,2561.50 769.80,2561.50 770.20,2561.50 770.60,2561.50 771.00,2561.50 771.40,2561.50 771.80,2561.50 772.20,2561.50 772.60,2561.50 773.00,2561.50 773.40,2561.50 773.80,2561.50 774.20,2561.50 774.60,2561.50 775.00,2561.49 775.40,2561.49 775.80,2561.48 776.20,2561.46 776.60,2561.43 777.00,2561.39 777.40,2561.31 777.80,2561.19 778.20,2561.01 778.60,2560.75 779.00,2560.39 779.40,2559.91 779.80,2559.31 780.20,2558.58 780.60,2557.72 781.00,2556.78 781.40,2555.79 781.80,2554.82 782.20,2553.94 782.60,2553.22 783.00,2552.73 783.40,2552.51 783.80,2552.58 784.20,2552.94 784.60,2553.56 785.00,2554.37 785.40,2555.30 785.80,2556.29 786.20,2557.26 786.60,2558.17 787.00,2558.96 787.40,2559.63 787.80,2560.17 788.20,2560.58 788.60,2560.89 789.00,2561.10 789.40,2561.25 789.80,2561.35 790.20,2561.41 790.60,2561.45 791.00,2561.47 791.40,2561.49 791.80,2561.49 792.20,2561.50 792.60,2561.50 793.00,2561.50 793.40,2561.50 793.80,2561.50 794.20,2561.50 794.60,2561.50 795.00,2561.50 795.40,2561.50 795.80,2561.50 796.20,2561.50 796.60,2561.50 797.00,2561.50 797.40,2561.50 797.80,2561.50 798.20,2561.50 798.60,2561.50 799.00,2561.50 799.40,2561.50 799.80,2561.50 800.20,2561.50 800.60,2561.50 801.00,2561.50 801.40,2561.50 801.80,2561.50 802.20,2561.50 802.60,2561.50 803.00,2561.50 803.40,2561.50 803.80,2561.50 804.20,2561.50 804.60,2561.50 805.00,2561.50 805.40,2561.50 805.80,2561.50 806.20,2561.50 806.60,2561.50 807.00,2561.50 807.40,2561.50 807.80,2561.50 808.20,2561.50 808.60,2561.50 809.00,2561.50 809.40,2561.50 809.80,2561.50 810.20,2561.50 810.60,2561.50 811.00,2561.50 811.40,2561.50 811.80,2561.50 812.20,2561.50 812.60,2561.50 813.00,2561.50 813.40,2561.50 813.80,2561.50 814.20,2561.50 814.60,2561.50 815.00,2561.50 815.40,2561.50 815.80,2561.50 816.20,2561.50 816.60,2561.50 817.00,2561.50 817.40,2561.50 817.80,2561.50 818.20,2561.50 818.60,2561.50 819.00,2561.50 819.40,2561.50 819.80,2561.50 820.20,2561.50 820.60,2561.50 821.00,2561.50 821.40,2561.50" fill="none" stroke="#2e9444" stroke-width="3.0" stroke-linejoin="round" stroke-linecap="round" stroke-linecap="butt"/>
<line x1="836.50" y1="2531.50" x2="938.80" y2="2531.50" stroke="#000" stroke-width="2.3" stroke-linecap="butt" stroke-dasharray="8.5 7.1"/>
<path d="M831.80,2497.50 Q834.80,2497.00 834.80,2501.00 L834.80,2564.50" fill="none" stroke="#000" stroke-width="3.4" />
<line x1="831.30" y1="2531.50" x2="834.80" y2="2531.50" stroke="#000" stroke-width="3.0" stroke-linecap="butt" />
<line x1="833.10" y1="2564.00" x2="950.30" y2="2564.00" stroke="#000" stroke-width="3.4" stroke-linecap="butt" />
<line x1="867.50" y1="2563.50" x2="867.50" y2="2568.00" stroke="#000" stroke-width="2.6" stroke-linecap="butt" />
<line x1="899.80" y1="2563.50" x2="899.80" y2="2568.00" stroke="#000" stroke-width="2.6" stroke-linecap="butt" />
<line x1="932.20" y1="2563.50" x2="932.20" y2="2568.00" stroke="#000" stroke-width="2.6" stroke-linecap="butt" />
<polyline points="836.40,2561.50 836.80,2561.50 837.20,2561.50 837.60,2561.50 838.00,2561.50 838.40,2561.50 838.80,2561.50 839.20,2561.50 839.60,2561.50 840.00,2561.50 840.40,2561.50 840.80,2561.50 841.20,2561.50 841.60,2561.50 842.00,2561.50 842.40,2561.50 842.80,2561.50 843.20,2561.50 843.60,2561.50 844.00,2561.50 844.40,2561.50 844.80,2561.50 845.20,2561.50 845.60,2561.50 846.00,2561.50 846.40,2561.50 846.80,2561.50 847.20,2561.50 847.60,2561.50 848.00,2561.50 848.40,2561.50 848.80,2561.50 849.20,2561.50 849.60,2561.50 850.00,2561.50 850.40,2561.50 850.80,2561.50 851.20,2561.50 851.60,2561.50 852.00,2561.50 852.40,2561.50 852.80,2561.50 853.20,2561.50 853.60,2561.50 854.00,2561.50 854.40,2561.50 854.80,2561.50 855.20,2561.50 855.60,2561.50 856.00,2561.50 856.40,2561.50 856.80,2561.50 857.20,2561.50 857.60,2561.50 858.00,2561.50 858.40,2561.50 858.80,2561.50 859.20,2561.50 859.60,2561.50 860.00,2561.50 860.40,2561.50 860.80,2561.50 861.20,2561.50 861.60,2561.50 862.00,2561.50 862.40,2561.50 862.80,2561.50 863.20,2561.50 863.60,2561.50 864.00,2561.50 864.40,2561.50 864.80,2561.50 865.20,2561.50 865.60,2561.50 866.00,2561.50 866.40,2561.50 866.80,2561.50 867.20,2561.50 867.60,2561.50 868.00,2561.50 868.40,2561.50 868.80,2561.50 869.20,2561.50 869.60,2561.50 870.00,2561.50 870.40,2561.50 870.80,2561.50 871.20,2561.50 871.60,2561.50 872.00,2561.50 872.40,2561.50 872.80,2561.50 873.20,2561.50 873.60,2561.50 874.00,2561.50 874.40,2561.50 874.80,2561.50 875.20,2561.50 875.60,2561.50 876.00,2561.50 876.40,2561.50 876.80,2561.50 877.20,2561.50 877.60,2561.50 878.00,2561.50 878.40,2561.50 878.80,2561.50 879.20,2561.50 879.60,2561.50 880.00,2561.50 880.40,2561.50 880.80,2561.50 881.20,2561.50 881.60,2561.50 882.00,2561.50 882.40,2561.50 882.80,2561.50 883.20,2561.50 883.60,2561.50 884.00,2561.50 884.40,2561.50 884.80,2561.50 885.20,2561.50 885.60,2561.50 886.00,2561.50 886.40,2561.50 886.80,2561.50 887.20,2561.50 887.60,2561.50 888.00,2561.50 888.40,2561.50 888.80,2561.50 889.20,2561.50 889.60,2561.50 890.00,2561.50 890.40,2561.50 890.80,2561.50 891.20,2561.50 891.60,2561.50 892.00,2561.50 892.40,2561.50 892.80,2561.50 893.20,2561.50 893.60,2561.50 894.00,2561.50 894.40,2561.50 894.80,2561.50 895.20,2561.50 895.60,2561.50 896.00,2561.50 896.40,2561.50 896.80,2561.50 897.20,2561.50 897.60,2561.50 898.00,2561.50 898.40,2561.50 898.80,2561.50 899.20,2561.50 899.60,2561.50 900.00,2561.50 900.40,2561.50 900.80,2561.50 901.20,2561.50 901.60,2561.50 902.00,2561.50 902.40,2561.50 902.80,2561.50 903.20,2561.50 903.60,2561.50 904.00,2561.49 904.40,2561.49 904.80,2561.48 905.20,2561.46 905.60,2561.42 906.00,2561.37 906.40,2561.29 906.80,2561.17 907.20,2561.00 907.60,2560.76 908.00,2560.44 908.40,2560.04 908.80,2559.55 909.20,2558.98 909.60,2558.35 910.00,2557.70 910.40,2557.05 910.80,2556.46 911.20,2555.98 911.60,2555.65 912.00,2555.51 912.40,2555.56 912.80,2555.80 913.20,2556.21 913.60,2556.74 914.00,2557.37 914.40,2558.03 914.80,2558.67 915.20,2559.28 915.60,2559.81 916.00,2560.25 916.40,2560.61 916.80,2560.89 917.20,2561.09 917.60,2561.24 918.00,2561.34 918.40,2561.40 918.80,2561.44 919.20,2561.47 919.60,2561.48 920.00,2561.49 920.40,2561.50 920.80,2561.50 921.20,2561.50 921.60,2561.50 922.00,2561.50 922.40,2561.50 922.80,2561.50 923.20,2561.50 923.60,2561.50 924.00,2561.50 924.40,2561.50 924.80,2561.50 925.20,2561.50 925.60,2561.50 926.00,2561.50 926.40,2561.50 926.80,2561.50 927.20,2561.50 927.60,2561.50 928.00,2561.50 928.40,2561.50 928.80,2561.50 929.20,2561.50 929.60,2561.50 930.00,2561.50 930.40,2561.50 930.80,2561.50 931.20,2561.50 931.60,2561.50 932.00,2561.50 932.40,2561.50 932.80,2561.50 933.20,2561.50 933.60,2561.50 934.00,2561.50 934.40,2561.50 934.80,2561.50 935.20,2561.50 935.60,2561.50 936.00,2561.50 936.40,2561.50 936.80,2561.50 937.20,2561.50 937.60,2561.50 938.00,2561.50 938.40,2561.50 938.80,2561.50 939.20,2561.50 939.60,2561.50 940.00,2561.50 940.40,2561.50 940.80,2561.50 941.20,2561.50 941.60,2561.50 942.00,2561.50 942.40,2561.50 942.80,2561.50 943.20,2561.50 943.60,2561.50 944.00,2561.50 944.40,2561.50 944.80,2561.50 945.20,2561.50 945.60,2561.50 946.00,2561.50 946.40,2561.50 946.80,2561.50 947.20,2561.50 947.60,2561.50 948.00,2561.50 948.40,2561.50 948.80,2561.50 949.20,2561.50 949.60,2561.50 950.00,2561.50" fill="none" stroke="#b41218" stroke-width="3.0" stroke-linejoin="round" stroke-linecap="round" stroke-linecap="butt"/>
<line x1="327.40" y1="2614.50" x2="429.70" y2="2614.50" stroke="#000" stroke-width="2.3" stroke-linecap="butt" stroke-dasharray="8.5 7.1"/>
<path d="M322.70,2580.50 Q325.70,2580.00 325.70,2584.00 L325.70,2647.50" fill="none" stroke="#000" stroke-width="3.4" />
<line x1="322.20" y1="2614.50" x2="325.70" y2="2614.50" stroke="#000" stroke-width="3.0" stroke-linecap="butt" />
<line x1="324.00" y1="2647.00" x2="441.20" y2="2647.00" stroke="#000" stroke-width="3.4" stroke-linecap="butt" />
<line x1="358.40" y1="2646.50" x2="358.40" y2="2651.00" stroke="#000" stroke-width="2.6" stroke-linecap="butt" />
<line x1="390.70" y1="2646.50" x2="390.70" y2="2651.00" stroke="#000" stroke-width="2.6" stroke-linecap="butt" />
<line x1="423.10" y1="2646.50" x2="423.10" y2="2651.00" stroke="#000" stroke-width="2.6" stroke-linecap="butt" />
<polyline points="327.30,2644.50 327.70,2644.50 328.10,2644.50 328.50,2644.50 328.90,2644.50 329.30,2644.50 329.70,2644.50 330.10,2644.50 330.50,2644.50 330.90,2644.50 331.30,2644.50 331.70,2644.50 332.10,2644.50 332.50,2644.50 332.90,2644.50 333.30,2644.50 333.70,2644.50 334.10,2644.50 334.50,2644.50 334.90,2644.50 335.30,2644.50 335.70,2644.50 336.10,2644.50 336.50,2644.50 336.90,2644.50 337.30,2644.50 337.70,2644.50 338.10,2644.50 338.50,2644.50 338.90,2644.50 339.30,2644.50 339.70,2644.50 340.10,2644.50 340.50,2644.50 340.90,2644.50 341.30,2644.50 341.70,2644.50 342.10,2644.50 342.50,2644.50 342.90,2644.50 343.30,2644.50 343.70,2644.50 344.10,2644.50 344.50,2644.50 344.90,2644.50 345.30,2644.50 345.70,2644.50 346.10,2644.50 346.50,2644.50 346.90,2644.50 347.30,2644.50 347.70,2644.50 348.10,2644.50 348.50,2644.50 348.90,2644.50 349.30,2644.50 349.70,2644.50 350.10,2644.50 350.50,2644.50 350.90,2644.50 351.30,2644.50 351.70,2644.50 352.10,2644.50 352.50,2644.50 352.90,2644.50 353.30,2644.50 353.70,2644.50 354.10,2644.50 354.50,2644.50 354.90,2644.50 355.30,2644.50 355.70,2644.50 356.10,2644.50 356.50,2644.50 356.90,2644.50 357.30,2644.50 357.70,2644.50 358.10,2644.50 358.50,2644.50 358.90,2644.50 359.30,2644.50 359.70,2644.50 360.10,2644.50 360.50,2644.50 360.90,2644.50 361.30,2644.50 361.70,2644.50 362.10,2644.50 362.50,2644.50 362.90,2644.50 363.30,2644.50 363.70,2644.50 364.10,2644.50 364.50,2644.50 364.90,2644.50 365.30,2644.50 365.70,2644.50 366.10,2644.50 366.50,2644.50 366.90,2644.50 367.30,2644.50 367.70,2644.50 368.10,2644.50 368.50,2644.50 368.90,2644.50 369.30,2644.50 369.70,2644.50 370.10,2644.50 370.50,2644.50 370.90,2644.50 371.30,2644.50 371.70,2644.50 372.10,2644.50 372.50,2644.50 372.90,2644.50 373.30,2644.50 373.70,2644.50 374.10,2644.50 374.50,2644.50 374.90,2644.50 375.30,2644.50 375.70,2644.50 376.10,2644.50 376.50,2644.50 376.90,2644.50 377.30,2644.50 377.70,2644.50 378.10,2644.50 378.50,2644.50 378.90,2644.50 379.30,2644.50 379.70,2644.50 380.10,2644.50 380.50,2644.50 380.90,2644.50 381.30,2644.50 381.70,2644.50 382.10,2644.50 382.50,2644.50 382.90,2644.50 383.30,2644.50 383.70,2644.50 384.10,2644.50 384.50,2644.50 384.90,2644.50 385.30,2644.50 385.70,2644.50 386.10,2644.50 386.50,2644.50 386.90,2644.50 387.30,2644.50 387.70,2644.50 388.10,2644.50 388.50,2644.50 388.90,2644.50 389.30,2644.50 389.70,2644.50 390.10,2644.50 390.50,2644.50 390.90,2644.50 391.30,2644.50 391.70,2644.50 392.10,2644.50 392.50,2644.50 392.90,2644.50 393.30,2644.50 393.70,2644.50 394.10,2644.50 394.50,2644.49 394.90,2644.49 395.30,2644.48 395.70,2644.46 396.10,2644.43 396.50,2644.39 396.90,2644.31 397.30,2644.19 397.70,2644.01 398.10,2643.75 398.50,2643.39 398.90,2642.91 399.30,2642.31 399.70,2641.58 400.10,2640.72 400.50,2639.78 400.90,2638.79 401.30,2637.82 401.70,2636.94 402.10,2636.22 402.50,2635.73 402.90,2635.51 403.30,2635.58 403.70,2635.94 404.10,2636.56 404.50,2637.37 404.90,2638.30 405.30,2639.29 405.70,2640.26 406.10,2641.17 406.50,2641.96 406.90,2642.63 407.30,2643.17 407.70,2643.58 408.10,2643.89 408.50,2644.10 408.90,2644.25 409.30,2644.35 409.70,2644.41 410.10,2644.45 410.50,2644.47 410.90,2644.49 411.30,2644.49 411.70,2644.50 412.10,2644.50 412.50,2644.50 412.90,2644.50 413.30,2644.50 413.70,2644.50 414.10,2644.50 414.50,2644.50 414.90,2644.50 415.30,2644.50 415.70,2644.50 416.10,2644.50 416.50,2644.50 416.90,2644.50 417.30,2644.50 417.70,2644.50 418.10,2644.50 418.50,2644.50 418.90,2644.50 419.30,2644.50 419.70,2644.50 420.10,2644.50 420.50,2644.50 420.90,2644.50 421.30,2644.50 421.70,2644.50 422.10,2644.50 422.50,2644.50 422.90,2644.50 423.30,2644.50 423.70,2644.50 424.10,2644.50 424.50,2644.50 424.90,2644.50 425.30,2644.50 425.70,2644.50 426.10,2644.50 426.50,2644.50 426.90,2644.50 427.30,2644.50 427.70,2644.50 428.10,2644.50 428.50,2644.50 428.90,2644.50 429.30,2644.50 429.70,2644.50 430.10,2644.50 430.50,2644.50 430.90,2644.50 431.30,2644.50 431.70,2644.50 432.10,2644.50 432.50,2644.50 432.90,2644.50 433.30,2644.50 433.70,2644.50 434.10,2644.50 434.50,2644.50 434.90,2644.50 435.30,2644.50 435.70,2644.50 436.10,2644.50 436.50,2644.50 436.90,2644.50 437.30,2644.50 437.70,2644.50 438.10,2644.50 438.50,2644.50 438.90,2644.50 439.30,2644.50 439.70,2644.50 440.10,2644.50 440.50,2644.50 440.90,2644.50" fill="none" stroke="#1e5b9c" stroke-width="3.0" stroke-linejoin="round" stroke-linecap="round" stroke-linecap="butt"/>
<line x1="453.10" y1="2614.50" x2="555.40" y2="2614.50" stroke="#000" stroke-width="2.3" stroke-linecap="butt" stroke-dasharray="8.5 7.1"/>
<path d="M448.40,2580.50 Q451.40,2580.00 451.40,2584.00 L451.40,2647.50" fill="none" stroke="#000" stroke-width="3.4" />
<line x1="447.90" y1="2614.50" x2="451.40" y2="2614.50" stroke="#000" stroke-width="3.0" stroke-linecap="butt" />
<line x1="449.70" y1="2647.00" x2="566.90" y2="2647.00" stroke="#000" stroke-width="3.4" stroke-linecap="butt" />
<line x1="484.10" y1="2646.50" x2="484.10" y2="2651.00" stroke="#000" stroke-width="2.6" stroke-linecap="butt" />
<line x1="516.40" y1="2646.50" x2="516.40" y2="2651.00" stroke="#000" stroke-width="2.6" stroke-linecap="butt" />
<line x1="548.80" y1="2646.50" x2="548.80" y2="2651.00" stroke="#000" stroke-width="2.6" stroke-linecap="butt" />
<polyline points="453.00,2644.50 453.40,2644.50 453.80,2644.50 454.20,2644.50 454.60,2644.50 455.00,2644.50 455.40,2644.50 455.80,2644.50 456.20,2644.50 456.60,2644.50 457.00,2644.50 457.40,2644.50 457.80,2644.50 458.20,2644.50 458.60,2644.50 459.00,2644.50 459.40,2644.50 459.80,2644.50 460.20,2644.50 460.60,2644.50 461.00,2644.50 461.40,2644.50 461.80,2644.50 462.20,2644.50 462.60,2644.50 463.00,2644.50 463.40,2644.50 463.80,2644.50 464.20,2644.50 464.60,2644.50 465.00,2644.50 465.40,2644.50 465.80,2644.50 466.20,2644.50 466.60,2644.50 467.00,2644.50 467.40,2644.50 467.80,2644.50 468.20,2644.50 468.60,2644.50 469.00,2644.50 469.40,2644.50 469.80,2644.50 470.20,2644.50 470.60,2644.50 471.00,2644.50 471.40,2644.50 471.80,2644.50 472.20,2644.50 472.60,2644.50 473.00,2644.50 473.40,2644.50 473.80,2644.50 474.20,2644.50 474.60,2644.50 475.00,2644.50 475.40,2644.50 475.80,2644.50 476.20,2644.50 476.60,2644.50 477.00,2644.50 477.40,2644.50 477.80,2644.50 478.20,2644.50 478.60,2644.50 479.00,2644.50 479.40,2644.50 479.80,2644.50 480.20,2644.50 480.60,2644.50 481.00,2644.50 481.40,2644.50 481.80,2644.50 482.20,2644.50 482.60,2644.50 483.00,2644.50 483.40,2644.50 483.80,2644.50 484.20,2644.50 484.60,2644.50 485.00,2644.50 485.40,2644.50 485.80,2644.50 486.20,2644.50 486.60,2644.50 487.00,2644.50 487.40,2644.50 487.80,2644.50 488.20,2644.50 488.60,2644.50 489.00,2644.50 489.40,2644.50 489.80,2644.50 490.20,2644.50 490.60,2644.50 491.00,2644.50 491.40,2644.50 491.80,2644.50 492.20,2644.50 492.60,2644.50 493.00,2644.50 493.40,2644.50 493.80,2644.50 494.20,2644.50 494.60,2644.50 495.00,2644.50 495.40,2644.50 495.80,2644.50 496.20,2644.50 496.60,2644.50 497.00,2644.50 497.40,2644.50 497.80,2644.50 498.20,2644.50 498.60,2644.50 499.00,2644.50 499.40,2644.50 499.80,2644.50 500.20,2644.50 500.60,2644.50 501.00,2644.50 501.40,2644.50 501.80,2644.50 502.20,2644.50 502.60,2644.50 503.00,2644.50 503.40,2644.50 503.80,2644.50 504.20,2644.50 504.60,2644.50 505.00,2644.50 505.40,2644.50 505.80,2644.50 506.20,2644.50 506.60,2644.50 507.00,2644.50 507.40,2644.50 507.80,2644.50 508.20,2644.50 508.60,2644.50 509.00,2644.50 509.40,2644.50 509.80,2644.50 510.20,2644.50 510.60,2644.50 511.00,2644.50 511.40,2644.50 511.80,2644.50 512.20,2644.50 512.60,2644.50 513.00,2644.50 513.40,2644.50 513.80,2644.50 514.20,2644.50 514.60,2644.50 515.00,2644.50 515.40,2644.50 515.80,2644.50 516.20,2644.50 516.60,2644.50 517.00,2644.50 517.40,2644.50 517.80,2644.50 518.20,2644.50 518.60,2644.50 519.00,2644.50 519.40,2644.50 519.80,2644.50 520.20,2644.50 520.60,2644.49 521.00,2644.49 521.40,2644.48 521.80,2644.46 522.20,2644.42 522.60,2644.37 523.00,2644.29 523.40,2644.17 523.80,2644.00 524.20,2643.76 524.60,2643.44 525.00,2643.04 525.40,2642.55 525.80,2641.98 526.20,2641.35 526.60,2640.70 527.00,2640.05 527.40,2639.46 527.80,2638.98 528.20,2638.65 528.60,2638.51 529.00,2638.56 529.40,2638.80 529.80,2639.21 530.20,2639.74 530.60,2640.37 531.00,2641.03 531.40,2641.67 531.80,2642.28 532.20,2642.81 532.60,2643.25 533.00,2643.61 533.40,2643.89 533.80,2644.09 534.20,2644.24 534.60,2644.34 535.00,2644.40 535.40,2644.44 535.80,2644.47 536.20,2644.48 536.60,2644.49 537.00,2644.50 537.40,2644.50 537.80,2644.50 538.20,2644.50 538.60,2644.50 539.00,2644.50 539.40,2644.50 539.80,2644.50 540.20,2644.50 540.60,2644.50 541.00,2644.50 541.40,2644.50 541.80,2644.50 542.20,2644.50 542.60,2644.50 543.00,2644.50 543.40,2644.50 543.80,2644.50 544.20,2644.50 544.60,2644.50 545.00,2644.50 545.40,2644.50 545.80,2644.50 546.20,2644.50 546.60,2644.50 547.00,2644.50 547.40,2644.50 547.80,2644.50 548.20,2644.50 548.60,2644.50 549.00,2644.50 549.40,2644.50 549.80,2644.50 550.20,2644.50 550.60,2644.50 551.00,2644.50 551.40,2644.50 551.80,2644.50 552.20,2644.50 552.60,2644.50 553.00,2644.50 553.40,2644.50 553.80,2644.50 554.20,2644.50 554.60,2644.50 555.00,2644.50 555.40,2644.50 555.80,2644.50 556.20,2644.50 556.60,2644.50 557.00,2644.50 557.40,2644.50 557.80,2644.50 558.20,2644.50 558.60,2644.50 559.00,2644.50 559.40,2644.50 559.80,2644.50 560.20,2644.50 560.60,2644.50 561.00,2644.50 561.40,2644.50 561.80,2644.50 562.20,2644.50 562.60,2644.50 563.00,2644.50 563.40,2644.50 563.80,2644.50 564.20,2644.50 564.60,2644.50 565.00,2644.50 565.40,2644.50 565.80,2644.50 566.20,2644.50 566.60,2644.50" fill="none" stroke="#c9d41e" stroke-width="3.0" stroke-linejoin="round" stroke-linecap="round" stroke-linecap="butt"/>
<line x1="582.90" y1="2614.50" x2="685.20" y2="2614.50" stroke="#000" stroke-width="2.3" stroke-linecap="butt" stroke-dasharray="8.5 7.1"/>
<path d="M578.20,2580.50 Q581.20,2580.00 581.20,2584.00 L581.20,2647.50" fill="none" stroke="#000" stroke-width="3.4" />
<line x1="577.70" y1="2614.50" x2="581.20" y2="2614.50" stroke="#000" stroke-width="3.0" stroke-linecap="butt" />
<line x1="579.50" y1="2647.00" x2="696.70" y2="2647.00" stroke="#000" stroke-width="3.4" stroke-linecap="butt" />
<line x1="613.90" y1="2646.50" x2="613.90" y2="2651.00" stroke="#000" stroke-width="2.6" stroke-linecap="butt" />
<line x1="646.20" y1="2646.50" x2="646.20" y2="2651.00" stroke="#000" stroke-width="2.6" stroke-linecap="butt" />
<line x1="678.60" y1="2646.50" x2="678.60" y2="2651.00" stroke="#000" stroke-width="2.6" stroke-linecap="butt" />
<polyline points="582.80,2644.50 583.20,2644.50 583.60,2644.50 584.00,2644.50 584.40,2644.50 584.80,2644.50 585.20,2644.50 585.60,2644.50 586.00,2644.50 586.40,2644.50 586.80,2644.50 587.20,2644.50 587.60,2644.50 588.00,2644.50 588.40,2644.50 588.80,2644.50 589.20,2644.50 589.60,2644.50 590.00,2644.50 590.40,2644.50 590.80,2644.50 591.20,2644.50 591.60,2644.50 592.00,2644.50 592.40,2644.50 592.80,2644.50 593.20,2644.50 593.60,2644.50 594.00,2644.50 594.40,2644.50 594.80,2644.50 595.20,2644.50 595.60,2644.50 596.00,2644.50 596.40,2644.50 596.80,2644.50 597.20,2644.50 597.60,2644.50 598.00,2644.50 598.40,2644.50 598.80,2644.50 599.20,2644.50 599.60,2644.50 600.00,2644.50 600.40,2644.50 600.80,2644.50 601.20,2644.50 601.60,2644.50 602.00,2644.50 602.40,2644.50 602.80,2644.50 603.20,2644.50 603.60,2644.50 604.00,2644.50 604.40,2644.50 604.80,2644.50 605.20,2644.50 605.60,2644.50 606.00,2644.50 606.40,2644.50 606.80,2644.50 607.20,2644.50 607.60,2644.50 608.00,2644.50 608.40,2644.50 608.80,2644.50 609.20,2644.50 609.60,2644.50 610.00,2644.50 610.40,2644.50 610.80,2644.50 611.20,2644.50 611.60,2644.50 612.00,2644.50 612.40,2644.50 612.80,2644.50 613.20,2644.50 613.60,2644.50 614.00,2644.50 614.40,2644.50 614.80,2644.50 615.20,2644.50 615.60,2644.50 616.00,2644.50 616.40,2644.50 616.80,2644.50 617.20,2644.50 617.60,2644.50 618.00,2644.50 618.40,2644.50 618.80,2644.50 619.20,2644.50 619.60,2644.50 620.00,2644.50 620.40,2644.50 620.80,2644.50 621.20,2644.50 621.60,2644.50 622.00,2644.50 622.40,2644.50 622.80,2644.50 623.20,2644.50 623.60,2644.50 624.00,2644.50 624.40,2644.50 624.80,2644.50 625.20,2644.50 625.60,2644.50 626.00,2644.50 626.40,2644.50 626.80,2644.50 627.20,2644.50 627.60,2644.50 628.00,2644.50 628.40,2644.50 628.80,2644.50 629.20,2644.50 629.60,2644.50 630.00,2644.50 630.40,2644.50 630.80,2644.50 631.20,2644.50 631.60,2644.50 632.00,2644.50 632.40,2644.50 632.80,2644.50 633.20,2644.50 633.60,2644.50 634.00,2644.50 634.40,2644.50 634.80,2644.50 635.20,2644.50 635.60,2644.50 636.00,2644.50 636.40,2644.50 636.80,2644.50 637.20,2644.50 637.60,2644.50 638.00,2644.50 638.40,2644.50 638.80,2644.50 639.20,2644.50 639.60,2644.50 640.00,2644.50 640.40,2644.50 640.80,2644.50 641.20,2644.50 641.60,2644.50 642.00,2644.50 642.40,2644.50 642.80,2644.50 643.20,2644.50 643.60,2644.50 644.00,2644.50 644.40,2644.50 644.80,2644.50 645.20,2644.50 645.60,2644.50 646.00,2644.50 646.40,2644.50 646.80,2644.50 647.20,2644.50 647.60,2644.50 648.00,2644.50 648.40,2644.50 648.80,2644.50 649.20,2644.50 649.60,2644.50 650.00,2644.50 650.40,2644.49 650.80,2644.49 651.20,2644.48 651.60,2644.46 652.00,2644.42 652.40,2644.37 652.80,2644.29 653.20,2644.17 653.60,2644.00 654.00,2643.76 654.40,2643.44 654.80,2643.04 655.20,2642.55 655.60,2641.98 656.00,2641.35 656.40,2640.70 656.80,2640.05 657.20,2639.46 657.60,2638.98 658.00,2638.65 658.40,2638.51 658.80,2638.56 659.20,2638.80 659.60,2639.21 660.00,2639.74 660.40,2640.37 660.80,2641.03 661.20,2641.67 661.60,2642.28 662.00,2642.81 662.40,2643.25 662.80,2643.61 663.20,2643.89 663.60,2644.09 664.00,2644.24 664.40,2644.34 664.80,2644.40 665.20,2644.44 665.60,2644.47 666.00,2644.48 666.40,2644.49 666.80,2644.50 667.20,2644.50 667.60,2644.50 668.00,2644.50 668.40,2644.50 668.80,2644.50 669.20,2644.50 669.60,2644.50 670.00,2644.50 670.40,2644.50 670.80,2644.50 671.20,2644.50 671.60,2644.50 672.00,2644.50 672.40,2644.50 672.80,2644.50 673.20,2644.50 673.60,2644.50 674.00,2644.50 674.40,2644.50 674.80,2644.50 675.20,2644.50 675.60,2644.50 676.00,2644.50 676.40,2644.50 676.80,2644.50 677.20,2644.50 677.60,2644.50 678.00,2644.50 678.40,2644.50 678.80,2644.50 679.20,2644.50 679.60,2644.50 680.00,2644.50 680.40,2644.50 680.80,2644.50 681.20,2644.50 681.60,2644.50 682.00,2644.50 682.40,2644.50 682.80,2644.50 683.20,2644.50 683.60,2644.50 684.00,2644.50 684.40,2644.50 684.80,2644.50 685.20,2644.50 685.60,2644.50 686.00,2644.50 686.40,2644.50 686.80,2644.50 687.20,2644.50 687.60,2644.50 688.00,2644.50 688.40,2644.50 688.80,2644.50 689.20,2644.50 689.60,2644.50 690.00,2644.50 690.40,2644.50 690.80,2644.50 691.20,2644.50 691.60,2644.50 692.00,2644.50 692.40,2644.50 692.80,2644.50 693.20,2644.50 693.60,2644.50 694.00,2644.50 694.40,2644.50 694.80,2644.50 695.20,2644.50 695.60,2644.50 696.00,2644.50 696.40,2644.50" fill="none" stroke="#f07b37" stroke-width="3.0" stroke-linejoin="round" stroke-linecap="round" stroke-linecap="butt"/>
<line x1="707.90" y1="2614.50" x2="810.20" y2="2614.50" stroke="#000" stroke-width="2.3" stroke-linecap="butt" stroke-dasharray="8.5 7.1"/>
<path d="M703.20,2580.50 Q706.20,2580.00 706.20,2584.00 L706.20,2647.50" fill="none" stroke="#000" stroke-width="3.4" />
<line x1="702.70" y1="2614.50" x2="706.20" y2="2614.50" stroke="#000" stroke-width="3.0" stroke-linecap="butt" />
<line x1="704.50" y1="2647.00" x2="821.70" y2="2647.00" stroke="#000" stroke-width="3.4" stroke-linecap="butt" />
<line x1="738.90" y1="2646.50" x2="738.90" y2="2651.00" stroke="#000" stroke-width="2.6" stroke-linecap="butt" />
<line x1="771.20" y1="2646.50" x2="771.20" y2="2651.00" stroke="#000" stroke-width="2.6" stroke-linecap="butt" />
<line x1="803.60" y1="2646.50" x2="803.60" y2="2651.00" stroke="#000" stroke-width="2.6" stroke-linecap="butt" />
<polyline points="707.80,2644.50 708.20,2644.50 708.60,2644.50 709.00,2644.50 709.40,2644.50 709.80,2644.50 710.20,2644.50 710.60,2644.50 711.00,2644.50 711.40,2644.50 711.80,2644.50 712.20,2644.50 712.60,2644.50 713.00,2644.50 713.40,2644.50 713.80,2644.50 714.20,2644.50 714.60,2644.50 715.00,2644.50 715.40,2644.50 715.80,2644.50 716.20,2644.50 716.60,2644.50 717.00,2644.50 717.40,2644.50 717.80,2644.50 718.20,2644.50 718.60,2644.50 719.00,2644.50 719.40,2644.50 719.80,2644.50 720.20,2644.50 720.60,2644.50 721.00,2644.50 721.40,2644.50 721.80,2644.50 722.20,2644.50 722.60,2644.50 723.00,2644.50 723.40,2644.50 723.80,2644.50 724.20,2644.50 724.60,2644.50 725.00,2644.50 725.40,2644.50 725.80,2644.50 726.20,2644.50 726.60,2644.50 727.00,2644.50 727.40,2644.50 727.80,2644.50 728.20,2644.50 728.60,2644.50 729.00,2644.50 729.40,2644.50 729.80,2644.50 730.20,2644.50 730.60,2644.50 731.00,2644.50 731.40,2644.50 731.80,2644.50 732.20,2644.50 732.60,2644.50 733.00,2644.50 733.40,2644.50 733.80,2644.50 734.20,2644.50 734.60,2644.50 735.00,2644.50 735.40,2644.50 735.80,2644.50 736.20,2644.50 736.60,2644.50 737.00,2644.50 737.40,2644.50 737.80,2644.50 738.20,2644.50 738.60,2644.50 739.00,2644.50 739.40,2644.50 739.80,2644.50 740.20,2644.50 740.60,2644.50 741.00,2644.50 741.40,2644.50 741.80,2644.50 742.20,2644.50 742.60,2644.50 743.00,2644.50 743.40,2644.50 743.80,2644.50 744.20,2644.50 744.60,2644.50 745.00,2644.50 745.40,2644.50 745.80,2644.50 746.20,2644.50 746.60,2644.50 747.00,2644.50 747.40,2644.50 747.80,2644.50 748.20,2644.50 748.60,2644.50 749.00,2644.50 749.40,2644.50 749.80,2644.50 750.20,2644.50 750.60,2644.50 751.00,2644.50 751.40,2644.50 751.80,2644.50 752.20,2644.50 752.60,2644.50 753.00,2644.50 753.40,2644.50 753.80,2644.50 754.20,2644.50 754.60,2644.50 755.00,2644.50 755.40,2644.50 755.80,2644.50 756.20,2644.50 756.60,2644.50 757.00,2644.50 757.40,2644.50 757.80,2644.50 758.20,2644.50 758.60,2644.50 759.00,2644.50 759.40,2644.50 759.80,2644.50 760.20,2644.50 760.60,2644.50 761.00,2644.50 761.40,2644.50 761.80,2644.50 762.20,2644.50 762.60,2644.50 763.00,2644.50 763.40,2644.50 763.80,2644.50 764.20,2644.50 764.60,2644.50 765.00,2644.50 765.40,2644.50 765.80,2644.50 766.20,2644.50 766.60,2644.50 767.00,2644.50 767.40,2644.50 767.80,2644.50 768.20,2644.50 768.60,2644.50 769.00,2644.50 769.40,2644.50 769.80,2644.50 770.20,2644.50 770.60,2644.50 771.00,2644.50 771.40,2644.50 771.80,2644.50 772.20,2644.50 772.60,2644.50 773.00,2644.50 773.40,2644.50 773.80,2644.50 774.20,2644.50 774.60,2644.50 775.00,2644.50 775.40,2644.49 775.80,2644.48 776.20,2644.47 776.60,2644.45 777.00,2644.41 777.40,2644.35 777.80,2644.26 778.20,2644.12 778.60,2643.91 779.00,2643.64 779.40,2643.27 779.80,2642.80 780.20,2642.23 780.60,2641.56 781.00,2640.83 781.40,2640.06 781.80,2639.31 782.20,2638.62 782.60,2638.06 783.00,2637.68 783.40,2637.51 783.80,2637.56 784.20,2637.85 784.60,2638.32 785.00,2638.95 785.40,2639.68 785.80,2640.45 786.20,2641.20 786.60,2641.91 787.00,2642.53 787.40,2643.05 787.80,2643.46 788.20,2643.79 788.60,2644.02 789.00,2644.19 789.40,2644.31 789.80,2644.38 790.20,2644.43 790.60,2644.46 791.00,2644.48 791.40,2644.49 791.80,2644.49 792.20,2644.50 792.60,2644.50 793.00,2644.50 793.40,2644.50 793.80,2644.50 794.20,2644.50 794.60,2644.50 795.00,2644.50 795.40,2644.50 795.80,2644.50 796.20,2644.50 796.60,2644.50 797.00,2644.50 797.40,2644.50 797.80,2644.50 798.20,2644.50 798.60,2644.50 799.00,2644.50 799.40,2644.50 799.80,2644.50 800.20,2644.50 800.60,2644.50 801.00,2644.50 801.40,2644.50 801.80,2644.50 802.20,2644.50 802.60,2644.50 803.00,2644.50 803.40,2644.50 803.80,2644.50 804.20,2644.50 804.60,2644.50 805.00,2644.50 805.40,2644.50 805.80,2644.50 806.20,2644.50 806.60,2644.50 807.00,2644.50 807.40,2644.50 807.80,2644.50 808.20,2644.50 808.60,2644.50 809.00,2644.50 809.40,2644.50 809.80,2644.50 810.20,2644.50 810.60,2644.50 811.00,2644.50 811.40,2644.50 811.80,2644.50 812.20,2644.50 812.60,2644.50 813.00,2644.50 813.40,2644.50 813.80,2644.50 814.20,2644.50 814.60,2644.50 815.00,2644.50 815.40,2644.50 815.80,2644.50 816.20,2644.50 816.60,2644.50 817.00,2644.50 817.40,2644.50 817.80,2644.50 818.20,2644.50 818.60,2644.50 819.00,2644.50 819.40,2644.50 819.80,2644.50 820.20,2644.50 820.60,2644.50 821.00,2644.50 821.40,2644.50" fill="none" stroke="#2e9444" stroke-width="3.0" stroke-linejoin="round" stroke-linecap="round" stroke-linecap="butt"/>
<line x1="836.50" y1="2614.50" x2="938.80" y2="2614.50" stroke="#000" stroke-width="2.3" stroke-linecap="butt" stroke-dasharray="8.5 7.1"/>
<path d="M831.80,2580.50 Q834.80,2580.00 834.80,2584.00 L834.80,2647.50" fill="none" stroke="#000" stroke-width="3.4" />
<line x1="831.30" y1="2614.50" x2="834.80" y2="2614.50" stroke="#000" stroke-width="3.0" stroke-linecap="butt" />
<line x1="833.10" y1="2647.00" x2="950.30" y2="2647.00" stroke="#000" stroke-width="3.4" stroke-linecap="butt" />
<line x1="867.50" y1="2646.50" x2="867.50" y2="2651.00" stroke="#000" stroke-width="2.6" stroke-linecap="butt" />
<line x1="899.80" y1="2646.50" x2="899.80" y2="2651.00" stroke="#000" stroke-width="2.6" stroke-linecap="butt" />
<line x1="932.20" y1="2646.50" x2="932.20" y2="2651.00" stroke="#000" stroke-width="2.6" stroke-linecap="butt" />
<polyline points="836.40,2644.50 836.80,2644.50 837.20,2644.50 837.60,2644.50 838.00,2644.50 838.40,2644.50 838.80,2644.50 839.20,2644.50 839.60,2644.50 840.00,2644.50 840.40,2644.50 840.80,2644.50 841.20,2644.50 841.60,2644.50 842.00,2644.50 842.40,2644.50 842.80,2644.50 843.20,2644.50 843.60,2644.50 844.00,2644.50 844.40,2644.50 844.80,2644.50 845.20,2644.50 845.60,2644.50 846.00,2644.50 846.40,2644.50 846.80,2644.50 847.20,2644.50 847.60,2644.50 848.00,2644.50 848.40,2644.50 848.80,2644.50 849.20,2644.50 849.60,2644.50 850.00,2644.50 850.40,2644.50 850.80,2644.50 851.20,2644.50 851.60,2644.50 852.00,2644.50 852.40,2644.50 852.80,2644.50 853.20,2644.50 853.60,2644.50 854.00,2644.50 854.40,2644.50 854.80,2644.50 855.20,2644.50 855.60,2644.50 856.00,2644.50 856.40,2644.50 856.80,2644.50 857.20,2644.50 857.60,2644.50 858.00,2644.50 858.40,2644.50 858.80,2644.50 859.20,2644.50 859.60,2644.50 860.00,2644.50 860.40,2644.50 860.80,2644.50 861.20,2644.50 861.60,2644.50 862.00,2644.50 862.40,2644.50 862.80,2644.50 863.20,2644.50 863.60,2644.50 864.00,2644.50 864.40,2644.50 864.80,2644.50 865.20,2644.50 865.60,2644.50 866.00,2644.50 866.40,2644.50 866.80,2644.50 867.20,2644.50 867.60,2644.50 868.00,2644.50 868.40,2644.50 868.80,2644.50 869.20,2644.50 869.60,2644.50 870.00,2644.50 870.40,2644.50 870.80,2644.50 871.20,2644.50 871.60,2644.50 872.00,2644.50 872.40,2644.50 872.80,2644.50 873.20,2644.50 873.60,2644.50 874.00,2644.50 874.40,2644.50 874.80,2644.50 875.20,2644.50 875.60,2644.50 876.00,2644.50 876.40,2644.50 876.80,2644.50 877.20,2644.50 877.60,2644.50 878.00,2644.50 878.40,2644.50 878.80,2644.50 879.20,2644.50 879.60,2644.50 880.00,2644.50 880.40,2644.50 880.80,2644.50 881.20,2644.50 881.60,2644.50 882.00,2644.50 882.40,2644.50 882.80,2644.50 883.20,2644.50 883.60,2644.50 884.00,2644.50 884.40,2644.50 884.80,2644.50 885.20,2644.50 885.60,2644.50 886.00,2644.50 886.40,2644.50 886.80,2644.50 887.20,2644.50 887.60,2644.50 888.00,2644.50 888.40,2644.50 888.80,2644.50 889.20,2644.50 889.60,2644.50 890.00,2644.50 890.40,2644.50 890.80,2644.50 891.20,2644.50 891.60,2644.50 892.00,2644.50 892.40,2644.50 892.80,2644.50 893.20,2644.50 893.60,2644.50 894.00,2644.50 894.40,2644.50 894.80,2644.50 895.20,2644.50 895.60,2644.50 896.00,2644.50 896.40,2644.50 896.80,2644.50 897.20,2644.50 897.60,2644.50 898.00,2644.50 898.40,2644.50 898.80,2644.50 899.20,2644.50 899.60,2644.50 900.00,2644.50 900.40,2644.50 900.80,2644.50 901.20,2644.50 901.60,2644.50 902.00,2644.50 902.40,2644.50 902.80,2644.50 903.20,2644.50 903.60,2644.50 904.00,2644.50 904.40,2644.49 904.80,2644.48 905.20,2644.47 905.60,2644.45 906.00,2644.41 906.40,2644.36 906.80,2644.28 907.20,2644.17 907.60,2644.01 908.00,2643.80 908.40,2643.53 908.80,2643.20 909.20,2642.82 909.60,2642.40 910.00,2641.96 910.40,2641.53 910.80,2641.14 911.20,2640.82 911.60,2640.60 912.00,2640.50 912.40,2640.54 912.80,2640.70 913.20,2640.97 913.60,2641.33 914.00,2641.75 914.40,2642.18 914.80,2642.62 915.20,2643.02 915.60,2643.37 916.00,2643.67 916.40,2643.91 916.80,2644.09 917.20,2644.23 917.60,2644.32 918.00,2644.39 918.40,2644.43 918.80,2644.46 919.20,2644.48 919.60,2644.49 920.00,2644.49 920.40,2644.50 920.80,2644.50 921.20,2644.50 921.60,2644.50 922.00,2644.50 922.40,2644.50 922.80,2644.50 923.20,2644.50 923.60,2644.50 924.00,2644.50 924.40,2644.50 924.80,2644.50 925.20,2644.50 925.60,2644.50 926.00,2644.50 926.40,2644.50 926.80,2644.50 927.20,2644.50 927.60,2644.50 928.00,2644.50 928.40,2644.50 928.80,2644.50 929.20,2644.50 929.60,2644.50 930.00,2644.50 930.40,2644.50 930.80,2644.50 931.20,2644.50 931.60,2644.50 932.00,2644.50 932.40,2644.50 932.80,2644.50 933.20,2644.50 933.60,2644.50 934.00,2644.50 934.40,2644.50 934.80,2644.50 935.20,2644.50 935.60,2644.50 936.00,2644.50 936.40,2644.50 936.80,2644.50 937.20,2644.50 937.60,2644.50 938.00,2644.50 938.40,2644.50 938.80,2644.50 939.20,2644.50 939.60,2644.50 940.00,2644.50 940.40,2644.50 940.80,2644.50 941.20,2644.50 941.60,2644.50 942.00,2644.50 942.40,2644.50 942.80,2644.50 943.20,2644.50 943.60,2644.50 944.00,2644.50 944.40,2644.50 944.80,2644.50 945.20,2644.50 945.60,2644.50 946.00,2644.50 946.40,2644.50 946.80,2644.50 947.20,2644.50 947.60,2644.50 948.00,2644.50 948.40,2644.50 948.80,2644.50 949.20,2644.50 949.60,2644.50 950.00,2644.50" fill="none" stroke="#b41218" stroke-width="3.0" stroke-linejoin="round" stroke-linecap="round" stroke-linecap="butt"/>
<line x1="182.70" y1="2194.00" x2="285.00" y2="2194.00" stroke="#000" stroke-width="2.3" stroke-linecap="butt" stroke-dasharray="8.5 7.1"/>
<path d="M178.00,2160.00 Q181.00,2159.50 181.00,2163.50 L181.00,2227.00" fill="none" stroke="#000" stroke-width="3.4" />
<line x1="177.50" y1="2194.00" x2="181.00" y2="2194.00" stroke="#000" stroke-width="3.0" stroke-linecap="butt" />
<line x1="179.30" y1="2226.50" x2="296.30" y2="2226.50" stroke="#000" stroke-width="3.4" stroke-linecap="butt" />
<line x1="213.70" y1="2226.00" x2="213.70" y2="2230.50" stroke="#000" stroke-width="2.6" stroke-linecap="butt" />
<line x1="246.00" y1="2226.00" x2="246.00" y2="2230.50" stroke="#000" stroke-width="2.6" stroke-linecap="butt" />
<line x1="278.40" y1="2226.00" x2="278.40" y2="2230.50" stroke="#000" stroke-width="2.6" stroke-linecap="butt" />
<polyline points="182.60,2224.00 183.00,2224.00 183.40,2224.00 183.80,2224.00 184.20,2224.00 184.60,2224.00 185.00,2224.00 185.40,2224.00 185.80,2224.00 186.20,2224.00 186.60,2224.00 187.00,2224.00 187.40,2224.00 187.80,2224.00 188.20,2224.00 188.60,2224.00 189.00,2224.00 189.40,2224.00 189.80,2224.00 190.20,2224.00 190.60,2224.00 191.00,2224.00 191.40,2224.00 191.80,2224.00 192.20,2224.00 192.60,2224.00 193.00,2224.00 193.40,2224.00 193.80,2224.00 194.20,2224.00 194.60,2224.00 195.00,2224.00 195.40,2224.00 195.80,2224.00 196.20,2224.00 196.60,2224.00 197.00,2224.00 197.40,2224.00 197.80,2224.00 198.20,2224.00 198.60,2224.00 199.00,2224.00 199.40,2224.00 199.80,2224.00 200.20,2224.00 200.60,2224.00 201.00,2224.00 201.40,2224.00 201.80,2224.00 202.20,2224.00 202.60,2224.00 203.00,2224.00 203.40,2224.00 203.80,2224.00 204.20,2224.00 204.60,2224.00 205.00,2224.00 205.40,2224.00 205.80,2224.00 206.20,2224.00 206.60,2224.00 207.00,2224.00 207.40,2224.00 207.80,2224.00 208.20,2224.00 208.60,2224.00 209.00,2224.00 209.40,2224.00 209.80,2224.00 210.20,2224.00 210.60,2224.00 211.00,2224.00 211.40,2224.00 211.80,2224.00 212.20,2224.00 212.60,2224.00 213.00,2224.00 213.40,2224.00 213.80,2224.00 214.20,2224.00 214.60,2224.00 215.00,2224.00 215.40,2224.00 215.80,2224.00 216.20,2224.00 216.60,2224.00 217.00,2224.00 217.40,2224.00 217.80,2224.00 218.20,2224.00 218.60,2224.00 219.00,2224.00 219.40,2224.00 219.80,2224.00 220.20,2224.00 220.60,2224.00 221.00,2224.00 221.40,2224.00 221.80,2224.00 222.20,2224.00 222.60,2224.00 223.00,2224.00 223.40,2224.00 223.80,2224.00 224.20,2224.00 224.60,2224.00 225.00,2224.00 225.40,2224.00 225.80,2224.00 226.20,2224.00 226.60,2224.00 227.00,2224.00 227.40,2224.00 227.80,2224.00 228.20,2224.00 228.60,2224.00 229.00,2224.00 229.40,2224.00 229.80,2224.00 230.20,2224.00 230.60,2224.00 231.00,2224.00 231.40,2224.00 231.80,2224.00 232.20,2224.00 232.60,2224.00 233.00,2224.00 233.40,2224.00 233.80,2224.00 234.20,2224.00 234.60,2224.00 235.00,2224.00 235.40,2224.00 235.80,2224.00 236.20,2224.00 236.60,2224.00 237.00,2224.00 237.40,2224.00 237.80,2224.00 238.20,2224.00 238.60,2224.00 239.00,2224.00 239.40,2224.00 239.80,2224.00 240.20,2224.00 240.60,2224.00 241.00,2224.00 241.40,2224.00 241.80,2224.00 242.20,2224.00 242.60,2224.00 243.00,2224.00 243.40,2224.00 243.80,2224.00 244.20,2224.00 244.60,2224.00 245.00,2224.00 245.40,2224.00 245.80,2224.00 246.20,2224.00 246.60,2224.00 247.00,2224.00 247.40,2224.00 247.80,2224.00 248.20,2224.00 248.60,2224.00 249.00,2224.00 249.40,2223.99 249.80,2223.98 250.20,2223.96 250.60,2223.92 251.00,2223.85 251.40,2223.72 251.80,2223.49 252.20,2223.13 252.60,2222.54 253.00,2221.65 253.40,2220.33 253.80,2218.45 254.20,2215.88 254.60,2212.51 255.00,2208.27 255.40,2203.17 255.80,2197.31 256.20,2190.91 256.60,2184.31 257.00,2177.94 257.40,2172.29 257.80,2167.84 258.20,2164.98 258.60,2164.00 259.00,2164.98 259.40,2167.84 259.80,2172.29 260.20,2177.94 260.60,2184.31 261.00,2190.91 261.40,2197.31 261.80,2203.17 262.20,2208.27 262.60,2212.51 263.00,2215.88 263.40,2218.45 263.80,2220.33 264.20,2221.65 264.60,2222.54 265.00,2223.13 265.40,2223.49 265.80,2223.72 266.20,2223.85 266.60,2223.92 267.00,2223.96 267.40,2223.98 267.80,2223.99 268.20,2224.00 268.60,2224.00 269.00,2224.00 269.40,2224.00 269.80,2224.00 270.20,2224.00 270.60,2224.00 271.00,2224.00 271.40,2224.00 271.80,2224.00 272.20,2224.00 272.60,2224.00 273.00,2224.00 273.40,2224.00 273.80,2224.00 274.20,2224.00 274.60,2224.00 275.00,2224.00 275.40,2224.00 275.80,2224.00 276.20,2224.00 276.60,2224.00 277.00,2224.00 277.40,2224.00 277.80,2224.00 278.20,2224.00 278.60,2224.00 279.00,2224.00 279.40,2224.00 279.80,2224.00 280.20,2224.00 280.60,2224.00 281.00,2224.00 281.40,2224.00 281.80,2224.00 282.20,2224.00 282.60,2224.00 283.00,2224.00 283.40,2224.00 283.80,2224.00 284.20,2224.00 284.60,2224.00 285.00,2224.00 285.40,2224.00 285.80,2224.00 286.20,2224.00 286.60,2224.00 287.00,2224.00 287.40,2224.00 287.80,2224.00 288.20,2224.00 288.60,2224.00 289.00,2224.00 289.40,2224.00 289.80,2224.00 290.20,2224.00 290.60,2224.00 291.00,2224.00 291.40,2224.00 291.80,2224.00 292.20,2224.00 292.60,2224.00 293.00,2224.00 293.40,2224.00 293.80,2224.00 294.20,2224.00 294.60,2224.00 295.00,2224.00 295.40,2224.00 295.80,2224.00 296.20,2224.00" fill="none" stroke="#000" stroke-width="3.0" stroke-linejoin="round" stroke-linecap="round" stroke-linecap="butt"/>
<line x1="184.50" y1="2363.70" x2="286.80" y2="2363.70" stroke="#000" stroke-width="2.3" stroke-linecap="butt" stroke-dasharray="8.5 7.1"/>
<path d="M179.80,2329.70 Q182.80,2329.20 182.80,2333.20 L182.80,2396.70" fill="none" stroke="#000" stroke-width="3.4" />
<line x1="179.30" y1="2363.70" x2="182.80" y2="2363.70" stroke="#000" stroke-width="3.0" stroke-linecap="butt" />
<line x1="181.10" y1="2396.20" x2="296.30" y2="2396.20" stroke="#000" stroke-width="3.4" stroke-linecap="butt" />
<line x1="215.50" y1="2395.70" x2="215.50" y2="2400.20" stroke="#000" stroke-width="2.6" stroke-linecap="butt" />
<line x1="247.80" y1="2395.70" x2="247.80" y2="2400.20" stroke="#000" stroke-width="2.6" stroke-linecap="butt" />
<line x1="280.20" y1="2395.70" x2="280.20" y2="2400.20" stroke="#000" stroke-width="2.6" stroke-linecap="butt" />
<polyline points="184.40,2393.70 184.80,2393.70 185.20,2393.70 185.60,2393.70 186.00,2393.70 186.40,2393.70 186.80,2393.70 187.20,2393.70 187.60,2393.70 188.00,2393.70 188.40,2393.70 188.80,2393.70 189.20,2393.70 189.60,2393.70 190.00,2393.70 190.40,2393.70 190.80,2393.70 191.20,2393.70 191.60,2393.70 192.00,2393.70 192.40,2393.70 192.80,2393.70 193.20,2393.70 193.60,2393.70 194.00,2393.70 194.40,2393.70 194.80,2393.70 195.20,2393.70 195.60,2393.70 196.00,2393.70 196.40,2393.70 196.80,2393.70 197.20,2393.70 197.60,2393.70 198.00,2393.70 198.40,2393.70 198.80,2393.70 199.20,2393.70 199.60,2393.70 200.00,2393.70 200.40,2393.70 200.80,2393.70 201.20,2393.70 201.60,2393.70 202.00,2393.70 202.40,2393.70 202.80,2393.70 203.20,2393.70 203.60,2393.70 204.00,2393.70 204.40,2393.70 204.80,2393.70 205.20,2393.70 205.60,2393.70 206.00,2393.70 206.40,2393.70 206.80,2393.70 207.20,2393.70 207.60,2393.70 208.00,2393.70 208.40,2393.70 208.80,2393.70 209.20,2393.70 209.60,2393.70 210.00,2393.70 210.40,2393.70 210.80,2393.70 211.20,2393.70 211.60,2393.70 212.00,2393.70 212.40,2393.70 212.80,2393.70 213.20,2393.70 213.60,2393.70 214.00,2393.70 214.40,2393.70 214.80,2393.70 215.20,2393.70 215.60,2393.70 216.00,2393.70 216.40,2393.70 216.80,2393.70 217.20,2393.70 217.60,2393.70 218.00,2393.70 218.40,2393.70 218.80,2393.70 219.20,2393.70 219.60,2393.70 220.00,2393.70 220.40,2393.70 220.80,2393.70 221.20,2393.70 221.60,2393.70 222.00,2393.70 222.40,2393.70 222.80,2393.70 223.20,2393.70 223.60,2393.70 224.00,2393.70 224.40,2393.70 224.80,2393.70 225.20,2393.70 225.60,2393.70 226.00,2393.70 226.40,2393.70 226.80,2393.70 227.20,2393.70 227.60,2393.70 228.00,2393.70 228.40,2393.70 228.80,2393.70 229.20,2393.70 229.60,2393.70 230.00,2393.70 230.40,2393.70 230.80,2393.70 231.20,2393.70 231.60,2393.70 232.00,2393.70 232.40,2393.70 232.80,2393.70 233.20,2393.70 233.60,2393.70 234.00,2393.70 234.40,2393.70 234.80,2393.70 235.20,2393.70 235.60,2393.70 236.00,2393.70 236.40,2393.70 236.80,2393.70 237.20,2393.70 237.60,2393.70 238.00,2393.70 238.40,2393.70 238.80,2393.70 239.20,2393.70 239.60,2393.70 240.00,2393.70 240.40,2393.70 240.80,2393.70 241.20,2393.70 241.60,2393.70 242.00,2393.70 242.40,2393.70 242.80,2393.70 243.20,2393.70 243.60,2393.70 244.00,2393.70 244.40,2393.70 244.80,2393.70 245.20,2393.70 245.60,2393.70 246.00,2393.70 246.40,2393.70 246.80,2393.69 247.20,2393.69 247.60,2393.67 248.00,2393.65 248.40,2393.60 248.80,2393.51 249.20,2393.36 249.60,2393.09 250.00,2392.66 250.40,2391.97 250.80,2390.93 251.20,2389.41 251.60,2387.27 252.00,2384.37 252.40,2380.61 252.80,2375.93 253.20,2370.36 253.60,2364.03 254.00,2357.22 254.40,2350.31 254.80,2343.77 255.20,2338.10 255.60,2333.81 256.00,2331.28 256.40,2330.77 256.80,2332.31 257.20,2335.76 257.60,2340.79 258.00,2346.96 258.40,2353.75 258.80,2360.67 259.20,2367.27 259.60,2373.25 260.00,2378.38 260.40,2382.60 260.80,2385.92 261.20,2388.43 261.60,2390.24 262.00,2391.50 262.40,2392.35 262.80,2392.90 263.20,2393.24 263.60,2393.44 264.00,2393.56 264.40,2393.63 264.80,2393.66 265.20,2393.68 265.60,2393.69 266.00,2393.70 266.40,2393.70 266.80,2393.70 267.20,2393.70 267.60,2393.70 268.00,2393.70 268.40,2393.70 268.80,2393.70 269.20,2393.70 269.60,2393.70 270.00,2393.70 270.40,2393.70 270.80,2393.70 271.20,2393.70 271.60,2393.70 272.00,2393.70 272.40,2393.70 272.80,2393.70 273.20,2393.70 273.60,2393.70 274.00,2393.70 274.40,2393.70 274.80,2393.70 275.20,2393.70 275.60,2393.70 276.00,2393.70 276.40,2393.70 276.80,2393.70 277.20,2393.70 277.60,2393.70 278.00,2393.70 278.40,2393.70 278.80,2393.70 279.20,2393.70 279.60,2393.70 280.00,2393.70 280.40,2393.70 280.80,2393.70 281.20,2393.70 281.60,2393.70 282.00,2393.70 282.40,2393.70 282.80,2393.70 283.20,2393.70 283.60,2393.70 284.00,2393.70 284.40,2393.70 284.80,2393.70 285.20,2393.70 285.60,2393.70 286.00,2393.70 286.40,2393.70 286.80,2393.70 287.20,2393.70 287.60,2393.70 288.00,2393.70 288.40,2393.70 288.80,2393.70 289.20,2393.70 289.60,2393.70 290.00,2393.70 290.40,2393.70 290.80,2393.70 291.20,2393.70 291.60,2393.70 292.00,2393.70 292.40,2393.70 292.80,2393.70 293.20,2393.70 293.60,2393.70 294.00,2393.70 294.40,2393.70 294.80,2393.70 295.20,2393.70 295.60,2393.70 296.00,2393.70" fill="none" stroke="#000" stroke-width="3.0" stroke-linejoin="round" stroke-linecap="round" stroke-linecap="butt"/>
<text transform="translate(153.50,2530.80) rotate(-90)" x="-2.43" y="0" font-size="33.3" textLength="339.46" lengthAdjust="spacingAndGlyphs" fill="#000" stroke="#000" stroke-width="0.4">m6A Intensity (cps)</text>
<text x="1168.75" y="2083.50" font-size="86" textLength="54.41" lengthAdjust="spacingAndGlyphs" fill="#000" stroke="#000" stroke-width="0.4">g</text>
<line x1="1301.40" y1="2127.90" x2="1323.00" y2="2127.90" stroke="#000" stroke-width="4.2" stroke-linecap="butt" />
<path d="M1312.20,2136.34 L1318.80,2123.86 L1305.60,2123.86 Z" fill="#000" stroke="none" stroke-width="0" />
<text x="1334.84" y="2138.40" font-size="29.6" textLength="74.73" lengthAdjust="spacingAndGlyphs" fill="#000" stroke="#000" stroke-width="0.6">Mock</text>
<line x1="1433.20" y1="2127.90" x2="1454.80" y2="2127.90" stroke="#c8d41e" stroke-width="4.2" stroke-linecap="butt" />
<rect x="1438.00" y="2121.90" width="12" height="12" fill="#c8d41e"/>
<text x="1466.64" y="2138.40" font-size="29.6" textLength="60.12" lengthAdjust="spacingAndGlyphs" fill="#000" stroke="#000" stroke-width="0.6">NAD</text>
<line x1="1566.00" y1="2127.90" x2="1588.50" y2="2127.90" stroke="#f07a3a" stroke-width="4.2" stroke-linecap="butt" />
<path d="M1577.25,2119.34 L1584.40,2132.86 L1570.10,2132.86 Z" fill="#f07a3a" stroke="none" stroke-width="0" />
<text x="1599.65" y="2138.40" font-size="29.6" textLength="78.29" lengthAdjust="spacingAndGlyphs" fill="#000" stroke="#000" stroke-width="0.6">NADP</text>
<line x1="1301.40" y1="2168.50" x2="1323.00" y2="2168.50" stroke="#1e5aa0" stroke-width="4.2" stroke-linecap="butt" />
<circle cx="1312.20" cy="2168.50" r="6.3" fill="#1e5aa0"/>
<text x="1336.61" y="2179.00" font-size="29.6" textLength="34.42" lengthAdjust="spacingAndGlyphs" fill="#000" stroke="#000" stroke-width="0.6">Vc</text>
<line x1="1433.20" y1="2168.50" x2="1454.80" y2="2168.50" stroke="#2e9640" stroke-width="4.2" stroke-linecap="butt" />
<path d="M1437.50,2168.50 L1444.00,2162.00 L1450.50,2168.50 L1444.00,2175.00 Z" fill="#2e9640" stroke="none" stroke-width="0" />
<text x="1466.64" y="2179.00" font-size="29.6" textLength="80.44" lengthAdjust="spacingAndGlyphs" fill="#000" stroke="#000" stroke-width="0.6">NADH</text>
<line x1="1566.00" y1="2168.50" x2="1588.50" y2="2168.50" stroke="#d2142a" stroke-width="4.2" stroke-linecap="butt" />
<circle cx="1577.25" cy="2168.50" r="6.3" fill="#d2142a"/>
<text x="1599.64" y="2179.00" font-size="29.6" textLength="98.83" lengthAdjust="spacingAndGlyphs" fill="#000" stroke="#000" stroke-width="0.6">NADPH</text>
<line x1="1395.40" y1="2227.50" x2="1395.40" y2="2493.50" stroke="#000" stroke-width="3.8" stroke-linecap="butt" />
<line x1="1388.00" y1="2491.40" x2="1395.40" y2="2491.40" stroke="#000" stroke-width="4.0" stroke-linecap="butt" />
<text x="1370.14" y="2500.50" font-size="25.5" textLength="14.75" lengthAdjust="spacingAndGlyphs" fill="#000" stroke="#000" stroke-width="0.6">0</text>
<line x1="1388.00" y1="2439.06" x2="1395.40" y2="2439.06" stroke="#000" stroke-width="4.0" stroke-linecap="butt" />
<text x="1355.39" y="2448.16" font-size="25.5" textLength="29.50" lengthAdjust="spacingAndGlyphs" fill="#000" stroke="#000" stroke-width="0.6">20</text>
<line x1="1388.00" y1="2386.72" x2="1395.40" y2="2386.72" stroke="#000" stroke-width="4.0" stroke-linecap="butt" />
<text x="1355.39" y="2395.82" font-size="25.5" textLength="29.50" lengthAdjust="spacingAndGlyphs" fill="#000" stroke="#000" stroke-width="0.6">40</text>
<line x1="1388.00" y1="2334.38" x2="1395.40" y2="2334.38" stroke="#000" stroke-width="4.0" stroke-linecap="butt" />
<text x="1355.39" y="2343.48" font-size="25.5" textLength="29.50" lengthAdjust="spacingAndGlyphs" fill="#000" stroke="#000" stroke-width="0.6">60</text>
<line x1="1388.00" y1="2282.04" x2="1395.40" y2="2282.04" stroke="#000" stroke-width="4.0" stroke-linecap="butt" />
<text x="1355.39" y="2291.14" font-size="25.5" textLength="29.50" lengthAdjust="spacingAndGlyphs" fill="#000" stroke="#000" stroke-width="0.6">80</text>
<line x1="1388.00" y1="2229.70" x2="1395.40" y2="2229.70" stroke="#000" stroke-width="4.0" stroke-linecap="butt" />
<text x="1340.64" y="2238.80" font-size="25.5" textLength="44.25" lengthAdjust="spacingAndGlyphs" fill="#000" stroke="#000" stroke-width="0.6">100</text>
<line x1="1414.30" y1="2513.20" x2="1677.00" y2="2513.20" stroke="#000" stroke-width="4.2" stroke-linecap="butt" />
<line x1="1415.50" y1="2511.20" x2="1415.50" y2="2519.50" stroke="#000" stroke-width="4.2" stroke-linecap="butt" />
<text x="1396.77" y="2548.60" font-size="29.0" textLength="37.49" lengthAdjust="spacingAndGlyphs" fill="#000" stroke="#000" stroke-width="0.6">0.0</text>
<line x1="1467.40" y1="2511.20" x2="1467.40" y2="2519.50" stroke="#000" stroke-width="4.2" stroke-linecap="butt" />
<text x="1448.66" y="2548.60" font-size="29.0" textLength="37.49" lengthAdjust="spacingAndGlyphs" fill="#000" stroke="#000" stroke-width="0.6">0.2</text>
<line x1="1519.30" y1="2511.20" x2="1519.30" y2="2519.50" stroke="#000" stroke-width="4.2" stroke-linecap="butt" />
<text x="1500.09" y="2548.60" font-size="29.0" textLength="37.49" lengthAdjust="spacingAndGlyphs" fill="#000" stroke="#000" stroke-width="0.6">0.4</text>
<line x1="1571.20" y1="2511.20" x2="1571.20" y2="2519.50" stroke="#000" stroke-width="4.2" stroke-linecap="butt" />
<text x="1552.41" y="2548.60" font-size="29.0" textLength="37.49" lengthAdjust="spacingAndGlyphs" fill="#000" stroke="#000" stroke-width="0.6">0.6</text>
<line x1="1623.10" y1="2511.20" x2="1623.10" y2="2519.50" stroke="#000" stroke-width="4.2" stroke-linecap="butt" />
<text x="1604.24" y="2548.60" font-size="29.0" textLength="37.49" lengthAdjust="spacingAndGlyphs" fill="#000" stroke="#000" stroke-width="0.6">0.8</text>
<line x1="1675.00" y1="2511.20" x2="1675.00" y2="2519.50" stroke="#000" stroke-width="4.2" stroke-linecap="butt" />
<text x="1655.96" y="2548.60" font-size="29.0" textLength="37.49" lengthAdjust="spacingAndGlyphs" fill="#000" stroke="#000" stroke-width="0.6">1.0</text>
<text x="1388.53" y="2587.90" font-size="35.0" textLength="315.64" lengthAdjust="spacingAndGlyphs" fill="#000" stroke="#000" stroke-width="0.4">Concentration (mM)</text>
<text transform="translate(1324.10,2492.50) rotate(-90)" x="-2.19" y="0" font-size="35.3" textLength="285.22" lengthAdjust="spacingAndGlyphs" fill="#000" stroke="#000" stroke-width="0.4">Demethylation (%)</text>
<polyline points="1415.50,2292.51 1467.40,2289.89 1519.30,2295.12 1623.10,2292.51 1675.00,2295.12" fill="none" stroke="#000" stroke-width="4.2" stroke-linejoin="round" stroke-linecap="round" />
<line x1="1415.50" y1="2277.95" x2="1415.50" y2="2305.21" stroke="#000" stroke-width="3.0" stroke-linecap="butt" />
<line x1="1410.00" y1="2277.95" x2="1421.00" y2="2277.95" stroke="#000" stroke-width="3.0" stroke-linecap="butt" />
<line x1="1410.00" y1="2305.21" x2="1421.00" y2="2305.21" stroke="#000" stroke-width="3.0" stroke-linecap="butt" />
<path d="M1415.50,2300.95 L1422.10,2288.47 L1408.90,2288.47 Z" fill="#000" stroke="none" stroke-width="0" />
<line x1="1467.40" y1="2275.33" x2="1467.40" y2="2302.60" stroke="#000" stroke-width="3.0" stroke-linecap="butt" />
<line x1="1461.90" y1="2275.33" x2="1472.90" y2="2275.33" stroke="#000" stroke-width="3.0" stroke-linecap="butt" />
<line x1="1461.90" y1="2302.60" x2="1472.90" y2="2302.60" stroke="#000" stroke-width="3.0" stroke-linecap="butt" />
<path d="M1467.40,2298.33 L1474.00,2285.85 L1460.80,2285.85 Z" fill="#000" stroke="none" stroke-width="0" />
<line x1="1519.30" y1="2280.57" x2="1519.30" y2="2307.83" stroke="#000" stroke-width="3.0" stroke-linecap="butt" />
<line x1="1513.80" y1="2280.57" x2="1524.80" y2="2280.57" stroke="#000" stroke-width="3.0" stroke-linecap="butt" />
<line x1="1513.80" y1="2307.83" x2="1524.80" y2="2307.83" stroke="#000" stroke-width="3.0" stroke-linecap="butt" />
<path d="M1519.30,2303.57 L1525.90,2291.09 L1512.70,2291.09 Z" fill="#000" stroke="none" stroke-width="0" />
<line x1="1623.10" y1="2277.95" x2="1623.10" y2="2305.21" stroke="#000" stroke-width="3.0" stroke-linecap="butt" />
<line x1="1617.60" y1="2277.95" x2="1628.60" y2="2277.95" stroke="#000" stroke-width="3.0" stroke-linecap="butt" />
<line x1="1617.60" y1="2305.21" x2="1628.60" y2="2305.21" stroke="#000" stroke-width="3.0" stroke-linecap="butt" />
<path d="M1623.10,2300.95 L1629.70,2288.47 L1616.50,2288.47 Z" fill="#000" stroke="none" stroke-width="0" />
<line x1="1675.00" y1="2280.57" x2="1675.00" y2="2307.83" stroke="#000" stroke-width="3.0" stroke-linecap="butt" />
<line x1="1669.50" y1="2280.57" x2="1680.50" y2="2280.57" stroke="#000" stroke-width="3.0" stroke-linecap="butt" />
<line x1="1669.50" y1="2307.83" x2="1680.50" y2="2307.83" stroke="#000" stroke-width="3.0" stroke-linecap="butt" />
<path d="M1675.00,2303.57 L1681.60,2291.09 L1668.40,2291.09 Z" fill="#000" stroke="none" stroke-width="0" />
<polyline points="1415.50,2292.51 1467.40,2255.87 1519.30,2248.02 1623.10,2244.09 1675.00,2242.78" fill="none" stroke="#f07a3a" stroke-width="4.2" stroke-linejoin="round" stroke-linecap="round" />
<line x1="1415.50" y1="2277.16" x2="1415.50" y2="2307.86" stroke="#f07a3a" stroke-width="3.0" stroke-linecap="butt" />
<line x1="1410.00" y1="2277.16" x2="1421.00" y2="2277.16" stroke="#f07a3a" stroke-width="3.0" stroke-linecap="butt" />
<line x1="1410.00" y1="2307.86" x2="1421.00" y2="2307.86" stroke="#f07a3a" stroke-width="3.0" stroke-linecap="butt" />
<path d="M1415.50,2283.95 L1422.65,2297.47 L1408.35,2297.47 Z" fill="#f07a3a" stroke="none" stroke-width="0" />
<line x1="1467.40" y1="2241.31" x2="1467.40" y2="2270.43" stroke="#f07a3a" stroke-width="3.0" stroke-linecap="butt" />
<line x1="1461.90" y1="2241.31" x2="1472.90" y2="2241.31" stroke="#f07a3a" stroke-width="3.0" stroke-linecap="butt" />
<line x1="1461.90" y1="2270.43" x2="1472.90" y2="2270.43" stroke="#f07a3a" stroke-width="3.0" stroke-linecap="butt" />
<path d="M1467.40,2247.31 L1474.55,2260.83 L1460.25,2260.83 Z" fill="#f07a3a" stroke="none" stroke-width="0" />
<line x1="1519.30" y1="2233.46" x2="1519.30" y2="2262.58" stroke="#f07a3a" stroke-width="3.0" stroke-linecap="butt" />
<line x1="1513.80" y1="2233.46" x2="1524.80" y2="2233.46" stroke="#f07a3a" stroke-width="3.0" stroke-linecap="butt" />
<line x1="1513.80" y1="2262.58" x2="1524.80" y2="2262.58" stroke="#f07a3a" stroke-width="3.0" stroke-linecap="butt" />
<path d="M1519.30,2239.46 L1526.45,2252.98 L1512.15,2252.98 Z" fill="#f07a3a" stroke="none" stroke-width="0" />
<line x1="1623.10" y1="2229.53" x2="1623.10" y2="2258.65" stroke="#f07a3a" stroke-width="3.0" stroke-linecap="butt" />
<line x1="1617.60" y1="2229.53" x2="1628.60" y2="2229.53" stroke="#f07a3a" stroke-width="3.0" stroke-linecap="butt" />
<line x1="1617.60" y1="2258.65" x2="1628.60" y2="2258.65" stroke="#f07a3a" stroke-width="3.0" stroke-linecap="butt" />
<path d="M1623.10,2235.53 L1630.25,2249.05 L1615.95,2249.05 Z" fill="#f07a3a" stroke="none" stroke-width="0" />
<line x1="1675.00" y1="2228.23" x2="1675.00" y2="2257.34" stroke="#f07a3a" stroke-width="3.0" stroke-linecap="butt" />
<line x1="1669.50" y1="2228.23" x2="1680.50" y2="2228.23" stroke="#f07a3a" stroke-width="3.0" stroke-linecap="butt" />
<line x1="1669.50" y1="2257.34" x2="1680.50" y2="2257.34" stroke="#f07a3a" stroke-width="3.0" stroke-linecap="butt" />
<path d="M1675.00,2234.22 L1682.15,2247.74 L1667.85,2247.74 Z" fill="#f07a3a" stroke="none" stroke-width="0" />
<polyline points="1415.50,2292.51 1467.40,2255.87 1519.30,2250.64 1623.10,2245.40 1675.00,2244.09" fill="none" stroke="#c8d41e" stroke-width="4.2" stroke-linejoin="round" stroke-linecap="round" />
<line x1="1415.50" y1="2277.16" x2="1415.50" y2="2307.86" stroke="#c8d41e" stroke-width="3.0" stroke-linecap="butt" />
<line x1="1410.00" y1="2277.16" x2="1421.00" y2="2277.16" stroke="#c8d41e" stroke-width="3.0" stroke-linecap="butt" />
<line x1="1410.00" y1="2307.86" x2="1421.00" y2="2307.86" stroke="#c8d41e" stroke-width="3.0" stroke-linecap="butt" />
<rect x="1409.50" y="2286.51" width="12" height="12" fill="#c8d41e"/>
<line x1="1467.40" y1="2241.31" x2="1467.40" y2="2270.43" stroke="#c8d41e" stroke-width="3.0" stroke-linecap="butt" />
<line x1="1461.90" y1="2241.31" x2="1472.90" y2="2241.31" stroke="#c8d41e" stroke-width="3.0" stroke-linecap="butt" />
<line x1="1461.90" y1="2270.43" x2="1472.90" y2="2270.43" stroke="#c8d41e" stroke-width="3.0" stroke-linecap="butt" />
<rect x="1461.40" y="2249.87" width="12" height="12" fill="#c8d41e"/>
<line x1="1519.30" y1="2236.08" x2="1519.30" y2="2265.19" stroke="#c8d41e" stroke-width="3.0" stroke-linecap="butt" />
<line x1="1513.80" y1="2236.08" x2="1524.80" y2="2236.08" stroke="#c8d41e" stroke-width="3.0" stroke-linecap="butt" />
<line x1="1513.80" y1="2265.19" x2="1524.80" y2="2265.19" stroke="#c8d41e" stroke-width="3.0" stroke-linecap="butt" />
<rect x="1513.30" y="2244.64" width="12" height="12" fill="#c8d41e"/>
<line x1="1623.10" y1="2230.84" x2="1623.10" y2="2259.96" stroke="#c8d41e" stroke-width="3.0" stroke-linecap="butt" />
<line x1="1617.60" y1="2230.84" x2="1628.60" y2="2230.84" stroke="#c8d41e" stroke-width="3.0" stroke-linecap="butt" />
<line x1="1617.60" y1="2259.96" x2="1628.60" y2="2259.96" stroke="#c8d41e" stroke-width="3.0" stroke-linecap="butt" />
<rect x="1617.10" y="2239.40" width="12" height="12" fill="#c8d41e"/>
<line x1="1675.00" y1="2229.53" x2="1675.00" y2="2258.65" stroke="#c8d41e" stroke-width="3.0" stroke-linecap="butt" />
<line x1="1669.50" y1="2229.53" x2="1680.50" y2="2229.53" stroke="#c8d41e" stroke-width="3.0" stroke-linecap="butt" />
<line x1="1669.50" y1="2258.65" x2="1680.50" y2="2258.65" stroke="#c8d41e" stroke-width="3.0" stroke-linecap="butt" />
<rect x="1669.00" y="2238.09" width="12" height="12" fill="#c8d41e"/>
<polyline points="1415.50,2292.51 1467.40,2261.10 1519.30,2248.02 1623.10,2245.40 1675.00,2242.78" fill="none" stroke="#2e9640" stroke-width="4.2" stroke-linejoin="round" stroke-linecap="round" />
<line x1="1415.50" y1="2277.16" x2="1415.50" y2="2307.86" stroke="#2e9640" stroke-width="3.0" stroke-linecap="butt" />
<line x1="1410.00" y1="2277.16" x2="1421.00" y2="2277.16" stroke="#2e9640" stroke-width="3.0" stroke-linecap="butt" />
<line x1="1410.00" y1="2307.86" x2="1421.00" y2="2307.86" stroke="#2e9640" stroke-width="3.0" stroke-linecap="butt" />
<path d="M1409.00,2292.51 L1415.50,2286.01 L1422.00,2292.51 L1415.50,2299.01 Z" fill="#2e9640" stroke="none" stroke-width="0" />
<line x1="1467.40" y1="2246.55" x2="1467.40" y2="2275.66" stroke="#2e9640" stroke-width="3.0" stroke-linecap="butt" />
<line x1="1461.90" y1="2246.55" x2="1472.90" y2="2246.55" stroke="#2e9640" stroke-width="3.0" stroke-linecap="butt" />
<line x1="1461.90" y1="2275.66" x2="1472.90" y2="2275.66" stroke="#2e9640" stroke-width="3.0" stroke-linecap="butt" />
<path d="M1460.90,2261.10 L1467.40,2254.60 L1473.90,2261.10 L1467.40,2267.60 Z" fill="#2e9640" stroke="none" stroke-width="0" />
<line x1="1519.30" y1="2233.46" x2="1519.30" y2="2262.58" stroke="#2e9640" stroke-width="3.0" stroke-linecap="butt" />
<line x1="1513.80" y1="2233.46" x2="1524.80" y2="2233.46" stroke="#2e9640" stroke-width="3.0" stroke-linecap="butt" />
<line x1="1513.80" y1="2262.58" x2="1524.80" y2="2262.58" stroke="#2e9640" stroke-width="3.0" stroke-linecap="butt" />
<path d="M1512.80,2248.02 L1519.30,2241.52 L1525.80,2248.02 L1519.30,2254.52 Z" fill="#2e9640" stroke="none" stroke-width="0" />
<line x1="1623.10" y1="2230.84" x2="1623.10" y2="2259.96" stroke="#2e9640" stroke-width="3.0" stroke-linecap="butt" />
<line x1="1617.60" y1="2230.84" x2="1628.60" y2="2230.84" stroke="#2e9640" stroke-width="3.0" stroke-linecap="butt" />
<line x1="1617.60" y1="2259.96" x2="1628.60" y2="2259.96" stroke="#2e9640" stroke-width="3.0" stroke-linecap="butt" />
<path d="M1616.60,2245.40 L1623.10,2238.90 L1629.60,2245.40 L1623.10,2251.90 Z" fill="#2e9640" stroke="none" stroke-width="0" />
<line x1="1675.00" y1="2228.23" x2="1675.00" y2="2257.34" stroke="#2e9640" stroke-width="3.0" stroke-linecap="butt" />
<line x1="1669.50" y1="2228.23" x2="1680.50" y2="2228.23" stroke="#2e9640" stroke-width="3.0" stroke-linecap="butt" />
<line x1="1669.50" y1="2257.34" x2="1680.50" y2="2257.34" stroke="#2e9640" stroke-width="3.0" stroke-linecap="butt" />
<path d="M1668.50,2242.78 L1675.00,2236.28 L1681.50,2242.78 L1675.00,2249.28 Z" fill="#2e9640" stroke="none" stroke-width="0" />
<polyline points="1415.50,2292.51 1467.40,2248.02 1519.30,2245.40 1623.10,2242.78 1675.00,2242.78" fill="none" stroke="#d2142a" stroke-width="4.2" stroke-linejoin="round" stroke-linecap="round" />
<line x1="1415.50" y1="2277.16" x2="1415.50" y2="2307.86" stroke="#d2142a" stroke-width="3.0" stroke-linecap="butt" />
<line x1="1410.00" y1="2277.16" x2="1421.00" y2="2277.16" stroke="#d2142a" stroke-width="3.0" stroke-linecap="butt" />
<line x1="1410.00" y1="2307.86" x2="1421.00" y2="2307.86" stroke="#d2142a" stroke-width="3.0" stroke-linecap="butt" />
<circle cx="1415.50" cy="2292.51" r="6.0" fill="#d2142a"/>
<line x1="1467.40" y1="2233.46" x2="1467.40" y2="2262.58" stroke="#d2142a" stroke-width="3.0" stroke-linecap="butt" />
<line x1="1461.90" y1="2233.46" x2="1472.90" y2="2233.46" stroke="#d2142a" stroke-width="3.0" stroke-linecap="butt" />
<line x1="1461.90" y1="2262.58" x2="1472.90" y2="2262.58" stroke="#d2142a" stroke-width="3.0" stroke-linecap="butt" />
<circle cx="1467.40" cy="2248.02" r="6.0" fill="#d2142a"/>
<line x1="1519.30" y1="2230.84" x2="1519.30" y2="2259.96" stroke="#d2142a" stroke-width="3.0" stroke-linecap="butt" />
<line x1="1513.80" y1="2230.84" x2="1524.80" y2="2230.84" stroke="#d2142a" stroke-width="3.0" stroke-linecap="butt" />
<line x1="1513.80" y1="2259.96" x2="1524.80" y2="2259.96" stroke="#d2142a" stroke-width="3.0" stroke-linecap="butt" />
<circle cx="1519.30" cy="2245.40" r="6.0" fill="#d2142a"/>
<line x1="1623.10" y1="2228.23" x2="1623.10" y2="2257.34" stroke="#d2142a" stroke-width="3.0" stroke-linecap="butt" />
<line x1="1617.60" y1="2228.23" x2="1628.60" y2="2228.23" stroke="#d2142a" stroke-width="3.0" stroke-linecap="butt" />
<line x1="1617.60" y1="2257.34" x2="1628.60" y2="2257.34" stroke="#d2142a" stroke-width="3.0" stroke-linecap="butt" />
<circle cx="1623.10" cy="2242.78" r="6.0" fill="#d2142a"/>
<line x1="1675.00" y1="2228.23" x2="1675.00" y2="2257.34" stroke="#d2142a" stroke-width="3.0" stroke-linecap="butt" />
<line x1="1669.50" y1="2228.23" x2="1680.50" y2="2228.23" stroke="#d2142a" stroke-width="3.0" stroke-linecap="butt" />
<line x1="1669.50" y1="2257.34" x2="1680.50" y2="2257.34" stroke="#d2142a" stroke-width="3.0" stroke-linecap="butt" />
<circle cx="1675.00" cy="2242.78" r="6.0" fill="#d2142a"/>
<polyline points="1415.50,2292.51 1467.40,2271.57 1519.30,2261.10 1623.10,2248.02 1675.00,2245.40" fill="none" stroke="#1e5aa0" stroke-width="4.2" stroke-linejoin="round" stroke-linecap="round" />
<line x1="1415.50" y1="2277.16" x2="1415.50" y2="2307.86" stroke="#1e5aa0" stroke-width="3.0" stroke-linecap="butt" />
<line x1="1410.00" y1="2277.16" x2="1421.00" y2="2277.16" stroke="#1e5aa0" stroke-width="3.0" stroke-linecap="butt" />
<line x1="1410.00" y1="2307.86" x2="1421.00" y2="2307.86" stroke="#1e5aa0" stroke-width="3.0" stroke-linecap="butt" />
<circle cx="1415.50" cy="2292.51" r="7.2" fill="#1e5aa0"/>
<line x1="1467.40" y1="2257.01" x2="1467.40" y2="2286.13" stroke="#1e5aa0" stroke-width="3.0" stroke-linecap="butt" />
<line x1="1461.90" y1="2257.01" x2="1472.90" y2="2257.01" stroke="#1e5aa0" stroke-width="3.0" stroke-linecap="butt" />
<line x1="1461.90" y1="2286.13" x2="1472.90" y2="2286.13" stroke="#1e5aa0" stroke-width="3.0" stroke-linecap="butt" />
<circle cx="1467.40" cy="2271.57" r="7.2" fill="#1e5aa0"/>
<line x1="1519.30" y1="2246.55" x2="1519.30" y2="2275.66" stroke="#1e5aa0" stroke-width="3.0" stroke-linecap="butt" />
<line x1="1513.80" y1="2246.55" x2="1524.80" y2="2246.55" stroke="#1e5aa0" stroke-width="3.0" stroke-linecap="butt" />
<line x1="1513.80" y1="2275.66" x2="1524.80" y2="2275.66" stroke="#1e5aa0" stroke-width="3.0" stroke-linecap="butt" />
<circle cx="1519.30" cy="2261.10" r="7.2" fill="#1e5aa0"/>
<line x1="1623.10" y1="2233.46" x2="1623.10" y2="2262.58" stroke="#1e5aa0" stroke-width="3.0" stroke-linecap="butt" />
<line x1="1617.60" y1="2233.46" x2="1628.60" y2="2233.46" stroke="#1e5aa0" stroke-width="3.0" stroke-linecap="butt" />
<line x1="1617.60" y1="2262.58" x2="1628.60" y2="2262.58" stroke="#1e5aa0" stroke-width="3.0" stroke-linecap="butt" />
<circle cx="1623.10" cy="2248.02" r="7.2" fill="#1e5aa0"/>
<line x1="1675.00" y1="2230.84" x2="1675.00" y2="2259.96" stroke="#1e5aa0" stroke-width="3.0" stroke-linecap="butt" />
<line x1="1669.50" y1="2230.84" x2="1680.50" y2="2230.84" stroke="#1e5aa0" stroke-width="3.0" stroke-linecap="butt" />
<line x1="1669.50" y1="2259.96" x2="1680.50" y2="2259.96" stroke="#1e5aa0" stroke-width="3.0" stroke-linecap="butt" />
<circle cx="1675.00" cy="2245.40" r="7.2" fill="#1e5aa0"/>
<line x1="1692.70" y1="2234.00" x2="1692.70" y2="2255.60" stroke="#000" stroke-width="3.2" stroke-linecap="butt" />
<text x="1695.47" y="2250.00" font-size="18.5" textLength="23.49" lengthAdjust="spacingAndGlyphs" fill="#000" stroke="#000" stroke-width="0.6">NS</text>
<path d="M1726,2241.9 L1738,2241.9 L1738,2294.2 L1726,2294.2" fill="none" stroke="#000" stroke-width="2.8" />
<text x="1741.80" y="2288.54" font-size="38" textLength="13.84" lengthAdjust="spacingAndGlyphs" fill="#000" stroke="#000" stroke-width="0.4">*</text>
</svg></body></html>
